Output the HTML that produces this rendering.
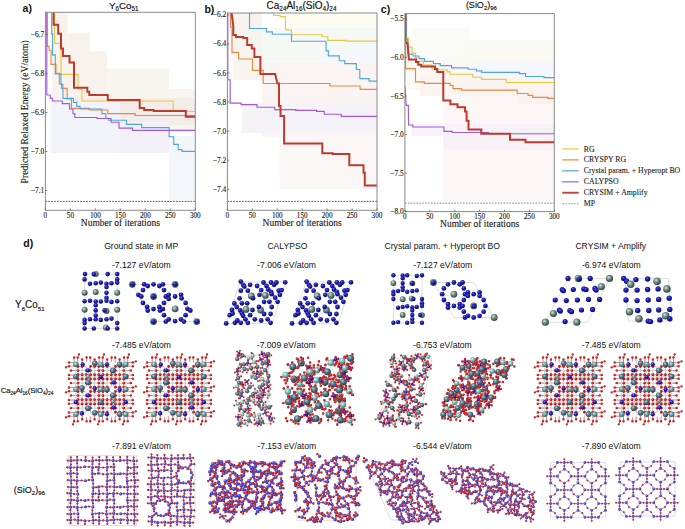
<!DOCTYPE html><html><head><meta charset="utf-8"><style>html,body{margin:0;padding:0;background:#fff;width:685px;height:529px;overflow:hidden;position:relative}</style></head><body><svg width="685" height="529" viewBox="0 0 685 529" style="position:absolute;left:0;top:0">
<rect width="685" height="529" fill="#fff"/>
<clipPath id="clipa"><rect x="45.4" y="12.3" width="149.90" height="198.00"/></clipPath>
<g clip-path="url(#clipa)">
<rect x="52" y="12.3" width="15.60" height="119.70" fill="#f7f3ec" fill-opacity="1"/>
<rect x="67.6" y="32.7" width="22.40" height="99.30" fill="#f7f3ec" fill-opacity="1"/>
<rect x="90" y="51.5" width="17.00" height="80.50" fill="#f7f3ec" fill-opacity="1"/>
<rect x="107" y="68.5" width="62.00" height="63.50" fill="#f8f4ee" fill-opacity="1"/>
<rect x="169" y="89" width="26.30" height="43.00" fill="#f8f4ee" fill-opacity="1"/>
<rect x="70" y="98" width="125.30" height="27.00" fill="#f4ece9" fill-opacity="1"/>
<rect x="50.6" y="102" width="69.40" height="51.00" fill="#f3f4fa" fill-opacity="1"/>
<rect x="120" y="121" width="49.00" height="32.00" fill="#f3eff7" fill-opacity="1"/>
<rect x="169" y="136" width="26.30" height="64.00" fill="#f3f7fc" fill-opacity="1"/>
<rect x="52" y="70" width="18.00" height="32.00" fill="#f9f2ee" fill-opacity="1"/>
<path d="M54.5,12.3 V43.4 H61 V74.3 H78 V89.1 H82 V101 H173.2 V111.5 H195.3" fill="none" stroke="#e8c743" stroke-width="1.15" stroke-linejoin="miter"/>
<path d="M47.2,12.3 V46.3 H49.1 V50.2 H51 V64.4 H55.9 V73.2 H59.3 V83.8 H61.5 V88.4 H67.2 V99 H71.4 V108.3 H89.3 V110 H107.8 V113.6 H135.1 V115.5 H195.3" fill="none" stroke="#e8893f" stroke-width="1.15" stroke-linejoin="miter"/>
<path d="M51.7,12.3 V33.8 H52.5 V54.8 H55.3 V73.9 H60.9 V84.5 H62.9 V98.4 H73.4 V102.3 H76.7 V106.3 H80 V109 H101.9 V113.6 H105.8 V118.2 H108.5 V120.2 H126.4 V124.3 H141.6 V127.6 H169.2 V136.7 H173.7 V144.3 H178.2 V149.6 H182 V151.4 H195.3" fill="none" stroke="#4fa6df" stroke-width="1.15" stroke-linejoin="miter"/>
<path d="M46.8,12.3 V95 H50.3 V98.4 H52.3 V101 H62.2 V103.6 H69.5 V109 H73 V113.6 H74.8 V117.5 H97.2 V118.5 H111.1 V122.2 H119 V128.1 H132.4 V130.4 H195.3" fill="none" stroke="#a259d3" stroke-width="1.15" stroke-linejoin="miter"/>
<path d="M53.6,12.3 V24.7 H58.2 V33.8 H61 V48.5 H63 V55.9 H69.5 V62.5 H74 V87.8 H87.3 V91.7 H89.3 V95 H107.8 V100 H139.7 V108 H144.2 V110 H153.6 V111 H185.8 V116.8 H195.3" fill="none" stroke="#bd3a2e" stroke-width="2" stroke-linejoin="miter"/>
<line x1="45.4" y1="201.4" x2="195.3" y2="201.4" stroke="#333" stroke-width="0.8" stroke-dasharray="1.8 1.1"/>
</g>
<rect x="45.4" y="12.3" width="149.90" height="198.00" fill="none" stroke="#8a8a8a" stroke-width="1"/>
<line x1="45.4" y1="34.6" x2="47.4" y2="34.6" stroke="#555" stroke-width="0.7"/>
<text x="44.20" y="37.10" text-anchor="end" font-family='"Liberation Serif", serif' font-size="7.4" fill="#1a1a1a" stroke="#1a1a1a" stroke-width="0.12">−6.7</text>
<line x1="45.4" y1="73.5" x2="47.4" y2="73.5" stroke="#555" stroke-width="0.7"/>
<text x="44.20" y="76.00" text-anchor="end" font-family='"Liberation Serif", serif' font-size="7.4" fill="#1a1a1a" stroke="#1a1a1a" stroke-width="0.12">−6.8</text>
<line x1="45.4" y1="112.5" x2="47.4" y2="112.5" stroke="#555" stroke-width="0.7"/>
<text x="44.20" y="115.00" text-anchor="end" font-family='"Liberation Serif", serif' font-size="7.4" fill="#1a1a1a" stroke="#1a1a1a" stroke-width="0.12">−6.9</text>
<line x1="45.4" y1="151.5" x2="47.4" y2="151.5" stroke="#555" stroke-width="0.7"/>
<text x="44.20" y="154.00" text-anchor="end" font-family='"Liberation Serif", serif' font-size="7.4" fill="#1a1a1a" stroke="#1a1a1a" stroke-width="0.12">−7.0</text>
<line x1="45.4" y1="190.5" x2="47.4" y2="190.5" stroke="#555" stroke-width="0.7"/>
<text x="44.20" y="193.00" text-anchor="end" font-family='"Liberation Serif", serif' font-size="7.4" fill="#1a1a1a" stroke="#1a1a1a" stroke-width="0.12">−7.1</text>
<line x1="45.40" y1="210.3" x2="45.40" y2="208.3" stroke="#555" stroke-width="0.7"/>
<text x="45.40" y="217.7" text-anchor="middle" font-family='"Liberation Serif", serif' font-size="7.2" fill="#1a1a1a" stroke="#1a1a1a" stroke-width="0.12">0</text>
<line x1="70.38" y1="210.3" x2="70.38" y2="208.3" stroke="#555" stroke-width="0.7"/>
<text x="70.38" y="217.7" text-anchor="middle" font-family='"Liberation Serif", serif' font-size="7.2" fill="#1a1a1a" stroke="#1a1a1a" stroke-width="0.12">50</text>
<line x1="95.37" y1="210.3" x2="95.37" y2="208.3" stroke="#555" stroke-width="0.7"/>
<text x="95.37" y="217.7" text-anchor="middle" font-family='"Liberation Serif", serif' font-size="7.2" fill="#1a1a1a" stroke="#1a1a1a" stroke-width="0.12">100</text>
<line x1="120.35" y1="210.3" x2="120.35" y2="208.3" stroke="#555" stroke-width="0.7"/>
<text x="120.35" y="217.7" text-anchor="middle" font-family='"Liberation Serif", serif' font-size="7.2" fill="#1a1a1a" stroke="#1a1a1a" stroke-width="0.12">150</text>
<line x1="145.33" y1="210.3" x2="145.33" y2="208.3" stroke="#555" stroke-width="0.7"/>
<text x="145.33" y="217.7" text-anchor="middle" font-family='"Liberation Serif", serif' font-size="7.2" fill="#1a1a1a" stroke="#1a1a1a" stroke-width="0.12">200</text>
<line x1="170.32" y1="210.3" x2="170.32" y2="208.3" stroke="#555" stroke-width="0.7"/>
<text x="170.32" y="217.7" text-anchor="middle" font-family='"Liberation Serif", serif' font-size="7.2" fill="#1a1a1a" stroke="#1a1a1a" stroke-width="0.12">250</text>
<line x1="195.30" y1="210.3" x2="195.30" y2="208.3" stroke="#555" stroke-width="0.7"/>
<text x="195.30" y="217.7" text-anchor="middle" font-family='"Liberation Serif", serif' font-size="7.2" fill="#1a1a1a" stroke="#1a1a1a" stroke-width="0.12">300</text>
<text x="120.35" y="225.8" text-anchor="middle" font-family='"Liberation Serif", serif' font-size="9.5" fill="#1a1a1a" stroke="#1a1a1a" stroke-width="0.12">Number of iterations</text>
<clipPath id="clipb"><rect x="227.4" y="13.0" width="149.60" height="197.30"/></clipPath>
<g clip-path="url(#clipb)">
<rect x="287" y="13" width="90.00" height="35.60" fill="#fcfcf0" fill-opacity="1"/>
<rect x="249.5" y="28" width="127.50" height="33.70" fill="#f5f9f6" fill-opacity="1"/>
<rect x="326" y="50" width="51.00" height="34.00" fill="#f4f7fc" fill-opacity="1"/>
<rect x="231" y="13" width="31.00" height="49.00" fill="#f7f3ef" fill-opacity="1"/>
<rect x="262" y="62" width="115.00" height="74.60" fill="#faf4f3" fill-opacity="1"/>
<rect x="242" y="103" width="135.00" height="30.00" fill="#f5f2f8" fill-opacity="1"/>
<rect x="279.5" y="136.6" width="97.50" height="52.40" fill="#fcf7f7" fill-opacity="1"/>
<rect x="232.6" y="50.5" width="29.40" height="29.50" fill="#faf4ef" fill-opacity="1"/>
<path d="M273.6,13 V15.3 H280.2 V16.6 H285.5 V29.8 H291.5 V34.7 H322.3 V36.7 H327.8 V40.3 H346.1 V41.1 H377" fill="none" stroke="#e8c743" stroke-width="1.15" stroke-linejoin="miter"/>
<path d="M230.6,13 V27.2 H232 V52.3 H238.6 V59 H252.5 V70.4 H263.2 V83.5 H330 V86 H360.1 V89.4 H377" fill="none" stroke="#e8893f" stroke-width="1.15" stroke-linejoin="miter"/>
<path d="M249.5,13 V28.5 H266.3 V31.8 H272.3 V34.2 H291.5 V41.2 H326.1 V50.8 H328.3 V55.9 H339.3 V60.7 H344.8 V63.6 H356.3 V69.5 H359.8 V78.6 H369.1 V81.1 H377" fill="none" stroke="#4fa6df" stroke-width="1.15" stroke-linejoin="miter"/>
<path d="M227.8,13 V79.7 H230.2 V103.1 H241.1 V104.6 H257 V107.2 H274.7 V109.6 H295.8 V110.4 H316.6 V111.3 H324.2 V114.2 H341.2 V116.4 H377" fill="none" stroke="#a259d3" stroke-width="1.15" stroke-linejoin="miter"/>
<path d="M231.6,13 L233.3,25.9 V35.1 H235.9 V37.1 H243.2 V38 H247.2 V45 H251.8 V48.4 H254.4 V57 H260.4 V73.9 H275.2 L277.4,83.4 H279 V105.9 H280.5 V116 H284.1 V143.5 H322.3 V153.3 H332.7 V154 H349.3 V165.2 H363.5 V172.8 H364.8 V185.6 H377" fill="none" stroke="#bd3a2e" stroke-width="2" stroke-linejoin="miter"/>
<line x1="227.4" y1="201.4" x2="377.0" y2="201.4" stroke="#333" stroke-width="0.8" stroke-dasharray="1.8 1.1"/>
</g>
<rect x="227.4" y="13.0" width="149.60" height="197.30" fill="none" stroke="#8a8a8a" stroke-width="1"/>
<line x1="227.4" y1="14.9" x2="229.4" y2="14.9" stroke="#555" stroke-width="0.7"/>
<text x="226.20" y="17.40" text-anchor="end" font-family='"Liberation Serif", serif' font-size="7.4" fill="#1a1a1a" stroke="#1a1a1a" stroke-width="0.12">−6.2</text>
<line x1="227.4" y1="43.95" x2="229.4" y2="43.95" stroke="#555" stroke-width="0.7"/>
<text x="226.20" y="46.45" text-anchor="end" font-family='"Liberation Serif", serif' font-size="7.4" fill="#1a1a1a" stroke="#1a1a1a" stroke-width="0.12">−6.4</text>
<line x1="227.4" y1="73.0" x2="229.4" y2="73.0" stroke="#555" stroke-width="0.7"/>
<text x="226.20" y="75.50" text-anchor="end" font-family='"Liberation Serif", serif' font-size="7.4" fill="#1a1a1a" stroke="#1a1a1a" stroke-width="0.12">−6.6</text>
<line x1="227.4" y1="102.05" x2="229.4" y2="102.05" stroke="#555" stroke-width="0.7"/>
<text x="226.20" y="104.55" text-anchor="end" font-family='"Liberation Serif", serif' font-size="7.4" fill="#1a1a1a" stroke="#1a1a1a" stroke-width="0.12">−6.8</text>
<line x1="227.4" y1="131.1" x2="229.4" y2="131.1" stroke="#555" stroke-width="0.7"/>
<text x="226.20" y="133.60" text-anchor="end" font-family='"Liberation Serif", serif' font-size="7.4" fill="#1a1a1a" stroke="#1a1a1a" stroke-width="0.12">−7.0</text>
<line x1="227.4" y1="160.15" x2="229.4" y2="160.15" stroke="#555" stroke-width="0.7"/>
<text x="226.20" y="162.65" text-anchor="end" font-family='"Liberation Serif", serif' font-size="7.4" fill="#1a1a1a" stroke="#1a1a1a" stroke-width="0.12">−7.2</text>
<line x1="227.4" y1="189.2" x2="229.4" y2="189.2" stroke="#555" stroke-width="0.7"/>
<text x="226.20" y="191.70" text-anchor="end" font-family='"Liberation Serif", serif' font-size="7.4" fill="#1a1a1a" stroke="#1a1a1a" stroke-width="0.12">−7.4</text>
<line x1="227.40" y1="210.3" x2="227.40" y2="208.3" stroke="#555" stroke-width="0.7"/>
<text x="227.40" y="217.7" text-anchor="middle" font-family='"Liberation Serif", serif' font-size="7.2" fill="#1a1a1a" stroke="#1a1a1a" stroke-width="0.12">0</text>
<line x1="252.33" y1="210.3" x2="252.33" y2="208.3" stroke="#555" stroke-width="0.7"/>
<text x="252.33" y="217.7" text-anchor="middle" font-family='"Liberation Serif", serif' font-size="7.2" fill="#1a1a1a" stroke="#1a1a1a" stroke-width="0.12">50</text>
<line x1="277.27" y1="210.3" x2="277.27" y2="208.3" stroke="#555" stroke-width="0.7"/>
<text x="277.27" y="217.7" text-anchor="middle" font-family='"Liberation Serif", serif' font-size="7.2" fill="#1a1a1a" stroke="#1a1a1a" stroke-width="0.12">100</text>
<line x1="302.20" y1="210.3" x2="302.20" y2="208.3" stroke="#555" stroke-width="0.7"/>
<text x="302.20" y="217.7" text-anchor="middle" font-family='"Liberation Serif", serif' font-size="7.2" fill="#1a1a1a" stroke="#1a1a1a" stroke-width="0.12">150</text>
<line x1="327.13" y1="210.3" x2="327.13" y2="208.3" stroke="#555" stroke-width="0.7"/>
<text x="327.13" y="217.7" text-anchor="middle" font-family='"Liberation Serif", serif' font-size="7.2" fill="#1a1a1a" stroke="#1a1a1a" stroke-width="0.12">200</text>
<line x1="352.07" y1="210.3" x2="352.07" y2="208.3" stroke="#555" stroke-width="0.7"/>
<text x="352.07" y="217.7" text-anchor="middle" font-family='"Liberation Serif", serif' font-size="7.2" fill="#1a1a1a" stroke="#1a1a1a" stroke-width="0.12">250</text>
<line x1="377.00" y1="210.3" x2="377.00" y2="208.3" stroke="#555" stroke-width="0.7"/>
<text x="377.00" y="217.7" text-anchor="middle" font-family='"Liberation Serif", serif' font-size="7.2" fill="#1a1a1a" stroke="#1a1a1a" stroke-width="0.12">300</text>
<text x="302.20" y="226.0" text-anchor="middle" font-family='"Liberation Serif", serif' font-size="9.5" fill="#1a1a1a" stroke="#1a1a1a" stroke-width="0.12">Number of iterations</text>
<clipPath id="clipc"><rect x="404.9" y="13.6" width="149.40" height="198.00"/></clipPath>
<g clip-path="url(#clipc)">
<rect x="404.9" y="40" width="149.40" height="50.00" fill="#faf9f4" fill-opacity="1"/>
<rect x="412" y="28" width="58.00" height="32.00" fill="#fafaf7" fill-opacity="1"/>
<rect x="443.5" y="63.8" width="110.80" height="137.20" fill="#fcf7f6" fill-opacity="1"/>
<rect x="472" y="62" width="82.30" height="14.00" fill="#f4f8fc" fill-opacity="1"/>
<rect x="411.5" y="124" width="32.00" height="12.00" fill="#f7f4f9" fill-opacity="1"/>
<rect x="443.5" y="124" width="110.80" height="26.00" fill="#f6f2f7" fill-opacity="1"/>
<rect x="420" y="75" width="134.30" height="21.00" fill="#faf5f0" fill-opacity="1"/>
<rect x="518" y="90" width="36.30" height="14.00" fill="#f9f2ee" fill-opacity="1"/>
<path d="M406.6,13.6 V38.1 H408.4 V47.1 H412.1 V53.4 H415.5 V57.4 H416.6 V61.3 H423.6 V65.1 H431.9 V68.9 H438 V69.7 H447.1 V71.9 H450.1 V74.2 H472.8 V77.2 H481.7 V79.4 H506.2 V82.5 H554.3" fill="none" stroke="#e8c743" stroke-width="1.15" stroke-linejoin="miter"/>
<path d="M405.6,13.6 V68.6 H415.5 V81.8 H424.3 V83.3 H450.1 V85.5 H453.1 V88.6 H461.4 V90.1 H517.2 V93.5 H528 V95.4 H532.7 V97.3 H547.8 V98.4 H554.3" fill="none" stroke="#e8893f" stroke-width="1.15" stroke-linejoin="miter"/>
<path d="M406.2,13.6 V39.2 H407.5 V41.5 H408 V54.2 H413 V56 H419 V58.6 H424.4 V61.3 H433.4 V63.6 H440.2 V65.6 H451.6 V67.9 H468.2 V69.2 H476.6 V70.8 H481.7 V72.3 H519.5 V73.6 H525.5 V76.5 H544 V77.6 H554.3" fill="none" stroke="#4fa6df" stroke-width="1.15" stroke-linejoin="miter"/>
<path d="M404.9,86.2 L406.2,105.3 H408.3 L408.6,125 H412.9 V127 H443.9 V131.4 H452.2 V132.5 H488.3 V133.7 H554.3" fill="none" stroke="#a259d3" stroke-width="1.15" stroke-linejoin="miter"/>
<path d="M405.3,13.6 V41.5 L407.5,43.7 L408.2,50.6 L408.9,59.6 H416 V62.1 H418.3 V64.7 H421.3 V66.6 H435 V68.9 H437.2 V71.9 H443.3 V100.4 H450.4 V104.2 H457.5 V107.2 H465 V111.6 H466.6 V120.8 H468.5 V129.6 H481.3 V133.7 H510 V139.8 H525.5 V142.2 H554.3" fill="none" stroke="#bd3a2e" stroke-width="2" stroke-linejoin="miter"/>
<line x1="404.9" y1="203.1" x2="554.3" y2="203.1" stroke="#777" stroke-width="0.8" stroke-dasharray="1.8 1.1"/>
</g>
<rect x="404.9" y="13.6" width="149.40" height="198.00" fill="none" stroke="#8a8a8a" stroke-width="1"/>
<line x1="404.9" y1="18.8" x2="406.9" y2="18.8" stroke="#555" stroke-width="0.7"/>
<text x="403.70" y="21.30" text-anchor="end" font-family='"Liberation Serif", serif' font-size="7.4" fill="#1a1a1a" stroke="#1a1a1a" stroke-width="0.12">−5.5</text>
<line x1="404.9" y1="57.3" x2="406.9" y2="57.3" stroke="#555" stroke-width="0.7"/>
<text x="403.70" y="59.80" text-anchor="end" font-family='"Liberation Serif", serif' font-size="7.4" fill="#1a1a1a" stroke="#1a1a1a" stroke-width="0.12">−6.0</text>
<line x1="404.9" y1="96.0" x2="406.9" y2="96.0" stroke="#555" stroke-width="0.7"/>
<text x="403.70" y="98.50" text-anchor="end" font-family='"Liberation Serif", serif' font-size="7.4" fill="#1a1a1a" stroke="#1a1a1a" stroke-width="0.12">−6.5</text>
<line x1="404.9" y1="134.6" x2="406.9" y2="134.6" stroke="#555" stroke-width="0.7"/>
<text x="403.70" y="137.10" text-anchor="end" font-family='"Liberation Serif", serif' font-size="7.4" fill="#1a1a1a" stroke="#1a1a1a" stroke-width="0.12">−7.0</text>
<line x1="404.9" y1="173.1" x2="406.9" y2="173.1" stroke="#555" stroke-width="0.7"/>
<text x="403.70" y="175.60" text-anchor="end" font-family='"Liberation Serif", serif' font-size="7.4" fill="#1a1a1a" stroke="#1a1a1a" stroke-width="0.12">−7.5</text>
<line x1="404.9" y1="211.6" x2="406.9" y2="211.6" stroke="#555" stroke-width="0.7"/>
<text x="403.70" y="214.10" text-anchor="end" font-family='"Liberation Serif", serif' font-size="7.4" fill="#1a1a1a" stroke="#1a1a1a" stroke-width="0.12">−8.0</text>
<line x1="404.90" y1="211.6" x2="404.90" y2="209.6" stroke="#555" stroke-width="0.7"/>
<text x="404.90" y="219.0" text-anchor="middle" font-family='"Liberation Serif", serif' font-size="7.2" fill="#1a1a1a" stroke="#1a1a1a" stroke-width="0.12">0</text>
<line x1="429.80" y1="211.6" x2="429.80" y2="209.6" stroke="#555" stroke-width="0.7"/>
<text x="429.80" y="219.0" text-anchor="middle" font-family='"Liberation Serif", serif' font-size="7.2" fill="#1a1a1a" stroke="#1a1a1a" stroke-width="0.12">50</text>
<line x1="454.70" y1="211.6" x2="454.70" y2="209.6" stroke="#555" stroke-width="0.7"/>
<text x="454.70" y="219.0" text-anchor="middle" font-family='"Liberation Serif", serif' font-size="7.2" fill="#1a1a1a" stroke="#1a1a1a" stroke-width="0.12">100</text>
<line x1="479.60" y1="211.6" x2="479.60" y2="209.6" stroke="#555" stroke-width="0.7"/>
<text x="479.60" y="219.0" text-anchor="middle" font-family='"Liberation Serif", serif' font-size="7.2" fill="#1a1a1a" stroke="#1a1a1a" stroke-width="0.12">150</text>
<line x1="504.50" y1="211.6" x2="504.50" y2="209.6" stroke="#555" stroke-width="0.7"/>
<text x="504.50" y="219.0" text-anchor="middle" font-family='"Liberation Serif", serif' font-size="7.2" fill="#1a1a1a" stroke="#1a1a1a" stroke-width="0.12">200</text>
<line x1="529.40" y1="211.6" x2="529.40" y2="209.6" stroke="#555" stroke-width="0.7"/>
<text x="529.40" y="219.0" text-anchor="middle" font-family='"Liberation Serif", serif' font-size="7.2" fill="#1a1a1a" stroke="#1a1a1a" stroke-width="0.12">250</text>
<line x1="554.30" y1="211.6" x2="554.30" y2="209.6" stroke="#555" stroke-width="0.7"/>
<text x="554.30" y="219.0" text-anchor="middle" font-family='"Liberation Serif", serif' font-size="7.2" fill="#1a1a1a" stroke="#1a1a1a" stroke-width="0.12">300</text>
<text x="479.60" y="227.3" text-anchor="middle" font-family='"Liberation Serif", serif' font-size="9.5" fill="#1a1a1a" stroke="#1a1a1a" stroke-width="0.12">Number of iterations</text>
<text x="123.7" y="8.7" text-anchor="middle" font-family='"Liberation Sans", sans-serif' font-size="9.8" fill="#111" stroke="#111" stroke-width="0.15"><tspan dy="0">Y</tspan><tspan font-size="6.3" dy="2.2">6</tspan><tspan dy="-2.2">Co</tspan><tspan font-size="6.3" dy="2.2">51</tspan></text>
<text x="301.5" y="8.6" text-anchor="middle" font-family='"Liberation Sans", sans-serif' font-size="10" fill="#111" stroke="#111" stroke-width="0.15"><tspan dy="0">Ca</tspan><tspan font-size="6.4" dy="2.2">24</tspan><tspan dy="-2.2">Al</tspan><tspan font-size="6.4" dy="2.2">16</tspan><tspan dy="-2.2">(SiO</tspan><tspan font-size="6.4" dy="2.2">4</tspan><tspan dy="-2.2">)</tspan><tspan font-size="6.4" dy="2.2">24</tspan></text>
<text x="481.4" y="7.9" text-anchor="middle" font-family='"Liberation Sans", sans-serif' font-size="9" fill="#111" stroke="#111" stroke-width="0.15"><tspan dy="0">(SiO</tspan><tspan font-size="6" dy="2.0">2</tspan><tspan dy="-2.0">)</tspan><tspan font-size="6" dy="2.0">96</tspan></text>
<text x="22.6" y="12.2" font-family='"Liberation Sans", sans-serif' font-weight="bold" font-size="10.6" fill="#111">a)</text>
<text x="204.4" y="12.6" font-family='"Liberation Sans", sans-serif' font-weight="bold" font-size="10.6" fill="#111">b)</text>
<text x="380.8" y="12.6" font-family='"Liberation Sans", sans-serif' font-weight="bold" font-size="10.6" fill="#111">c)</text>
<text x="23.3" y="246.6" font-family='"Liberation Sans", sans-serif' font-weight="bold" font-size="10.6" fill="#111">d)</text>
<text transform="translate(28.0,111.8) rotate(-90)" text-anchor="middle" font-family='"Liberation Serif", serif' font-size="9.7" fill="#1a1a1a" stroke="#1a1a1a" stroke-width="0.12">Predicted Relaxed Energy (eV/atom)</text>
<line x1="562.2" y1="148.90" x2="578.7" y2="148.90" stroke="#e8c743" stroke-width="1.6" stroke-opacity="0.75"/>
<text x="583.8" y="151.50" font-family='"Liberation Serif", serif' font-size="7.8" fill="#1a1a1a" stroke="#1a1a1a" stroke-width="0.1">RG</text>
<line x1="562.2" y1="159.86" x2="578.7" y2="159.86" stroke="#e8893f" stroke-width="1.6" stroke-opacity="0.75"/>
<text x="583.8" y="162.46" font-family='"Liberation Serif", serif' font-size="7.8" fill="#1a1a1a" stroke="#1a1a1a" stroke-width="0.1">CRYSPY RG</text>
<line x1="562.2" y1="170.82" x2="578.7" y2="170.82" stroke="#4fa6df" stroke-width="1.6" stroke-opacity="0.75"/>
<text x="583.8" y="173.42" font-family='"Liberation Serif", serif' font-size="7.8" fill="#1a1a1a" stroke="#1a1a1a" stroke-width="0.1">Crystal param. + Hyperopt BO</text>
<line x1="562.2" y1="181.78" x2="578.7" y2="181.78" stroke="#a259d3" stroke-width="1.6" stroke-opacity="0.75"/>
<text x="583.8" y="184.38" font-family='"Liberation Serif", serif' font-size="7.8" fill="#1a1a1a" stroke="#1a1a1a" stroke-width="0.1">CALYPSO</text>
<line x1="562.2" y1="192.74" x2="578.7" y2="192.74" stroke="#bd3a2e" stroke-width="1.9" stroke-opacity="0.95"/>
<text x="583.8" y="195.34" font-family='"Liberation Serif", serif' font-size="7.8" fill="#1a1a1a" stroke="#1a1a1a" stroke-width="0.1">CRYSIM + Amplify</text>
<line x1="562.2" y1="203.70" x2="578.7" y2="203.70" stroke="#888" stroke-width="0.8" stroke-dasharray="1.8 1.1"/>
<text x="583.8" y="206.30" font-family='"Liberation Serif", serif' font-size="7.8" fill="#1a1a1a" stroke="#1a1a1a" stroke-width="0.1">MP</text>
<text x="141.2" y="249.2" text-anchor="middle" font-family='"Liberation Sans", sans-serif' font-size="8.6" fill="#111">Ground state in MP</text>
<text x="287.4" y="249.2" text-anchor="middle" font-family='"Liberation Sans", sans-serif' font-size="8.6" fill="#111">CALYPSO</text>
<text x="442.2" y="249.2" text-anchor="middle" font-family='"Liberation Sans", sans-serif' font-size="8.6" fill="#111">Crystal param. + Hyperopt BO</text>
<text x="610.8" y="249.2" text-anchor="middle" font-family='"Liberation Sans", sans-serif' font-size="8.6" fill="#111">CRYSIM + Amplify</text>
<text x="141.3" y="268.0" text-anchor="middle" font-family='"Liberation Sans", sans-serif' font-size="8.6" fill="#111">-7.127 eV/atom</text>
<text x="286.5" y="268.0" text-anchor="middle" font-family='"Liberation Sans", sans-serif' font-size="8.6" fill="#111">-7.006 eV/atom</text>
<text x="442.7" y="268.0" text-anchor="middle" font-family='"Liberation Sans", sans-serif' font-size="8.6" fill="#111">-7.127 eV/atom</text>
<text x="611.3" y="268.0" text-anchor="middle" font-family='"Liberation Sans", sans-serif' font-size="8.6" fill="#111">-6.974 eV/atom</text>
<text x="141.5" y="348.0" text-anchor="middle" font-family='"Liberation Sans", sans-serif' font-size="8.6" fill="#111">-7.485 eV/atom</text>
<text x="286.2" y="348.0" text-anchor="middle" font-family='"Liberation Sans", sans-serif' font-size="8.6" fill="#111">-7.009 eV/atom</text>
<text x="442.4" y="348.0" text-anchor="middle" font-family='"Liberation Sans", sans-serif' font-size="8.6" fill="#111">-6.753 eV/atom</text>
<text x="611.2" y="348.0" text-anchor="middle" font-family='"Liberation Sans", sans-serif' font-size="8.6" fill="#111">-7.485 eV/atom</text>
<text x="141.5" y="448.5" text-anchor="middle" font-family='"Liberation Sans", sans-serif' font-size="8.6" fill="#111">-7.891 eV/atom</text>
<text x="286.7" y="448.5" text-anchor="middle" font-family='"Liberation Sans", sans-serif' font-size="8.6" fill="#111">-7.153 eV/atom</text>
<text x="442.4" y="448.5" text-anchor="middle" font-family='"Liberation Sans", sans-serif' font-size="8.6" fill="#111">-6.544 eV/atom</text>
<text x="611.2" y="448.5" text-anchor="middle" font-family='"Liberation Sans", sans-serif' font-size="8.6" fill="#111">-7.890 eV/atom</text>
<text x="15.0" y="308.4" text-anchor="start" font-family='"Liberation Sans", sans-serif' font-size="10" fill="#111" stroke="#111" stroke-width="0.15"><tspan dy="0">Y</tspan><tspan font-size="6" dy="2.2">6</tspan><tspan dy="-2.2">Co</tspan><tspan font-size="6" dy="2.2">51</tspan></text>
<text x="0.8" y="392.7" text-anchor="start" font-family='"Liberation Sans", sans-serif' font-size="7.6" fill="#111" stroke="#111" stroke-width="0.15"><tspan dy="0">Ca</tspan><tspan font-size="4.7" dy="1.8">24</tspan><tspan dy="-1.8">Al</tspan><tspan font-size="4.7" dy="1.8">16</tspan><tspan dy="-1.8">(SiO</tspan><tspan font-size="4.7" dy="1.8">4</tspan><tspan dy="-1.8">)</tspan><tspan font-size="4.7" dy="1.8">24</tspan></text>
<text x="13.8" y="493.0" text-anchor="start" font-family='"Liberation Sans", sans-serif' font-size="9" fill="#111" stroke="#111" stroke-width="0.15"><tspan dy="0">(SiO</tspan><tspan font-size="6" dy="2.0">2</tspan><tspan dy="-2.0">)</tspan><tspan font-size="6" dy="2.0">96</tspan></text>
<defs>
<radialGradient id="gB" cx="0.4" cy="0.33" r="0.68"><stop offset="0" stop-color="#6a6af0"/><stop offset="0.35" stop-color="#2222b8"/><stop offset="1" stop-color="#08085a"/></radialGradient>
<radialGradient id="gG" cx="0.38" cy="0.35" r="0.65"><stop offset="0" stop-color="#d6e4de"/><stop offset="0.4" stop-color="#78968c"/><stop offset="1" stop-color="#2c463e"/></radialGradient>
<radialGradient id="gR" cx="0.38" cy="0.35" r="0.65"><stop offset="0" stop-color="#ff9a9a"/><stop offset="0.4" stop-color="#d42a2a"/><stop offset="1" stop-color="#7a0808"/></radialGradient>
<radialGradient id="gS" cx="0.38" cy="0.35" r="0.65"><stop offset="0" stop-color="#a8a8ff"/><stop offset="0.4" stop-color="#4a54d8"/><stop offset="1" stop-color="#1c2288"/></radialGradient>
<radialGradient id="gT" cx="0.38" cy="0.35" r="0.65"><stop offset="0" stop-color="#e0ffff"/><stop offset="0.4" stop-color="#8cc8c8"/><stop offset="1" stop-color="#3c7c7c"/></radialGradient>
<radialGradient id="gT2" cx="0.38" cy="0.35" r="0.65"><stop offset="0" stop-color="#c8f0f0"/><stop offset="0.4" stop-color="#70aaaa"/><stop offset="1" stop-color="#2e6464"/></radialGradient>
<radialGradient id="gL" cx="0.38" cy="0.35" r="0.65"><stop offset="0" stop-color="#b8d0dc"/><stop offset="0.4" stop-color="#5a7e90"/><stop offset="1" stop-color="#24404e"/></radialGradient>
</defs>
<path d="M84.6,274.1 L117.2,274.1 L117.2,328.5 L84.6,328.5 Z" fill="none" stroke="#c8c8c8" stroke-width="0.6"/>
<path d="M132.3,284.3 L175.1,284.3 L196.7,321.6 L153.5,321.6 Z" fill="none" stroke="#c8c8c8" stroke-width="0.6"/>
<path d="M240.2,281.9 L285.7,281.9 L272.3,323.4 L226.2,323.4 Z" fill="none" stroke="#c8c8c8" stroke-width="0.6"/>
<path d="M306.0,281.9 L351.5,281.9 L338.1,323.4 L292.0,323.4 Z" fill="none" stroke="#c8c8c8" stroke-width="0.6"/>
<path d="M393.4,275.2 L422.0,275.2 L422.0,323.0 L393.4,323.0 Z" fill="none" stroke="#c8c8c8" stroke-width="0.6"/>
<path d="M433.4,282.5 L473.7,282.5 L494.2,317.5 L453.9,317.5 Z" fill="none" stroke="#c8c8c8" stroke-width="0.6"/>
<path d="M568.0,278.4 L610.1,278.4 L587.3,322.2 L545.3,322.2 Z" fill="none" stroke="#c8c8c8" stroke-width="0.6"/>
<path d="M624.9,278.4 L668.1,278.4 L672.2,321.1 L628.4,321.1 Z" fill="none" stroke="#c8c8c8" stroke-width="0.6"/>
<use href="#gG300" x="95.7" y="274.1"/>
<use href="#gG300" x="84.6" y="292.7"/>
<use href="#gG300" x="95.7" y="292.1"/>
<use href="#gG300" x="117.2" y="292.7"/>
<use href="#gG300" x="84.6" y="309.8"/>
<use href="#gG300" x="106.5" y="311.0"/>
<use href="#gG300" x="117.2" y="309.8"/>
<use href="#gG300" x="105.8" y="327.5"/>
<use href="#gB230" x="85.0" y="274.1"/>
<use href="#gB230" x="93.8" y="274.1"/>
<use href="#gB230" x="107.7" y="274.1"/>
<use href="#gB230" x="117.2" y="274.1"/>
<use href="#gB230" x="84.6" y="279.4"/>
<use href="#gB230" x="117.2" y="279.4"/>
<use href="#gB230" x="90.0" y="283.8"/>
<use href="#gB230" x="95.7" y="283.2"/>
<use href="#gB230" x="100.8" y="282.6"/>
<use href="#gB230" x="106.5" y="283.8"/>
<use href="#gB230" x="111.5" y="283.2"/>
<use href="#gB230" x="117.2" y="282.6"/>
<use href="#gB230" x="106.5" y="287.0"/>
<use href="#gB230" x="106.5" y="292.7"/>
<use href="#gB230" x="106.5" y="297.7"/>
<use href="#gB230" x="84.6" y="301.2"/>
<use href="#gB230" x="90.0" y="300.7"/>
<use href="#gB230" x="95.7" y="301.5"/>
<use href="#gB230" x="100.8" y="301.5"/>
<use href="#gB230" x="106.5" y="300.7"/>
<use href="#gB230" x="111.5" y="301.9"/>
<use href="#gB230" x="117.2" y="301.2"/>
<use href="#gB230" x="95.7" y="305.3"/>
<use href="#gB230" x="95.7" y="310.4"/>
<use href="#gB230" x="104.6" y="310.4"/>
<use href="#gB230" x="95.7" y="315.5"/>
<use href="#gB230" x="84.6" y="319.9"/>
<use href="#gB230" x="90.0" y="319.3"/>
<use href="#gB230" x="95.7" y="319.3"/>
<use href="#gB230" x="100.8" y="319.9"/>
<use href="#gB230" x="106.5" y="319.3"/>
<use href="#gB230" x="111.5" y="318.6"/>
<use href="#gB230" x="84.6" y="323.1"/>
<use href="#gB230" x="117.2" y="323.1"/>
<use href="#gB230" x="84.6" y="328.5"/>
<use href="#gB230" x="93.8" y="328.5"/>
<use href="#gB230" x="107.7" y="328.5"/>
<use href="#gB230" x="117.2" y="328.5"/>
<use href="#gG340" x="132.3" y="284.3"/>
<use href="#gG340" x="175.1" y="284.3"/>
<use href="#gG340" x="153.5" y="296.5"/>
<use href="#gG340" x="175.1" y="308.8"/>
<use href="#gG340" x="153.5" y="321.6"/>
<use href="#gG340" x="196.7" y="321.6"/>
<use href="#gB240" x="132.3" y="284.3"/>
<use href="#gB240" x="175.1" y="284.3"/>
<use href="#gB240" x="153.5" y="296.5"/>
<use href="#gB240" x="153.5" y="321.6"/>
<use href="#gB240" x="196.7" y="321.6"/>
<use href="#gB240" x="144.2" y="284.3"/>
<use href="#gB240" x="147.7" y="286.0"/>
<use href="#gB240" x="153.5" y="284.3"/>
<use href="#gB240" x="159.4" y="286.0"/>
<use href="#gB240" x="162.9" y="284.3"/>
<use href="#gB240" x="143.0" y="290.1"/>
<use href="#gB240" x="164.0" y="290.1"/>
<use href="#gB240" x="138.4" y="294.8"/>
<use href="#gB240" x="141.3" y="296.5"/>
<use href="#gB240" x="165.8" y="296.5"/>
<use href="#gB240" x="168.7" y="294.8"/>
<use href="#gB240" x="175.1" y="296.5"/>
<use href="#gB240" x="181.0" y="294.8"/>
<use href="#gB240" x="181.6" y="298.3"/>
<use href="#gB240" x="168.7" y="298.9"/>
<use href="#gB240" x="143.0" y="302.9"/>
<use href="#gB240" x="164.0" y="302.9"/>
<use href="#gB240" x="185.6" y="302.9"/>
<use href="#gB240" x="147.1" y="307.0"/>
<use href="#gB240" x="147.7" y="310.5"/>
<use href="#gB240" x="153.5" y="309.1"/>
<use href="#gB240" x="159.4" y="307.0"/>
<use href="#gB240" x="160.0" y="310.5"/>
<use href="#gB240" x="162.9" y="309.1"/>
<use href="#gB240" x="187.4" y="308.8"/>
<use href="#gB240" x="190.3" y="310.5"/>
<use href="#gB240" x="164.0" y="315.2"/>
<use href="#gB240" x="185.6" y="315.2"/>
<use href="#gB240" x="165.8" y="321.6"/>
<use href="#gB240" x="168.7" y="319.3"/>
<use href="#gB240" x="175.1" y="321.1"/>
<use href="#gB240" x="181.0" y="319.3"/>
<use href="#gB240" x="183.9" y="321.6"/>
<use href="#gG340" x="251.3" y="295.9"/>
<use href="#gG340" x="265.3" y="295.4"/>
<use href="#gG340" x="246.0" y="309.4"/>
<use href="#gG340" x="260.6" y="310.0"/>
<use href="#gB240" x="240.8" y="281.6"/>
<use href="#gB240" x="243.1" y="284.8"/>
<use href="#gB240" x="244.3" y="286.6"/>
<use href="#gB240" x="250.1" y="284.8"/>
<use href="#gB240" x="257.1" y="286.0"/>
<use href="#gB240" x="263.5" y="282.5"/>
<use href="#gB240" x="266.5" y="286.0"/>
<use href="#gB240" x="271.1" y="282.5"/>
<use href="#gB240" x="274.1" y="284.8"/>
<use href="#gB240" x="276.4" y="282.5"/>
<use href="#gB240" x="285.2" y="282.3"/>
<use href="#gB240" x="240.8" y="290.7"/>
<use href="#gB240" x="247.8" y="290.7"/>
<use href="#gB240" x="261.2" y="290.1"/>
<use href="#gB240" x="268.2" y="289.5"/>
<use href="#gB240" x="271.1" y="291.9"/>
<use href="#gB240" x="278.7" y="290.7"/>
<use href="#gB240" x="281.6" y="290.1"/>
<use href="#gB240" x="239.6" y="298.3"/>
<use href="#gB240" x="259.5" y="294.8"/>
<use href="#gB240" x="271.7" y="294.2"/>
<use href="#gB240" x="275.2" y="297.7"/>
<use href="#gB240" x="279.9" y="294.8"/>
<use href="#gB240" x="253.0" y="298.3"/>
<use href="#gB240" x="234.4" y="303.5"/>
<use href="#gB240" x="241.9" y="303.3"/>
<use href="#gB240" x="247.2" y="303.3"/>
<use href="#gB240" x="264.1" y="301.8"/>
<use href="#gB240" x="269.4" y="301.8"/>
<use href="#gB240" x="277.6" y="301.8"/>
<use href="#gB240" x="236.7" y="307.0"/>
<use href="#gB240" x="232.0" y="310.0"/>
<use href="#gB240" x="240.2" y="310.5"/>
<use href="#gB240" x="252.5" y="310.0"/>
<use href="#gB240" x="258.9" y="307.0"/>
<use href="#gB240" x="271.7" y="307.0"/>
<use href="#gB240" x="229.7" y="315.2"/>
<use href="#gB240" x="232.6" y="313.5"/>
<use href="#gB240" x="241.9" y="313.5"/>
<use href="#gB240" x="243.1" y="315.8"/>
<use href="#gB240" x="250.1" y="315.2"/>
<use href="#gB240" x="264.1" y="314.0"/>
<use href="#gB240" x="270.6" y="314.0"/>
<use href="#gB240" x="245.4" y="319.3"/>
<use href="#gB240" x="254.8" y="319.3"/>
<use href="#gB240" x="261.2" y="320.5"/>
<use href="#gB240" x="267.6" y="319.3"/>
<use href="#gB240" x="270.6" y="322.8"/>
<use href="#gB240" x="226.2" y="323.4"/>
<use href="#gB240" x="234.9" y="322.8"/>
<use href="#gB240" x="237.3" y="320.5"/>
<use href="#gB240" x="240.8" y="322.8"/>
<use href="#gB240" x="247.8" y="322.8"/>
<use href="#gG340" x="317.1" y="295.9"/>
<use href="#gG340" x="331.1" y="295.4"/>
<use href="#gG340" x="311.8" y="309.4"/>
<use href="#gG340" x="326.4" y="310.0"/>
<use href="#gB240" x="306.6" y="281.6"/>
<use href="#gB240" x="308.9" y="284.8"/>
<use href="#gB240" x="310.1" y="286.6"/>
<use href="#gB240" x="315.9" y="284.8"/>
<use href="#gB240" x="322.9" y="286.0"/>
<use href="#gB240" x="329.3" y="282.5"/>
<use href="#gB240" x="332.3" y="286.0"/>
<use href="#gB240" x="336.9" y="282.5"/>
<use href="#gB240" x="339.9" y="284.8"/>
<use href="#gB240" x="342.2" y="282.5"/>
<use href="#gB240" x="351.0" y="282.3"/>
<use href="#gB240" x="306.6" y="290.7"/>
<use href="#gB240" x="313.6" y="290.7"/>
<use href="#gB240" x="327.0" y="290.1"/>
<use href="#gB240" x="334.0" y="289.5"/>
<use href="#gB240" x="336.9" y="291.9"/>
<use href="#gB240" x="344.5" y="290.7"/>
<use href="#gB240" x="347.4" y="290.1"/>
<use href="#gB240" x="305.4" y="298.3"/>
<use href="#gB240" x="325.3" y="294.8"/>
<use href="#gB240" x="337.5" y="294.2"/>
<use href="#gB240" x="341.0" y="297.7"/>
<use href="#gB240" x="345.7" y="294.8"/>
<use href="#gB240" x="318.8" y="298.3"/>
<use href="#gB240" x="300.2" y="303.5"/>
<use href="#gB240" x="307.7" y="303.3"/>
<use href="#gB240" x="313.0" y="303.3"/>
<use href="#gB240" x="329.9" y="301.8"/>
<use href="#gB240" x="335.2" y="301.8"/>
<use href="#gB240" x="343.4" y="301.8"/>
<use href="#gB240" x="302.5" y="307.0"/>
<use href="#gB240" x="297.8" y="310.0"/>
<use href="#gB240" x="306.0" y="310.5"/>
<use href="#gB240" x="318.3" y="310.0"/>
<use href="#gB240" x="324.7" y="307.0"/>
<use href="#gB240" x="337.5" y="307.0"/>
<use href="#gB240" x="295.5" y="315.2"/>
<use href="#gB240" x="298.4" y="313.5"/>
<use href="#gB240" x="307.7" y="313.5"/>
<use href="#gB240" x="308.9" y="315.8"/>
<use href="#gB240" x="315.9" y="315.2"/>
<use href="#gB240" x="329.9" y="314.0"/>
<use href="#gB240" x="336.4" y="314.0"/>
<use href="#gB240" x="311.2" y="319.3"/>
<use href="#gB240" x="320.6" y="319.3"/>
<use href="#gB240" x="327.0" y="320.5"/>
<use href="#gB240" x="333.4" y="319.3"/>
<use href="#gB240" x="336.4" y="322.8"/>
<use href="#gB240" x="292.0" y="323.4"/>
<use href="#gB240" x="300.7" y="322.8"/>
<use href="#gB240" x="303.1" y="320.5"/>
<use href="#gB240" x="306.6" y="322.8"/>
<use href="#gB240" x="313.6" y="322.8"/>
<use href="#gG290" x="393.4" y="283.1"/>
<use href="#gG290" x="412.3" y="283.3"/>
<use href="#gG290" x="402.7" y="299.2"/>
<use href="#gG290" x="411.7" y="298.6"/>
<use href="#gG290" x="402.7" y="314.9"/>
<use href="#gG290" x="422.0" y="315.1"/>
<use href="#gB220" x="393.4" y="275.2"/>
<use href="#gB220" x="402.7" y="275.4"/>
<use href="#gB220" x="402.7" y="278.2"/>
<use href="#gB220" x="407.2" y="275.2"/>
<use href="#gB220" x="416.8" y="276.0"/>
<use href="#gB220" x="422.0" y="275.2"/>
<use href="#gB220" x="402.7" y="283.1"/>
<use href="#gB220" x="412.3" y="283.3"/>
<use href="#gB220" x="402.7" y="287.3"/>
<use href="#gB220" x="402.7" y="290.1"/>
<use href="#gB220" x="393.4" y="291.8"/>
<use href="#gB220" x="393.4" y="294.4"/>
<use href="#gB220" x="398.1" y="291.0"/>
<use href="#gB220" x="407.2" y="291.8"/>
<use href="#gB220" x="412.3" y="291.0"/>
<use href="#gB220" x="416.8" y="290.4"/>
<use href="#gB220" x="393.4" y="299.0"/>
<use href="#gB220" x="413.4" y="299.0"/>
<use href="#gB220" x="422.0" y="299.0"/>
<use href="#gB220" x="422.0" y="303.2"/>
<use href="#gB220" x="422.0" y="306.0"/>
<use href="#gB220" x="398.1" y="307.7"/>
<use href="#gB220" x="402.7" y="306.9"/>
<use href="#gB220" x="407.2" y="306.2"/>
<use href="#gB220" x="412.3" y="307.4"/>
<use href="#gB220" x="412.3" y="310.5"/>
<use href="#gB220" x="416.8" y="306.9"/>
<use href="#gB220" x="412.3" y="314.9"/>
<use href="#gB220" x="420.2" y="314.9"/>
<use href="#gB220" x="412.3" y="319.1"/>
<use href="#gB220" x="393.4" y="322.8"/>
<use href="#gB220" x="398.1" y="322.1"/>
<use href="#gB220" x="407.2" y="322.8"/>
<use href="#gB220" x="412.3" y="321.9"/>
<use href="#gB220" x="422.0" y="322.8"/>
<use href="#gG340" x="433.4" y="282.5"/>
<use href="#gG340" x="453.9" y="294.2"/>
<use href="#gG340" x="473.7" y="305.9"/>
<use href="#gG340" x="494.2" y="317.5"/>
<use href="#gB240" x="433.4" y="282.7"/>
<use href="#gB240" x="448.0" y="284.3"/>
<use href="#gB240" x="453.9" y="282.5"/>
<use href="#gB240" x="459.7" y="284.3"/>
<use href="#gB240" x="462.6" y="282.5"/>
<use href="#gB240" x="443.9" y="288.4"/>
<use href="#gB240" x="463.8" y="288.4"/>
<use href="#gB240" x="442.2" y="294.2"/>
<use href="#gB240" x="465.0" y="294.2"/>
<use href="#gB240" x="467.9" y="292.4"/>
<use href="#gB240" x="467.9" y="295.9"/>
<use href="#gB240" x="473.7" y="294.2"/>
<use href="#gB240" x="479.6" y="292.4"/>
<use href="#gB240" x="479.6" y="295.9"/>
<use href="#gB240" x="443.9" y="300.0"/>
<use href="#gB240" x="463.8" y="300.0"/>
<use href="#gB240" x="483.6" y="300.0"/>
<use href="#gB240" x="448.0" y="304.1"/>
<use href="#gB240" x="448.0" y="307.6"/>
<use href="#gB240" x="453.9" y="305.9"/>
<use href="#gB240" x="459.7" y="304.1"/>
<use href="#gB240" x="459.7" y="307.6"/>
<use href="#gB240" x="462.6" y="305.9"/>
<use href="#gB240" x="473.7" y="305.9"/>
<use href="#gB240" x="485.4" y="305.9"/>
<use href="#gB240" x="463.8" y="311.7"/>
<use href="#gB240" x="483.6" y="311.7"/>
<use href="#gB240" x="465.0" y="317.5"/>
<use href="#gB240" x="467.9" y="315.8"/>
<use href="#gB240" x="473.7" y="317.5"/>
<use href="#gB240" x="479.6" y="315.8"/>
<use href="#gG360" x="578.5" y="278.4"/>
<use href="#gG360" x="609.5" y="278.4"/>
<use href="#gG360" x="601.3" y="286.6"/>
<use href="#gG360" x="553.4" y="313.5"/>
<use href="#gG360" x="545.3" y="322.2"/>
<use href="#gG360" x="576.8" y="322.2"/>
<use href="#gB260" x="568.0" y="278.4"/>
<use href="#gB260" x="579.1" y="279.0"/>
<use href="#gB260" x="590.2" y="278.4"/>
<use href="#gB260" x="562.2" y="289.5"/>
<use href="#gB260" x="563.4" y="290.7"/>
<use href="#gB260" x="573.3" y="289.5"/>
<use href="#gB260" x="583.8" y="288.9"/>
<use href="#gB260" x="586.1" y="289.5"/>
<use href="#gB260" x="594.9" y="288.4"/>
<use href="#gB260" x="596.1" y="290.1"/>
<use href="#gB260" x="555.2" y="300.0"/>
<use href="#gB260" x="566.3" y="300.6"/>
<use href="#gB260" x="577.4" y="300.0"/>
<use href="#gB260" x="588.5" y="299.4"/>
<use href="#gB260" x="599.6" y="299.4"/>
<use href="#gB260" x="559.3" y="310.0"/>
<use href="#gB260" x="560.4" y="311.1"/>
<use href="#gB260" x="569.8" y="310.5"/>
<use href="#gB260" x="571.5" y="311.7"/>
<use href="#gB260" x="581.5" y="310.0"/>
<use href="#gB260" x="592.6" y="309.4"/>
<use href="#gB260" x="565.1" y="321.6"/>
<use href="#gB270" x="623.7" y="278.4"/>
<use href="#gB270" x="626.6" y="281.3"/>
<use href="#gB270" x="635.9" y="279.6"/>
<use href="#gG380" x="630.7" y="284.3"/>
<use href="#gG380" x="657.0" y="281.3"/>
<use href="#gG380" x="666.9" y="288.9"/>
<use href="#gG380" x="629.5" y="311.7"/>
<use href="#gG380" x="638.9" y="318.7"/>
<use href="#gG380" x="665.7" y="315.8"/>
<use href="#gB270" x="647.6" y="279.0"/>
<use href="#gB270" x="626.0" y="290.1"/>
<use href="#gB270" x="637.1" y="290.1"/>
<use href="#gB270" x="647.6" y="289.5"/>
<use href="#gB270" x="658.1" y="288.9"/>
<use href="#gB270" x="626.0" y="300.0"/>
<use href="#gB270" x="637.1" y="300.6"/>
<use href="#gB270" x="648.2" y="300.0"/>
<use href="#gB270" x="658.7" y="299.4"/>
<use href="#gB270" x="669.2" y="298.3"/>
<use href="#gB270" x="637.7" y="310.5"/>
<use href="#gB270" x="648.8" y="310.5"/>
<use href="#gB270" x="658.7" y="310.0"/>
<use href="#gB270" x="669.8" y="309.4"/>
<use href="#gB270" x="648.2" y="321.1"/>
<use href="#gB270" x="650.5" y="321.6"/>
<use href="#gB270" x="659.9" y="319.9"/>
<use href="#gB270" x="669.8" y="318.7"/>
<defs><radialGradient id="gN" cx="0.38" cy="0.35" r="0.65"><stop offset="0" stop-color="#8080ff"/><stop offset="0.4" stop-color="#2424c8"/><stop offset="1" stop-color="#0a0a70"/></radialGradient></defs>
<path d="M77.97,362.37V416.29M73.88,366.45H127.80M86.30,362.37V416.29M73.88,374.79H127.80M90.47,362.37V416.29M73.88,378.95H127.80M98.80,362.37V416.29M73.88,387.29H127.80M102.97,362.37V416.29M73.88,391.45H127.80M111.30,362.37V416.29M73.88,399.79H127.80M115.47,362.37V416.29M73.88,403.95H127.80M123.80,362.37V416.29M73.88,412.29H127.80" stroke="#d4a0a0" stroke-width="0.9" fill="none"/>
<path d="M75.88,361.37V417.29M72.88,364.37H128.80M82.13,361.37V417.29M72.88,370.62H128.80M88.38,361.37V417.29M72.88,376.87H128.80M94.63,361.37V417.29M72.88,383.12H128.80M100.88,361.37V417.29M72.88,389.37H128.80M107.13,361.37V417.29M72.88,395.62H128.80M113.38,361.37V417.29M72.88,401.87H128.80M119.63,361.37V417.29M72.88,408.12H128.80M125.88,361.37V417.29M72.88,414.37H128.80" stroke="#b4d2d6" stroke-width="0.9" fill="none"/>
<path d="M74.1 363.4l0-6M74.1 415.3l0 6M74.9 362.6l-6 0M126.8 362.6l6 0M77.7 363.4l0-6M77.7 415.3l0 6M74.9 366.2l-6 0M126.8 366.2l6 0M77.7 357.4l1.2-3M74.1 421.3l-1.2 3M68.9 366.2l-3 1.2M132.8 362.6l3-1.2M82.1 363.4l0-4M82.1 415.3l0 4M74.9 370.6l-4 0M126.8 370.6l4 0M86.6 363.4l0-6M86.6 415.3l0 6M74.9 375.1l-6 0M126.8 375.1l6 0M90.2 363.4l0-6M90.2 415.3l0 6M74.9 378.7l-6 0M126.8 378.7l6 0M94.6 363.4l0-4M94.6 415.3l0 4M74.9 383.1l-4 0M126.8 383.1l4 0M99.1 363.4l0-6M99.1 415.3l0 6M74.9 387.6l-6 0M126.8 387.6l6 0M102.7 363.4l0-6M102.7 415.3l0 6M74.9 391.2l-6 0M126.8 391.2l6 0M102.7 357.4l1.2-3M99.1 421.3l-1.2 3M68.9 391.2l-3 1.2M132.8 387.6l3-1.2M107.1 363.4l0-4M107.1 415.3l0 4M74.9 395.6l-4 0M126.8 395.6l4 0M111.6 363.4l0-6M111.6 415.3l0 6M74.9 400.1l-6 0M126.8 400.1l6 0M115.2 363.4l0-6M115.2 415.3l0 6M74.9 403.7l-6 0M126.8 403.7l6 0M119.6 363.4l0-4M119.6 415.3l0 4M74.9 408.1l-4 0M126.8 408.1l4 0M124.1 363.4l0-6M124.1 415.3l0 6M74.9 412.6l-6 0M126.8 412.6l6 0M127.7 363.4l0-6M127.7 415.3l0 6M74.9 416.2l-6 0M126.8 416.2l6 0M127.7 357.4l1.2-3M124.1 421.3l-1.2 3M68.9 416.2l-3 1.2M132.8 412.6l3-1.2" stroke="#c05050" stroke-width="0.7" fill="none" stroke-opacity="1"/>
<circle cx="88.0" cy="364.4" r="3.1" fill="#fdfdfd"/>
<circle cx="112.9" cy="364.4" r="3.1" fill="#fdfdfd"/>
<circle cx="88.0" cy="389.3" r="3.1" fill="#fdfdfd"/>
<circle cx="112.9" cy="389.3" r="3.1" fill="#fdfdfd"/>
<circle cx="88.0" cy="414.3" r="3.1" fill="#fdfdfd"/>
<circle cx="112.9" cy="414.3" r="3.1" fill="#fdfdfd"/>
<path d="M78 366.5h0M78 370.6h0M78 374.8h0M78 379h0M78 383.1h0M78 387.3h0M78 391.5h0M78 395.6h0M78 399.8h0M78 404h0M78 408.1h0M78 412.3h0M82.1 366.5h0M82.1 374.8h0M82.1 379h0M82.1 387.3h0M82.1 391.5h0M82.1 399.8h0M82.1 404h0M82.1 412.3h0M86.3 370.6h0M86.3 374.8h0M86.3 379h0M86.3 383.1h0M86.3 395.6h0M86.3 399.8h0M86.3 404h0M86.3 408.1h0M90.5 366.5h0M90.5 370.6h0M90.5 374.8h0M90.5 379h0M90.5 383.1h0M90.5 387.3h0M90.5 391.5h0M90.5 395.6h0M90.5 399.8h0M90.5 404h0M90.5 408.1h0M94.6 366.5h0M94.6 374.8h0M94.6 379h0M94.6 387.3h0M94.6 391.5h0M94.6 399.8h0M94.6 404h0M94.6 412.3h0M98.8 366.5h0M98.8 370.6h0M98.8 374.8h0M98.8 379h0M98.8 383.1h0M98.8 387.3h0M98.8 391.5h0M98.8 395.6h0M98.8 399.8h0M98.8 404h0M98.8 408.1h0M98.8 412.3h0M103 366.5h0M103 370.6h0M103 374.8h0M103 379h0M103 383.1h0M103 387.3h0M103 391.5h0M103 395.6h0M103 399.8h0M103 404h0M103 408.1h0M103 412.3h0M107.1 366.5h0M107.1 374.8h0M107.1 379h0M107.1 387.3h0M107.1 391.5h0M107.1 399.8h0M107.1 404h0M107.1 412.3h0M111.3 370.6h0M111.3 374.8h0M111.3 379h0M111.3 383.1h0M111.3 395.6h0M111.3 399.8h0M111.3 404h0M111.3 408.1h0M115.5 366.5h0M115.5 370.6h0M115.5 374.8h0M115.5 379h0M115.5 383.1h0M115.5 387.3h0M115.5 391.5h0M115.5 395.6h0M115.5 399.8h0M115.5 404h0M115.5 408.1h0M115.5 412.3h0M119.6 366.5h0M119.6 374.8h0M119.6 379h0M119.6 387.3h0M119.6 391.5h0M119.6 399.8h0M119.6 404h0M119.6 412.3h0M123.8 366.5h0M123.8 370.6h0M123.8 374.8h0M123.8 379h0M123.8 383.1h0M123.8 387.3h0M123.8 391.5h0M123.8 395.6h0M123.8 399.8h0M123.8 404h0M123.8 408.1h0M123.8 412.3h0" stroke="#c01818" stroke-width="2.90" stroke-linecap="round"/>
<path d="M77.5 366h0M77.5 370.2h0M77.5 374.3h0M77.5 378.5h0M77.5 382.7h0M77.5 386.8h0M77.5 391h0M77.5 395.2h0M77.5 399.3h0M77.5 403.5h0M77.5 407.7h0M77.5 411.8h0M81.7 366h0M81.7 374.3h0M81.7 378.5h0M81.7 386.8h0M81.7 391h0M81.7 399.3h0M81.7 403.5h0M81.7 411.8h0M85.8 370.2h0M85.8 374.3h0M85.8 378.5h0M85.8 382.7h0M85.8 395.2h0M85.8 399.3h0M85.8 403.5h0M85.8 407.7h0M90 366h0M90 370.2h0M90 374.3h0M90 378.5h0M90 382.7h0M90 386.8h0M90 391h0M90 395.2h0M90 399.3h0M90 403.5h0M90 407.7h0M94.2 366h0M94.2 374.3h0M94.2 378.5h0M94.2 386.8h0M94.2 391h0M94.2 399.3h0M94.2 403.5h0M94.2 411.8h0M98.3 366h0M98.3 370.2h0M98.3 374.3h0M98.3 378.5h0M98.3 382.7h0M98.3 386.8h0M98.3 391h0M98.3 395.2h0M98.3 399.3h0M98.3 403.5h0M98.3 407.7h0M98.3 411.8h0M102.5 366h0M102.5 370.2h0M102.5 374.3h0M102.5 378.5h0M102.5 382.7h0M102.5 386.8h0M102.5 391h0M102.5 395.2h0M102.5 399.3h0M102.5 403.5h0M102.5 407.7h0M102.5 411.8h0M106.7 366h0M106.7 374.3h0M106.7 378.5h0M106.7 386.8h0M106.7 391h0M106.7 399.3h0M106.7 403.5h0M106.7 411.8h0M110.8 370.2h0M110.8 374.3h0M110.8 378.5h0M110.8 382.7h0M110.8 395.2h0M110.8 399.3h0M110.8 403.5h0M110.8 407.7h0M115 366h0M115 370.2h0M115 374.3h0M115 378.5h0M115 382.7h0M115 386.8h0M115 391h0M115 395.2h0M115 399.3h0M115 403.5h0M115 407.7h0M115 411.8h0M119.2 366h0M119.2 374.3h0M119.2 378.5h0M119.2 386.8h0M119.2 391h0M119.2 399.3h0M119.2 403.5h0M119.2 411.8h0M123.3 366h0M123.3 370.2h0M123.3 374.3h0M123.3 378.5h0M123.3 382.7h0M123.3 386.8h0M123.3 391h0M123.3 395.2h0M123.3 399.3h0M123.3 403.5h0M123.3 407.7h0M123.3 411.8h0" stroke="#f07070" stroke-width="1.16" stroke-linecap="round" stroke-opacity="0.8"/>
<path d="M74.1 357.4h0M74.1 421.3h0M68.9 362.6h0M132.8 362.6h0M77.7 357.4h0M77.7 421.3h0M68.9 366.2h0M132.8 366.2h0M82.1 359.4h0M82.1 419.3h0M70.9 370.6h0M130.8 370.6h0M86.6 357.4h0M86.6 421.3h0M68.9 375.1h0M132.8 375.1h0M90.2 357.4h0M90.2 421.3h0M68.9 378.7h0M132.8 378.7h0M94.6 359.4h0M94.6 419.3h0M70.9 383.1h0M130.8 383.1h0M99.1 357.4h0M99.1 421.3h0M68.9 387.6h0M132.8 387.6h0M102.7 357.4h0M102.7 421.3h0M68.9 391.2h0M132.8 391.2h0M107.1 359.4h0M107.1 419.3h0M70.9 395.6h0M130.8 395.6h0M111.6 357.4h0M111.6 421.3h0M68.9 400.1h0M132.8 400.1h0M115.2 357.4h0M115.2 421.3h0M68.9 403.7h0M132.8 403.7h0M119.6 359.4h0M119.6 419.3h0M70.9 408.1h0M130.8 408.1h0M124.1 357.4h0M124.1 421.3h0M68.9 412.6h0M132.8 412.6h0M127.7 357.4h0M127.7 421.3h0M68.9 416.2h0M132.8 416.2h0" stroke="#c01818" stroke-width="2.50" stroke-linecap="round"/>
<path d="M73.7 357h0M73.7 420.9h0M68.5 362.2h0M132.4 362.2h0M77.3 357h0M77.3 420.9h0M68.5 365.8h0M132.4 365.8h0M81.7 359h0M81.7 418.9h0M70.5 370.2h0M130.4 370.2h0M86.2 357h0M86.2 420.9h0M68.5 374.7h0M132.4 374.7h0M89.8 357h0M89.8 420.9h0M68.5 378.3h0M132.4 378.3h0M94.2 359h0M94.2 418.9h0M70.5 382.7h0M130.4 382.7h0M98.7 357h0M98.7 420.9h0M68.5 387.2h0M132.4 387.2h0M102.3 357h0M102.3 420.9h0M68.5 390.8h0M132.4 390.8h0M106.7 359h0M106.7 418.9h0M70.5 395.2h0M130.4 395.2h0M111.2 357h0M111.2 420.9h0M68.5 399.7h0M132.4 399.7h0M114.8 357h0M114.8 420.9h0M68.5 403.3h0M132.4 403.3h0M119.2 359h0M119.2 418.9h0M70.5 407.7h0M130.4 407.7h0M123.7 357h0M123.7 420.9h0M68.5 412.2h0M132.4 412.2h0M127.3 357h0M127.3 420.9h0M68.5 415.8h0M132.4 415.8h0" stroke="#f07070" stroke-width="1.00" stroke-linecap="round" stroke-opacity="0.8"/>
<path d="M78.9 354.4h0M72.9 424.3h0M65.9 367.4h0M135.8 361.4h0M103.9 354.4h0M97.9 424.3h0M65.9 392.4h0M135.8 386.4h0M128.9 354.4h0M122.9 424.3h0M65.9 417.4h0M135.8 411.4h0" stroke="#c01818" stroke-width="2.30" stroke-linecap="round"/>
<path d="M78.5 354h0M72.5 423.9h0M65.5 367h0M135.4 361h0M103.5 354h0M97.5 423.9h0M65.5 392h0M135.4 386h0M128.5 354h0M122.5 423.9h0M65.5 417h0M135.4 411h0" stroke="#f07070" stroke-width="0.92" stroke-linecap="round" stroke-opacity="0.8"/>
<use href="#gT2270" x="75.9" y="364.4"/>
<use href="#gT2270" x="100.8" y="364.4"/>
<use href="#gT2270" x="125.8" y="364.4"/>
<use href="#gT2270" x="75.9" y="389.3"/>
<use href="#gT2270" x="100.8" y="389.3"/>
<use href="#gT2270" x="125.8" y="389.3"/>
<use href="#gT2270" x="75.9" y="414.3"/>
<use href="#gT2270" x="100.8" y="414.3"/>
<use href="#gT2270" x="125.8" y="414.3"/>
<use href="#gT2200" x="88.0" y="376.5"/>
<use href="#gT2200" x="112.9" y="401.4"/>
<use href="#gL280" x="94.8" y="363.3"/>
<use href="#gL280" x="119.7" y="364.4"/>
<use href="#gL280" x="112.9" y="370.4"/>
<use href="#gL280" x="75.9" y="376.5"/>
<use href="#gL280" x="125.8" y="376.5"/>
<use href="#gL280" x="88.0" y="382.5"/>
<use href="#gL280" x="81.9" y="388.1"/>
<use href="#gL280" x="106.9" y="389.6"/>
<use href="#gL280" x="112.9" y="395.4"/>
<use href="#gL280" x="100.8" y="402.2"/>
<use href="#gL280" x="88.0" y="408.2"/>
<use href="#gL280" x="94.8" y="412.8"/>
<use href="#gL280" x="119.7" y="414.3"/>
<use href="#gN215" x="82.7" y="364.4"/>
<use href="#gN215" x="106.9" y="364.4"/>
<use href="#gN215" x="88.0" y="370.4"/>
<use href="#gN215" x="100.8" y="377.2"/>
<use href="#gN215" x="113.7" y="382.5"/>
<use href="#gN215" x="94.8" y="388.6"/>
<use href="#gN215" x="119.7" y="389.6"/>
<use href="#gN215" x="88.0" y="395.4"/>
<use href="#gN215" x="75.9" y="402.2"/>
<use href="#gN215" x="125.8" y="402.2"/>
<use href="#gN215" x="113.7" y="407.5"/>
<use href="#gN215" x="81.9" y="413.5"/>
<use href="#gN215" x="106.9" y="414.3"/>
<path d="M156.08,362.37V416.29M152.00,366.45H205.92M164.42,362.37V416.29M152.00,374.79H205.92M168.58,362.37V416.29M152.00,378.95H205.92M176.92,362.37V416.29M152.00,387.29H205.92M181.08,362.37V416.29M152.00,391.45H205.92M189.42,362.37V416.29M152.00,399.79H205.92M193.58,362.37V416.29M152.00,403.95H205.92M201.92,362.37V416.29M152.00,412.29H205.92" stroke="#d4a0a0" stroke-width="0.9" fill="none"/>
<path d="M154.00,361.37V417.29M151.00,364.37H206.92M160.25,361.37V417.29M151.00,370.62H206.92M166.50,361.37V417.29M151.00,376.87H206.92M172.75,361.37V417.29M151.00,383.12H206.92M179.00,361.37V417.29M151.00,389.37H206.92M185.25,361.37V417.29M151.00,395.62H206.92M191.50,361.37V417.29M151.00,401.87H206.92M197.75,361.37V417.29M151.00,408.12H206.92M204.00,361.37V417.29M151.00,414.37H206.92" stroke="#b4d2d6" stroke-width="0.9" fill="none"/>
<path d="M152.2 363.4l0-6M152.2 415.3l0 6M153 362.6l-6 0M204.9 362.6l6 0M155.8 363.4l0-6M155.8 415.3l0 6M153 366.2l-6 0M204.9 366.2l6 0M155.8 357.4l1.2-3M152.2 421.3l-1.2 3M147 366.2l-3 1.2M210.9 362.6l3-1.2M160.2 363.4l0-4M160.2 415.3l0 4M153 370.6l-4 0M204.9 370.6l4 0M164.7 363.4l0-6M164.7 415.3l0 6M153 375.1l-6 0M204.9 375.1l6 0M168.3 363.4l0-6M168.3 415.3l0 6M153 378.7l-6 0M204.9 378.7l6 0M172.8 363.4l0-4M172.8 415.3l0 4M153 383.1l-4 0M204.9 383.1l4 0M177.2 363.4l0-6M177.2 415.3l0 6M153 387.6l-6 0M204.9 387.6l6 0M180.8 363.4l0-6M180.8 415.3l0 6M153 391.2l-6 0M204.9 391.2l6 0M180.8 357.4l1.2-3M177.2 421.3l-1.2 3M147 391.2l-3 1.2M210.9 387.6l3-1.2M185.2 363.4l0-4M185.2 415.3l0 4M153 395.6l-4 0M204.9 395.6l4 0M189.7 363.4l0-6M189.7 415.3l0 6M153 400.1l-6 0M204.9 400.1l6 0M193.3 363.4l0-6M193.3 415.3l0 6M153 403.7l-6 0M204.9 403.7l6 0M197.8 363.4l0-4M197.8 415.3l0 4M153 408.1l-4 0M204.9 408.1l4 0M202.2 363.4l0-6M202.2 415.3l0 6M153 412.6l-6 0M204.9 412.6l6 0M205.8 363.4l0-6M205.8 415.3l0 6M153 416.2l-6 0M204.9 416.2l6 0M205.8 357.4l1.2-3M202.2 421.3l-1.2 3M147 416.2l-3 1.2M210.9 412.6l3-1.2" stroke="#c05050" stroke-width="0.7" fill="none" stroke-opacity="1"/>
<circle cx="166.1" cy="364.4" r="3.1" fill="#fdfdfd"/>
<circle cx="191.1" cy="364.4" r="3.1" fill="#fdfdfd"/>
<circle cx="166.1" cy="389.3" r="3.1" fill="#fdfdfd"/>
<circle cx="191.1" cy="389.3" r="3.1" fill="#fdfdfd"/>
<circle cx="166.1" cy="414.3" r="3.1" fill="#fdfdfd"/>
<circle cx="191.1" cy="414.3" r="3.1" fill="#fdfdfd"/>
<path d="M156.1 366.5h0M156.1 370.6h0M156.1 374.8h0M156.1 379h0M156.1 383.1h0M156.1 387.3h0M156.1 391.5h0M156.1 395.6h0M156.1 399.8h0M156.1 404h0M156.1 408.1h0M156.1 412.3h0M160.2 366.5h0M160.2 374.8h0M160.2 379h0M160.2 387.3h0M160.2 391.5h0M160.2 399.8h0M160.2 404h0M160.2 412.3h0M164.4 370.6h0M164.4 374.8h0M164.4 379h0M164.4 383.1h0M164.4 395.6h0M164.4 399.8h0M164.4 404h0M164.4 408.1h0M168.6 366.5h0M168.6 370.6h0M168.6 374.8h0M168.6 379h0M168.6 383.1h0M168.6 387.3h0M168.6 391.5h0M168.6 395.6h0M168.6 399.8h0M168.6 404h0M168.6 408.1h0M172.8 366.5h0M172.8 374.8h0M172.8 379h0M172.8 387.3h0M172.8 391.5h0M172.8 399.8h0M172.8 404h0M172.8 412.3h0M176.9 366.5h0M176.9 370.6h0M176.9 374.8h0M176.9 379h0M176.9 383.1h0M176.9 387.3h0M176.9 391.5h0M176.9 395.6h0M176.9 399.8h0M176.9 404h0M176.9 408.1h0M176.9 412.3h0M181.1 366.5h0M181.1 370.6h0M181.1 374.8h0M181.1 379h0M181.1 383.1h0M181.1 387.3h0M181.1 391.5h0M181.1 395.6h0M181.1 399.8h0M181.1 404h0M181.1 408.1h0M181.1 412.3h0M185.2 366.5h0M185.2 374.8h0M185.2 379h0M185.2 387.3h0M185.2 391.5h0M185.2 399.8h0M185.2 404h0M185.2 412.3h0M189.4 370.6h0M189.4 374.8h0M189.4 379h0M189.4 383.1h0M189.4 395.6h0M189.4 399.8h0M189.4 404h0M189.4 408.1h0M193.6 366.5h0M193.6 370.6h0M193.6 374.8h0M193.6 379h0M193.6 383.1h0M193.6 387.3h0M193.6 391.5h0M193.6 395.6h0M193.6 399.8h0M193.6 404h0M193.6 408.1h0M193.6 412.3h0M197.8 366.5h0M197.8 374.8h0M197.8 379h0M197.8 387.3h0M197.8 391.5h0M197.8 399.8h0M197.8 404h0M197.8 412.3h0M201.9 366.5h0M201.9 370.6h0M201.9 374.8h0M201.9 379h0M201.9 383.1h0M201.9 387.3h0M201.9 391.5h0M201.9 395.6h0M201.9 399.8h0M201.9 404h0M201.9 408.1h0M201.9 412.3h0" stroke="#c01818" stroke-width="2.90" stroke-linecap="round"/>
<path d="M155.6 366h0M155.6 370.2h0M155.6 374.3h0M155.6 378.5h0M155.6 382.7h0M155.6 386.8h0M155.6 391h0M155.6 395.2h0M155.6 399.3h0M155.6 403.5h0M155.6 407.7h0M155.6 411.8h0M159.8 366h0M159.8 374.3h0M159.8 378.5h0M159.8 386.8h0M159.8 391h0M159.8 399.3h0M159.8 403.5h0M159.8 411.8h0M164 370.2h0M164 374.3h0M164 378.5h0M164 382.7h0M164 395.2h0M164 399.3h0M164 403.5h0M164 407.7h0M168.1 366h0M168.1 370.2h0M168.1 374.3h0M168.1 378.5h0M168.1 382.7h0M168.1 386.8h0M168.1 391h0M168.1 395.2h0M168.1 399.3h0M168.1 403.5h0M168.1 407.7h0M172.3 366h0M172.3 374.3h0M172.3 378.5h0M172.3 386.8h0M172.3 391h0M172.3 399.3h0M172.3 403.5h0M172.3 411.8h0M176.5 366h0M176.5 370.2h0M176.5 374.3h0M176.5 378.5h0M176.5 382.7h0M176.5 386.8h0M176.5 391h0M176.5 395.2h0M176.5 399.3h0M176.5 403.5h0M176.5 407.7h0M176.5 411.8h0M180.6 366h0M180.6 370.2h0M180.6 374.3h0M180.6 378.5h0M180.6 382.7h0M180.6 386.8h0M180.6 391h0M180.6 395.2h0M180.6 399.3h0M180.6 403.5h0M180.6 407.7h0M180.6 411.8h0M184.8 366h0M184.8 374.3h0M184.8 378.5h0M184.8 386.8h0M184.8 391h0M184.8 399.3h0M184.8 403.5h0M184.8 411.8h0M189 370.2h0M189 374.3h0M189 378.5h0M189 382.7h0M189 395.2h0M189 399.3h0M189 403.5h0M189 407.7h0M193.1 366h0M193.1 370.2h0M193.1 374.3h0M193.1 378.5h0M193.1 382.7h0M193.1 386.8h0M193.1 391h0M193.1 395.2h0M193.1 399.3h0M193.1 403.5h0M193.1 407.7h0M193.1 411.8h0M197.3 366h0M197.3 374.3h0M197.3 378.5h0M197.3 386.8h0M197.3 391h0M197.3 399.3h0M197.3 403.5h0M197.3 411.8h0M201.5 366h0M201.5 370.2h0M201.5 374.3h0M201.5 378.5h0M201.5 382.7h0M201.5 386.8h0M201.5 391h0M201.5 395.2h0M201.5 399.3h0M201.5 403.5h0M201.5 407.7h0M201.5 411.8h0" stroke="#f07070" stroke-width="1.16" stroke-linecap="round" stroke-opacity="0.8"/>
<path d="M152.2 357.4h0M152.2 421.3h0M147 362.6h0M210.9 362.6h0M155.8 357.4h0M155.8 421.3h0M147 366.2h0M210.9 366.2h0M160.2 359.4h0M160.2 419.3h0M149 370.6h0M208.9 370.6h0M164.7 357.4h0M164.7 421.3h0M147 375.1h0M210.9 375.1h0M168.3 357.4h0M168.3 421.3h0M147 378.7h0M210.9 378.7h0M172.8 359.4h0M172.8 419.3h0M149 383.1h0M208.9 383.1h0M177.2 357.4h0M177.2 421.3h0M147 387.6h0M210.9 387.6h0M180.8 357.4h0M180.8 421.3h0M147 391.2h0M210.9 391.2h0M185.2 359.4h0M185.2 419.3h0M149 395.6h0M208.9 395.6h0M189.7 357.4h0M189.7 421.3h0M147 400.1h0M210.9 400.1h0M193.3 357.4h0M193.3 421.3h0M147 403.7h0M210.9 403.7h0M197.8 359.4h0M197.8 419.3h0M149 408.1h0M208.9 408.1h0M202.2 357.4h0M202.2 421.3h0M147 412.6h0M210.9 412.6h0M205.8 357.4h0M205.8 421.3h0M147 416.2h0M210.9 416.2h0" stroke="#c01818" stroke-width="2.50" stroke-linecap="round"/>
<path d="M151.8 357h0M151.8 420.9h0M146.6 362.2h0M210.5 362.2h0M155.4 357h0M155.4 420.9h0M146.6 365.8h0M210.5 365.8h0M159.8 359h0M159.8 418.9h0M148.6 370.2h0M208.5 370.2h0M164.3 357h0M164.3 420.9h0M146.6 374.7h0M210.5 374.7h0M167.9 357h0M167.9 420.9h0M146.6 378.3h0M210.5 378.3h0M172.3 359h0M172.3 418.9h0M148.6 382.7h0M208.5 382.7h0M176.8 357h0M176.8 420.9h0M146.6 387.2h0M210.5 387.2h0M180.4 357h0M180.4 420.9h0M146.6 390.8h0M210.5 390.8h0M184.8 359h0M184.8 418.9h0M148.6 395.2h0M208.5 395.2h0M189.3 357h0M189.3 420.9h0M146.6 399.7h0M210.5 399.7h0M192.9 357h0M192.9 420.9h0M146.6 403.3h0M210.5 403.3h0M197.3 359h0M197.3 418.9h0M148.6 407.7h0M208.5 407.7h0M201.8 357h0M201.8 420.9h0M146.6 412.2h0M210.5 412.2h0M205.4 357h0M205.4 420.9h0M146.6 415.8h0M210.5 415.8h0" stroke="#f07070" stroke-width="1.00" stroke-linecap="round" stroke-opacity="0.8"/>
<path d="M157 354.4h0M151 424.3h0M144 367.4h0M213.9 361.4h0M182 354.4h0M176 424.3h0M144 392.4h0M213.9 386.4h0M207 354.4h0M201 424.3h0M144 417.4h0M213.9 411.4h0" stroke="#c01818" stroke-width="2.30" stroke-linecap="round"/>
<path d="M156.6 354h0M150.6 423.9h0M143.6 367h0M213.5 361h0M181.6 354h0M175.6 423.9h0M143.6 392h0M213.5 386h0M206.6 354h0M200.6 423.9h0M143.6 417h0M213.5 411h0" stroke="#f07070" stroke-width="0.92" stroke-linecap="round" stroke-opacity="0.8"/>
<use href="#gT2270" x="154.0" y="364.4"/>
<use href="#gT2270" x="179.0" y="364.4"/>
<use href="#gT2270" x="203.9" y="364.4"/>
<use href="#gT2270" x="154.0" y="389.3"/>
<use href="#gT2270" x="179.0" y="389.3"/>
<use href="#gT2270" x="203.9" y="389.3"/>
<use href="#gT2270" x="154.0" y="414.3"/>
<use href="#gT2270" x="179.0" y="414.3"/>
<use href="#gT2270" x="203.9" y="414.3"/>
<use href="#gT2200" x="166.1" y="376.5"/>
<use href="#gT2200" x="191.1" y="401.4"/>
<use href="#gL280" x="172.9" y="363.3"/>
<use href="#gL280" x="197.9" y="364.4"/>
<use href="#gL280" x="191.1" y="370.4"/>
<use href="#gL280" x="154.0" y="376.5"/>
<use href="#gL280" x="203.9" y="376.5"/>
<use href="#gL280" x="166.1" y="382.5"/>
<use href="#gL280" x="160.1" y="388.1"/>
<use href="#gL280" x="185.0" y="389.6"/>
<use href="#gL280" x="191.1" y="395.4"/>
<use href="#gL280" x="179.0" y="402.2"/>
<use href="#gL280" x="166.1" y="408.2"/>
<use href="#gL280" x="172.9" y="412.8"/>
<use href="#gL280" x="197.9" y="414.3"/>
<use href="#gN215" x="160.8" y="364.4"/>
<use href="#gN215" x="185.0" y="364.4"/>
<use href="#gN215" x="166.1" y="370.4"/>
<use href="#gN215" x="179.0" y="377.2"/>
<use href="#gN215" x="191.8" y="382.5"/>
<use href="#gN215" x="172.9" y="388.6"/>
<use href="#gN215" x="197.9" y="389.6"/>
<use href="#gN215" x="166.1" y="395.4"/>
<use href="#gN215" x="154.0" y="402.2"/>
<use href="#gN215" x="203.9" y="402.2"/>
<use href="#gN215" x="191.8" y="407.5"/>
<use href="#gN215" x="160.1" y="413.5"/>
<use href="#gN215" x="185.0" y="414.3"/>
<path d="M546.88,362.37V416.29M542.80,366.45H596.72M555.22,362.37V416.29M542.80,374.79H596.72M559.38,362.37V416.29M542.80,378.95H596.72M567.72,362.37V416.29M542.80,387.29H596.72M571.88,362.37V416.29M542.80,391.45H596.72M580.22,362.37V416.29M542.80,399.79H596.72M584.38,362.37V416.29M542.80,403.95H596.72M592.72,362.37V416.29M542.80,412.29H596.72" stroke="#d4a0a0" stroke-width="0.9" fill="none"/>
<path d="M544.80,361.37V417.29M541.80,364.37H597.72M551.05,361.37V417.29M541.80,370.62H597.72M557.30,361.37V417.29M541.80,376.87H597.72M563.55,361.37V417.29M541.80,383.12H597.72M569.80,361.37V417.29M541.80,389.37H597.72M576.05,361.37V417.29M541.80,395.62H597.72M582.30,361.37V417.29M541.80,401.87H597.72M588.55,361.37V417.29M541.80,408.12H597.72M594.80,361.37V417.29M541.80,414.37H597.72" stroke="#b4d2d6" stroke-width="0.9" fill="none"/>
<path d="M543 363.4l0-6M543 415.3l0 6M543.8 362.6l-6 0M595.7 362.6l6 0M546.6 363.4l0-6M546.6 415.3l0 6M543.8 366.2l-6 0M595.7 366.2l6 0M546.6 357.4l1.2-3M543 421.3l-1.2 3M537.8 366.2l-3 1.2M601.7 362.6l3-1.2M551 363.4l0-4M551 415.3l0 4M543.8 370.6l-4 0M595.7 370.6l4 0M555.5 363.4l0-6M555.5 415.3l0 6M543.8 375.1l-6 0M595.7 375.1l6 0M559.1 363.4l0-6M559.1 415.3l0 6M543.8 378.7l-6 0M595.7 378.7l6 0M563.5 363.4l0-4M563.5 415.3l0 4M543.8 383.1l-4 0M595.7 383.1l4 0M568 363.4l0-6M568 415.3l0 6M543.8 387.6l-6 0M595.7 387.6l6 0M571.6 363.4l0-6M571.6 415.3l0 6M543.8 391.2l-6 0M595.7 391.2l6 0M571.6 357.4l1.2-3M568 421.3l-1.2 3M537.8 391.2l-3 1.2M601.7 387.6l3-1.2M576 363.4l0-4M576 415.3l0 4M543.8 395.6l-4 0M595.7 395.6l4 0M580.5 363.4l0-6M580.5 415.3l0 6M543.8 400.1l-6 0M595.7 400.1l6 0M584.1 363.4l0-6M584.1 415.3l0 6M543.8 403.7l-6 0M595.7 403.7l6 0M588.5 363.4l0-4M588.5 415.3l0 4M543.8 408.1l-4 0M595.7 408.1l4 0M593 363.4l0-6M593 415.3l0 6M543.8 412.6l-6 0M595.7 412.6l6 0M596.6 363.4l0-6M596.6 415.3l0 6M543.8 416.2l-6 0M595.7 416.2l6 0M596.6 357.4l1.2-3M593 421.3l-1.2 3M537.8 416.2l-3 1.2M601.7 412.6l3-1.2" stroke="#c05050" stroke-width="0.7" fill="none" stroke-opacity="1"/>
<circle cx="556.9" cy="364.4" r="3.1" fill="#fdfdfd"/>
<circle cx="581.9" cy="364.4" r="3.1" fill="#fdfdfd"/>
<circle cx="556.9" cy="389.3" r="3.1" fill="#fdfdfd"/>
<circle cx="581.9" cy="389.3" r="3.1" fill="#fdfdfd"/>
<circle cx="556.9" cy="414.3" r="3.1" fill="#fdfdfd"/>
<circle cx="581.9" cy="414.3" r="3.1" fill="#fdfdfd"/>
<path d="M546.9 366.5h0M546.9 370.6h0M546.9 374.8h0M546.9 379h0M546.9 383.1h0M546.9 387.3h0M546.9 391.5h0M546.9 395.6h0M546.9 399.8h0M546.9 404h0M546.9 408.1h0M546.9 412.3h0M551 366.5h0M551 374.8h0M551 379h0M551 387.3h0M551 391.5h0M551 399.8h0M551 404h0M551 412.3h0M555.2 370.6h0M555.2 374.8h0M555.2 379h0M555.2 383.1h0M555.2 395.6h0M555.2 399.8h0M555.2 404h0M555.2 408.1h0M559.4 366.5h0M559.4 370.6h0M559.4 374.8h0M559.4 379h0M559.4 383.1h0M559.4 387.3h0M559.4 391.5h0M559.4 395.6h0M559.4 399.8h0M559.4 404h0M559.4 408.1h0M563.5 366.5h0M563.5 374.8h0M563.5 379h0M563.5 387.3h0M563.5 391.5h0M563.5 399.8h0M563.5 404h0M563.5 412.3h0M567.7 366.5h0M567.7 370.6h0M567.7 374.8h0M567.7 379h0M567.7 383.1h0M567.7 387.3h0M567.7 391.5h0M567.7 395.6h0M567.7 399.8h0M567.7 404h0M567.7 408.1h0M567.7 412.3h0M571.9 366.5h0M571.9 370.6h0M571.9 374.8h0M571.9 379h0M571.9 383.1h0M571.9 387.3h0M571.9 391.5h0M571.9 395.6h0M571.9 399.8h0M571.9 404h0M571.9 408.1h0M571.9 412.3h0M576 366.5h0M576 374.8h0M576 379h0M576 387.3h0M576 391.5h0M576 399.8h0M576 404h0M576 412.3h0M580.2 370.6h0M580.2 374.8h0M580.2 379h0M580.2 383.1h0M580.2 395.6h0M580.2 399.8h0M580.2 404h0M580.2 408.1h0M584.4 366.5h0M584.4 370.6h0M584.4 374.8h0M584.4 379h0M584.4 383.1h0M584.4 387.3h0M584.4 391.5h0M584.4 395.6h0M584.4 399.8h0M584.4 404h0M584.4 408.1h0M584.4 412.3h0M588.5 366.5h0M588.5 374.8h0M588.5 379h0M588.5 387.3h0M588.5 391.5h0M588.5 399.8h0M588.5 404h0M588.5 412.3h0M592.7 366.5h0M592.7 370.6h0M592.7 374.8h0M592.7 379h0M592.7 383.1h0M592.7 387.3h0M592.7 391.5h0M592.7 395.6h0M592.7 399.8h0M592.7 404h0M592.7 408.1h0M592.7 412.3h0" stroke="#c01818" stroke-width="2.90" stroke-linecap="round"/>
<path d="M546.4 366h0M546.4 370.2h0M546.4 374.3h0M546.4 378.5h0M546.4 382.7h0M546.4 386.8h0M546.4 391h0M546.4 395.2h0M546.4 399.3h0M546.4 403.5h0M546.4 407.7h0M546.4 411.8h0M550.6 366h0M550.6 374.3h0M550.6 378.5h0M550.6 386.8h0M550.6 391h0M550.6 399.3h0M550.6 403.5h0M550.6 411.8h0M554.8 370.2h0M554.8 374.3h0M554.8 378.5h0M554.8 382.7h0M554.8 395.2h0M554.8 399.3h0M554.8 403.5h0M554.8 407.7h0M558.9 366h0M558.9 370.2h0M558.9 374.3h0M558.9 378.5h0M558.9 382.7h0M558.9 386.8h0M558.9 391h0M558.9 395.2h0M558.9 399.3h0M558.9 403.5h0M558.9 407.7h0M563.1 366h0M563.1 374.3h0M563.1 378.5h0M563.1 386.8h0M563.1 391h0M563.1 399.3h0M563.1 403.5h0M563.1 411.8h0M567.3 366h0M567.3 370.2h0M567.3 374.3h0M567.3 378.5h0M567.3 382.7h0M567.3 386.8h0M567.3 391h0M567.3 395.2h0M567.3 399.3h0M567.3 403.5h0M567.3 407.7h0M567.3 411.8h0M571.4 366h0M571.4 370.2h0M571.4 374.3h0M571.4 378.5h0M571.4 382.7h0M571.4 386.8h0M571.4 391h0M571.4 395.2h0M571.4 399.3h0M571.4 403.5h0M571.4 407.7h0M571.4 411.8h0M575.6 366h0M575.6 374.3h0M575.6 378.5h0M575.6 386.8h0M575.6 391h0M575.6 399.3h0M575.6 403.5h0M575.6 411.8h0M579.8 370.2h0M579.8 374.3h0M579.8 378.5h0M579.8 382.7h0M579.8 395.2h0M579.8 399.3h0M579.8 403.5h0M579.8 407.7h0M583.9 366h0M583.9 370.2h0M583.9 374.3h0M583.9 378.5h0M583.9 382.7h0M583.9 386.8h0M583.9 391h0M583.9 395.2h0M583.9 399.3h0M583.9 403.5h0M583.9 407.7h0M583.9 411.8h0M588.1 366h0M588.1 374.3h0M588.1 378.5h0M588.1 386.8h0M588.1 391h0M588.1 399.3h0M588.1 403.5h0M588.1 411.8h0M592.3 366h0M592.3 370.2h0M592.3 374.3h0M592.3 378.5h0M592.3 382.7h0M592.3 386.8h0M592.3 391h0M592.3 395.2h0M592.3 399.3h0M592.3 403.5h0M592.3 407.7h0M592.3 411.8h0" stroke="#f07070" stroke-width="1.16" stroke-linecap="round" stroke-opacity="0.8"/>
<path d="M543 357.4h0M543 421.3h0M537.8 362.6h0M601.7 362.6h0M546.6 357.4h0M546.6 421.3h0M537.8 366.2h0M601.7 366.2h0M551 359.4h0M551 419.3h0M539.8 370.6h0M599.7 370.6h0M555.5 357.4h0M555.5 421.3h0M537.8 375.1h0M601.7 375.1h0M559.1 357.4h0M559.1 421.3h0M537.8 378.7h0M601.7 378.7h0M563.5 359.4h0M563.5 419.3h0M539.8 383.1h0M599.7 383.1h0M568 357.4h0M568 421.3h0M537.8 387.6h0M601.7 387.6h0M571.6 357.4h0M571.6 421.3h0M537.8 391.2h0M601.7 391.2h0M576 359.4h0M576 419.3h0M539.8 395.6h0M599.7 395.6h0M580.5 357.4h0M580.5 421.3h0M537.8 400.1h0M601.7 400.1h0M584.1 357.4h0M584.1 421.3h0M537.8 403.7h0M601.7 403.7h0M588.5 359.4h0M588.5 419.3h0M539.8 408.1h0M599.7 408.1h0M593 357.4h0M593 421.3h0M537.8 412.6h0M601.7 412.6h0M596.6 357.4h0M596.6 421.3h0M537.8 416.2h0M601.7 416.2h0" stroke="#c01818" stroke-width="2.50" stroke-linecap="round"/>
<path d="M542.6 357h0M542.6 420.9h0M537.4 362.2h0M601.3 362.2h0M546.2 357h0M546.2 420.9h0M537.4 365.8h0M601.3 365.8h0M550.6 359h0M550.6 418.9h0M539.4 370.2h0M599.3 370.2h0M555.1 357h0M555.1 420.9h0M537.4 374.7h0M601.3 374.7h0M558.7 357h0M558.7 420.9h0M537.4 378.3h0M601.3 378.3h0M563.1 359h0M563.1 418.9h0M539.4 382.7h0M599.3 382.7h0M567.6 357h0M567.6 420.9h0M537.4 387.2h0M601.3 387.2h0M571.2 357h0M571.2 420.9h0M537.4 390.8h0M601.3 390.8h0M575.6 359h0M575.6 418.9h0M539.4 395.2h0M599.3 395.2h0M580.1 357h0M580.1 420.9h0M537.4 399.7h0M601.3 399.7h0M583.7 357h0M583.7 420.9h0M537.4 403.3h0M601.3 403.3h0M588.1 359h0M588.1 418.9h0M539.4 407.7h0M599.3 407.7h0M592.6 357h0M592.6 420.9h0M537.4 412.2h0M601.3 412.2h0M596.2 357h0M596.2 420.9h0M537.4 415.8h0M601.3 415.8h0" stroke="#f07070" stroke-width="1.00" stroke-linecap="round" stroke-opacity="0.8"/>
<path d="M547.8 354.4h0M541.8 424.3h0M534.8 367.4h0M604.7 361.4h0M572.8 354.4h0M566.8 424.3h0M534.8 392.4h0M604.7 386.4h0M597.8 354.4h0M591.8 424.3h0M534.8 417.4h0M604.7 411.4h0" stroke="#c01818" stroke-width="2.30" stroke-linecap="round"/>
<path d="M547.4 354h0M541.4 423.9h0M534.4 367h0M604.3 361h0M572.4 354h0M566.4 423.9h0M534.4 392h0M604.3 386h0M597.4 354h0M591.4 423.9h0M534.4 417h0M604.3 411h0" stroke="#f07070" stroke-width="0.92" stroke-linecap="round" stroke-opacity="0.8"/>
<use href="#gT2270" x="544.8" y="364.4"/>
<use href="#gT2270" x="569.8" y="364.4"/>
<use href="#gT2270" x="594.7" y="364.4"/>
<use href="#gT2270" x="544.8" y="389.3"/>
<use href="#gT2270" x="569.8" y="389.3"/>
<use href="#gT2270" x="594.7" y="389.3"/>
<use href="#gT2270" x="544.8" y="414.3"/>
<use href="#gT2270" x="569.8" y="414.3"/>
<use href="#gT2270" x="594.7" y="414.3"/>
<use href="#gT2200" x="556.9" y="376.5"/>
<use href="#gT2200" x="581.9" y="401.4"/>
<use href="#gL280" x="563.7" y="363.3"/>
<use href="#gL280" x="588.7" y="364.4"/>
<use href="#gL280" x="581.9" y="370.4"/>
<use href="#gL280" x="544.8" y="376.5"/>
<use href="#gL280" x="594.7" y="376.5"/>
<use href="#gL280" x="556.9" y="382.5"/>
<use href="#gL280" x="550.9" y="388.1"/>
<use href="#gL280" x="575.8" y="389.6"/>
<use href="#gL280" x="581.9" y="395.4"/>
<use href="#gL280" x="569.8" y="402.2"/>
<use href="#gL280" x="556.9" y="408.2"/>
<use href="#gL280" x="563.7" y="412.8"/>
<use href="#gL280" x="588.7" y="414.3"/>
<use href="#gN215" x="551.6" y="364.4"/>
<use href="#gN215" x="575.8" y="364.4"/>
<use href="#gN215" x="556.9" y="370.4"/>
<use href="#gN215" x="569.8" y="377.2"/>
<use href="#gN215" x="582.6" y="382.5"/>
<use href="#gN215" x="563.7" y="388.6"/>
<use href="#gN215" x="588.7" y="389.6"/>
<use href="#gN215" x="556.9" y="395.4"/>
<use href="#gN215" x="544.8" y="402.2"/>
<use href="#gN215" x="594.7" y="402.2"/>
<use href="#gN215" x="582.6" y="407.5"/>
<use href="#gN215" x="550.9" y="413.5"/>
<use href="#gN215" x="575.8" y="414.3"/>
<path d="M623.78,362.37V416.29M619.70,366.45H673.62M632.12,362.37V416.29M619.70,374.79H673.62M636.28,362.37V416.29M619.70,378.95H673.62M644.62,362.37V416.29M619.70,387.29H673.62M648.78,362.37V416.29M619.70,391.45H673.62M657.12,362.37V416.29M619.70,399.79H673.62M661.28,362.37V416.29M619.70,403.95H673.62M669.62,362.37V416.29M619.70,412.29H673.62" stroke="#d4a0a0" stroke-width="0.9" fill="none"/>
<path d="M621.70,361.37V417.29M618.70,364.37H674.62M627.95,361.37V417.29M618.70,370.62H674.62M634.20,361.37V417.29M618.70,376.87H674.62M640.45,361.37V417.29M618.70,383.12H674.62M646.70,361.37V417.29M618.70,389.37H674.62M652.95,361.37V417.29M618.70,395.62H674.62M659.20,361.37V417.29M618.70,401.87H674.62M665.45,361.37V417.29M618.70,408.12H674.62M671.70,361.37V417.29M618.70,414.37H674.62" stroke="#b4d2d6" stroke-width="0.9" fill="none"/>
<path d="M619.9 363.4l0-6M619.9 415.3l0 6M620.7 362.6l-6 0M672.6 362.6l6 0M623.5 363.4l0-6M623.5 415.3l0 6M620.7 366.2l-6 0M672.6 366.2l6 0M623.5 357.4l1.2-3M619.9 421.3l-1.2 3M614.7 366.2l-3 1.2M678.6 362.6l3-1.2M627.9 363.4l0-4M627.9 415.3l0 4M620.7 370.6l-4 0M672.6 370.6l4 0M632.4 363.4l0-6M632.4 415.3l0 6M620.7 375.1l-6 0M672.6 375.1l6 0M636 363.4l0-6M636 415.3l0 6M620.7 378.7l-6 0M672.6 378.7l6 0M640.4 363.4l0-4M640.4 415.3l0 4M620.7 383.1l-4 0M672.6 383.1l4 0M644.9 363.4l0-6M644.9 415.3l0 6M620.7 387.6l-6 0M672.6 387.6l6 0M648.5 363.4l0-6M648.5 415.3l0 6M620.7 391.2l-6 0M672.6 391.2l6 0M648.5 357.4l1.2-3M644.9 421.3l-1.2 3M614.7 391.2l-3 1.2M678.6 387.6l3-1.2M652.9 363.4l0-4M652.9 415.3l0 4M620.7 395.6l-4 0M672.6 395.6l4 0M657.4 363.4l0-6M657.4 415.3l0 6M620.7 400.1l-6 0M672.6 400.1l6 0M661 363.4l0-6M661 415.3l0 6M620.7 403.7l-6 0M672.6 403.7l6 0M665.4 363.4l0-4M665.4 415.3l0 4M620.7 408.1l-4 0M672.6 408.1l4 0M669.9 363.4l0-6M669.9 415.3l0 6M620.7 412.6l-6 0M672.6 412.6l6 0M673.5 363.4l0-6M673.5 415.3l0 6M620.7 416.2l-6 0M672.6 416.2l6 0M673.5 357.4l1.2-3M669.9 421.3l-1.2 3M614.7 416.2l-3 1.2M678.6 412.6l3-1.2" stroke="#c05050" stroke-width="0.7" fill="none" stroke-opacity="1"/>
<circle cx="633.8" cy="364.4" r="3.1" fill="#fdfdfd"/>
<circle cx="658.8" cy="364.4" r="3.1" fill="#fdfdfd"/>
<circle cx="633.8" cy="389.3" r="3.1" fill="#fdfdfd"/>
<circle cx="658.8" cy="389.3" r="3.1" fill="#fdfdfd"/>
<circle cx="633.8" cy="414.3" r="3.1" fill="#fdfdfd"/>
<circle cx="658.8" cy="414.3" r="3.1" fill="#fdfdfd"/>
<path d="M623.8 366.5h0M623.8 370.6h0M623.8 374.8h0M623.8 379h0M623.8 383.1h0M623.8 387.3h0M623.8 391.5h0M623.8 395.6h0M623.8 399.8h0M623.8 404h0M623.8 408.1h0M623.8 412.3h0M627.9 366.5h0M627.9 374.8h0M627.9 379h0M627.9 387.3h0M627.9 391.5h0M627.9 399.8h0M627.9 404h0M627.9 412.3h0M632.1 370.6h0M632.1 374.8h0M632.1 379h0M632.1 383.1h0M632.1 395.6h0M632.1 399.8h0M632.1 404h0M632.1 408.1h0M636.3 366.5h0M636.3 370.6h0M636.3 374.8h0M636.3 379h0M636.3 383.1h0M636.3 387.3h0M636.3 391.5h0M636.3 395.6h0M636.3 399.8h0M636.3 404h0M636.3 408.1h0M640.4 366.5h0M640.4 374.8h0M640.4 379h0M640.4 387.3h0M640.4 391.5h0M640.4 399.8h0M640.4 404h0M640.4 412.3h0M644.6 366.5h0M644.6 370.6h0M644.6 374.8h0M644.6 379h0M644.6 383.1h0M644.6 387.3h0M644.6 391.5h0M644.6 395.6h0M644.6 399.8h0M644.6 404h0M644.6 408.1h0M644.6 412.3h0M648.8 366.5h0M648.8 370.6h0M648.8 374.8h0M648.8 379h0M648.8 383.1h0M648.8 387.3h0M648.8 391.5h0M648.8 395.6h0M648.8 399.8h0M648.8 404h0M648.8 408.1h0M648.8 412.3h0M652.9 366.5h0M652.9 374.8h0M652.9 379h0M652.9 387.3h0M652.9 391.5h0M652.9 399.8h0M652.9 404h0M652.9 412.3h0M657.1 370.6h0M657.1 374.8h0M657.1 379h0M657.1 383.1h0M657.1 395.6h0M657.1 399.8h0M657.1 404h0M657.1 408.1h0M661.3 366.5h0M661.3 370.6h0M661.3 374.8h0M661.3 379h0M661.3 383.1h0M661.3 387.3h0M661.3 391.5h0M661.3 395.6h0M661.3 399.8h0M661.3 404h0M661.3 408.1h0M661.3 412.3h0M665.4 366.5h0M665.4 374.8h0M665.4 379h0M665.4 387.3h0M665.4 391.5h0M665.4 399.8h0M665.4 404h0M665.4 412.3h0M669.6 366.5h0M669.6 370.6h0M669.6 374.8h0M669.6 379h0M669.6 383.1h0M669.6 387.3h0M669.6 391.5h0M669.6 395.6h0M669.6 399.8h0M669.6 404h0M669.6 408.1h0M669.6 412.3h0" stroke="#c01818" stroke-width="2.90" stroke-linecap="round"/>
<path d="M623.3 366h0M623.3 370.2h0M623.3 374.3h0M623.3 378.5h0M623.3 382.7h0M623.3 386.8h0M623.3 391h0M623.3 395.2h0M623.3 399.3h0M623.3 403.5h0M623.3 407.7h0M623.3 411.8h0M627.5 366h0M627.5 374.3h0M627.5 378.5h0M627.5 386.8h0M627.5 391h0M627.5 399.3h0M627.5 403.5h0M627.5 411.8h0M631.7 370.2h0M631.7 374.3h0M631.7 378.5h0M631.7 382.7h0M631.7 395.2h0M631.7 399.3h0M631.7 403.5h0M631.7 407.7h0M635.8 366h0M635.8 370.2h0M635.8 374.3h0M635.8 378.5h0M635.8 382.7h0M635.8 386.8h0M635.8 391h0M635.8 395.2h0M635.8 399.3h0M635.8 403.5h0M635.8 407.7h0M640 366h0M640 374.3h0M640 378.5h0M640 386.8h0M640 391h0M640 399.3h0M640 403.5h0M640 411.8h0M644.2 366h0M644.2 370.2h0M644.2 374.3h0M644.2 378.5h0M644.2 382.7h0M644.2 386.8h0M644.2 391h0M644.2 395.2h0M644.2 399.3h0M644.2 403.5h0M644.2 407.7h0M644.2 411.8h0M648.3 366h0M648.3 370.2h0M648.3 374.3h0M648.3 378.5h0M648.3 382.7h0M648.3 386.8h0M648.3 391h0M648.3 395.2h0M648.3 399.3h0M648.3 403.5h0M648.3 407.7h0M648.3 411.8h0M652.5 366h0M652.5 374.3h0M652.5 378.5h0M652.5 386.8h0M652.5 391h0M652.5 399.3h0M652.5 403.5h0M652.5 411.8h0M656.7 370.2h0M656.7 374.3h0M656.7 378.5h0M656.7 382.7h0M656.7 395.2h0M656.7 399.3h0M656.7 403.5h0M656.7 407.7h0M660.8 366h0M660.8 370.2h0M660.8 374.3h0M660.8 378.5h0M660.8 382.7h0M660.8 386.8h0M660.8 391h0M660.8 395.2h0M660.8 399.3h0M660.8 403.5h0M660.8 407.7h0M660.8 411.8h0M665 366h0M665 374.3h0M665 378.5h0M665 386.8h0M665 391h0M665 399.3h0M665 403.5h0M665 411.8h0M669.2 366h0M669.2 370.2h0M669.2 374.3h0M669.2 378.5h0M669.2 382.7h0M669.2 386.8h0M669.2 391h0M669.2 395.2h0M669.2 399.3h0M669.2 403.5h0M669.2 407.7h0M669.2 411.8h0" stroke="#f07070" stroke-width="1.16" stroke-linecap="round" stroke-opacity="0.8"/>
<path d="M619.9 357.4h0M619.9 421.3h0M614.7 362.6h0M678.6 362.6h0M623.5 357.4h0M623.5 421.3h0M614.7 366.2h0M678.6 366.2h0M627.9 359.4h0M627.9 419.3h0M616.7 370.6h0M676.6 370.6h0M632.4 357.4h0M632.4 421.3h0M614.7 375.1h0M678.6 375.1h0M636 357.4h0M636 421.3h0M614.7 378.7h0M678.6 378.7h0M640.4 359.4h0M640.4 419.3h0M616.7 383.1h0M676.6 383.1h0M644.9 357.4h0M644.9 421.3h0M614.7 387.6h0M678.6 387.6h0M648.5 357.4h0M648.5 421.3h0M614.7 391.2h0M678.6 391.2h0M652.9 359.4h0M652.9 419.3h0M616.7 395.6h0M676.6 395.6h0M657.4 357.4h0M657.4 421.3h0M614.7 400.1h0M678.6 400.1h0M661 357.4h0M661 421.3h0M614.7 403.7h0M678.6 403.7h0M665.4 359.4h0M665.4 419.3h0M616.7 408.1h0M676.6 408.1h0M669.9 357.4h0M669.9 421.3h0M614.7 412.6h0M678.6 412.6h0M673.5 357.4h0M673.5 421.3h0M614.7 416.2h0M678.6 416.2h0" stroke="#c01818" stroke-width="2.50" stroke-linecap="round"/>
<path d="M619.5 357h0M619.5 420.9h0M614.3 362.2h0M678.2 362.2h0M623.1 357h0M623.1 420.9h0M614.3 365.8h0M678.2 365.8h0M627.5 359h0M627.5 418.9h0M616.3 370.2h0M676.2 370.2h0M632 357h0M632 420.9h0M614.3 374.7h0M678.2 374.7h0M635.6 357h0M635.6 420.9h0M614.3 378.3h0M678.2 378.3h0M640 359h0M640 418.9h0M616.3 382.7h0M676.2 382.7h0M644.5 357h0M644.5 420.9h0M614.3 387.2h0M678.2 387.2h0M648.1 357h0M648.1 420.9h0M614.3 390.8h0M678.2 390.8h0M652.5 359h0M652.5 418.9h0M616.3 395.2h0M676.2 395.2h0M657 357h0M657 420.9h0M614.3 399.7h0M678.2 399.7h0M660.6 357h0M660.6 420.9h0M614.3 403.3h0M678.2 403.3h0M665 359h0M665 418.9h0M616.3 407.7h0M676.2 407.7h0M669.5 357h0M669.5 420.9h0M614.3 412.2h0M678.2 412.2h0M673.1 357h0M673.1 420.9h0M614.3 415.8h0M678.2 415.8h0" stroke="#f07070" stroke-width="1.00" stroke-linecap="round" stroke-opacity="0.8"/>
<path d="M624.7 354.4h0M618.7 424.3h0M611.7 367.4h0M681.6 361.4h0M649.7 354.4h0M643.7 424.3h0M611.7 392.4h0M681.6 386.4h0M674.7 354.4h0M668.7 424.3h0M611.7 417.4h0M681.6 411.4h0" stroke="#c01818" stroke-width="2.30" stroke-linecap="round"/>
<path d="M624.3 354h0M618.3 423.9h0M611.3 367h0M681.2 361h0M649.3 354h0M643.3 423.9h0M611.3 392h0M681.2 386h0M674.3 354h0M668.3 423.9h0M611.3 417h0M681.2 411h0" stroke="#f07070" stroke-width="0.92" stroke-linecap="round" stroke-opacity="0.8"/>
<use href="#gT2270" x="621.7" y="364.4"/>
<use href="#gT2270" x="646.7" y="364.4"/>
<use href="#gT2270" x="671.6" y="364.4"/>
<use href="#gT2270" x="621.7" y="389.3"/>
<use href="#gT2270" x="646.7" y="389.3"/>
<use href="#gT2270" x="671.6" y="389.3"/>
<use href="#gT2270" x="621.7" y="414.3"/>
<use href="#gT2270" x="646.7" y="414.3"/>
<use href="#gT2270" x="671.6" y="414.3"/>
<use href="#gT2200" x="633.8" y="376.5"/>
<use href="#gT2200" x="658.8" y="401.4"/>
<use href="#gL280" x="640.6" y="363.3"/>
<use href="#gL280" x="665.6" y="364.4"/>
<use href="#gL280" x="658.8" y="370.4"/>
<use href="#gL280" x="621.7" y="376.5"/>
<use href="#gL280" x="671.6" y="376.5"/>
<use href="#gL280" x="633.8" y="382.5"/>
<use href="#gL280" x="627.8" y="388.1"/>
<use href="#gL280" x="652.7" y="389.6"/>
<use href="#gL280" x="658.8" y="395.4"/>
<use href="#gL280" x="646.7" y="402.2"/>
<use href="#gL280" x="633.8" y="408.2"/>
<use href="#gL280" x="640.6" y="412.8"/>
<use href="#gL280" x="665.6" y="414.3"/>
<use href="#gN215" x="628.5" y="364.4"/>
<use href="#gN215" x="652.7" y="364.4"/>
<use href="#gN215" x="633.8" y="370.4"/>
<use href="#gN215" x="646.7" y="377.2"/>
<use href="#gN215" x="659.5" y="382.5"/>
<use href="#gN215" x="640.6" y="388.6"/>
<use href="#gN215" x="665.6" y="389.6"/>
<use href="#gN215" x="633.8" y="395.4"/>
<use href="#gN215" x="621.7" y="402.2"/>
<use href="#gN215" x="671.6" y="402.2"/>
<use href="#gN215" x="659.5" y="407.5"/>
<use href="#gN215" x="627.8" y="413.5"/>
<use href="#gN215" x="652.7" y="414.3"/>
<path d="M211.0,461.9 L281.5,461.9 L281.5,511.0 L211.0,511.0 Z" fill="none" stroke="#c8c8c8" stroke-width="0.6"/>
<path d="M250.8 483.8l-1-1M248.9 480.9l-0 .4M271.3 497.1l.4-.6M272.4 493.7l-.2 1.1M223.9 498.3l-.9 1M221 500.3l.5 0M251.8 467.7l-.2 .8M251.8 471.2l-.2-.9M228.9 507.5l-.6 1.4M228.2 511l-.3-.3M272.4 493.7l-.3-.4M273 490.2l-.6 1.4M266.8 474.8l-.8-.3M263.6 473.2l.9 .5M232.2 506.1l-.8 .1M228.9 507.5l.9-.6M217.4 464.1l0 1.4M215.4 467.1l1-.2M223.5 487.1l-.5-.1M219.9 486.3l1.3 .3M221.5 461.8l.1 1.1M223.8 464.6l-1-.3M246.5 494.8l-.6 1.3M245.2 498.3l.1-.4M235.7 495.9l.6 .1M239.4 495.9l-1.2 .1M241.4 485.4l1.3-.5M245 484.9l-.5-.3M235.7 495.9l-.9-.6M232 495.6l1-.4M223.9 498.3l.3-.7M227.4 496.9l-1.4-0M215.3 493.1l-.4 .6M211.6 493.4l1.5 .4M228.8 503l-.7 .1M225.2 504.4l1.1-.6M227.7 491.7l-.7 .5M224 492.5l1.1 .1M231.1 464.6l-.7-.6M228.7 461.6l.5 .9M272.4 493.7l1.3-.3M276.1 494.7l-.6-.8M212.8 510.1l.3-.8M215.4 507.2l-1 .7M268.2 470.1l.2 .6M270.6 473.1l-1-.9M247.1 491l-.1 .6M246.5 494.8l.2-1.3M266.8 488.1l.7-.9M269.7 485.5l-.7 .4M237.5 490l-.9-.5M233.8 489l1 .1M217.7 498.3l1-.1M221 500.3l-.7-1.1M279.9 504.2l-.7-.8M276.3 502.7l1.1-.1M247.1 491l.9-.8M248.5 487.3l.2 1M256 501.4l.2-1.1M256.8 497.6l-.3 .9M279.3 465.4l.7-.6M281.5 462.2l-.4 1M212.9 464.1l.9 1.1M215.4 467.1l-.3-.5M251.8 471.2l1 .6M255.8 471.1l-1 .6M236.7 475.6l.4 1.4M236.7 479.5l.4-.6M233.2 481.4l.8-.5M236.7 479.5l-1 .4M210 471.7l.4-.5M211.4 467.9l-.3 1.4M251.9 505.2l.8 .7M254.9 507.9l-.7-.7M251.8 467.7l.9 .1M255.5 466.2l-1 .9M260.6 463.1l.8-.4M264.6 463.6l-1.2-.6M254.2 462.4l.6 1.4M255.5 466.2l-.1-.5M263.7 490.6l1.1-.5M266.8 488.1l-.5 .8M240.8 466.3l-.7-.1M236.7 467l1.3-.4M266.8 474.8l1-.9M270.6 473.1l-.8-.1M211.4 467.9l-.1-1M212.9 464.1l-.8 .9M224.4 509.5l1 .3M228.2 511l-1-.5M211.4 467.9l.5 0M215.4 467.1l-1.5 .4M218.5 482.5l.4 .7M219.9 486.3l-.3-1.3M264 509l.8-.4M267.9 507.7l-1.2 .2M228.8 503l.6-.9M232.6 501.4l-1.3-.1M260 471.2l1.4 1.1M263.6 473.2l-.4 .1M216.6 502.3l.5-.6M217.7 498.3l-.1 1.4M277 471.4l-.6-.5M274.8 467.8l.4 1.3M250.8 483.8l-.9 1.2M248.5 487.3l.2-.6M260 471.2l-1 .5M255.8 471.1l1.1 .5M248.5 487.3l-1.3-.3M245 484.9l.4 1M263.7 490.6l.4 .6M267.3 492.9l-1.4-.5M232.2 506.1l1.6-.5M236.4 506.4l-.5-.7M216.9 476.5l-.8-1.2M215 472.6l.2 .7M215.3 493.1l-.2-1.6M215.5 488.9l-.3 .5M223.3 468.9l.6-.7M223.8 464.6l.4 1.4M243 489.5l.9 .2M247.1 491l-1.1-.5M242.2 504l-.8-1.2M238.7 501.4l1 .1M215.3 493.1l.5 .7M219.6 493.8l-1.6 .3M229.9 478.6l.6 .7M233.2 481.4l-1.1-.7M277.5 484.7l1.3 1.3M280.7 487.7l-.3-.2M237.1 484.1l1-0M241.4 485.4l-1.1-.7M264 509l-1.3 .1M259.8 507.5l.8 .9M228.8 503l.5 .8M228.9 507.5l.5-1.5M259.8 507.5l-.1 .8M257.7 511.4l.9-1.2M217.4 464.1l-1.2-.4M212.9 464.1l1.1-.4M269.1 464.3l-.7 .4M264.6 463.6l1.6 .8M223.9 473.3l-.5-1M223.3 468.9l-.2 1.3M243 489.5l-.8-.6M241.4 485.4l0 1.5M254.9 507.9l.2 .4M257.7 511.4l-1.3-1.3M241.2 479.8l-.9-.3M236.7 479.5l1.4-.1M277 471.4l1.5 1M281 473.4l-.5-.1M279.9 504.2l.4-1.6M280.4 499.7l.1 .7M237.1 484.1l.1-.6M236.7 479.5l.3 1.7M219.6 493.8l1-.8M224 492.5l-1.2-.2M232.2 506.1l-1.2-1M228.8 503l.5 .5M233 472.7l1.2 .4M236.7 475.6l-.7-1.1M267.9 507.7l.4-1.2M271.1 504.3l-1.2 .5M217.3 511.5l-.3-.7M215.4 507.2l.7 1.4M217.3 511.5l-1.3-.1M212.8 510.1l1 .5M240.8 466.3l1.1-.9M243.2 462.3l-.1 1.1M221.5 461.8l-1.4 .3M217.4 464.1l.7-.8M251.9 505.2l-.2-.8M249.2 501.3l1.2 1.2M248.2 508.8l-1.4 .5M243.7 510.3l.9-.2M227.4 496.9l.7 .2M232 495.6l-1.6 .9M232.2 506.1l0-1.2M232.6 501.4l-.2 1.2M225.2 504.4l.9 .2M228.9 507.5l-.9-1.3M273.7 463.1l-1 0M269.1 464.3l1.3-.5M237.1 484.1l-1.3-.3M233.2 481.4l.7 1M281.7 510.2l-1.7-.6M277.1 508.9l.7 .1M216.6 502.3l1.4-.8M221 500.3l-.8 .2M266.8 488.1l-.1 1.3M267.3 492.9l-.4-1.1M273.7 463.1l-.1 1.7M274.8 467.8l-.6-.7M219.6 493.8l.1 .6M217.7 498.3l1.1-1.7M248.6 464l.8 1.2M251.8 467.7l-.8-.6M255.5 466.2l-.1 1.7M255.8 471.1l-.2-.7M266.8 474.8l.3-1.6M268.2 470.1l-.3 .8M254.9 507.9l1.3 .1M259.8 507.5l-1.2 .3M253.5 476l.4 1.3M255.6 480.5l-.7-.9M253.5 476l-.1-1.2M251.8 471.2l.8 1.2M263.7 490.6l-.7-.7M261 486.4l.7 1.5M245.2 498.3l1.2 .8M249.2 501.3l-.8-.7M216.6 502.3l.2 .8M215.4 507.2l.9-1.6M243 489.5l.8-1.6M245 484.9l-.2 .8M210 471.7l1.4-.1M215 472.6l-1.1-.6M280.4 499.7l-1.1 1.1M276.3 502.7l.9-.4M223.9 473.3l1.4-.3M228.2 470.7l-.7 1M215.5 488.9l.8-.6M219.9 486.3l-1.4 .6M279.3 465.4l-1.5 .7M274.8 467.8l.8-.5M243.4 475.2l-.5 .6M241.2 479.8l.5-1.7M225.4 481.1l1.2-.4M229.9 478.6l-1 .9M224.4 509.5l.3-.8M225.2 504.4l-.1 1.7M267.9 507.7l.5 .5M271.3 511.5l-1.2-1.4M229.7 485.1l.3-.9M233.2 481.4l-1.5 .9M272.4 493.7l-1.4-.3M267.3 492.9l1.2 .1M251.9 505.2l-1.2 1.3M248.2 508.8l.7-.5M223.3 468.9l.7 .9M228.2 470.7l-1.7 0M233.3 512l-1.2-.2M228.2 511l1.4 .3M271.8 480.7l-.2 .9M269.7 485.5l.9-1.5M257.7 492.4l-1.7-.3M252.5 492.1l.9-.1M233 472.7l-1.7-.7M228.2 470.7l.7 .3M243.4 475.2l.5-1.2M244.7 470.1l-.2 1.3M251.8 467.7l.7 1M255.8 471.1l-1.3-.7M227.7 491.7l-.6 1.7M227.4 496.9l-.4-.9M257.7 492.4l-.6 1M256.8 497.6l-.2-1.6M263.8 496.9l.5-.8M267.3 492.9l-1.3 1.2M280.4 499.7l.7-.9M281.6 494.5l.1 1.6M261 486.4l-1.9-.2M255.7 486.2l.8-.1M212.2 484.7l.7 .7M215.5 488.9l-1-1.4M271.3 497.1l1.8-1.2M276.1 494.7l-.6 .1M277.5 484.7l1-.6M281.6 481.3l-1 1.2M250.8 483.8l1.8 .2M255.7 486.2l-.6-1M273 490.2l.7 1.4M276.1 494.7l-.8-.8M223.5 487.1l-.4 1M224 492.5l-.7-1.7M276.3 502.7l-.8-0M271.1 504.3l1.8-.8M271.8 480.7l.9-1.1M275.9 477.1l-1.2 .7M281.6 494.5l-1.5-.5M276.1 494.7l1.3-.5M240.8 466.3l.4 1.5M244.7 470.1l-1.5-.4M255.6 480.5l1.4-.5M260.2 477.4l-.8 1M265.9 481.4l.6 .7M269.7 485.5l-1.3-1.3M238.7 501.4l.2-1.7M239.4 495.9l-.1 1.1M260.2 477.4l.8-.5M263.6 473.2l-.9 1.6M256 501.4l-1.2 .7M251.9 505.2l.8-1.1M241.4 485.4l.5-1.2M241.2 479.8l.6 1.5M268.2 470.1l-1.7 .7M263.6 473.2l.6-.9M279.9 504.2l-.5 .7M277.1 508.9l.9-1.7M243 489.5l-1.6 .3M237.5 490l1.2 .1M236.4 506.4l1-1.2M238.7 501.4l-.1 1.4M215 472.6l.6-1.4M215.4 467.1l.4 1.3M262.7 502.7l-.9 1.6M259.8 507.5l.6-.8M247.1 491l1.2 .6M252.5 492.1l-1.5 .1M248.9 480.9l-1.3 .8M245 484.9l.6-1.2M227.4 496.9l-1.2-1M224 492.5l.5 1.2M229.7 485.1l.6 .6M233.8 489l-1.4-1.3M248.6 464l-1.7-.5M243.2 462.3l1 .4M215.3 493.1l.4 1.2M217.7 498.3l-.8-1.4M255.6 480.5l.6 1.6M255.7 486.2l.6-1.2M212.2 484.7l.1-1.7M210.8 479.1l.8 1M228.7 461.6l-1.4 .2M223.8 464.6l1.1-1.3M227.7 491.7l1.3 .8M232 495.6l-.8-1.1M277 471.4l-.5 .8M275.9 477.1l-0-2M232 495.6l-.2 1.2M232.6 501.4l-.5-1.7M250.8 483.8l1.1-.3M255.6 480.5l-1.3 1.3M273 490.2l-.6-1.5M269.7 485.5l1.1 .9M248.6 464l1.2-.8M254.2 462.4l-1.6-0M268.2 470.1l.7-1.6M269.1 464.3l.3 1.3M225.4 481.1l1.4 1.3M229.7 485.1l-.7-.7M225.2 504.4l-.6-1.6M221 500.3l1.5 .4M265.9 481.4l1.3-.3M271.8 480.7l-1.7 0M237.1 484.1l-.4 1.9M237.5 490l-.6-1M215 472.6l-1.1-.9M211.4 467.9l.7 1.5M263.8 496.9l-.3 .9M262.7 502.7l.3-2M260.6 463.1l-1.4 .5M255.5 466.2l1.2-1.1M273.7 463.1l.8 .1M279.3 465.4l-1.9-1M211.6 493.4l1.1-1.7M215.5 488.9l-.9 .6M261 486.4l1.2 .3M266.8 488.1l-1.7-.5M231.1 464.6l1.5 .2M236.7 467l-1.4-1M232.6 501.4l1.8-.3M238.7 501.4l-1.3-.3M257.7 492.4l1.8-.2M263.7 490.6l-1.2 .6M216.9 476.5l-0 1.1M218.5 482.5l-.8-1.9M235.7 495.9l.2-1.2M237.5 490l-.7 1.7M236.7 475.6l1 .9M241.2 479.8l-1.2-1.2M252.5 492.1l-.6-1.5M248.5 487.3l1.4 .9M242.2 504l-1.7 .4M236.4 506.4l1.2-.8M223.5 487.1l.7 .6M227.7 491.7l-1.4-1.7M245.2 498.3l-2-.4M239.4 495.9l.9 .7M281.7 510.2l-.4-1.1M279.9 504.2l.5 1.9M260 471.2l.6 1.3M260.2 477.4l.5-1.8M223.9 498.3l-.9-.6M219.6 493.8l1.3 1.6M271.3 511.5l1.1-.4M277.1 508.9l-1.8 .9M276.3 502.7l.4 2.1M277.1 508.9l0-1M223.5 487.1l.9-1.8M225.4 481.1l-0 1.2M275.9 477.1l1.4-1.4M281 473.4l-1.1 .4M264 509l-.4-1.7M262.7 502.7l.2 1.4M236.4 506.4l-1.3 1.2M233.3 512l.3-1.5M217.4 464.1l1.4 .1M223.8 464.6l-1.8-.1M277 471.4l.3-1.9M279.3 465.4l-.8 1.1M242.2 504l.6-1.5M245.2 498.3l-.9 1.4M260.6 463.1l-2 0M254.2 462.4l1.2 .4M229.9 478.6l-.4 1.1M229.7 485.1l-.3-2.1M281.6 481.3l-.4 1.5M280.7 487.7l0-1.7M242.2 504l-0 1.7M243.7 510.3l-.8-1.5M257.7 492.4l-.3-1.5M255.7 486.2l.8 1.6M216.6 502.3l-1.4-.4M210.1 502.9l1.9-.7M256 501.4l-.4 1.5M254.9 507.9l.2-1.8M246.5 494.8l1-.8M252.5 492.1l-2 .6M216.9 476.5l-2.1 .7M210.8 479.1l1-.7M270.6 473.1l1.4 1M275.9 477.1l-1.2-1M212.2 484.7l1.4-.8M218.5 482.5l-1.8 .3M233 472.7l-1.4 1.3M229.9 478.6l.2-1.7M243.4 475.2l-1.2 .2M236.7 475.6l2.1-0M265.9 481.4l-.1-1.5M266.8 474.8l-.5 1.9M264 509l-1.9 .6M257.7 511.4l1.2-.7M269.1 464.3l1.6 1.4M274.8 467.8l-1.3-.3M253.5 476l-1.3 1.3M248.9 480.9l1-1.1M231.1 464.6l-.2 1.9M228.2 470.7l1.3-1.2M253.5 476l1.8 .5M260.2 477.4l-1.5-.2M256 501.4l-1.8-.1M249.2 501.3l1.6-.1M215.4 507.2l-1.6-.7M210.1 502.9l1 1.5M277.5 484.7l1.1-.7M216.9 476.5l-1.4-.1M260.6 463.1l1.3-.2M281.7 510.2l.2 1.6M281.7 510.2l1.5 0M221.5 461.8l.1 1.5M221.5 461.8l-1.5-.5M248.6 464l.8-1.5M223.9 473.3l-.9 1.4M223.9 473.3l-.3-1.5M212.2 484.7l1.6-.4M246.5 494.8l-1.1-1M243.4 475.2l-1 1M271.3 497.1l-1.4-.3M271.3 497.1l-.6 1.2M233 472.7l.9 .9M231.1 464.6l1.3 .9M265.9 481.4l-1.5 .5M271.8 480.7l.9 1.4M210 471.7l-0 1.5M281.6 481.3l-.3-1.4M280.4 499.7l-.7 1.3M217.3 511.5l-1.4 .8M217.3 511.5l.8-1.4M223.3 468.9l-1.1 1.1M224.4 509.5l.5 1.2M224.4 509.5l1.6-.6M240.8 466.3l-.6-1.4M212.8 510.1l-1.3 1M281.6 494.5l-.3-1.3M281.6 494.5l-.4 1.6M211.6 493.4l-.6 1.1M233.3 512l-1.4 .2M233.3 512l.5-1.6M263.8 496.9l-1.2 1M235.7 495.9l-.5-1.4M261 486.4l.6 1.2M228.7 461.6l-1.3 .1M219.9 486.3l1.5 .2M271.1 504.3l-1-1M271.1 504.3l-1.4 .2M273.7 463.1l1.3 .4M243.2 462.3l1.2 .6M270.6 473.1l1.4-0M244.7 470.1l-1.4 .8M244.7 470.1l1.4 .5M262.7 502.7l-1-1M280.7 487.7l.8-1.4M280.7 487.7l1.3 .2M251.8 471.2l1.3 .7M239.4 495.9l-1.3-.1M271.3 511.5l1.3-.3M271.3 511.5l.6-1.5M210.8 479.1l-1.3 1M281.5 462.2l1.4-.4M281.5 462.2l-0 1.7M264.6 463.6l-1.2-.6M264.6 463.6l-1.1 1.1M281 473.4l-.9-1.1M248.2 508.8l1.2-.8M248.2 508.8l-.8 1.4M228.2 511l-.1-1.5M212.9 464.1l.6 1.2M257.7 511.4l-.9 1.2M233.8 489l-1.5-0M233.8 489l-1.6-.4M236.7 467l1-1M210.1 502.9l1.5-.1M243.7 510.3l-1.3 .9M243.7 510.3l-.2 1.6" stroke="#4c58d0" stroke-width="1.0" fill="none" stroke-opacity="1"/>
<path d="M249.8 482.8l-1-1l0-.4M271.7 496.5l.4-.6l.2-1.1M223 499.3l-.9 1l-.5-0M251.6 468.6l-.2 .8l.2 .9M228.2 508.9l-.6 1.4l.3 .3M272.1 493.3l-.3-.4l.6-1.4M266.1 474.4l-.8-.3l-.9-.5M231.4 506.2l-.8 .1l-.9 .6M217.4 465.4l0 1.4l-1 .2M223 487l-.5-.1l-1.3-.3M221.6 462.9l.1 1.1l1 .3M245.9 496.1l-.6 1.3l-.1 .4M236.3 496l.6 .1l1.2-.1M242.7 484.9l1.3-.5l.5 .3M234.8 495.3l-.9-.6l-1 .4M224.2 497.6l.3-.7l1.4 0M215 493.7l-.4 .6l-1.5-.4M228.1 503.1l-.7 .1l-1.1 .6M227 492.2l-.7 .5l-1.1-.1M230.4 463.9l-.7-.6l-.5-.9M273.7 493.4l1.3-.3l.6 .8M213.1 509.3l.3-.8l1-.7M268.3 470.7l.2 .6l1 .9M247 491.5l-.1 .6l-.2 1.3M267.5 487.1l.7-.9l.7-.4M236.6 489.6l-.9-.5l-1-.1M218.7 498.2l1-.1l.7 1.1M279.2 503.4l-.7-.8l-1.1 .1M248 490.2l.9-.8l-.2-1M256.2 500.4l.2-1.1l.3-.9M280 464.8l.7-.6l.4-1M213.8 465.2l.9 1.1l.3 .5M252.8 471.8l1 .6l1-.6M237.1 477l.4 1.4l-.4 .6M234 480.8l.8-.5l1-.4M210.5 471.2l.4-.5l.3-1.4M252.7 505.9l.8 .7l.7 .7M252.6 467.8l.9 .1l1-.9M261.4 462.7l.8-.4l1.2 .6M254.8 463.8l.6 1.4l.1 .5M264.7 490.1l1.1-.5l.5-.8M240.1 466.2l-.7-.1l-1.3 .4M267.9 473.8l1-.9l.8 .1M211.3 466.9l-.1-1l.8-.9M225.3 509.7l1 .3l1 .5M211.9 468l.5 0l1.5-.4M218.9 483.1l.4 .7l.3 1.3M264.7 508.5l.8-.4l1.2-.2M229.4 502.1l.6-.9l1.3 .1M261.4 472.2l1.4 1.1l.4-.1M217.1 501.7l.5-.6l.1-1.4M276.3 470.9l-.6-.5l-.4-1.3M249.9 485l-.9 1.2l-.2 .6M259 471.6l-1 .5l-1.1-.5M247.2 487.1l-1.3-.3l-.4-1M264.1 491.2l.4 .6l1.4 .5M233.8 505.6l1.6-.5l.5 .7M216.1 475.3l-.8-1.2l-.2-.7M215.2 491.5l-.2-1.6l.3-.5M223.9 468.2l.6-.7l-.4-1.4M243.9 489.7l.9 .2l1.1 .5M241.4 502.8l-.8-1.2l-1-.1M215.8 493.8l.5 .7l1.6-.3M230.5 479.3l.6 .7l1.1 .7M278.8 486.1l1.3 1.3l.3 .2M238.2 484.1l1-0l1.1 .7M262.7 509.1l-1.3 .1l-.8-.9M229.3 503.8l.5 .8l-.5 1.5M259.7 508.3l-.1 .8l-.9 1.2M216.2 463.7l-1.2-.4l-1.1 .4M268.4 464.7l-.7 .4l-1.6-.8M223.4 472.4l-.5-1l.2-1.3M242.2 489l-.8-.6l-0-1.5M255 508.3l.2 .4l1.3 1.3M240.4 479.5l-.9-.3l-1.4 .1M278.5 472.4l1.5 1l.5 .1M280.3 502.6l.4-1.6l-.1-.7M237.3 483.5l.1-.6l-.3-1.7M220.6 493l1-.8l1.2 .2M231 505.1l-1.2-1l-.5-.5M234.2 473.1l1.2 .4l.7 1.1M268.3 506.5l.4-1.2l1.2-.5M217 510.7l-.3-.7l-.7-1.4M216 511.3l-1.3-.1l-1-.5M241.8 465.4l1.1-.9l.1-1.1M220.1 462.1l-1.4 .3l-.7 .8M251.8 504.4l-.2-.8l-1.2-1.2M246.8 509.3l-1.4 .5l-.9 .2M228.1 497.2l.7 .2l1.6-.9M232.2 505l0-1.2l.2-1.2M226.2 504.6l.9 .2l.9 1.3M272.7 463.1l-1 0l-1.3 .5M235.8 483.8l-1.3-.3l-.7-1M280 509.6l-1.7-.6l-.7-.1M218 501.5l1.4-.8l.8-.2M266.6 489.3l-.1 1.3l.4 1.1M273.6 464.8l-.1 1.7l.6 .7M219.7 494.4l.1 .6l-1.1 1.7M249.3 465.3l.8 1.2l.8 .6M255.4 468l-.1 1.7l.2 .7M267.2 473.2l.3-1.6l.3-.8M256.2 508l1.3 .1l1.2-.3M253.9 477.3l.4 1.3l.7 .9M253.5 474.8l-.1-1.2l-.8-1.2M263 490l-.7-.7l-.7-1.5M246.4 499l1.2 .8l.8 .7M216.8 503.1l.2 .8l-.9 1.6M243.9 488l.8-1.6l.2-.8M211.4 471.6l1.4-.1l1.1 .6M279.3 500.7l-1.1 1.1l-.9 .4M225.3 473l1.4-.3l.7-1M216.3 488.2l.8-.6l1.4-.6M277.8 466.1l-1.5 .7l-.8 .5M242.8 475.8l-.5 .6l-.5 1.7M226.6 480.7l1.2-.4l1-.9M224.7 508.6l.3-.8l.1-1.7M268.4 508.2l.5 .5l1.2 1.4M230 484.2l.3-.9l1.5-.9M271 493.4l-1.4-.3l-1.2-.1M250.7 506.5l-1.2 1.3l-.7 .5M224.1 469.8l.7 .9l1.7-0M232.1 511.8l-1.2-.2l-1.4-.3M271.6 481.6l-.2 .9l-.9 1.5M256 492.1l-1.7-.3l-.9 .1M231.3 472l-1.7-.7l-.7-.3M243.9 473.9l.5-1.2l.2-1.3M252.5 468.7l.7 1l1.3 .7M227.2 493.4l-.6 1.7l.4 .9M257.1 493.4l-.6 1l.2 1.6M264.3 496.1l.5-.8l1.3-1.2M281.1 498.7l.7-.9l-.1-1.6M259.1 486.2l-1.9-.2l-.8 .1M212.9 485.4l.7 .7l1 1.4M273.1 495.9l1.8-1.2l.6-.1M278.5 484.2l1-.6l1-1.2M252.6 484l1.8 .2l.6 1M273.8 491.6l.7 1.4l.8 .8M223.1 488.1l-.4 1l.7 1.7M275.5 502.7l-.8-0l-1.8 .8M272.7 479.6l.9-1.1l1.2-.7M280.1 494l-1.5-.5l-1.3 .5M241.2 467.8l.4 1.5l1.5 .4M257.1 480l1.4-.5l.8-1M266.5 482.1l.6 .7l1.3 1.3M239 499.7l.2-1.7l.1-1.1M261 476.9l.8-.5l.9-1.6M254.8 502.2l-1.2 .7l-.8 1.1M241.9 484.1l.5-1.2l-.6-1.5M266.5 470.7l-1.7 .7l-.6 .9M279.4 504.9l-.5 .7l-.9 1.7M241.5 489.9l-1.6 .3l-1.2-.1M237.4 505.3l1-1.2l.1-1.4M215.6 471.2l.6-1.4l-.4-1.3M261.9 504.3l-.9 1.6l-.6 .8M248.3 491.6l1.2 .6l1.5-.1M247.6 481.7l-1.3 .8l-.6 1.2M226.2 495.9l-1.2-1l-.5-1.2M230.3 485.7l.6 .6l1.4 1.3M246.9 463.6l-1.7-.5l-1-.4M215.7 494.3l.4 1.2l.8 1.4M256.2 482.1l.6 1.6l-.6 1.2M212.3 482.9l.1-1.7l-.8-1M227.3 461.8l-1.4 .2l-1.1 1.3M229 492.5l1.3 .8l.8 1.1M276.4 472.3l-.5 .8l0 2M231.7 496.7l-.2 1.2l.5 1.7M251.9 483.5l1.1-.3l1.3-1.3M272.4 488.7l-.6-1.5l-1.1-.9M249.8 463.2l1.2-.8l1.6 0M268.9 468.4l.7-1.6l-.3-1.3M226.8 482.4l1.4 1.3l.7 .7M224.6 502.8l-.6-1.6l-1.5-.4M267.2 481.1l1.3-.3l1.7-0M236.7 486l-.4 1.9l.6 1M213.9 471.8l-1.1-.9l-.7-1.5M263.6 497.8l-.3 .9l-.3 2M259.2 463.6l-1.4 .5l-1.2 1.1M274.6 463.3l.8 .1l1.9 1M212.7 491.7l1.1-1.7l.9-.6M262.2 486.7l1.2 .3l1.7 .5M232.6 464.7l1.5 .2l1.4 1M234.3 501.1l1.8-.3l1.3 .3M259.5 492.2l1.8-.2l1.2-.6M216.9 477.6l-0 1.1l.8 1.9M235.9 494.7l.2-1.2l.7-1.7M237.7 476.5l1 .9l1.2 1.2M252 490.5l-.6-1.5l-1.4-.9M240.5 504.4l-1.7 .4l-1.2 .8M224.2 487.7l.7 .6l1.4 1.7M243.2 497.8l-2-.4l-.9-.7M281.3 509.1l-.4-1.1l-.5-1.9M260.6 472.5l.6 1.3l-.5 1.8M223 497.7l-.9-.6l-1.3-1.6M272.4 511.1l1.1-.4l1.8-.9M276.7 504.8l.4 2.1l-0 1M224.4 485.3l.9-1.8l0-1.2M277.3 475.7l1.4-1.4l1.1-.4M263.6 507.3l-.4-1.7l-.2-1.4M235.1 507.7l-1.3 1.2l-.3 1.5M218.8 464.2l1.4 .1l1.8 .1M277.3 469.5l.3-1.9l.8-1.1M242.8 502.5l.6-1.5l.9-1.4M258.6 463.2l-2 0l-1.2-.4M229.5 479.8l-.4 1.1l.3 2.1M281.2 482.8l-.4 1.5l-0 1.7M242.1 505.7l-0 1.7l.8 1.5M257.5 490.9l-.3-1.5l-.8-1.6M215.2 501.9l-1.4-.4l-1.9 .7M255.6 502.9l-.4 1.5l-.2 1.8M247.5 494l1-.8l2-.6M214.8 477.1l-2.1 .7l-1 .7M272 474.1l1.4 1l1.2 1M213.6 483.8l1.4-.8l1.8-.3M231.7 474l-1.4 1.3l-.2 1.7M242.2 475.4l-1.2 .2l-2.1 0M265.9 480l-.1-1.5l.5-1.9M262 509.5l-1.9 .6l-1.2 .7M270.6 465.7l1.6 1.4l1.3 .3M252.2 477.3l-1.3 1.3l-1 1.1M230.9 466.4l-.2 1.9l-1.3 1.2M255.3 476.5l1.8 .5l1.5 .2M254.2 501.3l-1.8-.1l-1.6 .1M213.8 506.5l-1.6-.7l-1-1.5M278.6 484l1.1-.7M215.4 476.4l-1.4-.1M262 462.9l1.3-.2M281.9 511.8l.2 1.6M283.2 510.2l1.5 0M221.6 463.3l.1 1.5M220 461.3l-1.5-.5M249.4 462.6l.8-1.5M222.9 474.7l-.9 1.4M223.6 471.8l-.3-1.5M213.8 484.3l1.6-.4M245.4 493.7l-1.1-1M242.4 476.2l-1 1M270 496.8l-1.4-.3M270.7 498.3l-.6 1.2M233.9 473.7l.9 .9M232.4 465.5l1.3 .9M264.4 481.9l-1.5 .5M272.7 482.1l.9 1.4M210 473.2l-0 1.5M281.3 479.9l-.3-1.4M279.7 500.9l-.7 1.3M215.9 512.2l-1.4 .8M218.1 510l.8-1.4M222.2 470l-1.1 1.1M224.9 510.7l.5 1.2M225.9 508.8l1.6-.6M240.2 464.9l-.6-1.4M211.5 511.1l-1.3 1M281.3 493.2l-.3-1.3M281.2 496.1l-.4 1.6M210.9 494.6l-.6 1.1M231.8 512.1l-1.4 .2M233.8 510.4l.5-1.6M262.6 497.9l-1.2 1M235.2 494.5l-.5-1.4M261.6 487.6l.6 1.2M227.3 461.7l-1.3 .1M221.5 486.5l1.5 .2M270.1 503.3l-1-1M269.7 504.4l-1.4 .2M275 463.5l1.3 .4M244.4 462.9l1.2 .6M271.9 473.1l1.4-0M243.3 470.9l-1.4 .8M246.1 470.7l1.4 .5M261.7 501.8l-1-1M281.5 486.4l.8-1.4M282 488l1.3 .2M253.1 471.9l1.3 .7M238.1 495.8l-1.3-.1M272.6 511.2l1.3-.3M271.9 510l.6-1.5M209.5 480.1l-1.3 1M282.9 461.7l1.4-.4M281.5 463.8l-0 1.7M263.4 462.9l-1.2-.6M263.6 464.7l-1.1 1.1M280.1 472.3l-.9-1.1M249.4 508l1.2-.8M247.4 510.2l-.8 1.4M228.1 509.4l-.1-1.5M213.5 465.3l.6 1.2M256.8 512.6l-.9 1.2M232.3 489l-1.5-0M232.1 488.6l-1.6-.4M237.8 466l1-1M211.6 502.8l1.5-.1M242.4 511.2l-1.3 .9M243.5 511.9l-.2 1.6" stroke="#c03030" stroke-width="1.0" fill="none" stroke-opacity="1"/>
<path d="M280.1 487.4h0M271.8 492.9h0M219.4 500.7h0M244.7 486.4h0M268.3 486.2h0M244 484.4h0M217.1 487.6h0M239.2 498h0M234.6 493.1h0M212.2 505.8h0M219.3 483.8h0M251.6 503.7h0M248.9 481.7h0M273.9 510.8h0M214.5 513h0M229.8 504.5h0M226.7 472.7h0M212.3 468h0M257.3 486.1h0M231.5 497.9h0M230.3 493.3h0M260.1 510.1h0M262.2 462.3h0M212.8 477.8h0M215.4 483.9h0M257.2 489.4h0M222.5 487h0M243.4 501.1h0M241.9 471.8h0M256.8 483.8h0M258 472.1h0M239.2 484h0M271.6 463.2h0M257.5 508.1h0M210.3 495.7h0M214.9 483h0M259.6 509.1h0M230.5 488.2h0M263.4 487h0M230.4 512.3h0M277.6 467.6h0M283.4 488.2h0M227.4 503.2h0M242.3 476.4h0M244.3 492.7h0M273.3 473.1h0M241.4 488.4h0M236.1 493.5h0M268.7 505.3h0M224.5 467.5h0M228 507.9h0M276.4 466.8h0M244.3 472.7h0M264.7 495.3h0M213.5 486.1h0M223.2 470.3h0M242.9 464.5h0M238.7 477.4h0M255.4 469.7h0M216.3 494.4h0M245.6 463.6h0M238.8 465h0M230.3 475.3h0M245.3 497.5h0M280.9 497.6h0M273.4 475h0M253.8 472.4h0" stroke="#c01818" stroke-width="2.50" stroke-linecap="round"/>
<path d="M279.7 487h0M271.4 492.5h0M219 500.3h0M244.3 486h0M267.9 485.8h0M243.6 484h0M216.7 487.2h0M238.8 497.6h0M234.2 492.7h0M211.8 505.4h0M218.9 483.4h0M251.2 503.3h0M248.5 481.3h0M273.5 510.4h0M214.1 512.6h0M229.4 504.1h0M226.3 472.3h0M211.9 467.6h0M256.9 485.7h0M231.1 497.5h0M229.9 492.9h0M259.7 509.7h0M261.8 461.9h0M212.4 477.4h0M215 483.5h0M256.8 489h0M222.1 486.6h0M243 500.7h0M241.5 471.4h0M256.4 483.4h0M257.6 471.7h0M238.8 483.6h0M271.2 462.8h0M257.1 507.7h0M209.9 495.3h0M214.5 482.6h0M259.2 508.7h0M230.1 487.8h0M263 486.6h0M230 511.9h0M277.2 467.2h0M283 487.8h0M227 502.8h0M241.9 476h0M243.9 492.3h0M272.9 472.7h0M241 488h0M235.7 493.1h0M268.3 504.9h0M224.1 467.1h0M227.6 507.5h0M276 466.4h0M243.9 472.3h0M264.3 494.9h0M213.1 485.7h0M222.8 469.9h0M242.5 464.1h0M238.3 477h0M255 469.3h0M215.9 494h0M245.2 463.2h0M238.4 464.6h0M229.9 474.9h0M244.9 497.1h0M280.5 497.2h0M273 474.6h0M253.4 472h0" stroke="#f07070" stroke-width="1.00" stroke-linecap="round" stroke-opacity="0.8"/>
<path d="M248.2 508.8h0M256.8 497.6h0M264 509h0M247.1 491h0M271.3 511.5h0M257.7 492.4h0M267.9 507.7h0M240.8 466.3h0M225.2 504.4h0M236.7 467h0M232.2 506.1h0M277.1 508.9h0M223.9 473.3h0M264.6 463.6h0M255.8 471.1h0M232.6 501.4h0M244.7 470.1h0M217.7 498.3h0M232 495.6h0M238.7 501.4h0M233.2 481.4h0M212.8 510.1h0M228.9 507.5h0M251.9 505.2h0M219.6 493.8h0M281.7 510.2h0M223.3 468.9h0M229.9 478.6h0M241.4 485.4h0M221.5 461.8h0M228.8 503h0M228.7 461.6h0M227.7 491.7h0M275.9 477.1h0M268.2 470.1h0M277.5 484.7h0M243.2 462.3h0M270.6 473.1h0M261 486.4h0M212.2 484.7h0" stroke="#3c46c8" stroke-width="3.80" stroke-linecap="round"/>
<path d="M247.6 508.2h0M256.2 497h0M263.4 508.4h0M246.5 490.3h0M270.7 510.9h0M257.1 491.8h0M267.3 507.1h0M240.2 465.7h0M224.6 503.8h0M236.1 466.4h0M231.6 505.5h0M276.4 508.3h0M223.3 472.7h0M264 463h0M255.2 470.5h0M232 500.8h0M244.1 469.5h0M217 497.7h0M231.4 495h0M238.1 500.8h0M232.6 480.8h0M212.2 509.5h0M228.2 506.9h0M251.3 504.6h0M219 493.2h0M281.1 509.6h0M222.7 468.3h0M229.3 478h0M240.7 484.8h0M220.9 461.2h0M228.2 502.4h0M228.1 461h0M227.1 491.1h0M275.3 476.5h0M267.6 469.5h0M276.9 484.1h0M242.6 461.7h0M270 472.5h0M260.4 485.8h0M211.6 484.1h0" stroke="#a0a6ff" stroke-width="1.52" stroke-linecap="round" stroke-opacity="0.8"/>
<path d="M255.2 508.8h0M261.8 476.3h0M227.9 480.4h0M279.5 483.6h0M222 500.3h0M278.8 474.3h0M256 513.8h0M261.4 498.8h0M280 473.3h0M228.2 483.7h0M233.8 508.9h0M265.3 474.1h0M273.5 510.7h0M282.3 485h0M255.2 504.4h0M224.8 470.7h0M234.3 508.9h0M269.7 493.2h0M245.8 486.8h0M238.8 504.8h0M224.5 496.9h0M243.2 513.4h0M235.4 473.4h0M273.5 483.5h0M218.5 460.8h0M229.6 463.3h0M244.8 489.9h0M278.7 493.6h0M214 476.3h0M261.4 509.2h0M280.7 501.1h0M216.2 469.8h0M245.4 509.9h0M241.5 477.3h0M227.5 508.2h0M241 475.5h0M263.3 498.7h0M234.6 483.5h0M264.8 471.4h0M279 502.2h0M226.3 510h0M281 507.9h0M251.5 469.4h0M255.4 465.3h0M257.2 477h0M225.4 511.9h0M267.5 471.6h0M212.8 470.9h0M275 493h0M262.9 482.4h0M275.7 470.3h0M217.1 504h0M224.9 494.8h0M261.2 491.9h0M271.4 482.5h0M278.5 502.6h0M261 505.9h0M230.8 488.9h0M248.5 493.2h0M253.5 506.6h0M215.1 463.3h0M217.5 501.2h0M226 462.1h0M226 461.8h0M267.1 482.8h0M221.1 471.1h0M230.7 468.3h0M278.2 501.8h0M225.3 483.5h0M227.6 510.4h0M222.9 471.4h0M237.4 482.9h0M262.2 488.8h0M221.7 464.8h0M249.5 492.2h0M266.5 490.6h0M222 476.1h0M284.7 510.2h0M214.6 494.3h0M224.9 488.3h0" stroke="#c01818" stroke-width="2.50" stroke-linecap="round"/>
<path d="M254.8 508.4h0M261.4 475.9h0M227.5 480h0M279.1 483.2h0M221.6 499.9h0M278.4 473.9h0M255.6 513.4h0M261 498.4h0M279.6 472.9h0M227.8 483.3h0M233.4 508.5h0M264.9 473.7h0M273.1 510.3h0M281.9 484.6h0M254.8 504h0M224.4 470.3h0M233.9 508.5h0M269.3 492.8h0M245.4 486.4h0M238.4 504.4h0M224.1 496.5h0M242.8 513h0M235 473h0M273.1 483.1h0M218.1 460.4h0M229.2 462.9h0M244.4 489.5h0M278.3 493.2h0M213.6 475.9h0M261 508.8h0M280.3 500.7h0M215.8 469.4h0M245 509.5h0M241.1 476.9h0M227.1 507.8h0M240.6 475.1h0M262.9 498.3h0M234.2 483.1h0M264.4 471h0M278.6 501.8h0M225.9 509.6h0M280.6 507.5h0M251.1 469h0M255 464.9h0M256.8 476.6h0M225 511.5h0M267.1 471.2h0M212.4 470.5h0M274.6 492.6h0M262.5 482h0M275.3 469.9h0M216.7 503.6h0M224.5 494.4h0M260.8 491.5h0M271 482.1h0M278.1 502.2h0M260.6 505.5h0M230.4 488.5h0M248.1 492.8h0M253.1 506.2h0M214.7 462.9h0M217.1 500.8h0M225.6 461.7h0M225.6 461.4h0M266.7 482.4h0M220.7 470.7h0M230.3 467.9h0M277.8 501.4h0M224.9 483.1h0M227.2 510h0M222.5 471h0M237 482.5h0M261.8 488.4h0M221.3 464.4h0M249.1 491.8h0M266.1 490.2h0M221.6 475.7h0M284.3 509.8h0M214.2 493.9h0M224.5 487.9h0" stroke="#f07070" stroke-width="1.00" stroke-linecap="round" stroke-opacity="0.8"/>
<path d="M263.6 473.2h0M277 471.4h0M221 500.3h0M248.6 464h0M237.5 490h0M279.3 465.4h0M216.6 502.3h0M250.8 483.8h0M257.7 511.4h0M276.3 502.7h0M243 489.5h0M281.6 481.3h0M236.7 479.5h0M281.6 494.5h0M271.3 497.1h0M242.2 504h0M215.4 507.2h0M259.8 507.5h0M260 471.2h0M248.5 487.3h0M212.9 464.1h0M228.2 470.7h0M237.1 484.1h0M269.1 464.3h0M279.9 504.2h0M215.3 493.1h0M276.1 494.7h0" stroke="#3c46c8" stroke-width="3.80" stroke-linecap="round"/>
<path d="M263 472.6h0M276.4 470.8h0M220.4 499.7h0M248 463.4h0M236.9 489.4h0M278.7 464.8h0M216 501.7h0M250.2 483.2h0M257.1 510.8h0M275.7 502.1h0M242.4 488.9h0M281 480.7h0M236.1 478.9h0M281 493.9h0M270.7 496.5h0M241.6 503.4h0M214.8 506.6h0M259.2 506.9h0M259.4 470.6h0M247.9 486.7h0M212.3 463.5h0M227.6 470.1h0M236.5 483.5h0M268.5 463.7h0M279.3 503.6h0M214.7 492.5h0M275.5 494.1h0" stroke="#a0a6ff" stroke-width="1.52" stroke-linecap="round" stroke-opacity="0.8"/>
<path d="M279.7 483.3h0M254.2 478.6h0M275.9 473.1h0M247.5 471.2h0M213.4 508.6h0M253.5 467.9h0M226.6 495.1h0M234.7 480.3h0M274.5 493h0M210.2 512.1h0M268.6 496.5h0M284.3 461.3h0M233.9 494.7h0M261.2 473.8h0M230.9 486.3h0M257.8 464.1h0M239.6 463.6h0M248.9 489.4h0M263.3 462.7h0M226.3 492.7h0M241.6 469.4h0M264.6 491.8h0M220.2 464.3h0M270.1 499.5h0M280.7 464.2h0M212.4 481.2h0M246.6 511.6h0M212.8 471.5h0M232.2 503.8h0M213 502.7h0M252.4 501.2h0M213.8 490h0M230.3 483.2h0M275.4 463.4h0M236.1 500.8h0M229.5 471.3h0M250.1 466.5h0M239.9 490.2h0M274.6 502.6h0M235.4 505.1h0M254.4 472.6h0M272 495.9h0M224.1 501.2h0M239.5 479.2h0M246.9 492.1h0M262.8 473.3h0M210 474.7h0M253 483.2h0M268.5 471.3h0M230 501.2h0M208.2 481.1h0M216 495.6h0M281 491.9h0M236.3 488h0M213.8 501.4h0M230.7 506.2h0M271.9 487.3h0M262.2 462.3h0M269.1 502.3h0M250.6 507.2h0M218.8 462.4h0M238.5 504.1h0M229.1 480.9h0M219.7 498.2h0M222.6 489.2h0M222.1 497.1h0M256.6 463.2h0M253.4 473.6h0M231.1 480h0M241.1 512h0M221.6 492.2h0M236.9 496.1h0M268.9 472.9h0M210.9 470.8h0" stroke="#c01818" stroke-width="2.50" stroke-linecap="round"/>
<path d="M279.3 482.9h0M253.8 478.2h0M275.5 472.7h0M247.1 470.8h0M213 508.2h0M253.1 467.5h0M226.2 494.7h0M234.3 479.9h0M274.1 492.6h0M209.8 511.7h0M268.2 496.1h0M283.9 460.9h0M233.5 494.3h0M260.8 473.4h0M230.5 485.9h0M257.4 463.7h0M239.2 463.2h0M248.5 489h0M262.9 462.3h0M225.9 492.3h0M241.2 469h0M264.2 491.4h0M219.8 463.9h0M269.7 499.1h0M280.3 463.8h0M212 480.8h0M246.2 511.2h0M212.4 471.1h0M231.8 503.4h0M212.6 502.3h0M252 500.8h0M213.4 489.6h0M229.9 482.8h0M275 463h0M235.7 500.4h0M229.1 470.9h0M249.7 466.1h0M239.5 489.8h0M274.2 502.2h0M235 504.7h0M254 472.2h0M271.6 495.5h0M223.7 500.8h0M239.1 478.8h0M246.5 491.7h0M262.4 472.9h0M209.6 474.3h0M252.6 482.8h0M268.1 470.9h0M229.6 500.8h0M207.8 480.7h0M215.6 495.2h0M280.6 491.5h0M235.9 487.6h0M213.4 501h0M230.3 505.8h0M271.5 486.9h0M261.8 461.9h0M268.7 501.9h0M250.2 506.8h0M218.4 462h0M238.1 503.7h0M228.7 480.5h0M219.3 497.8h0M222.2 488.8h0M221.7 496.7h0M256.2 462.8h0M253 473.2h0M230.7 479.6h0M240.7 511.6h0M221.2 491.8h0M236.5 495.7h0M268.5 472.5h0M210.5 470.4h0" stroke="#f07070" stroke-width="1.00" stroke-linecap="round" stroke-opacity="0.8"/>
<path d="M223.5 487.1h0M262.7 502.7h0M266.8 488.1h0M253.5 476h0M274.8 467.8h0M245.2 498.3h0M267.3 492.9h0M265.9 481.4h0M271.1 504.3h0M223.9 498.3h0M215.4 467.1h0M227.4 496.9h0M273 490.2h0M254.9 507.9h0M255.7 486.2h0M223.8 464.6h0M225.4 481.1h0M256 501.4h0M245 484.9h0M215.5 488.9h0M263.7 490.6h0M249.2 501.3h0M252.5 492.1h0M251.8 471.2h0M281.5 462.2h0M210.8 479.1h0M224.4 509.5h0M246.5 494.8h0M263.8 496.9h0M281 473.4h0M233 472.7h0M215 472.6h0M280.7 487.7h0" stroke="#3c46c8" stroke-width="3.80" stroke-linecap="round"/>
<path d="M222.9 486.5h0M262.1 502.1h0M266.2 487.5h0M252.9 475.4h0M274.2 467.2h0M244.6 497.6h0M266.6 492.3h0M265.3 480.8h0M270.5 503.7h0M223.3 497.7h0M214.8 466.5h0M226.8 496.3h0M272.4 489.6h0M254.3 507.3h0M255.1 485.6h0M223.2 464h0M224.8 480.5h0M255.4 500.8h0M244.4 484.3h0M214.9 488.2h0M263 490h0M248.6 500.7h0M251.9 491.4h0M251.2 470.6h0M280.9 461.6h0M210.2 478.5h0M223.7 508.8h0M245.9 494.2h0M263.2 496.3h0M280.4 472.8h0M232.4 472.1h0M214.4 472h0M280.1 487.1h0" stroke="#a0a6ff" stroke-width="1.52" stroke-linecap="round" stroke-opacity="0.8"/>
<path d="M249 486.2h0M233.6 466.5h0M265.8 478.5h0M253.6 502.9h0M262.5 465.8h0M249.5 507.7h0M282.1 513.3h0M272.5 508.5h0M278.9 505.5h0M279.2 471.2h0M217.4 466.8h0M225 507.8h0M214.8 511.2h0M214.1 466.5h0M276.2 464h0M211.2 465.9h0M281.8 497.8h0M272.2 467.1h0M265.8 489.6h0M253.2 469.6h0M260.7 500.8h0M263.2 505.6h0M268.9 508.7h0M267.8 465.1h0M242.4 482.9h0M247.6 499.8h0M235.8 489.1h0M216.8 478.8h0M237.5 478.4h0M223 486.7h0M273.6 478.4h0M214.8 466.2h0M269.7 466.8h0M251 462.4h0M221.7 464h0M278.4 509.1h0M273.5 466.4h0M236.8 495.7h0M254.4 484.2h0M256.5 494.4h0M245.2 463.1h0M258.5 479.5h0M268.4 480.8h0M215.3 474.1h0M230.9 511.6h0M240.6 501.6h0M229.8 504.1h0M262.3 489.3h0M242.1 507.3h0M228.7 497.4h0M219.8 494.9h0M218.9 508.6h0M250.9 478.6h0M281 478.5h0M246.3 482.5h0M254.3 491.8h0M216.7 510h0M251.4 489h0M250.2 461.1h0M227.1 504.8h0M239.4 466.2h0M281.5 465.5h0M234 464.9h0M277.1 506.9h0M215 489.9h0M280.8 484.3h0M241.2 497.4h0M234.9 474.6h0M274.9 494.8h0M265.5 508.1h0M268.2 504.6h0M256.3 499.3h0" stroke="#c01818" stroke-width="2.50" stroke-linecap="round"/>
<path d="M248.6 485.8h0M233.2 466.1h0M265.4 478.1h0M253.2 502.5h0M262.1 465.4h0M249.1 507.3h0M281.7 512.9h0M272.1 508.1h0M278.5 505.1h0M278.8 470.8h0M217 466.4h0M224.6 507.4h0M214.4 510.8h0M213.7 466.1h0M275.8 463.6h0M210.8 465.5h0M281.4 497.4h0M271.8 466.7h0M265.4 489.2h0M252.8 469.2h0M260.3 500.4h0M262.8 505.2h0M268.5 508.3h0M267.4 464.7h0M242 482.5h0M247.2 499.4h0M235.4 488.7h0M216.4 478.4h0M237.1 478h0M222.6 486.3h0M273.2 478h0M214.4 465.8h0M269.3 466.4h0M250.6 462h0M221.3 463.6h0M278 508.7h0M273.1 466h0M236.4 495.3h0M254 483.8h0M256.1 494h0M244.8 462.7h0M258.1 479.1h0M268 480.4h0M214.9 473.7h0M230.5 511.2h0M240.2 501.2h0M229.4 503.7h0M261.9 488.9h0M241.7 506.9h0M228.3 497h0M219.4 494.5h0M218.5 508.2h0M250.5 478.2h0M280.6 478.1h0M245.9 482.1h0M253.9 491.4h0M216.3 509.6h0M251 488.6h0M249.8 460.7h0M226.7 504.4h0M239 465.8h0M281.1 465.1h0M233.6 464.5h0M276.7 506.5h0M214.6 489.5h0M280.4 483.9h0M240.8 497h0M234.5 474.2h0M274.5 494.4h0M265.1 507.7h0M267.8 504.2h0M255.9 498.9h0" stroke="#f07070" stroke-width="1.00" stroke-linecap="round" stroke-opacity="0.8"/>
<path d="M272.4 493.7h0M241.2 479.8h0M236.4 506.4h0M217.3 511.5h0M233.8 489h0M239.4 495.9h0M260.6 463.1h0M248.9 480.9h0M231.1 464.6h0M229.7 485.1h0M218.5 482.5h0M243.7 510.3h0M269.7 485.5h0M251.8 467.7h0M219.9 486.3h0M224 492.5h0M255.5 466.2h0M211.6 493.4h0M255.6 480.5h0M266.8 474.8h0M260.2 477.4h0M210.1 502.9h0M211.4 467.9h0M280.4 499.7h0M210 471.7h0M243.4 475.2h0M271.8 480.7h0M228.2 511h0M235.7 495.9h0M233.3 512h0M236.7 475.6h0M217.4 464.1h0M273.7 463.1h0M216.9 476.5h0M254.2 462.4h0" stroke="#3c46c8" stroke-width="3.80" stroke-linecap="round"/>
<path d="M271.8 493.1h0M240.6 479.2h0M235.8 505.8h0M216.7 510.8h0M233.1 488.4h0M238.8 495.3h0M260 462.5h0M248.3 480.3h0M230.5 464h0M229 484.5h0M217.9 481.9h0M243.1 509.7h0M269 484.8h0M251.2 467.1h0M219.3 485.7h0M223.4 491.9h0M254.9 465.6h0M210.9 492.8h0M255 479.9h0M266.2 474.2h0M259.5 476.8h0M209.5 502.3h0M210.8 467.3h0M279.8 499.1h0M209.4 471.1h0M242.8 474.6h0M271.2 480.1h0M227.6 510.4h0M235.1 495.3h0M232.7 511.4h0M236.1 475h0M216.8 463.4h0M273.1 462.5h0M216.3 475.9h0M253.6 461.8h0" stroke="#a0a6ff" stroke-width="1.52" stroke-linecap="round" stroke-opacity="0.8"/>
<path d="M230.5 519.2l-.7 .5M226.9 520.9l1.1-.3M230.5 519.2l.9-1.2M234 513.6l-.8 1.6M222.2 516.1l.8 1.1M226.9 520.9l-1.6-1.3M230.5 519.2l1.1-.7M234 513.6l-.6-1.3M234 513.6l.7-1.1M234 513.6l1.3-.8M222.2 516.1l1.7-.1M222.2 516.1l-1.2 .6M222.2 516.1l-1-.9M226.9 520.9l1.3 .4" stroke="#4c58d0" stroke-width="0.85" fill="none" stroke-opacity="1"/>
<path d="M229.9 519.8l-.7 .5l-1.1 .3M231.5 518l.9-1.2l.8-1.6M223 517.2l.8 1.1l1.6 1.3M231.6 518.5l1.1-.7M233.4 512.2l-.6-1.3M234.7 512.5l.7-1.1M235.3 512.8l1.3-.8M223.9 516l1.7-.1M221 516.8l-1.2 .6M221.2 515.2l-1-.9M228.2 521.3l1.3 .4" stroke="#c03030" stroke-width="0.85" fill="none" stroke-opacity="1"/>
<path d="M232.9 510.9h0" stroke="#c01818" stroke-width="2.10" stroke-linecap="round"/>
<path d="M232.6 510.6h0" stroke="#f07070" stroke-width="0.84" stroke-linecap="round" stroke-opacity="0.8"/>
<path d="M226.9 520.9h0M222.2 516.1h0" stroke="#3c46c8" stroke-width="3.20" stroke-linecap="round"/>
<path d="M226.4 520.4h0M221.7 515.6h0" stroke="#a0a6ff" stroke-width="1.28" stroke-linecap="round" stroke-opacity="0.8"/>
<path d="M234 513.6h0M230.5 519.2h0" stroke="#3c46c8" stroke-width="3.20" stroke-linecap="round"/>
<path d="M233.5 513.1h0M230 518.7h0" stroke="#a0a6ff" stroke-width="1.28" stroke-linecap="round" stroke-opacity="0.8"/>
<path d="M232.4 516.8h0M229.2 520.3h0" stroke="#c01818" stroke-width="2.10" stroke-linecap="round"/>
<path d="M232.1 516.5h0M228.9 520h0" stroke="#f07070" stroke-width="0.84" stroke-linecap="round" stroke-opacity="0.8"/>
<path d="M219.8 517.4h0M225.5 515.9h0M232.7 517.8h0M220.2 514.2h0" stroke="#c01818" stroke-width="2.10" stroke-linecap="round"/>
<path d="M219.5 517h0M225.2 515.5h0M232.4 517.4h0M219.9 513.9h0" stroke="#f07070" stroke-width="0.84" stroke-linecap="round" stroke-opacity="0.8"/>
<path d="M236.6 512h0M229.5 521.8h0M235.4 511.4h0M223.7 518.4h0" stroke="#c01818" stroke-width="2.10" stroke-linecap="round"/>
<path d="M236.2 511.7h0M229.2 521.4h0M235.1 511h0M223.4 518h0" stroke="#f07070" stroke-width="0.84" stroke-linecap="round" stroke-opacity="0.8"/>
<path d="M297.0,461.1 L356.2,461.1 L356.2,520.3 L297.0,520.3 Z" fill="none" stroke="#c8c8c8" stroke-width="0.6"/>
<path d="M295.7 462.2l1.3 0M300.2 462.2l-.9 0M323.5 492.4l.3 1.3M322.4 496.7l.8-.9M309.1 458.8l-.4 1.3M307.7 463.1l.3-.9M329 477.4l-.6 .6M327.6 481.7l.1-1.5M294.2 480.5l-0-1.6M294.6 476l-.2 .7M298.5 478.3l-.4 .6M299.4 482.8l-.8-1.6M330.2 497.1l-.6-.7M328.2 493l.4 1.3M298.5 478.3l-1.5-.4M294.6 476l.4 .7M335.9 512.2l.6 .4M340.2 513.7l-1.6-.4M346.5 489.8l-1.3-.6M342.5 487.6l.8 .5M305.7 467.2l.7-1.1M307.7 463.1l-.2 .9M344.5 515.6l1 .1M349.1 514.8l-1.3 .5M295.6 485.5l.5-.9M299.4 482.8l-1.4 .5M312 481l1-.4M315.3 477.7l-.6 1.2M358.8 504.8l-.4-.9M354.8 502.5l1.6 .3M345.6 471.3l1.3-.2M350.3 471.5l-1-.3M295.5 495.2l.3 1.6M295.7 499.9l.2-.8M340.2 513.7l.6 .3M344.5 515.6l-1.5-.7M323.5 492.4l1.7-0M328.2 493l-.7-.3M316.6 517.2l-.3 1.5M314.7 521.6l.6-.7M343.1 506.3l.8-.3M347.1 503.8l-1.3 1M352.4 519.2l-1.8-.1M347.6 519.6l.6-.3M294.2 480.5l.7-.7M298.5 478.3l-1.5 .4M302 471.8l.1 .6M303.7 476.4l-.8-1.7M331.7 504.2l.5 .8M332.1 509l.3-1.6M350.3 471.5l.3-1.1M350.9 466.7l-.1 1.3M310.4 519.3l1.5 1M314.7 521.6l-.7-.2M323.5 492.4l.8-1.4M326.2 488.4l-.6 .6M348.5 508.5l-0-1.7M347.1 503.8l.7 .7M335.9 512.2l-.4-1M332.1 509l1.4 .6M350.3 471.5l-.6 .9M349.2 476.3l-0-1.5M343.1 506.3l-1.4 .5M338.2 507l1.1 .2M326.2 488.4l.9 1.4M328.2 493l-.1-.8M332 473l.2-1.5M331.7 468l.4 .9M313.9 462.8l-.6 .9M312.2 467.5l.2-1.4M300.2 462.2l.5-.7M302.5 457.8l-.7 1.6M347.6 519.6l1-1.7M349.1 514.8l.2 .7M347.6 519.6l-.2-.5M344.5 515.6l1.3 1.5M346.5 489.8l1.2-.1M351.4 488.4l-1.3 .6M310.8 475.1l1.5 .3M315.3 477.7l-.8-1M294.2 480.5l.5 1.8M295.6 485.5l-.2-.7M308 508.3l-.4 1.5M304.5 512.2l1.3-.5M323.5 515l.8 .5M328.7 516l-1.8 0M348.4 459.4l-1.1-.2M343.9 456.7l1.1 1.2M332 473l-1.1 1.2M329 477.4l.3-1M302 487.4l-1.1-.8M299.4 482.8l.2 1.5M326.8 471.6l1.6-.2M332 473l-1-.9M338.4 500.6l.9-1.1M343.1 498l-1.4 .2M308.4 496.2l-.5-1M305.6 491.6l.9 1.3M342.5 487.6l-1.3-.5M339.3 483.3l.3 1.6M332 460.6l1.7-.9M336.6 457.4l-.6 .7M302 487.4l1 .9M305.6 491.6l-.8-1.2M298.5 478.3l1.4-.6M303.7 476.4l-1.2 .4M352.4 519.2l-.9-.8M349.1 514.8l.8 1.4M316.6 517.2l.6 .8M320.5 521.3l-1.3-1.3M302.1 517.2l.9-1.6M304.5 512.2l-.3 .9M294.2 480.5l.8 1.1M299.4 482.8l-1.8-.1M335.9 512.2l.2-1.4M338.2 507l-1 1.2M304.7 501.5l1.2-.2M310.4 502l-1.7-.4M320.5 521.3l-1.6 .1M314.7 521.6l1.3-0M318.4 472.3l.3-1.2M321.3 467.3l-1.2 1.3M343.1 506.3l.8 0M348.5 508.5l-1.9-1M344.5 480.7l-1.7 .3M339.3 483.3l1-1M331.7 504.2l-1.6-.5M326 503.3l1.3-0M350.9 496.6l1.8-.2M356.5 495l-1 .6M335.3 487.6l1-.8M339.3 483.3l-1 1.4M320.6 480.1l-1.1-.8M315.3 477.7l1.6 .4M332 460.6l1.3 1.2M336.6 464.4l-1-.7M340.7 521.5l-1.4-.2M335.1 519.6l1.4 .8M305.7 467.2l-.8 1.7M302 471.8l1.1-.6M316.5 495.4l1.2 .5M322.4 496.7l-1.7-.1M326.8 471.6l1.8-.9M331.7 468l-.6 .9M310.8 475.1l.8 1M312 481l.2-2M312 481l-1.2 .1M306.2 482.6l1.7-.7M345.6 471.3l-1.2-.5M339.8 469.6l1.8 .3M339.8 469.6l-.3 1.2M338.4 475.5l.4-1.8M295.8 470l-.6 1.9M294.6 476l0-1.1M336.6 464.4l1 1.5M339.8 469.6l-.6-1.2M356.5 495l-.2-1.8M357.6 489l-.7 1.3M308.4 496.2l1.1 1.1M310.4 502l.1-1.8M336.6 464.4l-1.2 1.2M331.7 468l1.3-.7M345.6 471.3l.9 1.3M349.2 476.3l-.9-1.2M351.4 488.4l2.1 .5M357.6 489l-1 .2M326.8 471.6l.2 1.4M329 477.4l-.9-1.5M318.4 472.3l-.9 1.6M315.3 477.7l.7-1.1M357 515l-.9 .8M352.4 519.2l1.3-1.3M313.9 462.8l-1.3-0M307.7 463.1l1.8-.1M326.3 463.6l-1.8 .7M321.3 467.3l.7-1.2M309.1 458.8l1.1 .6M313.9 462.8l-1.3-1.4M350.9 466.7l1.4-.5M355.6 462.5l-1 1.6M348.5 508.5l.7 1.7M349.1 514.8l.4-1.4M312.2 467.5l-.7-1.1M307.7 463.1l1.6 1.1M338.4 500.6l-.2-1.1M337.2 494.4l.4 2M338.4 500.6l-.6 1.4M338.2 507l-.5-1.8M332.1 509l1.4-.7M338.2 507l-1.7 .3M295.8 470l1.4-.1M302 471.8l-1.6-1M302 487.4l1.3-.7M306.2 482.6l-.8 1.8M344.5 480.7l.9-1.5M349.2 476.3l-1.5 .7M332 460.6l-1.6 1.1M326.3 463.6l1.2-.4M304.7 501.5l.6-1M308.4 496.2l-1.3 1.7M305.7 467.2l1.2 .2M312.2 467.5l-2 0M316.6 517.2l-1.3 .7M310.4 519.3l1.8-.3M302 487.4l-2.1 .1M295.6 485.5l1.1 1M355.6 462.5l1.1-1.5M358.3 456.4l-.2 1.5M309.1 458.8l-1.2-.1M302.5 457.8l2.1 .4M306.2 482.6l-1-1.7M303.7 476.4l.2 1.4M298.3 509.7l2 .6M304.5 512.2l-1.2-.7M308 508.3l0-2M310.4 502l-1.1 1.2M316.6 517.2l-0-1.6M318.1 510.5l-.7 1.8M332 473l1.8 .6M338.4 475.5l-1.4-.7M328.2 493l-1.6 1.5M322.4 496.7l1.3-.4M326.2 488.4l.2-1.5M327.6 481.7l-.5 1.9M337.2 494.4l1.1 .9M343.1 498l-1.8-.9M326.3 463.6l.9 .6M331.7 468l-1.7-1.6M336.6 464.4l-.2-2.2M336.6 457.4l-.2 1.3M320.5 521.3l.6-1.4M323.5 515l-.9 1.7M335.3 487.6l.5 2M337.2 494.4l-.4-1.3M350.9 496.6l.9 1M354.8 502.5l-1-2M326.8 471.6l-1.1-1.2M321.3 467.3l1.7 1M323.5 515l-1.1-.6M318.1 510.5l1.7 1.7M345.6 471.3l1.4-1.5M350.9 466.7l-1.3 .9M347.1 503.8l-1.2-1.5M343.1 498l.8 1.5M340.7 521.5l.8-2M344.5 515.6l-1.2 1M344.5 480.7l-.6 1.9M342.5 487.6l.4-1.5M310.8 475.1l-1.4 .6M303.7 476.4l2.1 0M320.6 480.1l2.2 .8M327.6 481.7l-1.3-0M340.7 521.5l1.6-.3M347.6 519.6l-1.8 .7M335.3 487.6l1.3 .4M342.5 487.6l-2.3 .4M318.6 502.9l1.2-1.8M322.4 496.7l-.7 1.3M331.7 504.2l-.4-2M330.2 497.1l.4 1.5M335.1 519.6l-1.2-1M328.7 516l2 .8M343.1 506.3l-.8-.9M338.4 500.6l1.5 1.9M335.9 512.2l.1 1.7M335.1 519.6l.5-2M343.9 456.7l-2 .7M336.6 457.4l1.7 .4M318.6 502.9l2.3-.3M326 503.3l-1.4-.5M316.3 488l-.1 2.2M316.5 495.4l-.2-1.5M305.7 467.2l-1.1-1.5M300.2 462.2l1.7 1M330.2 497.1l1.7-.1M337.2 494.4l-1.8 1.2M330.2 497.1l-1.5 1.3M326 503.3l.6-1.8M323.5 492.4l-1.5 1.2M316.5 495.4l1.9-.3M304.7 501.5l1.4 1.7M308 508.3l-.3-1.7M318.6 502.9l.2 2.5M318.1 510.5l.5-1.4M350.9 466.7l-.8-2.1M348.4 459.4l.4 1.5M316.5 495.4l.2 2.2M318.6 502.9l-.8-1.5M356.5 495l-.9 1.9M354.8 502.5l0-1.8M347.1 503.8l2.4-.7M354.8 502.5l-1.4-0M310.8 475.1l.5-1.9M312.2 467.5l-.2 1.9M355.9 480.3l-1.1-1M349.2 476.3l2.2 1M328.7 516l.9-1.3M332.1 509l-.9 2.2M340.2 513.7l-1 1M335.1 519.6l1.6-1.9M338.4 475.5l.6 1.8M339.3 483.3l.1-2.1M295.7 462.2l.6 2.5M295.8 470l.5-1.4M348.4 459.4l1.8 .7M355.6 462.5l-1.8-.9M340.7 521.5l-.4-2.2M340.2 513.7l-.2 1.7M350.9 496.6l-2.3-.1M343.1 498l1.6-.7M304.7 501.5l1.5 .5M335.3 487.6l-.1-1.5M346.5 489.8l1.3 .8M346.5 489.8l1.7-.1M332 460.6l.7-1.2M309.1 458.8l-1.1 1M358.8 504.8l-1.5 .2M358.8 504.8l-1.3-.3M350.9 496.6l-1.2-.8M326.3 463.6l-.4-1.6M355.9 480.3l-.2 1.5M355.9 480.3l-.1-1.4M355.9 480.3l1 1.1M302.1 517.2l1.4 .3M302.1 517.2l-1.6-.2M316.3 488l-.6-1.5M350.3 471.5l-1.6 .3M357 515l-1.5 .1M357 515l-.7-1.2M331.7 504.2l-1.5 .2M320.6 480.1l1.3-.4M320.6 480.1l-1.4 .2M295.7 462.2l-.1 1.3M326.2 488.4l-.8-1.2M313.9 462.8l.5 1.6M298.3 509.7l.9-1M298.3 509.7l-1.5 .8M344.5 480.7l-1 .9M320.5 521.3l.8-1.2M356.5 495l1-1M351.4 488.4l-1-1.2M351.4 488.4l-.9-1.1M318.4 472.3l1.5 .1M318.4 472.3l.4-1.3M348.4 459.4l-1.4 .4M310.4 519.3l-1.4 .6M310.4 519.3l1.1-1.1M295.8 470l-1.7 .2M343.9 456.7l-.2 1.7M343.9 456.7l1.4 .2M295.5 495.2l-.6-1.2M295.5 495.2l-.2-1.4M295.5 495.2l-.4-1.4M300.2 462.2l-1.6 .2M295.6 485.5l1.6-.3M329 477.4l-1.5 .1M310.4 502l1.5 .8M326 503.3l1.5-.1M358.3 456.4l-1.1 1.1M339.8 469.6l.4-1.4M312 481l.4-1.5M323.5 515l-.7-1.1M306.2 482.6l1.2 1.1M304.5 512.2l-.3-1.3M328.7 516l-.6-1.6M305.6 491.6l-1.1-1M305.6 491.6l1.2 .6M302.5 457.8l1.2-.9M302.5 457.8l1.1 1.2M295.7 499.9l.3-1.6M302 471.8l-.9-1.1M319.6 456.2l-1.1-1.1M318.1 510.5l.6 1.3M338.4 475.5l-.3-1.4M336.6 457.4l-1.4 .4M294.6 476l-1.5 .7M357.6 489l1.3-.9M357.6 489l1.4 .7" stroke="#4c58d0" stroke-width="0.9" fill="none" stroke-opacity="1"/>
<path d="M297.1 462.2l1.3 0l.9-0M323.8 493.7l.3 1.3l-.8 .9M308.7 460.1l-.4 1.3l-.3 .9M328.4 478l-.6 .6l-.1 1.5M294.2 478.9l-0-1.6l.2-.7M298.1 478.9l-.4 .6l.8 1.6M329.6 496.4l-.6-.7l-.4-1.3M297 477.9l-1.5-.4l-.4-.7M336.5 512.6l.6 .4l1.6 .4M345.3 489.2l-1.3-.6l-.8-.5M306.5 466.1l.7-1.1l.2-.9M345.6 515.7l1 .1l1.3-.5M296.1 484.6l.5-.9l1.4-.5M313.1 480.6l1-.4l.6-1.2M358.4 503.9l-.4-.9l-1.6-.3M346.9 471.1l1.3-.2l1 .3M295.8 496.8l.3 1.6l-.2 .8M340.9 514l.6 .3l1.5 .7M325.2 492.4l1.7-0l.7 .3M316.3 518.7l-.3 1.5l-.6 .7M343.8 506l.8-.3l1.3-1M350.6 519.1l-1.8-.1l-.6 .3M294.9 479.8l.7-.7l1.5-.4M302.1 472.4l.1 .6l.8 1.7M332.2 505l.5 .8l-.3 1.6M350.5 470.4l.3-1.1l.1-1.3M311.9 520.3l1.5 1l.7 .2M324.3 491l.8-1.4l.6-.6M348.5 506.8l-0-1.7l-.7-.7M335.4 511.2l-.4-1l-1.4-.6M349.7 472.4l-.6 .9l0 1.5M341.7 506.8l-1.4 .5l-1.1-.2M327.2 489.9l.9 1.4l.1 .8M332.2 471.4l.2-1.5l-.4-.9M313.3 463.8l-.6 .9l-.2 1.4M300.7 461.5l.5-.7l.7-1.6M348.6 517.9l1-1.7l-.2-.7M347.4 519.1l-.2-.5l-1.3-1.5M347.7 489.7l1.2-.1l1.3-.6M312.2 475.4l1.5 .3l.8 1M294.7 482.3l.5 1.8l.2 .7M307.6 509.8l-.4 1.5l-1.3 .5M324.3 515.5l.8 .5l1.8-0M347.3 459.2l-1.1-.2l-1.1-1.2M330.8 474.1l-1.1 1.2l-.3 1M300.9 486.6l-1.1-.8l-.2-1.5M328.4 471.4l1.6-.2l1 .9M339.4 499.5l.9-1.1l1.4-.2M307.9 495.2l-.5-1l-.9-1.3M341.2 487.1l-1.3-.5l-.3-1.6M333.7 459.7l1.7-.9l.6-.7M303 488.3l1 .9l.8 1.2M299.9 477.7l1.4-.6l1.2-.4M351.5 518.4l-.9-.8l-.8-1.4M317.2 518l.6 .8l1.3 1.3M303 515.6l.9-1.6l.3-.9M295 481.6l.8 1.1l1.8 .1M336 510.8l.2-1.4l1-1.2M305.9 501.4l1.2-.2l1.7 .4M318.8 521.4l-1.6 .1l-1.3 0M318.7 471.1l.3-1.2l1.2-1.3M343.9 506.4l.8 0l1.9 1M342.8 481.1l-1.7 .3l-1 1M330.1 503.7l-1.6-.5l-1.3 0M352.7 496.4l1.8-.2l1-.6M336.2 486.9l1-.8l1-1.4M319.5 479.3l-1.1-.8l-1.6-.4M333.3 461.8l1.3 1.2l1 .7M339.3 521.3l-1.4-.2l-1.4-.8M305 468.9l-.8 1.7l-1.1 .6M317.7 496l1.2 .5l1.7 .1M328.6 470.7l1.8-.9l.6-.9M311.6 476.1l.8 1l-.2 2M310.8 481.1l-1.2 .1l-1.7 .7M344.4 470.8l-1.2-.5l-1.8-.3M339.4 470.8l-.3 1.2l-.4 1.8M295.2 471.9l-.6 1.9l-0 1.1M337.6 465.8l1 1.5l.6 1.2M356.3 493.2l-.2-1.8l.7-1.3M309.5 497.3l1.1 1.1l-.1 1.8M335.4 465.5l-1.2 1.2l-1.3 .7M346.5 472.6l.9 1.3l.9 1.2M353.5 488.9l2.1 .5l1-.2M327.1 473l.2 1.4l.9 1.5M317.5 473.9l-.9 1.6l-.7 1.1M356 515.8l-.9 .8l-1.3 1.3M312.6 462.8l-1.3-0l-1.8 .1M324.5 464.3l-1.8 .7l-.7 1.2M310.2 459.4l1.1 .6l1.3 1.4M352.3 466.3l1.4-.5l1-1.6M349.2 510.2l.7 1.7l-.4 1.4M311.5 466.4l-.7-1.1l-1.6-1.1M338.2 499.5l-.2-1.1l-.4-2M337.8 502l-.6 1.4l.5 1.8M333.5 508.3l1.4-.7l1.7-.3M297.3 469.9l1.4-.1l1.6 1M303.2 486.8l1.3-.7l.8-1.8M345.4 479.3l.9-1.5l1.5-.7M330.4 461.7l-1.6 1.1l-1.2 .4M305.3 500.5l.6-1l1.3-1.7M307 467.4l1.2 .2l2-0M315.3 517.9l-1.3 .7l-1.8 .3M299.9 487.5l-2.1 .1l-1.1-1M356.7 461l1.1-1.5l.2-1.5M307.9 458.7l-1.2-.1l-2.1-.4M305.2 480.9l-1-1.7l-.2-1.4M300.2 510.3l2 .6l1.2 .7M308.1 506.3l0-2l1.1-1.2M316.6 515.6l-0-1.6l.7-1.8M333.7 473.5l1.8 .6l1.4 .7M326.6 494.5l-1.6 1.5l-1.3 .4M326.4 487l.2-1.5l.5-1.9M338.3 495.3l1.1 .9l1.8 .9M327.3 464.3l.9 .6l1.7 1.6M336.4 462.2l-.2-2.2l.2-1.3M321.1 519.9l.6-1.4l.9-1.7M335.8 489.7l.5 2l.4 1.3M351.8 497.6l.9 1l1 2M325.7 470.4l-1.1-1.2l-1.7-1M322.5 514.5l-1.1-.6l-1.7-1.7M347 469.9l1.4-1.5l1.3-.9M345.9 502.3l-1.2-1.5l-.8-1.5M341.4 519.6l.8-2l1.2-1M343.9 482.6l-.6 1.9l-.4 1.5M309.4 475.8l-1.4 .6l-2.1-0M322.8 480.9l2.2 .8l1.3 0M342.3 521.2l1.6-.3l1.8-.7M336.5 488l1.3 .4l2.3-.4M319.8 501l1.2-1.8l.7-1.3M331.3 502.1l-.4-2l-.4-1.5M333.8 518.6l-1.2-1l-2-.8M342.2 505.4l-.8-.9l-1.5-1.9M336 513.9l.1 1.7l-.5 2M341.9 457.4l-2 .7l-1.7-.4M320.9 502.6l2.3-.3l1.4 .5M316.2 490.2l-.1 2.2l.2 1.5M304.7 465.7l-1.1-1.5l-1.7-1M331.9 497l1.7-.1l1.8-1.2M328.6 498.4l-1.5 1.3l-.6 1.8M321.9 493.7l-1.5 1.2l-1.9 .3M306.1 503.2l1.4 1.7l.3 1.7M318.8 505.3l.2 2.5l-.5 1.4M350.1 464.6l-.8-2.1l-.4-1.5M316.7 497.6l.2 2.2l.8 1.5M355.6 496.9l-.9 1.9l-0 1.8M349.5 503.1l2.4-.7l1.4 0M311.3 473.3l.5-1.9l.2-1.9M354.8 479.3l-1.1-1l-2.2-1M329.5 514.7l.9-1.3l.9-2.2M339.2 514.7l-1 1l-1.6 1.9M338.9 477.3l.6 1.8l-.1 2.1M296.3 464.7l.6 2.5l-.5 1.4M350.2 460.1l1.8 .7l1.8 .9M340.2 519.3l-.4-2.2l.2-1.7M348.6 496.6l-2.3-.1l-1.6 .7M306.2 502l1.5 .5M335.1 486.1l-.1-1.5M347.8 490.7l1.3 .8M348.2 489.7l1.7-.1M332.7 459.4l.7-1.2M308.1 459.8l-1.1 1M357.3 505l-1.5 .2M357.5 504.4l-1.3-.3M349.7 495.9l-1.2-.8M325.9 462l-.4-1.6M355.7 481.9l-.2 1.5M355.8 478.9l-.1-1.4M356.9 481.5l1 1.1M303.5 517.6l1.4 .3M300.5 517l-1.6-.2M315.7 486.5l-.6-1.5M348.7 471.8l-1.6 .3M355.4 515.1l-1.5 .1M356.3 513.8l-.7-1.2M330.2 504.4l-1.5 .2M321.9 479.7l1.3-.4M319.2 480.3l-1.4 .2M295.7 463.5l-.1 1.3M325.5 487.3l-.8-1.2M314.4 464.4l.5 1.6M299.2 508.7l.9-1M296.8 510.5l-1.5 .8M343.5 481.7l-1 .9M321.3 520.1l.8-1.2M357.5 494l1-1M350.4 487.2l-1-1.2M350.5 487.3l-.9-1.1M320 472.4l1.5 .1M318.8 471l.4-1.3M347 459.9l-1.4 .4M309 519.9l-1.4 .6M311.4 518.2l1.1-1.1M294.2 470.2l-1.7 .2M343.8 458.3l-.2 1.7M345.3 456.8l1.4 .2M294.9 494l-.6-1.2M295.3 493.8l-.2-1.4M295.2 493.8l-.4-1.4M298.5 462.4l-1.6 .2M297.3 485.2l1.6-.3M327.5 477.5l-1.5 .1M311.9 502.7l1.5 .8M327.5 503.3l1.5-.1M357.2 457.5l-1.1 1.1M340.1 468.2l.4-1.4M312.5 479.5l.4-1.5M322.8 513.9l-.7-1.1M307.4 483.7l1.2 1.1M304.3 510.9l-.3-1.3M328.1 514.4l-.6-1.6M304.5 490.7l-1.1-1M306.7 492.2l1.2 .6M303.7 456.8l1.2-.9M303.6 459l1.1 1.2M296 498.3l.3-1.6M301.1 470.7l-.9-1.1M318.5 455.2l-1.1-1.1M318.7 511.8l.6 1.3M338.1 474.1l-.3-1.4M335.2 457.8l-1.4 .4M293 476.7l-1.5 .7M358.9 488l1.3-.9M359 489.7l1.4 .7" stroke="#c03030" stroke-width="0.9" fill="none" stroke-opacity="1"/>
<path d="M341.4 504.5h0M305.9 499.5h0M354.8 498.9h0M304.8 455.9h0M337.8 472.8h0M319.2 469.7h0M300.1 507.7h0M341.2 481.4h0M349.4 486.1h0M311.8 471.4h0M294.1 477.4h0M319 507.8h0M304.2 470.6h0M349.7 486.1h0M304 489.2h0M337.2 486.1h0M330.4 469.9h0M313.7 475.6h0M347.1 472h0M295.5 477.5h0M327.8 478.7h0M302.2 473h0M304.2 479.2h0M307.9 492.8h0M328.8 462.8h0M328.5 503.2h0M324.6 469.2h0M319.4 513.1h0M325.1 489.6h0M349.8 511.9h0M313.4 503.5h0M344.6 505.7h0M325.9 477.6h0M345.5 460.3h0M339.8 486.5h0M339.1 472h0M321.7 518.5h0M347.4 474h0M334.8 507.6h0M356.2 504.1h0M332.7 505.8h0M339.5 479.2h0M353.7 465.8h0M332.6 517.6h0M298.4 462.2h0M324.1 495h0M295.3 511.3h0M340.3 498.4h0M322.1 512.9h0M320.4 494.9h0M346.1 459h0M334.2 466.7h0M333.5 496.8h0M339.9 458.1h0M328.9 503.2h0" stroke="#c01818" stroke-width="2.40" stroke-linecap="round"/>
<path d="M341 504.1h0M305.5 499.1h0M354.4 498.5h0M304.5 455.5h0M337.4 472.4h0M318.9 469.3h0M299.7 507.3h0M340.8 481h0M349 485.7h0M311.4 471h0M293.7 477h0M318.6 507.4h0M303.8 470.2h0M349.3 485.8h0M303.6 488.8h0M336.8 485.7h0M330 469.5h0M313.3 475.3h0M346.7 471.6h0M295.1 477.1h0M327.4 478.3h0M301.8 472.6h0M303.8 478.8h0M307.5 492.5h0M328.4 462.4h0M328.1 502.9h0M324.2 468.8h0M319 512.7h0M324.8 489.3h0M349.4 511.6h0M313 503.1h0M344.2 505.4h0M325.5 477.2h0M345.1 459.9h0M339.4 486.2h0M338.8 471.6h0M321.3 518.1h0M347 473.6h0M334.4 507.2h0M355.8 503.7h0M332.3 505.4h0M339.2 478.8h0M353.3 465.4h0M332.2 517.2h0M298.1 461.8h0M323.7 494.6h0M294.9 511h0M339.9 498h0M321.7 512.5h0M320 494.5h0M345.8 458.7h0M333.8 466.3h0M333.2 496.5h0M339.5 457.7h0M328.6 502.8h0" stroke="#f07070" stroke-width="0.96" stroke-linecap="round" stroke-opacity="0.8"/>
<path d="M322.4 496.7h0M305.6 491.6h0M349.1 514.8h0M357 515h0M342.5 487.6h0M330.2 497.1h0M318.6 502.9h0M340.7 521.5h0M329 477.4h0M326.2 488.4h0M321.3 467.3h0M294.2 480.5h0M347.1 503.8h0M332 460.6h0M337.2 494.4h0M316.5 495.4h0M298.5 478.3h0M295.7 499.9h0M316.3 488h0M295.6 485.5h0M355.6 462.5h0M331.7 468h0M349.2 476.3h0M332.1 509h0M302.1 517.2h0" stroke="#3c46c8" stroke-width="3.60" stroke-linecap="round"/>
<path d="M321.8 496.2h0M305 491.1h0M348.5 514.2h0M356.4 514.4h0M341.9 487h0M329.6 496.5h0M318 502.3h0M340.1 521h0M328.4 476.8h0M325.7 487.9h0M320.7 466.7h0M293.6 479.9h0M346.5 503.2h0M331.5 460h0M336.6 493.8h0M316 494.8h0M297.9 477.7h0M295.1 499.3h0M315.7 487.4h0M295.1 484.9h0M355.1 461.9h0M331.1 467.4h0M348.6 475.8h0M331.5 508.4h0M301.5 516.7h0" stroke="#a0a6ff" stroke-width="1.44" stroke-linecap="round" stroke-opacity="0.8"/>
<path d="M299.4 482.8h0M331.7 504.2h0M302 487.4h0M350.9 466.7h0M306.2 482.6h0M307.7 463.1h0M358.8 504.8h0M335.3 487.6h0M316.6 517.2h0M335.9 512.2h0M338.4 475.5h0M335.1 519.6h0M323.5 492.4h0M347.6 519.6h0M355.9 480.3h0M300.2 462.2h0M318.1 510.5h0M303.7 476.4h0M346.5 489.8h0M351.4 488.4h0M339.8 469.6h0M323.5 515h0M308 508.3h0M310.4 519.3h0M340.2 513.7h0M305.7 467.2h0M320.6 480.1h0M314.7 521.6h0" stroke="#3c46c8" stroke-width="3.60" stroke-linecap="round"/>
<path d="M298.8 482.2h0M331.2 503.6h0M301.4 486.9h0M350.4 466.1h0M305.6 482h0M307.1 462.5h0M358.3 504.2h0M334.7 487h0M316.1 516.6h0M335.3 511.6h0M337.8 474.9h0M334.5 519h0M322.9 491.9h0M347 519h0M355.3 479.7h0M299.6 461.6h0M317.5 510h0M303.1 475.8h0M345.9 489.2h0M350.8 487.8h0M339.2 469h0M322.9 514.5h0M307.5 507.7h0M309.8 518.7h0M339.6 513.1h0M305.2 466.7h0M320 479.5h0M314.1 521h0" stroke="#a0a6ff" stroke-width="1.44" stroke-linecap="round" stroke-opacity="0.8"/>
<path d="M291.5 477.3h0M316.6 514.1h0M326.9 492.4h0M292.5 470.4h0M329.1 495.7h0M301.4 477.1h0M355.6 489.4h0M337.1 513h0M328.2 464.9h0M307.3 494.2h0M329.9 471.2h0M356.1 458.5h0M349.3 462.4h0M333.8 458.2h0M348.8 519h0M335.4 458.8h0M304 509.6h0M307.2 464.9h0M350.6 517.6h0M358.5 493h0M318.9 496.5h0M313.4 521.3h0M304.9 517.9h0M295.6 479h0M356.1 491.5h0M298.9 516.8h0M307.5 504.8h0M347.2 518.6h0M338 498.4h0M355.8 477.5h0M312.9 478.1h0M294.6 473.9h0M327.5 512.8h0M296.9 467.2h0M349.5 516.2h0M338 521.2h0M327.1 499.7h0M315.2 485h0M314 518.7h0M358 482.6h0M307.6 502.5h0M308.1 504.3h0M307.5 520.5h0M340.5 466.8h0M325.1 496h0M348.4 505.2h0M322.6 465h0M317.8 518.7h0M317.8 480.5h0M360.4 490.4h0M358 503h0M348.5 495.1h0M297.8 479.6h0" stroke="#c01818" stroke-width="2.40" stroke-linecap="round"/>
<path d="M291.1 477h0M316.2 513.7h0M326.5 492h0M292.1 470h0M328.7 495.3h0M301 476.7h0M355.2 489h0M336.7 512.6h0M327.9 464.5h0M307 493.8h0M329.6 470.8h0M355.7 458.2h0M348.9 462h0M333.5 457.9h0M348.4 518.7h0M335 458.5h0M303.6 509.2h0M306.8 464.6h0M350.2 517.2h0M358.1 492.6h0M318.5 496.1h0M313 520.9h0M304.5 517.5h0M295.2 478.6h0M355.7 491.1h0M298.5 516.4h0M307.1 504.5h0M346.8 518.2h0M337.6 498.1h0M355.4 477.1h0M312.5 477.7h0M294.2 473.5h0M327.1 512.4h0M296.5 466.8h0M349.2 515.8h0M337.6 520.8h0M326.7 499.3h0M314.8 484.6h0M313.7 518.3h0M357.6 482.2h0M307.3 502.1h0M307.8 504h0M307.1 520.1h0M340.1 466.4h0M324.7 495.6h0M348 504.8h0M322.3 464.6h0M317.4 518.4h0M317.5 480.1h0M360 490h0M357.6 502.7h0M348.1 494.7h0M297.4 479.2h0" stroke="#f07070" stroke-width="0.96" stroke-linecap="round" stroke-opacity="0.8"/>
<path d="M346.2 477.8h0M325.1 516h0M330.9 500.1h0M350.8 469.2h0M335 510.1h0M325.5 460.4h0M343.9 520.9h0M298.7 469.9h0M324.7 486.1h0M343.3 470.3h0M327.3 474.3h0M321.4 513.9h0M352 460.8h0M336.1 515.6h0M308 476.4h0M332.4 469.9h0M340.4 507.4h0M298.9 485h0M346.6 515.7h0M322.1 518.9h0M318.9 469.9h0M335.5 474.1h0M355.1 516.6h0M326.6 485.5h0M317 499.8h0M304 514h0M296.9 462.5h0M294.8 492.3h0M295.8 482.6h0M349.2 473.2h0M301.2 460.9h0M355.6 512.6h0M336.2 459.9h0M337.2 503.5h0M316 520.1h0M339.8 517.1h0M325.1 481.6h0M316.1 492.4h0M346.7 457h0M354.5 496.2h0M312.4 477.1h0M330.4 513.4h0M295.1 492.3h0M338.2 515.8h0M343.6 460h0M307.1 501.2h0M349.8 489.6h0M302.2 510.8h0M303.6 464.2h0M329.7 475.3h0M296.1 498.4h0M314.9 466h0M296.3 496.7h0M314.1 480.1h0M306.7 458.5h0M336.3 491.7h0M349.1 491.5h0M357.8 459.4h0M344.7 506.4h0M343.2 484.6h0" stroke="#c01818" stroke-width="2.40" stroke-linecap="round"/>
<path d="M345.8 477.4h0M324.7 515.6h0M330.5 499.7h0M350.4 468.9h0M334.6 509.8h0M325.1 460h0M343.5 520.5h0M298.4 469.5h0M324.3 485.7h0M342.9 469.9h0M326.9 473.9h0M321 513.5h0M351.6 460.4h0M335.7 515.2h0M307.6 476h0M332 469.5h0M340 507h0M298.5 484.6h0M346.2 515.3h0M321.7 518.5h0M318.5 469.5h0M335.1 473.7h0M354.7 516.2h0M326.2 485.1h0M316.6 499.4h0M303.6 513.7h0M296.5 462.1h0M294.4 491.9h0M295.4 482.2h0M348.8 472.8h0M300.8 460.5h0M355.2 512.2h0M335.8 459.6h0M336.8 503.1h0M315.6 519.8h0M339.4 516.7h0M324.7 481.2h0M315.7 492h0M346.3 456.6h0M354.1 495.8h0M312 476.7h0M330 513.1h0M294.7 492h0M337.9 515.4h0M343.2 459.6h0M306.7 500.8h0M349.5 489.2h0M301.8 510.5h0M303.2 463.8h0M329.3 474.9h0M295.7 498h0M314.6 465.6h0M296 496.3h0M313.7 479.8h0M306.3 458.1h0M336 491.3h0M348.7 491.1h0M357.4 459h0M344.3 506h0M342.9 484.2h0" stroke="#f07070" stroke-width="0.96" stroke-linecap="round" stroke-opacity="0.8"/>
<path d="M348.5 508.5h0M294.6 476h0M320.5 521.3h0M352.4 519.2h0M295.5 495.2h0M345.6 471.3h0M338.4 500.6h0M339.3 483.3h0M304.5 512.2h0M336.6 464.4h0M302 471.8h0M350.9 496.6h0M319.6 456.2h0M304.7 501.5h0M350.3 471.5h0M308.4 496.2h0M298.3 509.7h0M343.1 498h0M295.7 462.2h0M310.4 502h0M348.4 459.4h0" stroke="#3c46c8" stroke-width="3.60" stroke-linecap="round"/>
<path d="M347.9 507.9h0M294 475.4h0M319.9 520.7h0M351.8 518.7h0M295 494.6h0M345 470.8h0M337.8 500h0M338.7 482.7h0M304 511.6h0M336 463.8h0M301.4 471.3h0M350.3 496.1h0M319 455.7h0M304.1 500.9h0M349.7 470.9h0M307.9 495.6h0M297.7 509.1h0M342.5 497.4h0M295.2 461.6h0M309.9 501.4h0M347.8 458.9h0" stroke="#a0a6ff" stroke-width="1.44" stroke-linecap="round" stroke-opacity="0.8"/>
<path d="M346.3 496.5h0M296.6 483.8h0M348.9 489.6h0M355.7 505.2h0M303.4 489.7h0M295.2 484.1h0M297.8 487.6h0M333.5 458.2h0M334.6 463.1h0M339.4 496.2h0M348.3 468.4h0M295.6 464.8h0M355.5 483.4h0M336.2 509.4h0M323.2 479.2h0M353.7 478.4h0M318.4 478.4h0M304.6 460.1h0M335 484.6h0M341.5 514.3h0M311.3 462.8h0M344 488.6h0M307.2 511.2h0M310.8 465.3h0M299.8 485.8h0M342.2 517.6h0M316.6 475.4h0M317.4 454.1h0M312.5 517.1h0M321.5 472.5h0M328.1 491.3h0M307 460.7h0M321 499.2h0M323.2 502.4h0M294.3 492.8h0M308.2 461.3h0M360.1 487.1h0M308.2 467.6h0M337.8 488.3h0M338.5 467.3h0M300.2 469.6h0M344.8 500.9h0M342.4 482.6h0M309.6 481.2h0M311.2 460.1h0M352.8 498.6h0M312.7 464.7h0M352 502.4h0M348.2 471h0M317.2 521.5h0M308.6 484.7h0M353.9 515.3h0M304.5 486.1h0M310.6 498.4h0M328.7 504.6h0" stroke="#c01818" stroke-width="2.40" stroke-linecap="round"/>
<path d="M345.9 496.1h0M296.2 483.4h0M348.5 489.2h0M355.4 504.8h0M303 489.3h0M294.8 483.8h0M297.4 487.2h0M333.1 457.8h0M334.2 462.7h0M339 495.8h0M347.9 468h0M295.2 464.4h0M355.1 483h0M335.8 509h0M322.8 478.8h0M353.3 478h0M318 478.1h0M304.2 459.7h0M334.6 484.2h0M341.1 513.9h0M310.9 462.4h0M343.6 488.2h0M306.8 510.8h0M310.4 464.9h0M299.4 485.4h0M341.8 517.2h0M316.3 475.1h0M317 453.7h0M312.1 516.7h0M321.1 472.1h0M327.7 490.9h0M306.6 460.3h0M320.6 498.8h0M322.9 502h0M293.9 492.4h0M307.9 460.9h0M359.7 486.7h0M307.8 467.2h0M337.4 487.9h0M338.1 466.9h0M299.8 469.2h0M344.4 500.5h0M342 482.2h0M309.3 480.9h0M310.8 459.7h0M352.4 498.2h0M312.3 464.3h0M351.6 502h0M347.9 470.6h0M316.8 521.1h0M308.2 484.3h0M353.5 514.9h0M304.1 485.7h0M310.2 498h0M328.3 504.2h0" stroke="#f07070" stroke-width="0.96" stroke-linecap="round" stroke-opacity="0.8"/>
<path d="M338.2 507h0M357.6 489h0M358.3 456.4h0M312 481h0M326.3 463.6h0M344.5 515.6h0M344.5 480.7h0M336.6 457.4h0M356.5 495h0M310.8 475.1h0M318.4 472.3h0M302.5 457.8h0M328.2 493h0M326 503.3h0M315.3 477.7h0M313.9 462.8h0M354.8 502.5h0M332 473h0M327.6 481.7h0M312.2 467.5h0M309.1 458.8h0M328.7 516h0M326.8 471.6h0M343.9 456.7h0M343.1 506.3h0M295.8 470h0" stroke="#3c46c8" stroke-width="3.60" stroke-linecap="round"/>
<path d="M337.6 506.4h0M357 488.4h0M357.7 455.8h0M311.5 480.4h0M325.8 463.1h0M344 515h0M343.9 480.2h0M336 456.8h0M355.9 494.4h0M310.2 474.6h0M317.8 471.7h0M301.9 457.2h0M327.6 492.4h0M325.4 502.8h0M314.7 477.1h0M313.4 462.2h0M354.2 501.9h0M331.4 472.4h0M327.1 481.1h0M311.7 466.9h0M308.5 458.2h0M328.1 515.4h0M326.3 471h0M343.4 456.1h0M342.5 505.8h0M295.3 469.4h0" stroke="#a0a6ff" stroke-width="1.44" stroke-linecap="round" stroke-opacity="0.8"/>
<path d="M367.0,466.0 L416.0,466.0 L440.0,520.0 L391.0,520.0 Z" fill="none" stroke="#c8c8c8" stroke-width="0.6"/>
<path d="M418.1 493l-.1-1.3M418.9 489.8l-.5 .3M398.4 464.9l-1-.2M395.1 464.6l.6-.1M400.1 510.4l1.3 .1M403.4 509.7l-.3 .5M402.2 463.9l.1-.8M402.6 460.6l-.2 .9M421.9 519.4l1-.2M424.7 517.6l-.5 .8M417.3 480.4l1.1-0M420.5 481.3l-.5-.5M405.3 505.2l.4-1M407.3 502.4l-.6 .4M373 461.3l-.3 1.2M372.5 464.7l-0-.5M408.7 517.3l.6-1.1M411.2 515l-.7 0M392.2 460.7l-.4 .3M389.4 462.8l1-.7M431.1 501l.1 1.3M430.6 504.4l.4-.4M400.1 510.4l-.1-.5M397.6 508.1l1.1 .7M414.1 473.8l.3 .6M417.5 474.3l-1.4 .4M413.7 517.6l-.9 .8M412.2 520.8l-.2-.8M384.7 491.4l0 .1M387 494l-1.1-1.2M418.1 493l.3 1.1M417.8 496.5l.5-.7M424.2 489.2l.9 .1M427.2 491.1l-.6-.9M395.1 464.6l-1.1 .2M391.9 466.2l.5-.6M411.2 515l-.5-.6M407.9 513.7l1.2 0M412.9 490.2l.2-.5M413.2 486.7l0 1.3M411.2 515l.1 .5M413.7 517.6l-1.1-.8M401.1 515.9l-.7 .9M399.4 519.1l.1-.7M400.1 510.4l-1 .9M396.8 511.9l.6 .2M420.5 481.3l.4 1.1M423 484l-.8-.2M379.8 488.7l.2 .9M381 492.1l-.4-.9M399.4 519.1l-.3-.5M397.2 516.2l.9 1M421.1 512.1l-.1 .5M419.8 515.6l.5-1.2M408.7 517.3l-.2-1.4M407.9 513.7l.1 .4M419.1 506.5l-.5-1M418.3 502.8l-.1 .9M415.7 468.6l-.4 .6M412 469.4l1.4 .3M429.8 515.7l-1-.3M426.9 513.4l.5 .8M409.9 494.5l-0 .9M407.4 497.3l1.2-.5M384.7 491.4l-.5 .1M381 492.1l1.4-.2M380.9 480.8l.6 1.1M381.8 484.5l.1-.8M430.2 521.4l.8-.6M433.3 519.3l-.7 .5M408.5 521.8l1-.3M412.2 520.8l-.8 .3M411.1 503.8l.3-1.5M412 500.1l-.1 .4M396.7 493.9l.8 .4M398.6 497.2l-.2-1.2M403.5 501.8l.5 .6M407.3 502.4l-1.4 .3M420.7 472.2l-.4 .9M417.5 474.3l1.2-.2M405.3 505.2l-.5-1.3M403.5 501.8l.4 .4M391.1 485l.6 .1M394.1 487.3l-.9-1M403.5 518.9l-.7-1.1M401.1 515.9l.5 .5M427.2 506.3l.8 0M430.6 504.4l-.9 1M396.8 511.9l.7-1.4M397.6 508.1l.3 .5M401.1 515.9l-.9 .5M397.2 516.2l1.1 .4M398.4 464.9l1.5-.2M402.2 463.9l-.4 .3M409.5 485.4l1.2-.1M413.2 486.7l-.6-.8M388.3 489.8l-1.1 .7M384.7 491.4l.7-.1M394.1 477.8l1.3 0M397.6 479.7l-.4-.9M414.5 512.7l.3-.6M414.1 508.7l.5 1.4M413.2 486.7l-.2-.8M414.2 482.9l-.8 1.1M437.5 512.8l-0 1.4M438.4 516.7l-.5-.6M401 468.4l.7 .9M404.6 470.2l-1 0M417.3 480.4l-.5 .3M414.2 482.9l1-.9M376.4 467.1l.9 .4M380.1 468.6l-.9-.3M393.6 508.6l.9 .3M397.6 508.1l-1.1 .5M403.5 518.9l-.6 1.5M402.9 522.9l-.3-.5M414.5 512.7l-.3 .3M411.2 515l1.3-.8M437.5 512.8l-.8-0M433.6 512.1l1.2 .3M417.8 484.7l-.4-.9M414.2 482.9l1.4 .1M406.6 480.1l-.5 .7M402.8 481.7l1.4-.1M392.7 472.8l-.6-.5M389 471.1l1.2 .4M411.1 503.8l-.9-.9M407.3 502.4l1-.2M403.5 518.9l-1.5 .3M399.4 519.1l.6 .2M433.6 512.1l-.3-.3M430.3 509.6l1.3 1M403 491.1l-.6 .8M402.2 495.1l-.2-1.2M399 490.2l1.1 .2M403 491.1l-.9-.2M398.6 497.2l1.3-.3M402.2 495.1l-.5 .7M394.1 477.8l1.2-.3M396.9 474.7l-.2 1.2M429.5 494.6l-.3-.5M427.2 491.1l.9 1.2M389.4 462.8l1.2 .5M391.9 466.2l-.1-1.2M400.6 505.2l-.8 1.2M397.6 508.1l.7-.2M434.3 506.5l-1.1-.7M430.6 504.4l.7 .3M385.4 464.7l-.6 1.3M385.1 468.9l-.4-.9M407.7 509.4l.5 .7M407.9 513.7l.4-1.4M406.2 488.2l-1.1 .3M403 491.1l.5-1.1M402.8 481.7l.3-1.4M402.4 477.4l.5 .7M406.2 488.2l1.3-.2M409.5 485.4l-.4 1.2M421.9 519.4l-.3-.4M419.8 515.6l.7 1.5M396.8 511.9l.5 1.1M397.2 516.2l.4-1.1M366.9 467.1l.8 .4M369.7 470.4l-.6-1.3M408.1 467.4l1.4 1M412 469.4l-.5 0M420.5 481.3l-1.2 .5M417.8 484.7l.2-1.2M418 521.3l.5-.2M421.9 519.4l-1.5 .7M417.3 480.4l-.2 .5M417.8 484.7l-.4-1.7M403.4 509.7l1.7-.4M407.7 509.4l-.5-.2M388.3 489.8l-.3 1.3M387 494l.4-.8M401 468.4l-.1-1.5M398.4 464.9l1.2 .3M396.7 493.9l.1-1.1M399 490.2l-1.1 .7M437.6 521l.3-.7M438.4 516.7l-.1 1.5M394.1 477.8l-.4 1.1M390.6 480.4l1.3-.2M391.1 504.9l.8 .6M393.6 508.6l-.4-1.2M411.1 479.8l1.2 1M414.2 482.9l-.3-.6M381.8 473.7l-.7 .5M378.4 476.6l1-1M389.4 462.8l-1.3 1M385.4 464.7l.7 .1M400.6 505.2l.8-.9M403.5 501.8l-.7 .8M427.2 506.3l.5 .5M430.3 509.6l-1.1-1.1M408.1 467.4l-0-.8M409.7 463.2l-.8 1.3M389 471.1l-.9-.7M385.1 468.9l1.1 .4M391.1 485l-1.3-.3M386.9 483.5l.8 .5M392.7 496.9l-.9 1.2M389.7 500.3l.6-.4M408.1 467.4l-.3 .6M404.6 470.2l1.5-.8M408.7 517.3l.3 1M408.5 521.8l.4-1.2M406.6 480.1l1.7-.3M411.1 479.8l-.5-.1M391.1 485l.2-1M390.6 480.4l.4 1.3M376.4 467.1l-.4-1M372.5 464.7l1.5 .2M388.3 489.8l.7 .6M392.2 492.2l-1.3-.5M393.6 508.6l1.2 1M396.8 511.9l-.4-.6M392.7 472.8l.7 .5M396.9 474.7l-1.4-.4M437.6 521l-.7 0M433.3 519.3l1.4 .9M379.8 488.7l.6-1M381.8 484.5l-.4 1M425.6 501.7l-.9-.9M422.9 497.9l.4 1M401 468.4l.1-.8M402.2 463.9l-.5 1.5M426.9 513.4l-.1 1.4M424.7 517.6l1-.7M399.8 485.3l.3-.4M402.8 481.7l-1.2 1.4M405.3 505.2l-1.7 .4M400.6 505.2l.6 .4M395.5 503.1l-1.4 0M391.1 504.9l.8-.9M420.7 472.2l.3 .9M423.6 476l-1.1-1.1M396.7 493.9l-.9-.9M392.2 492.2l1.3-0M407.6 474l-1.3-1.2M404.6 470.2l.2 .7M392.7 496.9l-0-1.5M392.2 492.2l.2 .9M386.9 483.5l.6-1.2M390.6 480.4l-1.3 .3M391.1 504.9l-.7-.6M389.7 500.3l-0 1.7M392.2 460.7l.9 .4M395.1 464.6l-.6-1.5M405.3 505.2l1 .9M407.7 509.4l-.2-1.2M380.9 480.8l-.5-1M378.4 476.6l.8 1.1M414.1 473.8l-1-1.1M412 469.4l.1 1.2M408.7 517.3l.7 1.4M412.2 520.8l-1.1-.4M427.2 506.3l-.5-1.5M425.6 501.7l.3 .8M406.6 480.1l-1.2-1.1M402.4 477.4l.9 .2M386.9 483.5l-.9-1.1M385.6 478.7l-.2 1.3M396.7 493.9l-.5 1M392.7 496.9l1.5-.5M434.3 506.5l-1.2 .2M430.3 509.6l.8-1.3M429.8 515.7l.5 1.2M433.3 519.3l-1.2-.5M380.1 468.6l1.4 .2M385.1 468.9l-1-0M414.5 512.7l-.1 1M413.7 517.6l.4-1.4M399 490.2l.1-1.7M399.8 485.3l-.3 .8M417.8 484.7l-1.4 .6M413.2 486.7l1-.4M376.4 467.1l1.2-1.4M379.2 462.8l-.2 .7M407.4 497.3l0 1.3M407.3 502.4l0-1.3M397.6 479.7l.3-1.1M396.9 474.7l.6 1.5M402.9 522.9l-1-1.5M399.4 519.1l.7 .4M430.3 509.6l.6-1.6M430.6 504.4l.4 .9M386.9 483.5l-1.1 .6M381.8 484.5l1.4 .1M392.7 472.8l.9 1.5M394.1 477.8l.2-1M433.6 512.1l-.9 .9M429.8 515.7l1-.9M380.9 480.8l1.3-1M385.6 478.7l-1 .1M394.1 487.3l0 .7M392.2 492.2l1-1.7M409.9 494.5l1.3-.5M412.9 490.2l-.2 1.6M419.8 515.6l.8 .2M424.7 517.6l-1.7-.8M403.4 509.7l-.3-1.7M400.6 505.2l1.1 .6M376.5 484l1.7 .1M381.8 484.5l-.9-.2M374.9 472.2l-.6 1M370.9 475.7l1.4-.7M424.2 489.2l0-1.6M423 484l.6 1M417.8 496.5l1.5 0M422.9 497.9l-1.1-.7M385.6 478.7l1.3-.1M390.6 480.4l-1.2-1M376.4 467.1l.1 1.7M374.9 472.2l.8-.9M381.8 473.7l-.7-1.9M380.1 468.6l.2 .7M412 500.1l-.9-1.1M407.4 497.3l1.4 .2M380.9 480.8l-.8 .5M376.5 484l1.4-1.1M424.2 489.2l-1 .7M418.9 489.8l1.7 .4M397.6 479.7l1.8-.3M402.4 477.4l-.7 .9M370.9 475.7l-.4-1.3M369.7 470.4l.2 1.4M415.7 468.6l-.8 1.1M414.1 473.8l-0-1.5M429.8 515.7l-1.3 .3M424.7 517.6l1.3-.7M392.2 460.7l.5 1.1M391.9 466.2l.6-1.6M419.1 506.5l-1 1M414.1 508.7l1.5-.1M407.4 497.3l-.9-.1M402.2 495.1l1.6 1M400.1 510.4l.6 1.6M401.1 515.9l.1-1.1M374.9 472.2l.3 .5M378.4 476.6l-1.5-1.6M431.1 501l-1.8 .3M425.6 501.7l1-.1M397.6 479.7l1.8 .6M402.8 481.7l-.8-.4M374.9 472.2l-1.5-.1M369.7 470.4l1.1 .8M379.8 488.7l.6 .7M384.7 491.4l-1.8-.7M433.6 512.1l-.1-1.6M434.3 506.5l-.5 1.2M391.1 485l-.8 1M388.3 489.8l.6-1.4M433.3 519.3l.9-.2M438.4 516.7l-1.7 1.1M379.8 488.7l-.9-1.4M376.5 484l.7 .9M399 490.2l-1.1-.3M394.1 487.3l1.3 1.2M418 521.3l-1-1M413.7 517.6l1.1 .8M402.9 522.9l2-.5M408.5 521.8l-.9 .1M389 471.1l.6-1.5M391.9 466.2l-.9 .9M411.1 503.8l.3 1M414.1 508.7l-1.2-1.5M381.8 473.7l1.1-1.1M385.1 468.9l-.5 1.3M395.5 503.1l0 1M393.6 508.6l.9-1.8M418 521.3l-1.9 .1M412.2 520.8l1 .3M403.5 518.9l.9 1.2M408.5 521.8l-1.6-.2M379.2 462.8l.8 .9M380.1 468.6l.3-2M421.1 512.1l1.3 .6M426.9 513.4l-1.5-0M409.5 485.4l.6-1.9M411.1 479.8l-.2 .9M412.9 490.2l-1-1M409.5 485.4l.7 1.4M389.4 462.8l2 .7M395.1 464.6l-.9-.2M392.7 496.9l1.5 .4M398.6 497.2l-1.4 .3M415.4 461.5l-1.8 .3M409.7 463.2l1-.6M418.1 493l-1.8-.9M412.9 490.2l.8 .5M415.7 468.6l.6 1.7M417.5 474.3l-.3-1.2M409.9 494.5l.7 .9M412 500.1l-.4-1.9M421.1 512.1l-.8-.8M419.1 506.5l.2 2M418 521.3l.4-1.4M419.8 515.6l-.5 1.4M399.8 485.3l-1 .6M394.1 487.3l1.9-.4M398.4 464.9l1.5-1.5M402.6 460.6l-.6 .7M403.4 509.7l1.3 1M407.9 513.7l-1-1M366.9 467.1l1.4-.3M372.5 464.7l-1.4 .9M423.6 476l-.3 .9M420.5 481.3l1.2-1.8M417.3 480.4l-.2-2M417.5 474.3l-.3 1.1M407.6 474l-1.7 1.4M402.4 477.4l.8-.3M415.7 468.6l.9 .7M420.7 472.2l-1.6-1.1M406.6 480.1l.4-2.1M407.6 474l-.1 1M381.8 473.7l1.5 1.6M385.6 478.7l-.4-.9M417.8 496.5l-.2 1.2M418.3 502.8l-.5-2M431.1 501l.3 1.3M434.3 506.5l-1.2-1.4M387 494l-1.4-.5M381 492.1l1.6 .5M372.5 464.7l-.2 1.3M369.7 470.4l1.2-1.6M407.7 509.4l1.9-.3M414.1 508.7l-1.3 0M407.6 474l.9-1.1M412 469.4l-1.3 1.2M395.5 503.1l-1.4-.3M389.7 500.3l1.5 1.1M373 461.3l1.4 .2M379.2 462.8l-1.7-.6M379.2 462.8l1.7 .5M385.4 464.7l-1.4-.5M366.9 467.1l.7-1.2M366.9 467.1l.9 .9M406.2 488.2l1.2-1.2M373 461.3l.9 1.4M409.9 494.5l.4-1.6M437.5 512.8l1.5-.5M437.5 512.8l-.4-1.3M414.1 473.8l1.5 .5M414.5 512.7l1.1 1.1M389 471.1l0-1.4M411.1 503.8l1.4-.4M391.1 504.9l-1.4-.3M412 500.1l-0-1.3M423.6 476l-.3 1.6M401 468.4l.1 1.5M421.9 519.4l.1-1.3M421.1 512.1l-1.2-1M370.9 475.7l-.6 1.3M366.4 460l-1 1.1M366.4 460l-1.4 .6M366.4 460l-1.1-.9M366.4 460l-1.3-.9M399.8 485.3l-.9 1.1M427.2 506.3l-1.1 1.2M402.2 463.9l1.5-.5M429.5 494.6l1.2 1.1M429.5 494.6l-.5-1.4M429.5 494.6l1.4-.3M430.2 521.4l-.8-1.4M430.2 521.4l1.1-1.1M430.2 521.4l-.6 1.2M385.4 464.7l.9-1.1M403.5 501.8l-.4 1.5M419.1 506.5l1.5 0M426.9 513.4l-.5 1.2M404.6 470.2l-1-1.4M378.4 476.6l1.1 1M437.6 521l1.2-1M424.2 489.2l-1.5 .7M423 484l1.2 1.1M425.6 501.7l1.3 .5M398.6 497.2l-.3 1.3M418.9 489.8l-.1-1.6M415.4 461.5l-1.1-1.1M415.4 461.5l1.3 .8M415.4 461.5l.6-1.3M422.9 497.9l1.6-.1M438.4 516.7l-1.1-.9M409.7 463.2l1.3 .8M387 494l-1.3-.7M403 491.1l1.5-.1M396.9 474.7l1.3-.4M381 492.1l-.1 1.6M418.3 502.8l-1.6-0M418.3 502.8l.7 1.4M427.2 491.1l1.4 .1M427.2 491.1l-.2-1.5M402.6 460.6l1.6 .1M402.6 460.6l1.3 .3M389.7 500.3l-1.1 .8M397.2 516.2l-0-1.4M402.2 495.1l-.8 1.4" stroke="#4c58d0" stroke-width="0.75" fill="none" stroke-opacity="1"/>
<path d="M418 491.7l-.1-1.3l.5-.3M397.4 464.7l-1-.2l-.6 .1M401.4 510.5l1.3 .1l.3-.5M402.2 463.1l.1-.8l.2-.9M422.8 519.2l1-.2l.5-.8M418.4 480.4l1.1-0l.5 .5M405.7 504.2l.4-1l.6-.4M372.7 462.5l-.3 1.2l0 .5M409.3 516.2l.6-1.1l.7-0M391.8 461l-.4 .3l-1 .7M431.3 502.4l.1 1.3l-.4 .4M400 509.9l-.1-.5l-1.1-.7M414.3 474.4l.3 .6l1.4-.4M412.7 518.4l-.9 .8l.2 .8M384.7 491.6l0 .1l1.1 1.2M418.5 494.1l.3 1.1l-.5 .7M425.1 489.3l.9 .1l.6 .9M394 464.8l-1.1 .2l-.5 .6M410.8 514.3l-.5-.6l-1.2-0M413 489.8l.2-.5l-0-1.3M411.3 515.5l.1 .5l1.1 .8M400.3 516.8l-.7 .9l-.1 .7M399.1 511.3l-1 .9l-.6-.2M420.9 482.5l.4 1.1l.8 .2M380 489.5l.2 .9l.4 .9M399.1 518.7l-.3-.5l-.9-1M421 512.7l-.1 .5l-.5 1.2M408.4 515.9l-.2-1.4l-.1-.4M418.6 505.5l-.5-1l.1-.9M415.2 469.2l-.4 .6l-1.4-.3M428.8 515.4l-1-.3l-.5-.8M409.8 495.4l-0 .9l-1.2 .5M384.2 491.5l-.5 .1l-1.4 .2M381.5 481.9l.6 1.1l-.1 .8M431 520.8l.8-.6l.7-.5M409.5 521.6l1-.3l.8-.3M411.4 502.3l.3-1.5l.1-.4M397.4 494.4l.8 .4l.2 1.2M404 502.4l.5 .6l1.4-.3M420.3 473.1l-.4 .9l-1.2 .2M404.8 503.9l-.5-1.3l-.4-.4M391.7 485.1l.6 .1l.9 1M402.8 517.9l-.7-1.1l-.5-.5M428 506.3l.8 0l.9-1M397.5 510.5l.7-1.4l-.3-.5M400.2 516.4l-.9 .5l-1.1-.4M399.9 464.7l1.5-.2l.4-.3M410.7 485.3l1.2-.1l.6 .8M387.1 490.5l-1.1 .7l-.7 .1M395.5 477.8l1.3 0l.4 .9M414.8 512.1l.3-.6l-.5-1.4M412.9 485.9l-.2-.8l.8-1.1M437.5 514.2l-0 1.4l.5 .6M401.8 469.3l.7 .9l1-0M416.8 480.7l-.5 .3l-1 .9M377.3 467.5l.9 .4l.9 .3M394.5 508.9l.9 .3l1.1-.5M402.9 520.4l-.6 1.5l.3 .5M414.2 513l-.3 .3l-1.3 .8M436.8 512.8l-.8-0l-1.2-.3M417.4 483.9l-.4-.9l-1.4-.1M406.1 480.8l-.5 .7l-1.4 .1M392 472.4l-.6-.5l-1.2-.4M410.2 502.9l-.9-.9l-1 .2M402 519.2l-1.5 .3l-.6-.2M433.2 511.8l-.3-.3l-1.3-1M402.4 491.9l-.6 .8l.2 1.2M400.1 490.4l1.1 .2l.9 .2M399.9 496.9l1.3-.3l.5-.7M395.3 477.5l1.2-.3l.2-1.2M429.2 494.1l-.3-.5l-.9-1.2M390.6 463.3l1.2 .5l.1 1.2M399.8 506.4l-.8 1.2l-.7 .2M433.2 505.8l-1.1-.7l-.7-.3M384.8 466l-.6 1.3l.4 .9M408.2 510.1l.5 .7l-.4 1.4M405.1 488.5l-1.1 .3l-.5 1.1M403.1 480.3l.3-1.4l-.5-.7M407.5 488l1.3-.2l.4-1.2M421.5 519l-.3-.4l-.7-1.5M397.3 513l.5 1.1l-.4 1.1M367.7 467.5l.8 .4l.6 1.3M409.6 468.4l1.4 1l.5-0M419.4 481.8l-1.2 .5l-.2 1.2M418.5 521.1l.5-.2l1.5-.7M417.1 480.9l-.2 .5l.4 1.7M405 509.3l1.7-.4l.5 .2M388 491.2l-.3 1.3l-.4 .8M400.9 467l-.1-1.5l-1.2-.3M396.8 492.8l.1-1.1l1.1-.7M437.9 520.3l.3-.7l.1-1.5M393.7 478.9l-.4 1.1l-1.3 .2M392 505.5l.8 .6l.4 1.2M412.3 480.7l1.2 1l.3 .6M381.1 474.1l-.7 .5l-1 1M388.2 463.8l-1.3 1l-.7-.1M401.4 504.3l.8-.9l.7-.8M427.7 506.8l.5 .5l1.1 1.1M408.1 466.7l-0-.8l.8-1.3M388.1 470.4l-.9-.7l-1.1-.4M389.8 484.7l-1.3-.3l-.8-.5M391.8 498.2l-.9 1.2l-.6 .4M407.8 468l-.3 .6l-1.5 .8M409 518.3l.3 1l-.4 1.2M408.3 479.8l1.7-.3l.5 .1M391.2 484l.2-1l-.4-1.3M376 466.1l-.4-1l-1.5-.2M389 490.5l.7 .6l1.3 .5M394.8 509.6l1.2 1l.4 .6M393.4 473.3l.7 .5l1.4 .4M436.9 521l-.7 0l-1.4-.9M380.4 487.6l.6-1l.4-1M424.7 500.8l-.9-.9l-.4-1M401.1 467.6l.1-.8l.5-1.5M426.8 514.8l-.1 1.4l-1 .7M400.1 484.9l.3-.4l1.2-1.4M403.6 505.6l-1.7 .4l-.6-.4M394.1 503.1l-1.4 0l-.8 .9M421 473.1l.3 .9l1.1 1.1M395.7 493l-.9-.9l-1.3 0M406.3 472.8l-1.3-1.2l-.2-.7M392.7 495.5l-0-1.5l-.2-.9M387.4 482.3l.6-1.2l1.3-.3M390.4 504.3l-.7-.6l0-1.7M393 461.2l.9 .4l.6 1.5M406.3 506.1l1 .9l.2 1.2M380.4 479.8l-.5-1l-.8-1.1M413.1 472.7l-1-1.1l-.1-1.2M409.4 518.7l.7 1.4l1.1 .4M426.7 504.8l-.5-1.5l-.3-.8M405.4 479l-1.2-1.1l-.9-.2M386 482.4l-.9-1.1l.2-1.3M396.2 494.9l-.5 1l-1.5 .5M433.1 506.8l-1.2 .2l-.8 1.3M430.3 516.9l.5 1.2l1.2 .5M381.5 468.7l1.4 .2l1 0M414.4 513.7l-.1 1l-.4 1.4M399.1 488.5l.1-1.7l.3-.8M416.4 485.3l-1.4 .6l-1 .4M377.6 465.7l1.2-1.4l.2-.7M407.4 498.6l0 1.3l-0 1.3M397.8 478.7l.3-1.1l-.6-1.5M401.9 521.4l-1-1.5l-.7-.4M430.9 507.9l.6-1.6l-.4-.9M385.8 484.1l-1.1 .6l-1.4-.1M393.6 474.3l.9 1.5l-.2 1M432.7 513l-.9 .9l-1 .9M382.2 479.8l1.3-1l1-.1M394.2 488l0 .7l-1 1.7M411.1 494l1.3-.5l.2-1.6M420.6 515.8l.8 .2l1.7 .8M403.1 508l-.3-1.7l-1.1-.6M378.3 484.1l1.7 .1l.9 .2M374.3 473.2l-.6 1l-1.4 .7M424.3 487.6l0-1.6l-.6-1M419.2 496.5l1.5 0l1.1 .7M387 478.6l1.3-.1l1.2 1M376.5 468.8l.1 1.7l-.8 .9M381.1 471.8l-.7-1.9l-.2-.7M411 498.9l-.9-1.1l-1.4-.2M380.1 481.3l-.8 .5l-1.4 1.1M423.2 489.9l-1 .7l-1.7-.4M399.4 479.4l1.8-.3l.7-.9M370.5 474.4l-.4-1.3l-.2-1.4M414.8 469.7l-.8 1.1l0 1.5M428.6 516l-1.3 .3l-1.3 .7M392.6 461.8l.5 1.1l-.6 1.6M418.1 507.5l-1 1l-1.5 .1M406.4 497.2l-.9-.1l-1.6-1M400.7 512l.6 1.6l-.1 1.1M375.2 472.8l.3 .5l1.5 1.6M429.4 501.3l-1.8 .3l-1 .1M399.4 480.3l1.8 .6l.8 .4M373.4 472.1l-1.5-.1l-1.1-.8M380.4 489.3l.6 .7l1.8 .7M433.4 510.5l-.1-1.6l.5-1.2M390.3 486l-.8 1l-.6 1.4M434.2 519.1l.9-.2l1.7-1.1M378.9 487.3l-.9-1.4l-.7-.9M397.9 490l-1.1-.3l-1.3-1.2M416.9 520.3l-1-1l-1.1-.8M404.8 522.4l2-.5l.9-.1M389.5 469.6l.6-1.5l.9-.9M411.4 504.8l.3 1l1.2 1.5M382.9 472.6l1.1-1.1l.5-1.3M395.5 504l0 1l-.9 1.8M416.1 521.4l-1.9 .1l-1-.3M404.4 520.2l.9 1.2l1.6 .2M380 463.7l.8 .9l-.3 2M422.5 512.7l1.3 .6l1.5 0M410.1 483.5l.6-1.9l.2-.9M411.8 489.2l-1-1l-.7-1.4M391.4 463.5l2 .7l.9 .2M394.2 497.4l1.5 .4l1.4-.3M413.6 461.8l-1.8 .3l-1 .6M416.3 492.1l-1.8-.9l-.8-.5M416.2 470.3l.6 1.7l.3 1.2M410.5 495.4l.7 .9l.4 1.9M420.3 511.3l-.8-.8l-.2-2M418.4 519.9l.4-1.4l.5-1.4M398.9 485.9l-1 .6l-1.9 .4M399.9 463.4l1.5-1.5l.6-.7M404.6 510.7l1.3 1l1 1M368.3 466.8l1.4-.3l1.4-.9M423.3 476.9l-.3 .9l-1.2 1.8M417.1 478.4l-.2-2l.3-1.1M405.9 475.4l-1.7 1.4l-.8 .3M416.6 469.3l.9 .7l1.6 1.1M406.9 478.1l.4-2.1l.1-1M383.3 475.2l1.5 1.6l.4 .9M417.5 497.7l-.2 1.2l.5 2M431.5 502.4l.3 1.3l1.2 1.4M385.6 493.6l-1.4-.5l-1.6-.5M372.3 466l-.2 1.3l-1.2 1.6M409.6 509.1l1.9-.3l1.3-0M408.5 472.9l.9-1.1l1.3-1.2M394.1 502.8l-1.4-.3l-1.5-1.1M374.4 461.5l1.4 .2l1.7 .6M380.9 463.3l1.7 .5l1.4 .5M367.7 465.9l.7-1.2M367.8 468l.9 .9M407.4 487l1.2-1.2M373.9 462.6l.9 1.4M410.2 492.9l.4-1.6M439.1 512.4l1.5-.5M437.1 511.5l-.4-1.3M415.6 474.3l1.5 .5M415.6 513.8l1.1 1.1M389 469.7l0-1.4M412.5 503.4l1.4-.4M389.7 504.6l-1.4-.3M411.9 498.7l-0-1.3M423.3 477.6l-.3 1.6M401.1 469.9l.1 1.5M421.9 518.1l.1-1.3M420 511.1l-1.2-1M370.4 477l-.6 1.3M365.4 461.1l-1 1.1M365 460.6l-1.4 .6M365.3 459.1l-1.1-.9M365.1 459.1l-1.3-.9M398.9 486.3l-.9 1.1M426.1 507.5l-1.1 1.2M403.7 463.4l1.5-.5M430.7 495.7l1.2 1.1M429 493.2l-.5-1.4M430.9 494.3l1.4-.3M429.4 520l-.8-1.4M431.3 520.4l1.1-1.1M429.6 522.6l-.6 1.2M386.4 463.7l.9-1.1M403.1 503.3l-.4 1.5M420.6 506.5l1.5 0M426.3 514.6l-.5 1.2M403.6 468.8l-1-1.4M379.5 477.6l1.1 1M438.8 520l1.2-1M422.7 489.9l-1.5 .7M424.2 485.1l1.2 1.1M426.9 502.2l1.3 .5M398.3 498.5l-.3 1.3M418.8 488.2l-.1-1.6M414.2 460.4l-1.1-1.1M416.7 462.3l1.3 .8M416 460.1l.6-1.3M424.5 497.8l1.6-.1M437.3 515.8l-1.1-.9M411 464.1l1.3 .8M385.7 493.3l-1.3-.7M404.5 491l1.5-.1M398.2 474.3l1.3-.4M380.8 493.7l-.1 1.6M416.8 502.8l-1.6-0M419.1 504.2l.7 1.4M428.6 491.2l1.4 .1M427 489.6l-.2-1.5M404.2 460.7l1.6 .1M403.9 460.9l1.3 .3M388.6 501l-1.1 .8M397.2 514.8l-0-1.4M401.4 496.6l-.8 1.4" stroke="#c03030" stroke-width="0.75" fill="none" stroke-opacity="1"/>
<path d="M430.2 521.4h0M407.3 502.4h0M399.8 485.3h0M394.1 477.8h0M379.2 462.8h0M413.7 517.6h0M406.2 488.2h0M397.6 479.7h0M374.9 472.2h0M417.8 484.7h0M409.7 463.2h0M413.2 486.7h0M420.7 472.2h0M424.2 489.2h0M372.5 464.7h0M392.2 460.7h0M421.9 519.4h0M381.8 473.7h0M389.4 462.8h0M434.3 506.5h0M422.9 497.9h0M396.9 474.7h0M426.9 513.4h0M414.1 508.7h0M411.1 503.8h0M420.5 481.3h0M392.2 492.2h0" stroke="#3c46c8" stroke-width="3.10" stroke-linecap="round"/>
<path d="M429.7 520.9h0M406.8 501.9h0M399.3 484.8h0M393.6 477.3h0M378.7 462.3h0M413.2 517.1h0M405.7 487.7h0M397.1 479.2h0M374.5 471.7h0M417.3 484.2h0M409.2 462.8h0M412.7 486.2h0M420.2 471.7h0M423.7 488.7h0M372 464.2h0M391.7 460.2h0M421.4 518.9h0M381.3 473.2h0M389 462.3h0M433.8 506h0M422.4 497.4h0M396.4 474.2h0M426.4 512.9h0M413.6 508.3h0M410.6 503.3h0M420 480.9h0M391.7 491.7h0" stroke="#a0a6ff" stroke-width="1.24" stroke-linecap="round" stroke-opacity="0.8"/>
<path d="M420.9 513.2h0M411.5 508.8h0M408.1 465.9h0M401.4 464.5h0M389.7 491.1h0M372.1 467.3h0M431.9 520.3h0M432.1 505.1h0M412.2 471.7h0M408.7 487.9h0M398.3 509.1h0M432.3 494.1h0M419.5 480.4h0M396 510.6h0M384.4 492.5h0M405.8 460.7h0M421.4 515.9h0M380 484.2h0M409.3 501.9h0M411.9 497.4h0M407.4 499.8h0M369.7 466.4h0M415.1 511.5h0M416.8 514.9h0M393.1 463h0M380.4 474.6h0M410.7 481.6h0M384.2 493.1h0M421.2 518.5h0M413.9 513.4h0M381 486.6h0M392.3 485.2h0M388.3 478.5h0M391.4 461.4h0M380.6 478.6h0M368.4 464.8h0M402.8 506.3h0M410 479.5h0M369.8 478.4h0M389.7 503.7h0M410.3 513.7h0M402.3 521.8h0M409.4 471.8h0M393.9 461.6h0M381 490h0M380.7 495.3h0M401.3 481h0M392.9 464.9h0M400.4 484.4h0M374.8 464h0M403.4 478.8h0M389 468.2h0M417.1 508.6h0M386 491.2h0M435 518.9h0M430.8 518.2h0M399.6 517.7h0M409.8 515.1h0M414.2 521.4h0M396.5 477.1h0M419.8 505.5h0M406.7 508.9h0M412.4 493.5h0M404.2 502.6h0M431.9 507h0M415.1 486h0M384 471.4h0M418.8 510.1h0M400.6 498h0M415.9 519.2h0M411.6 505.7h0M375.6 465.1h0M419.9 474h0M417.3 498.9h0M370.1 473.2h0" stroke="#c01818" stroke-width="2.10" stroke-linecap="round"/>
<path d="M420.5 512.9h0M411.2 508.5h0M407.7 465.6h0M401.1 464.2h0M389.3 490.8h0M371.8 466.9h0M431.5 519.9h0M431.7 504.8h0M411.8 471.3h0M408.4 487.6h0M397.9 508.8h0M431.9 493.7h0M419.2 480h0M395.6 510.3h0M384.1 492.2h0M405.4 460.4h0M421 515.6h0M379.6 483.8h0M409 501.6h0M411.6 497.1h0M407 499.5h0M369.4 466.1h0M414.8 511.2h0M416.4 514.6h0M392.7 462.6h0M380 474.2h0M410.4 481.3h0M383.8 492.8h0M420.9 518.2h0M413.6 513h0M380.7 486.2h0M392 484.9h0M388 478.1h0M391 461h0M380.3 478.2h0M368.1 464.4h0M402.4 506h0M409.7 479.1h0M369.5 478h0M389.3 503.4h0M410 513.4h0M402 521.5h0M409 471.5h0M393.5 461.3h0M380.7 489.7h0M380.3 494.9h0M400.9 480.6h0M392.6 464.6h0M400.1 484.1h0M374.4 463.7h0M403.1 478.5h0M388.7 467.9h0M416.8 508.2h0M385.7 490.9h0M434.7 518.6h0M430.5 517.8h0M399.3 517.4h0M409.5 514.7h0M413.9 521.1h0M396.1 476.8h0M419.5 505.2h0M406.4 508.6h0M412 493.1h0M403.9 502.3h0M431.6 506.7h0M414.7 485.6h0M383.7 471.1h0M418.5 509.8h0M400.3 497.7h0M415.6 518.9h0M411.3 505.4h0M375.3 464.7h0M419.6 473.6h0M416.9 498.5h0M369.8 472.8h0" stroke="#f07070" stroke-width="0.84" stroke-linecap="round" stroke-opacity="0.8"/>
<path d="M387.8 492.5h0M402.1 503.5h0M384.3 467.2h0M380.5 470h0M413.9 503.1h0M436.7 510.2h0M437.5 515.6h0M438.2 519.6h0M425 508.7h0M416.8 476.5h0M382.5 463.8h0M421.2 490.5h0M429 493.6h0M402.7 504.7h0M428.8 506.3h0M410.6 521.3h0M383.5 478.8h0M431.5 506.3h0M417.1 474.9h0M418.8 495.2h0M394.8 492.1h0M397.9 514h0M405.9 511.7h0M392.7 494h0M416.3 481.1h0M392.8 506.1h0M380 478.7h0M378 485.8h0M432.5 519.3h0M401.3 471.4h0M430 491.3h0M404.1 476.7h0M393.3 480.1h0M392.7 502.5h0M378.2 468h0M412.3 464.9h0M422 516.7h0M405.5 481.5h0M398 499.8h0M401.3 513.6h0M387.3 469.7h0M440.6 511.9h0M410.1 497.8h0M427.3 516.2h0M411.2 496.3h0M416.8 471.9h0M424.3 486h0M396.8 489.7h0M387.4 501.8h0M384.8 476.8h0M401.2 466.8h0M411.7 462.1h0M428.6 518.6h0M413.5 481.7h0M423 477.8h0M368.5 467.9h0M428.5 491.8h0M368.7 469h0M391.4 471.9h0M396.8 477.9h0M395.7 495.9h0M425.5 486.2h0M399.5 473.9h0M427.6 501.5h0M417.5 470h0M398 487.4h0M421.3 483.6h0M436.2 521.1h0" stroke="#c01818" stroke-width="2.10" stroke-linecap="round"/>
<path d="M387.4 492.1h0M401.8 503.1h0M383.9 466.9h0M380.1 469.6h0M413.6 502.7h0M436.3 509.9h0M437.1 515.2h0M437.9 519.3h0M424.6 508.3h0M416.5 476.1h0M382.2 463.5h0M420.9 490.2h0M428.6 493.2h0M402.3 504.4h0M428.4 506h0M410.2 521h0M383.2 478.5h0M431.1 506h0M416.8 474.5h0M418.5 494.9h0M394.5 491.7h0M397.5 513.7h0M405.5 511.3h0M392.3 493.7h0M415.9 480.7h0M392.5 505.8h0M379.6 478.4h0M377.6 485.5h0M432.1 518.9h0M400.9 471.1h0M429.7 491h0M403.8 476.4h0M393 479.7h0M392.3 502.2h0M377.9 467.6h0M412 464.5h0M421.7 516.4h0M405.2 481.2h0M397.7 499.4h0M401 513.3h0M386.9 469.3h0M440.2 511.5h0M409.8 497.5h0M427 515.9h0M410.9 496h0M416.5 471.6h0M423.9 485.7h0M396.5 489.4h0M387.1 501.5h0M384.5 476.5h0M400.9 466.5h0M411.4 461.7h0M428.2 518.3h0M413.2 481.4h0M422.6 477.5h0M368.2 467.5h0M428.2 491.5h0M368.4 468.6h0M391.1 471.6h0M396.4 477.5h0M395.4 495.6h0M425.1 485.9h0M399.1 473.6h0M427.3 501.2h0M417.2 469.6h0M397.6 487.1h0M421 483.2h0M435.8 520.7h0" stroke="#f07070" stroke-width="0.84" stroke-linecap="round" stroke-opacity="0.8"/>
<path d="M369.7 470.4h0M430.6 504.4h0M406.6 480.1h0M418 521.3h0M402.2 463.9h0M437.5 512.8h0M400.6 505.2h0M401 468.4h0M427.2 491.1h0M425.6 501.7h0M407.4 497.3h0M412.9 490.2h0M418.1 493h0M417.8 496.5h0M380.9 480.8h0M380.1 468.6h0M396.8 511.9h0M395.5 503.1h0M400.1 510.4h0M391.1 485h0M407.7 509.4h0M438.4 516.7h0M398.4 464.9h0M409.9 494.5h0M419.1 506.5h0M418.3 502.8h0M366.9 467.1h0M398.6 497.2h0M397.6 508.1h0M437.6 521h0M386.9 483.5h0M392.7 472.8h0M433.3 519.3h0M414.5 512.7h0M394.1 487.3h0" stroke="#3c46c8" stroke-width="3.10" stroke-linecap="round"/>
<path d="M369.2 469.9h0M430.1 503.9h0M406.1 479.6h0M417.5 520.8h0M401.7 463.4h0M437 512.3h0M400.1 504.7h0M400.5 467.9h0M426.7 490.6h0M425.1 501.2h0M406.9 496.8h0M412.4 489.7h0M417.6 492.5h0M417.3 496h0M380.4 480.3h0M379.6 468.1h0M396.3 511.4h0M395 502.6h0M399.6 509.9h0M390.6 484.5h0M407.2 508.9h0M437.9 516.2h0M397.9 464.4h0M409.4 494h0M418.6 506h0M417.8 502.3h0M366.4 466.6h0M398.2 496.7h0M397.1 507.6h0M437.1 520.5h0M386.4 483h0M392.2 472.3h0M432.8 518.8h0M414 512.2h0M393.6 486.8h0" stroke="#a0a6ff" stroke-width="1.24" stroke-linecap="round" stroke-opacity="0.8"/>
<path d="M418.7 486.6h0M407.3 507h0M414.4 514.8h0M364.2 458.2h0M388 481.1h0M426.1 497.8h0M399.3 516.9h0M396.9 491.7h0M418 504.6h0M411.8 519.2h0M411 469.4h0M427.8 515.1h0M422.2 490.6h0M388.3 504.3h0M414.8 469.9h0M422.2 506.5h0M378.7 464.2h0M431.8 513.8h0M405.2 461.3h0M395.4 509.1h0M432 496.8h0M400.6 519.5h0M431.8 503.7h0M406.8 521.9h0M402.3 462.4h0M401.2 496.6h0M398.9 507.6h0M392.7 503.2h0M423.8 513.3h0M383.7 491.6h0M416.9 481.4h0M423.8 519.1h0M398.9 518.2h0M372.5 463.8h0M407.5 468.6h0M394.5 475.8h0M375.5 473.3h0M401.5 461.9h0M404.5 503h0M373.7 474.2h0M411.9 485.1h0M402.7 510.6h0M436 512.8h0M363.5 461.2h0M409.8 496.3h0M400.7 465.5h0M413.1 459.3h0M394.2 488.8h0M420.7 496.5h0M401.8 492.7h0M423 479.2h0M407.3 476h0M409.3 519.3h0M395.5 505h0M410.1 520.1h0M414.6 475h0M364.5 462.3h0M418 490.4h0M413.2 489.3h0M410.6 491.2h0M440.1 518.9h0M401.8 506h0M400.9 519.9h0M412.7 485.1h0M426.7 516.2h0M380.1 490.4h0M405.2 462.9h0M391.4 483h0M371.9 471.9h0" stroke="#c01818" stroke-width="2.10" stroke-linecap="round"/>
<path d="M418.4 486.2h0M406.9 506.7h0M414 514.4h0M363.9 457.9h0M387.7 480.7h0M425.8 497.4h0M399 516.6h0M396.6 491.4h0M417.7 504.2h0M411.5 518.9h0M410.7 469.1h0M427.4 514.7h0M421.9 490.2h0M388 504h0M414.4 469.5h0M421.8 506.2h0M378.4 463.9h0M431.4 513.5h0M404.9 460.9h0M395.1 508.8h0M431.6 496.5h0M400.2 519.1h0M431.5 503.4h0M406.5 521.6h0M402 462h0M400.9 496.3h0M398.6 507.3h0M392.4 502.8h0M423.5 513h0M383.4 491.3h0M416.6 481h0M423.4 518.7h0M398.5 517.9h0M372.1 463.4h0M407.2 468.2h0M394.2 475.5h0M375.2 473h0M401.1 461.6h0M404.1 502.7h0M373.4 473.9h0M411.6 484.8h0M402.3 510.2h0M435.6 512.5h0M363.2 460.9h0M409.4 496h0M400.4 465.2h0M412.8 459h0M393.9 488.4h0M420.3 496.2h0M401.4 492.3h0M422.6 478.9h0M407 475.7h0M409 519h0M395.2 504.7h0M409.7 519.7h0M414.3 474.7h0M364.1 461.9h0M417.6 490.1h0M412.9 489h0M410.2 490.9h0M439.7 518.6h0M401.5 505.7h0M400.6 519.6h0M412.4 484.7h0M426.4 515.9h0M379.8 490h0M404.9 462.6h0M391.1 482.7h0M371.6 471.6h0" stroke="#f07070" stroke-width="0.84" stroke-linecap="round" stroke-opacity="0.8"/>
<path d="M388.3 489.8h0M404.6 470.2h0M403 491.1h0M419.8 515.6h0M397.2 516.2h0M412.2 520.8h0M405.3 505.2h0M366.4 460h0M373 461.3h0M431.1 501h0M378.4 476.6h0M408.5 521.8h0M412 500.1h0M411.2 515h0M389 471.1h0M415.7 468.6h0M408.1 467.4h0M429.5 494.6h0M421.1 512.1h0M381 492.1h0M417.5 474.3h0M403.4 509.7h0M390.6 480.4h0M402.9 522.9h0M423 484h0M402.8 481.7h0M423.6 476h0M402.2 495.1h0M409.5 485.4h0M384.7 491.4h0M396.7 493.9h0M370.9 475.7h0M376.4 467.1h0M381.8 484.5h0" stroke="#3c46c8" stroke-width="3.10" stroke-linecap="round"/>
<path d="M387.8 489.4h0M404.1 469.7h0M402.5 490.6h0M419.3 515.1h0M396.7 515.7h0M411.7 520.3h0M404.8 504.7h0M365.9 459.5h0M372.5 460.8h0M430.6 500.5h0M377.9 476.1h0M408 521.3h0M411.5 499.6h0M410.7 514.5h0M388.5 470.6h0M415.2 468.1h0M407.6 466.9h0M429 494.1h0M420.6 511.6h0M380.5 491.6h0M417 473.8h0M402.9 509.2h0M390.1 479.9h0M402.4 522.4h0M422.5 483.5h0M402.3 481.2h0M423.1 475.6h0M401.7 494.6h0M409 484.9h0M384.2 490.9h0M396.2 493.4h0M370.5 475.2h0M375.9 466.6h0M381.3 484h0" stroke="#a0a6ff" stroke-width="1.24" stroke-linecap="round" stroke-opacity="0.8"/>
<path d="M401.1 515.9h0M414.1 473.8h0M395.1 464.6h0M385.4 464.7h0M402.4 477.4h0M424.7 517.6h0M412 469.4h0M430.3 509.6h0M389.7 500.3h0M407.9 513.7h0M392.7 496.9h0M407.6 474h0M415.4 461.5h0M417.3 480.4h0M433.6 512.1h0M385.6 478.7h0M391.9 466.2h0M399 490.2h0M414.2 482.9h0M393.6 508.6h0M402.6 460.6h0M385.1 468.9h0M429.8 515.7h0M399.4 519.1h0M427.2 506.3h0M408.7 517.3h0M411.1 479.8h0M387 494h0M418.9 489.8h0M391.1 504.9h0M379.8 488.7h0M403.5 501.8h0M403.5 518.9h0M376.5 484h0" stroke="#3c46c8" stroke-width="3.10" stroke-linecap="round"/>
<path d="M400.6 515.4h0M413.6 473.3h0M394.6 464.1h0M384.9 464.2h0M401.9 476.9h0M424.2 517.1h0M411.5 468.9h0M429.8 509.1h0M389.2 499.8h0M407.4 513.2h0M392.2 496.5h0M407.1 473.5h0M414.9 461h0M416.8 479.9h0M433.1 511.6h0M385.1 478.2h0M391.4 465.7h0M398.5 489.7h0M413.7 482.4h0M393.1 508.1h0M402.1 460.1h0M384.6 468.4h0M429.3 515.2h0M398.9 518.6h0M426.7 505.8h0M408.2 516.8h0M410.6 479.3h0M386.5 493.5h0M418.4 489.3h0M390.6 504.5h0M379.3 488.2h0M403 501.3h0M403 518.4h0M376.1 483.5h0" stroke="#a0a6ff" stroke-width="1.24" stroke-linecap="round" stroke-opacity="0.8"/>
<path d="M399.8 509.4h0M418 463.1h0M408.2 514.5h0M416.6 458.8h0M390.1 468h0M394.1 473.8h0M411.5 516.1h0M405 471.7h0M405.5 497.1h0M391.8 463.8h0M433.3 508.9h0M397.9 486.6h0M363.9 458.3h0M415.2 502.8h0M418.7 518.5h0M393.4 464.2h0M380.7 464.6h0M414.4 491.2h0M376.6 470.4h0M389.5 487h0M408.7 510.8h0M408.6 485.8h0M428.2 502.8h0M383 468.9h0M417 483h0M436.2 514.9h0M382.1 482.9h0M399.3 486.8h0M387.3 462.6h0M388.5 484.4h0M395.7 497.8h0M411.7 500.8h0M404 488.8h0M426.8 488.1h0M384.7 491.7h0M401.2 490.6h0M384.7 484.8h0M429 523.8h0M398.1 477.6h0M426.2 503.4h0M425.8 515.8h0M401.1 479.1h0M418.9 520.8h0M385.1 481.3h0M431.4 503.7h0M405.3 521.4h0M375.7 461.7h0M390.8 499.4h0M419.5 510.4h0M402.5 470.3h0M421.3 473.9h0M404.1 477.9h0M406 503.3h0M426 489.4h0M423.7 499.9h0M402.1 516.8h0M398 512.3h0M397.2 513.3h0M428.2 507.3h0M418.2 482.3h0M386.9 464.8h0M379.3 481.8h0M396.4 464.5h0M432.9 511.5h0M398.2 494.8h0M414 470.7h0M402.6 467.4h0M406.1 490.9h0M410.8 488.2h0" stroke="#c01818" stroke-width="2.10" stroke-linecap="round"/>
<path d="M399.5 509.1h0M417.6 462.8h0M407.9 514.1h0M416.3 458.5h0M389.8 467.7h0M393.8 473.5h0M411.1 515.7h0M404.6 471.3h0M405.1 496.7h0M391.4 463.5h0M432.9 508.6h0M397.6 486.2h0M363.5 457.9h0M414.8 502.5h0M418.4 518.1h0M393 463.9h0M380.4 464.2h0M414.1 490.9h0M376.3 470.1h0M389.1 486.6h0M408.4 510.5h0M408.2 485.5h0M427.9 502.4h0M382.6 468.6h0M416.6 482.7h0M435.8 514.6h0M381.7 482.6h0M399 486.5h0M387 462.3h0M388.2 484h0M395.4 497.4h0M411.3 500.5h0M403.6 488.5h0M426.5 487.8h0M384.4 491.4h0M400.9 490.3h0M384.3 484.4h0M428.7 523.5h0M397.7 477.3h0M425.8 503h0M425.5 515.5h0M400.8 478.8h0M418.6 520.5h0M384.8 480.9h0M431.1 503.4h0M404.9 521.1h0M375.4 461.3h0M390.5 499.1h0M419.2 510.1h0M402.2 469.9h0M421 473.6h0M403.8 477.5h0M405.7 502.9h0M425.6 489.1h0M423.4 499.6h0M401.8 516.5h0M397.7 511.9h0M396.8 513h0M427.8 507h0M417.9 482h0M386.5 464.5h0M379 481.4h0M396 464.2h0M432.6 511.1h0M397.8 494.5h0M413.7 470.4h0M402.3 467.1h0M405.7 490.6h0M410.5 487.9h0" stroke="#f07070" stroke-width="0.84" stroke-linecap="round" stroke-opacity="0.8"/>
<path d="M503.1 475.4l0 .1M505.6 477.4l-1.2-.9M493.9 492.4l.5-.7M497 491.5l-1-.3M496.3 502.6l.6 .1M499.5 502.3l-1 .2M497.8 478.4l-.1 1.3M498.8 481.4l-.6-.2M477.8 478.2l-.1 1M477 481.4l.3-.6M503.6 505.7l.7-.6M505.8 503.3l-.4 .6M502 493.2l.2-1.1M502.1 490l.2 .5M486.2 494.7l.1-1.1M487.2 491.6l-.4 .4M467.3 480.3l.5 .8M468.9 483.1l-.3-.6M476.8 484.6l.4-.6M477 481.4l.3 1.1M459.2 491.1l1-.7M461.3 488.6l-.1 .5M512.7 485.7l-.2-.9M510.1 483.7l1.1 .1M508.9 513.3l-.2-.6M508.1 510.1l.2 1M485 470.4l.3-.2M488.3 470.7l-1.4-.4M503.5 498.9l-1 .1M500.3 498.2l.7 .4M464.7 489.2l-.2 1.4M464.5 492.5l-0-.2M510.8 496.6l-0 1.2M510 499.8l.4-.4M498 484.7l.8-.8M498.8 481.4l.4 .8M499.3 488.2l.8-0M502.1 490l-.6-.9M490.3 473.9l.9-.3M493.7 473.7l-.8-.2M482.5 480.3l-.3-.8M482 477l-.1 .9M452.5 481.4l-1.1-.2M449.5 479.8l.4 .5M469.2 491.2l.3 1.1M471.3 493.8l-.8-.3M472.3 485.4l-.2 .2M469.3 487l1.4-.6M506.8 491.9l-.2 .4M506.9 495.4l-.3-1.3M488.4 486.9l-1.3-.9M485.4 485.2l.2-0M503.6 483.1l.4-.2M506.6 481.3l-1.1 .7M490.4 490.3l-.5 .2M487.2 491.6l1.1-.4M464.7 489.2l-1-.3M461.3 488.6l.8-0M479.8 469l-1.2 .9M476.4 470.3l.5 .2M476.8 484.6l.4 .3M480.1 486.2l-1.2-.5M515.6 492.7l-0 .8M517.7 495.6l-1.1-.7M467.5 467.3l-0 .4M467.4 470.9l-0-1.4M515.4 501.1l1 .3M519 502.1l-.7-.2M524.2 505.8l1.2 .1M527.9 506.1l-.7-0M515.6 492.7l-1.1-.2M512.2 491.2l.6 .6M480.6 489.9l-.1-.5M480.1 486.2l.1 1.4M452.5 481.4l1.3-.1M455.4 479l-.2 1M515.4 501.1l-.2 .6M514 504.5l.5-1.1M499.3 488.2l-.8-.5M498 484.7l-.2 1.3M491.5 497.1l-1.5 .8M488 498.3l.3 .1M463.7 484.4l-.5-1.2M463.1 480.6l-.2 .7M490.3 473.9l-.3-1.2M488.3 470.7l.7 .4M510.3 504.8l.8-.1M514 504.5l-1.1 0M517.5 511.2l-.3 .5M518.8 514.8l-.9-1.3M518.8 514.8l-1.3 .1M514.9 514.4l.6 .3M526.8 517.6l1.1-.3M530.6 518.2l-.8-.6M447 482.8l1.2-1.1M449.5 479.8l-0 .4M469.3 487l-.5-1.2M468.9 483.1l-.3 .8M444 473.2l-.1 .7M445.6 476.7l-.8-1M480.2 472.9l-.7-1.3M479.8 469l-.5 .7M462.5 470.4l-.4-1M459.3 468.2l1.2 .2M512.7 485.7l1.1-0M516.7 485.7l-.9-0M518.4 505.9l.4-1.4M519 502.1l.1 .6M488.4 486.9l1.1 .7M490.4 490.3l0-1M517.5 511.2l-.4-.7M513.9 509.6l1.4 .1M485.1 504.6l-.5-.5M484.3 500.7l-.1 1.4M499.3 488.2l-.6 1M497 491.5l.5-.6M473.7 479.3l1.3 .8M477 481.4l-.4-.3M517.5 511.2l-.4 1.2M514.9 514.4l.9-.4M510.8 496.6l-1.6-.6M506.9 495.4l.4-0M480.3 501.2l1.5 .2M484.3 500.7l-.5 .5M486.2 494.7l-0 1.4M488 498.3l-.9-.4M506.6 481.3l0-1.1M505.6 477.4l.6 .9M472.3 485.4l-1-.8M468.9 483.1l.7 .4M445.6 476.7l-.4 .4M442.4 479.4l1.2-.9M493.9 492.4l-1-.4M490.4 490.3l.8 .6M526 513.5l-.8 .7M522.8 516.2l.8-.7M476.4 470.3l-1.3-.4M472.9 468.2l.5 .7M500.3 498.2l-.5 1.6M499.5 502.3l-.1-.5M469.2 491.2l-.3-.5M469.3 487l-.4 1.6M523.3 494.5l-.4 .5M522 498.4l.3-1.5M526.8 517.6l-.3-1.2M526 513.5l.1 .9M530.4 509.8l.4-.6M533.4 506.8l-1.1 .8M493.7 473.7l1.1 .3M497.9 473.9l-1 .1M522.8 516.2l-.9-.7M518.8 514.8l1.1-0M528.9 497.5l.8 1M530.2 501.6l.1-1.1M506.6 481.3l.3 .9M510.1 483.7l-1.5-.3M526.8 517.6l-.4 0M522.8 516.2l1.6 .8M462.1 474.7l.4-.8M462.5 470.4l.2 1.3M477.8 478.2l-1.4-.1M473.7 479.3l.6-.6M467.3 480.3l-.7 .4M463.1 480.6l1.5 .2M474.9 491.4l-.8 .4M471.3 493.8l1-.9M494 486.3l1.1 .1M498 484.7l-.9 .9M484.3 500.7l.4-.8M488 498.3l-1.4 .4M477.8 478.2l1.1-.6M482 477l-1 0M464.5 492.5l.9 .5M467 496.1l-.4-1.3M497.8 478.4l-.4-1.5M497.9 473.9l-.4 .8M490.6 501.9l-1.2-1M488 498.3l.1 .8M474.5 474.9l-.2 1.6M473.7 479.3l.2-.5M530.4 509.8l-.6-.4M527.9 506.1l.6 1.4M455 469.5l.6-.5M459.3 468.2l-1.6 .2M480.2 472.9l1 .8M482 477l0-1.2M510.1 483.7l-1.4 .3M506.8 486.8l.2-1.3M467.4 470.9l.8 1.1M469.9 474.7l-.4-.7M488.3 470.7l.8-.5M491 467l-.5 1.3M496.3 502.6l-.4 1.2M493.2 505.9l1.2-.4M474.5 474.9l-.8-.3M469.9 474.7l1.4-.2M479.2 494.3l-.7 1.1M476.4 498l.6-.7M456.6 483.4l-.4-1.6M455.4 479l.2 .6M514 504.5l.9 .2M518.4 505.9l-1.3-.5M456.6 483.4l-1.3-1M452.5 481.4l.8 0M480.2 472.9l-.8-1M476.4 470.3l1 .3M472.3 485.4l1.3-.4M476.8 484.6l-1 0M533.2 513.4l-.5-.5M530.4 509.8l.9 1.3M480.6 489.9l-.3 .9M479.2 494.3l.4-1.3M477.8 478.2l-.6-1.1M474.5 474.9l1 .6M522 498.4l-.4 1.4M519 502.1l1-.4M456.6 473.9l0-1M455 469.5l.8 1.2M510.3 504.8l-.6-.3M505.8 503.3l1.6 .4M526.6 491l-.6 .3M523.3 494.5l1-1.4M493.2 505.9l-.8-1.2M490.6 501.9l.5 .8M528.9 497.5l.3-1.4M532.3 494.2l-1.4 .3M488.4 486.9l-.2 .8M487.2 491.6l.4-1.5M503.5 498.9l.7-.4M506.9 495.4l-.9 1.3M471.3 493.8l-1.6 .3M467 496.1l.6-.8M467.4 470.9l-1.1 .1M462.5 470.4l1.3 .4M463.7 484.4l-.7 .5M461.3 488.6l.5-1.6M513.9 509.6l.3 .7M514.9 514.4l-.2-1.7M464.7 489.2l.8 .6M469.2 491.2l-1.4-.4M503.6 483.1l.4 .4M506.8 486.8l-1.2-1.5M464.5 492.5l1.7-.8M469.2 491.2l-.7-.2M464.7 489.2l.1-.9M463.7 484.4l.6 1.5M491.5 497.1l.2 .6M490.6 501.9l.7-1.8M497.8 478.4l-1.7 .7M493 479.3l.7 .2M502 493.2l1.2-.3M506.8 491.9l-1.2 .4M445.6 476.7l.5 .5M449.5 479.8l-1.5-1.1M503.5 498.9l-0 1.1M505.8 503.3l-1.1-1.1M480.3 501.2l-1.2-.5M476.4 498l.7 1.1M474.5 474.9l.8-1.4M476.4 470.3l-.1 .9M510.3 504.8l.5-1.4M510 499.8l.6 1.1M464.5 492.5l-1.3-1.2M461.3 488.6l.3 .7M514 504.5l.4 1.3M513.9 509.6l.4-1.2M487.5 479.4l-.7-.1M482.5 480.3l1.8-.6M503.6 483.1l-.8-.7M498.8 481.4l1.6 .1M530.2 501.6l-.3 1.6M527.9 506.1l.8-.7M522 498.4l-1-.2M517.7 495.6l1.1 1.2M506.8 491.9l-1-.5M502.1 490l1.3 .5M506.8 491.9l.3-1.5M506.8 486.8l.4 1.1M475 502.9l.1-1.6M476.4 498l-.6 .9M474.9 491.4l.6 .2M479.2 494.3l-1.5-1.2M456.6 473.9l-.2 1.5M455.4 479l.4-1.1M503.5 498.9l-1.5 1.4M499.5 502.3l.5-.3M452 486.6l.1-1.8M452.5 481.4l-.1 .9M493.9 492.4l-0 .9M491.5 497.1l1.2-1.5M502 493.2l-.7-.9M497 491.5l1.8-0M502.1 490l-.9 .3M497 491.5l1.6-.5M530.2 501.6l.7-.4M535.5 501.6l-1.9-.4M500.3 498.2l.4-1.6M502 493.2l-.4 1M503.6 505.7l-1-.9M499.5 502.3l1.1 .8M494 486.3l-1.4 .8M490.4 490.3l.4-1.1M517.5 511.2l.7-1.7M518.4 505.9l.3 .9M480.1 486.2l1.5 .3M485.4 485.2l-1.2 .8M485 470.4l-1.1-.7M479.8 469l1.5-.1M503.1 475.4l-1.2-.8M497.9 473.9l1.3-.1M463.7 484.4l1.2 .3M468.9 483.1l-1.4 .9M510 499.8l-1.2-1.5M506.9 495.4l.3 .7M485 470.4l-.9 .1M480.2 472.9l1.5-1.1M493.2 505.9l.5 1.2M493.4 511.3l.4-1.5M512.7 485.7l-0 1.9M512.2 491.2l.3-.8M506.6 481.3l-.2 1.5M506.8 486.8l-.3-1.2M467.5 467.3l1 .6M472.9 468.2l-1.7 .2M487.5 479.4l1.5 .1M493 479.3l-1.2 .1M533.4 506.8l-1-.4M527.9 506.1l1.7-0M533.2 513.4l-.5 .9M530.6 518.2l.8-1.5M510 499.8l-1.1 1M505.8 503.3l1-.7M520.9 489.3l-.5-.5M516.7 485.7l1.6 1.3M482.5 480.3l-1.1 .6M477 481.4l1.6 .1M510.8 496.6l.3-1M512.2 491.2l-.4 1.7M494 486.3l1 .6M499.3 488.2l-1.7-.3M456.6 483.4l-.7 .4M452 486.6l1.6-1.2M480.3 501.2l-1.3 .3M475 502.9l1.3-.6M493.4 511.3l-.9-.5M488.1 509.5l1.8 .4M456.6 473.9l1.1 .1M462.1 474.7l-1.7-.3M482.5 480.3l.3 1.8M485.4 485.2l-1.1-.6M523.3 494.5l-1.8 0M517.7 495.6l1-.5M494 486.3l-1 .2M488.4 486.9l1.8-.1M533.4 506.8l.1-1.5M535.5 501.6l-1 1.1M455 469.5l-.8-.5M449.5 468.1l1.9 .2M515.4 501.1l1.2 1.7M518.4 505.9l-.2-.7M520.9 489.3l.6 1.2M523.3 494.5l-.6-1.4M445.6 476.7l1.4-1.3M450.5 473.8l-1.1 .1M493 479.3l-.2-1.2M493.7 473.7l-.6 1.7M447 482.8l-.8-.7M442.4 479.4l1.5 1.1M510.3 504.8l-.1 1.2M508.1 510.1l1-1.4M530.4 509.8l-1.4 1.5M526 513.5l.8-.4M485.1 504.6l.8 .7M488.1 509.5l-.7-1.7M496.3 502.6l-1.2-.2M490.6 501.9l1.7 .2M513.9 509.6l-1.1-.3M508.1 510.1l1.8-.6M503.6 483.1l-1.1 1M498 484.7l1.7 .2M467.5 467.3l-1.4 1.2M462.5 470.4l1.1-.4M491.5 497.1l-1.1-.3M486.2 494.7l1.5 .9M496.3 502.6l.8-1.4M500.3 498.2l-1.1 .7M450.5 473.8l0-1.1M449.5 468.1l.5 1.8M503.6 505.7l-1.4 .5M499.5 510l.6-1.6M473.7 479.3l-1.1-.9M469.9 474.7l.8 1.4M480.6 489.9l-1.9 .8M474.9 491.4l1 .1M480.3 501.2l1.6 .3M485.1 504.6l-.8-1.4M520.9 489.3l1.2 0M526.6 491l-1.6-.9M487.5 479.4l-1.6-.7M482 477l1.1 .5M515.4 501.1l.1-.8M517.7 495.6l-1.1 1.9M462.1 474.7l-.1 1.2M463.1 480.6l-.6-1.8M455.4 479l-2 0M449.5 479.8l1-.4M503.1 475.4l-1.7 .5M497.8 478.4l.9-1M467.4 470.9l1.8-.6M472.9 468.2l-.9 .7M456.6 473.9l-1.6-.3M450.5 473.8l1.5-.3M490.3 473.9l.7 1.7M493 479.3l-.6-1M508.9 513.3l1.7-.1M514.9 514.4l-1.3-.6M533.4 506.8l-.5-1.8M530.2 501.6l1.1 .8M488.3 470.7l1.3 .5M493.7 473.7l-1.4-1M487.5 479.4l-1 1.7M485.4 485.2l.1-1.2M510.8 496.6l.9-.9M515.6 492.7l-1.5 1M447 482.8l1.7 .9M452 486.6l-.7-1M467.3 480.3l.9-1.6M469.9 474.7l-.4 1.2M499.5 510l-1.2 .2M493.4 511.3l1.9-.5M493.2 505.9l-1.6 1.3M488.1 509.5l.9-.5M503.6 505.7l1.2 .8M508.1 510.1l-1.1-1.4M455 469.5l-1 1M450.5 473.8l1.3-1.2M520.9 489.3l-1.1 .4M515.6 492.7l1.6-1.3M484.3 500.7l.2-1.3M486.2 494.7l-.7 1.7M490.3 473.9l-1.3-1.2M485 470.4l1.4 .5M444 473.2l-.4 1.3M442.4 479.4l.4-1.8M524.2 505.8l-.8-1.1M519 502.1l1.8 .8M480.6 489.9l-.6-1.2M476.8 484.6l1.3 1.5M447 482.8l1.2-1M444 473.2l-1.4 .4M444 473.2l-1.5-.7M524.2 505.8l1.6 0M493.9 492.4l-.3-1.3M533.2 513.4l-1.2-.7M533.2 513.4l.4-1.4M503.1 475.4l.7-1.4M499.5 510l1.5-.5M499.5 510l-.8 1.3M459.2 491.1l-1.3 .2M459.2 491.1l1.1 1M459.2 491.1l1.6 .3M472.3 485.4l1.3 .7M452 486.6l.2 1.3M512.7 485.7l-1.5-.2M526.8 517.6l-.3 1.7M526.6 491l1.6 .3M467.3 480.3l-.1-1.5M474.9 491.4l-1.3 .7M522.8 516.2l-1 1.2M518.8 514.8l-1.3 .4M508.9 513.3l1.1-1.1M508.9 513.3l-1.5 .4M469.3 487l-1.6 .3M479.8 469l-1.2 .5M479.2 494.3l1.5 .6M530.6 518.2l.1 1.7M530.6 518.2l1.3 .6M505.6 477.4l1.4 0M493.4 511.3l-.2-1.4M522 498.4l1.4 .4M535.5 501.6l-1-1M535.5 501.6l-1.2-.8M498.8 481.4l.1 1.6M488.1 509.5l-.2 1.3M449.5 468.1l-.7-1.1M475 502.9l-1.7 .3M471.3 493.8l-1.6-.3M532.3 494.2l1-.9M532.3 494.2l.3 1.6M512.2 491.2l.7 1.2M480.1 486.2l.9-1.4M459.3 468.2l.9-1M467 496.1l.6 1.1M497.9 473.9l-.3 1.4M476.4 498l1.4 .5M491 467l1.1 1.1M491 467l1.3-1M516.7 485.7l1.4-.8M516.7 485.7l-1.3-.1" stroke="#4c58d0" stroke-width="0.75" fill="none" stroke-opacity="1"/>
<path d="M503.1 475.4l0 .1l1.2 .9M494.5 491.7l.5-.7l1 .3M496.9 502.7l.6 .1l1-.2M497.7 479.7l-.1 1.3l.6 .2M477.8 479.2l-.1 1l-.3 .6M504.3 505.2l.7-.6l.4-.6M502.2 492.1l.2-1.1l-.2-.5M486.2 493.6l.1-1.1l.4-.4M467.8 481.1l.5 .8l.3 .6M477.3 484l.4-.6l-.3-1.1M460.1 490.4l1-.7l.1-.5M512.5 484.8l-.2-.9l-1.1-.1M508.7 512.7l-.2-.6l-.2-1M485.2 470.1l.3-.2l1.4 .4M502.6 499l-1 .1l-.7-.4M464.6 490.6l-.2 1.4l0 .2M510.8 497.8l-0 1.2l-.4 .4M498.7 483.9l.8-.8l-.4-.8M500.1 488.1l.8-0l.6 .9M491.2 473.5l.9-.3l.8 .2M482.2 479.5l-.3-.8l.1-.9M451.4 481.1l-1.1-.2l-.4-.5M469.5 492.2l.3 1.1l.8 .3M472.1 485.6l-.2 .2l-1.4 .6M506.6 492.3l-.2 .4l.3 1.3M487.1 486l-1.3-.9l-.2 0M504 482.9l.4-.2l1.1-.7M489.9 490.5l-.5 .2l-1.1 .4M463.8 488.9l-1-.3l-.8 0M478.6 469.9l-1.2 .9l-.5-.2M477.2 484.9l.4 .3l1.2 .5M515.5 493.5l-0 .8l1.1 .7M467.4 467.7l-0 .4l0 1.4M516.5 501.3l1 .3l.7 .2M525.4 506l1.2 .1l.7 0M514.5 492.5l-1.1-.2l-.6-.6M480.5 489.4l-.1-.5l-.1-1.4M453.7 481.2l1.3-.1l.2-1M515.3 501.7l-.2 .6l-.5 1.1M498.4 487.7l-.8-.5l.2-1.3M490.1 497.8l-1.5 .8l-.3-.1M463.1 483.2l-.5-1.2l.2-.7M490 472.7l-.3-1.2l-.7-.4M511.1 504.7l.8-.1l1.1-0M517.2 511.7l-.3 .5l.9 1.3M517.5 514.8l-1.3 .1l-.6-.3M528 517.3l1.1-.3l.8 .6M448.2 481.8l1.2-1.1l0-.4M468.8 485.8l-.5-1.2l.3-.8M444 473.9l-.1 .7l.8 1M479.5 471.7l-.7-1.3l.5-.7M462.1 469.5l-.4-1l-1.2-.2M513.8 485.7l1.1-0l.9 0M518.8 504.6l.4-1.4l-.1-.6M489.4 487.6l1.1 .7l-0 1M517.1 510.5l-.4-.7l-1.4-.1M484.6 504.1l-.5-.5l.1-1.4M498.6 489.2l-.6 1l-.5 .6M474.9 480l1.3 .8l.4 .3M517.1 512.4l-.4 1.2l-.9 .4M509.2 495.9l-1.6-.6l-.4 0M481.8 501.4l1.5 .2l.5-.5M486.2 496l-0 1.4l.9 .4M506.6 480.2l0-1.1l-.6-.9M471.3 484.7l-1-.8l-.7-.4M445.2 477.1l-.4 .4l-1.2 .9M493 492l-1-.4l-.8-.6M525.2 514.2l-.8 .7l-.8 .7M475.1 470l-1.3-.4l-.5-.7M499.8 499.8l-.5 1.6l.1 .5M468.9 490.7l-.3-.5l.4-1.6M522.9 495l-.4 .5l-.3 1.5M526.5 516.4l-.3-1.2l-.1-.9M530.8 509.1l.4-.6l1.1-.8M494.8 473.9l1.1 .3l1-.1M521.9 515.4l-.9-.7l-1.1 0M529.7 498.5l.8 1l-.1 1.1M506.9 482.2l.3 .9l1.5 .3M526.4 517.6l-.4 0l-1.6-.8M462.6 473.9l.4-.8l-.2-1.3M476.4 478.1l-1.4-.1l-.6 .6M466.7 480.7l-.7 .4l-1.5-.2M474.1 491.8l-.8 .4l-1 .9M495.1 486.4l1.1 .1l.9-.9M484.8 499.9l.4-.8l1.4-.4M479 477.6l1.1-.6l1-0M465.4 493.1l.9 .5l.4 1.3M497.4 476.9l-.4-1.5l.4-.8M489.3 500.9l-1.2-1l-.1-.8M474.3 476.5l-.2 1.6l-.2 .5M529.7 509.3l-.6-.4l-.6-1.4M455.6 469l.6-.5l1.6-.2M481.2 473.7l1 .8l-0 1.2M508.7 484l-1.4 .3l-.2 1.3M468.3 472l.8 1.1l.4 .7M489.1 470.2l.8-.5l.5-1.3M496 503.8l-.4 1.2l-1.2 .4M473.7 474.6l-.8-.3l-1.4 .2M478.5 495.4l-.7 1.1l-.6 .7M456.2 481.8l-.4-1.6l-.2-.6M514.9 504.8l.9 .2l1.3 .5M455.3 482.4l-1.3-1l-.8-0M479.3 472l-.8-1l-1-.3M473.6 485l1.3-.4l1-0M532.7 512.9l-.5-.5l-.9-1.3M480.3 490.8l-.3 .9l-.4 1.3M477.2 477.1l-.6-1.1l-1-.6M521.5 499.9l-.4 1.4l-1 .4M456.6 472.9l0-1l-.8-1.2M509.6 504.5l-.6-.3l-1.6-.4M525.9 491.3l-.6 .3l-1 1.4M492.4 504.7l-.8-1.2l-.5-.8M529.2 496.1l.3-1.4l1.4-.3M488.2 487.7l-.2 .8l-.4 1.5M504.3 498.5l.7-.4l.9-1.3M469.7 494.2l-1.6 .3l-.6 .8M466.3 471l-1.1 .1l-1.3-.4M462.9 484.9l-.7 .5l-.5 1.6M514.2 510.3l.3 .7l.2 1.7M465.5 489.8l.8 .6l1.4 .4M504 483.4l.4 .4l1.2 1.5M466.2 491.7l1.7-.8l.7 .2M464.8 488.3l.1-.9l-.6-1.5M491.7 497.7l.2 .6l-.7 1.8M496.2 479.1l-1.7 .7l-.7-.2M503.2 492.9l1.2-.3l1.2-.4M446 477.2l.5 .5l1.5 1.1M503.5 500l-0 1.1l1.1 1.1M479.1 500.7l-1.2-.5l-.7-1.1M475.3 473.5l.8-1.4l.1-.9M510.8 503.4l.5-1.4l-.6-1.1M463.2 491.3l-1.3-1.2l-.3-.7M514.4 505.8l.4 1.3l-.4 1.2M486.8 479.3l-.7-.1l-1.8 .6M502.7 482.4l-.8-.7l-1.6-.1M529.8 503.1l-.3 1.6l-.8 .7M520.9 498.2l-1-.2l-1.1-1.2M505.8 491.5l-1-.5l-1.3-.5M507.2 490.5l.3-1.5l-.4-1.1M475.1 501.4l.1-1.6l.6-.9M475.5 491.7l.6 .2l1.5 1.2M456.3 475.4l-.2 1.5l-.4 1.1M502 500.3l-1.5 1.4l-.5 .3M452.1 484.8l.1-1.8l.1-.9M493.9 493.3l-0 .9l-1.2 1.5M501.3 492.3l-.7-.9l-1.8 0M501.2 490.2l-.9 .3l-1.6 .5M530.9 501.2l.7-.4l1.9 .4M500.7 496.7l.4-1.6l.4-1M502.6 504.8l-1-.9l-1.1-.8M492.6 487.2l-1.4 .8l-.4 1.1M518.2 509.5l.7-1.7l-.3-.9M481.6 486.5l1.5 .3l1.2-.8M483.9 469.6l-1.1-.7l-1.5 .1M501.8 474.5l-1.2-.8l-1.3 .1M464.9 484.6l1.2 .3l1.4-.9M508.8 498.3l-1.2-1.5l-.3-.7M484.1 470.5l-.9 .1l-1.5 1.1M493.7 507.1l.5 1.2l-.4 1.5M512.7 487.6l-0 1.9l-.3 .8M506.4 482.9l-.2 1.5l.3 1.2M468.5 467.9l1 .6l1.7-.2M489 479.5l1.5 .1l1.2-.1M532.3 506.4l-1-.4l-1.7 0M532.7 514.3l-.5 .9l-.8 1.5M508.9 500.8l-1.1 1l-1 .7M520.4 488.8l-.5-.5l-1.6-1.3M481.4 480.9l-1.1 .6l-1.6-.1M511.1 495.6l.3-1l.4-1.7M495 487l1 .6l1.7 .3M455.8 483.9l-.7 .4l-1.6 1.2M479 501.4l-1.3 .3l-1.3 .6M492.5 510.8l-.9-.5l-1.8-.4M457.7 474l1.1 .1l1.7 .3M482.8 482.1l.3 1.8l1.1 .6M521.5 494.5l-1.8 0l-1 .5M493 486.5l-1 .2l-1.8 .1M533.4 505.3l.1-1.5l1-1.1M454.2 469l-.8-.5l-1.9-.2M516.7 502.8l1.2 1.7l.2 .7M521.5 490.5l.6 1.2l.6 1.4M447 475.4l1.4-1.3l1.1-.1M492.7 478.2l-.2-1.2l.6-1.7M446.3 482.2l-.8-.7l-1.5-1.1M510.2 506l-.1 1.2l-1 1.4M529 511.2l-1.4 1.5l-.8 .4M485.9 505.3l.8 .7l.7 1.7M495.2 502.4l-1.2-.2l-1.7-.2M512.8 509.3l-1.1-.3l-1.8 .6M502.5 484l-1.1 1l-1.7-.2M466.1 468.5l-1.4 1.2l-1.1 .4M490.4 496.8l-1.1-.3l-1.5-.9M497.2 501.1l.8-1.4l1.1-.7M450.5 472.7l0-1.1l-.5-1.8M502.2 506.2l-1.4 .5l-.6 1.6M472.6 478.4l-1.1-.9l-.8-1.4M478.7 490.7l-1.9 .8l-1-.1M481.9 501.5l1.6 .3l.8 1.4M522.1 489.3l1.2 0l1.6 .9M485.9 478.7l-1.6-.7l-1.1-.5M515.5 500.2l.1-.8l1.1-1.9M462 475.9l-.1 1.2l.6 1.8M453.4 479.1l-2 0l-1 .4M501.4 475.9l-1.7 .5l-.9 1M469.2 470.3l1.8-.6l.9-.7M455 473.6l-1.6-.3l-1.5 .3M491 475.6l.7 1.7l.6 1M510.6 513.2l1.7-.1l1.3 .6M532.8 505l-.5-1.8l-1.1-.8M489.6 471.2l1.3 .5l1.4 1M486.5 481.1l-1 1.7l-.1 1.2M511.6 495.6l.9-.9l1.5-1M448.8 483.7l1.7 .9l.7 1M468.2 478.7l.9-1.6l.4-1.2M498.3 510.2l-1.2 .2l-1.9 .5M491.6 507.2l-1.6 1.3l-.9 .5M504.8 506.5l1.2 .8l1.1 1.4M454 470.5l-1 1l-1.3 1.2M519.8 489.7l-1.1 .4l-1.6 1.3M484.5 499.4l.2-1.3l.7-1.7M489 472.6l-1.3-1.2l-1.4-.5M443.6 474.5l-.4 1.3l-.4 1.8M523.4 504.8l-.8-1.1l-1.8-.8M480 488.7l-.6-1.2l-1.3-1.5M448.3 481.9l1.2-1M442.7 473.6l-1.4 .4M442.6 472.5l-1.5-.7M525.8 505.8l1.6 0M493.6 491.1l-.3-1.3M532.1 512.6l-1.2-.7M533.6 512l.4-1.4M503.7 474l.7-1.4M501 509.5l1.5-.5M498.7 511.3l-.8 1.3M457.8 491.4l-1.3 .2M460.2 492.1l1.1 1M460.7 491.4l1.6 .3M473.6 486.1l1.3 .7M452.2 487.9l.2 1.3M511.2 485.6l-1.5-.2M526.5 519.3l-.3 1.7M528.1 491.4l1.6 .3M467.2 478.8l-.1-1.5M473.6 492.1l-1.3 .7M521.8 517.3l-1 1.2M517.4 515.2l-1.3 .4M510 512.2l1.1-1.1M507.4 513.7l-1.5 .4M467.7 487.3l-1.6 .3M478.6 469.5l-1.2 .5M480.7 494.9l1.5 .6M530.7 519.9l.1 1.7M532 518.9l1.3 .6M507 477.4l1.4 0M493.2 510l-.2-1.4M523.3 498.9l1.4 .4M534.5 500.6l-1-1M534.3 500.7l-1.2-.8M498.8 483l.1 1.6M487.9 510.9l-.2 1.3M448.8 467l-.7-1.1M473.3 503.2l-1.7 .3M469.7 493.6l-1.6-.3M533.3 493.2l1-.9M532.7 495.8l.3 1.6M512.9 492.4l.7 1.2M481 484.8l.9-1.4M460.3 467.2l.9-1M467.6 497.3l.6 1.1M497.6 475.3l-.3 1.4M477.9 498.5l1.4 .5M492.1 468.1l1.1 1.1M492.3 466.1l1.3-1M518 484.9l1.4-.8M515.3 485.6l-1.3-.1" stroke="#c03030" stroke-width="0.75" fill="none" stroke-opacity="1"/>
<path d="M497.5 502.8h0M473.8 469.6h0M512.3 483.9h0M477.7 496.5h0M499.4 501.4h0M476.9 491.5h0M514.7 507.1h0M469.1 477.2h0M533 497.5h0M507.7 495.3h0M461.1 489.7h0M462.6 482h0M486.1 479.2h0M455.1 484.3h0M504.3 492.7h0M514.9 485.6h0M529.1 508.9h0M451.4 479.1h0M483.5 501.8h0M506.3 484.4h0M456.1 476.9h0M500.7 491.4h0M453.4 468.5h0M516.2 514.9h0M507.2 483.1h0M462.8 488.6h0M468.3 481.9h0M529.1 517h0M507.5 489h0M517.9 504.5h0M465.2 471.2h0M529.7 491.7h0M448.4 474.1h0M473.3 492.1h0M512.7 489.5h0M515.6 499.4h0M494.2 508.3h0M483.3 501.6h0M490.5 488.2h0M484.3 478h0M520.8 518.5h0M519.8 494.5h0M482.1 474.5h0M450.5 484.6h0M483.2 470.6h0M522.2 491.8h0M516.9 512.1h0M534 510.6h0M506 514.1h0M489.9 508.6h0M509.7 485.4h0M533.4 499.6h0M491.6 503.4h0M470.4 483.9h0M508.4 477.4h0M468.1 494.5h0M453.4 473.3h0M500.9 488.1h0M480.1 477.1h0M519.9 498h0M515.5 494.2h0M471.5 477.5h0M515.1 502.3h0M475.2 499.8h0M477.7 480.2h0M493.3 489.8h0M512.3 513.1h0M466.3 493.6h0M474.1 478.2h0M490 469.7h0M501.9 481.7h0M471 469.7h0M507.5 496.8h0M519.9 488.4h0M489.7 471.5h0M509 504.2h0M491.9 498.3h0M462.2 485.4h0M489.3 490.8h0" stroke="#c01818" stroke-width="2.10" stroke-linecap="round"/>
<path d="M497.1 502.5h0M473.4 469.3h0M512 483.6h0M477.4 496.2h0M499 501h0M476.5 491.2h0M514.4 506.8h0M468.8 476.8h0M532.7 497.1h0M507.3 495h0M460.7 489.3h0M462.3 481.6h0M485.7 478.9h0M454.8 483.9h0M504 492.3h0M514.5 485.3h0M528.7 508.6h0M451.1 478.8h0M483.2 501.5h0M505.9 484h0M455.8 476.6h0M500.4 491.1h0M453.1 468.1h0M515.9 514.6h0M506.9 482.7h0M462.4 488.2h0M467.9 481.5h0M528.7 516.7h0M507.2 488.7h0M517.6 504.2h0M464.9 470.9h0M529.4 491.4h0M448 473.8h0M472.9 491.8h0M512.4 489.2h0M515.3 499h0M493.9 508h0M483 501.3h0M490.2 487.9h0M484 477.7h0M520.5 518.1h0M519.4 494.2h0M481.8 474.2h0M450.2 484.3h0M482.9 470.3h0M521.8 491.4h0M516.6 511.8h0M533.7 510.3h0M505.6 513.8h0M489.6 508.3h0M509.3 485.1h0M533.1 499.3h0M491.2 503.1h0M470 483.6h0M508.1 477h0M467.8 494.2h0M453.1 472.9h0M500.6 487.8h0M479.8 476.7h0M519.5 497.7h0M515.2 493.9h0M471.2 477.2h0M514.8 502h0M474.9 499.5h0M477.4 479.8h0M493 489.5h0M512 512.8h0M466 493.3h0M473.8 477.8h0M489.6 469.3h0M501.6 481.4h0M470.7 469.4h0M507.2 496.4h0M519.6 488h0M489.4 471.1h0M508.7 503.8h0M491.5 498h0M461.9 485h0M489 490.5h0" stroke="#f07070" stroke-width="0.84" stroke-linecap="round" stroke-opacity="0.8"/>
<path d="M447 482.8h0M493.2 505.9h0M476.4 470.3h0M512.7 485.7h0M488.3 470.7h0M491.5 497.1h0M496.3 502.6h0M479.2 494.3h0M502.1 490h0M497.9 473.9h0M508.9 513.3h0M467 496.1h0M499.5 510h0M467.5 467.3h0M497 491.5h0M530.2 501.6h0M503.6 483.1h0M474.5 474.9h0M452.5 481.4h0M464.7 489.2h0M472.3 485.4h0M445.6 476.7h0" stroke="#3c46c8" stroke-width="3.10" stroke-linecap="round"/>
<path d="M446.5 482.3h0M492.7 505.4h0M475.9 469.8h0M512.2 485.2h0M487.8 470.2h0M491 496.6h0M495.8 502.1h0M478.7 493.8h0M501.6 489.5h0M497.4 473.4h0M508.4 512.8h0M466.5 495.6h0M499 509.5h0M467 466.8h0M496.5 491h0M529.7 501.1h0M503.1 482.6h0M474 474.4h0M452 480.9h0M464.2 488.7h0M471.8 484.9h0M445.1 476.2h0" stroke="#a0a6ff" stroke-width="1.24" stroke-linecap="round" stroke-opacity="0.8"/>
<path d="M511.4 494.6h0M463 473h0M448.1 465.9h0M443.2 475.8h0M507.3 484.3h0M474.9 478h0M461.9 477.1h0M485.2 499h0M487.8 512.2h0M510.8 499h0M516.8 513.6h0M455.9 480.2h0M461.7 468.5h0M527.6 512.7h0M494 502.3h0M516.1 515.5h0M502.5 509h0M502.4 491h0M455 481.1h0M478.5 471h0M531.7 500.8h0M481.9 478.8h0M462.3 491.7h0M533.3 519.5h0M510.1 507.2h0M491.9 486.7h0M500.7 506.7h0M477.7 483.5h0M501.2 495.1h0M484.7 498.1h0M498.9 484.6h0M493.9 494.2h0M482 483.4h0M500.6 501.7h0M443.9 474.6h0M466 487.6h0M466.3 490.4h0M486.3 492.5h0M441.3 474h0M458.7 474.1h0M511.7 509h0M483.1 483.9h0M486.1 497.4h0M497.6 487.3h0M467.9 490.9h0M507.8 501.9h0M534.3 492.3h0M529.5 494.8h0M493.2 469.2h0M505 504.6h0M468.3 484.7h0M490.9 471.7h0M471.7 503.5h0M488.6 498.6h0M484.1 503.5h0M498 490.3h0M464.9 487.4h0M477.6 485.2h0M450.2 480.9h0M491.3 488h0M492 491.6h0M522.6 503.7h0M531.3 506h0M487.7 471.4h0M476.2 472.1h0M452.4 489.2h0M515.8 505h0M479.4 487.5h0M456.6 471.9h0" stroke="#c01818" stroke-width="2.10" stroke-linecap="round"/>
<path d="M511 494.2h0M462.7 472.7h0M447.8 465.5h0M442.9 475.5h0M507 483.9h0M474.6 477.6h0M461.6 476.7h0M484.9 498.7h0M487.4 511.9h0M510.4 498.6h0M516.4 513.2h0M455.5 479.9h0M461.4 468.2h0M527.3 512.4h0M493.7 501.9h0M515.7 515.2h0M502.2 508.6h0M502.1 490.7h0M454.7 480.8h0M478.1 470.6h0M531.3 500.5h0M481.6 478.4h0M462 491.4h0M533 519.2h0M509.7 506.9h0M491.6 486.3h0M500.4 506.4h0M477.4 483.1h0M500.8 494.8h0M484.4 497.8h0M498.6 484.2h0M493.6 493.8h0M481.6 483.1h0M500.2 501.4h0M443.5 474.3h0M465.7 487.3h0M466 490h0M486 492.1h0M441 473.6h0M458.4 473.8h0M511.3 508.6h0M482.8 483.6h0M485.8 497.1h0M497.3 486.9h0M467.5 490.5h0M507.5 501.5h0M533.9 492h0M529.2 494.4h0M492.8 468.9h0M504.6 504.2h0M468 484.3h0M490.6 471.4h0M471.3 503.2h0M488.3 498.2h0M483.8 503.2h0M497.6 489.9h0M464.5 487.1h0M477.3 484.9h0M449.9 480.6h0M490.9 487.7h0M491.6 491.3h0M522.3 503.3h0M531 505.7h0M487.4 471.1h0M475.8 471.8h0M452.1 488.9h0M515.5 504.7h0M479.1 487.2h0M456.3 471.6h0" stroke="#f07070" stroke-width="0.84" stroke-linecap="round" stroke-opacity="0.8"/>
<path d="M493.4 511.3h0M493.7 473.7h0M469.3 487h0M498 484.7h0M510.3 504.8h0M520.9 489.3h0M506.8 486.8h0M503.1 475.4h0M516.7 485.7h0M514 504.5h0M473.7 479.3h0M475 502.9h0M482.5 480.3h0M527.9 506.1h0M488.4 486.9h0M482 477h0M485.1 504.6h0M533.2 513.4h0M467.4 470.9h0M524.2 505.8h0M463.1 480.6h0M476.4 498h0M479.8 469h0M452 486.6h0M517.5 511.2h0M505.8 503.3h0M514.9 514.4h0M508.1 510.1h0M455.4 479h0M533.4 506.8h0M463.7 484.4h0M486.2 494.7h0" stroke="#3c46c8" stroke-width="3.10" stroke-linecap="round"/>
<path d="M492.9 510.9h0M493.2 473.2h0M468.8 486.5h0M497.5 484.2h0M509.8 504.3h0M520.4 488.8h0M506.3 486.3h0M502.6 474.9h0M516.2 485.2h0M513.5 504h0M473.2 478.8h0M474.5 502.5h0M482 479.8h0M527.4 505.6h0M487.9 486.4h0M481.5 476.5h0M484.6 504.1h0M532.7 512.9h0M466.9 470.4h0M523.7 505.3h0M462.6 480.1h0M476 497.5h0M479.3 468.5h0M451.5 486.1h0M517 510.7h0M505.3 502.8h0M514.5 513.9h0M507.6 509.6h0M454.9 478.5h0M532.9 506.3h0M463.2 483.9h0M485.7 494.2h0" stroke="#a0a6ff" stroke-width="1.24" stroke-linecap="round" stroke-opacity="0.8"/>
<path d="M487.2 491.6h0M494 486.3h0M491 467h0M530.4 509.8h0M490.4 490.3h0M518.8 514.8h0M530.6 518.2h0M506.8 491.9h0M444 473.2h0M513.9 509.6h0M449.5 479.8h0M498.8 481.4h0M515.6 492.7h0M480.6 489.9h0M468.9 483.1h0M522 498.4h0M493 479.3h0M459.3 468.2h0M471.3 493.8h0M505.6 477.4h0M488.1 509.5h0M449.5 468.1h0M522.8 516.2h0M464.5 492.5h0M506.6 481.3h0M532.3 494.2h0M456.6 473.9h0M480.3 501.2h0M526 513.5h0M442.4 479.4h0M503.6 505.7h0M488 498.3h0M490.3 473.9h0M499.3 488.2h0M459.2 491.1h0M510.8 496.6h0M477 481.4h0" stroke="#3c46c8" stroke-width="3.10" stroke-linecap="round"/>
<path d="M486.7 491.1h0M493.5 485.8h0M490.5 466.5h0M529.9 509.3h0M489.9 489.8h0M518.3 514.3h0M530.1 517.7h0M506.3 491.5h0M443.5 472.7h0M513.4 509.1h0M449 479.3h0M498.3 480.9h0M515.1 492.2h0M480.1 489.4h0M468.4 482.6h0M521.5 497.9h0M492.5 478.9h0M458.8 467.7h0M470.9 493.4h0M505.1 476.9h0M487.6 509h0M449 467.6h0M522.3 515.7h0M464 492h0M506.1 480.8h0M531.8 493.7h0M456.1 473.4h0M479.8 500.7h0M525.5 513h0M441.9 478.9h0M503.1 505.2h0M487.5 497.8h0M489.8 473.4h0M498.8 487.7h0M458.7 490.6h0M510.3 496.1h0M476.6 480.9h0" stroke="#a0a6ff" stroke-width="1.24" stroke-linecap="round" stroke-opacity="0.8"/>
<path d="M464.4 492h0M485.5 469.9h0M467.4 468.1h0M513.6 493.5h0M505 498.1h0M526.2 520.9h0M483 486.8h0M488 488.5h0M497.2 510.4h0M514 485.5h0M445.5 481.5h0M514.5 511h0M477.8 500.2h0M503.2 475.5h0M492.1 473.2h0M450.5 471.6h0M480 491.7h0M468.3 498.4h0M524.4 514.8h0M518.7 490.2h0M452.2 483.1h0M477.3 470h0M512.5 494.7h0M517.5 501.6h0M522.5 495.5h0M530.9 511.9h0M461.2 466.2h0M526.5 506.1h0M490.6 479.6h0M478.9 470.4h0M495 490.9h0M497.6 481h0M454.1 481.4h0M496.2 486.5h0M493 508.6h0M499.5 483.1h0M501.6 499.1h0M464.7 469.7h0M441.1 471.9h0M479.3 499h0M529.5 504.7h0M531.2 508.5h0M493.5 465.1h0M498 499.7h0M456.5 491.6h0M501.6 503.9h0M482.1 495.5h0M491.7 477.3h0M506.7 479.1h0M503.5 501.1h0M449.5 480.9h0M486.7 506.1h0M446.5 477.7h0M469.1 473.2h0M526 517.7h0M480.3 488.9h0M504.7 491h0M516.7 509.7h0M477.6 501.7h0M449.4 480.7h0M453 471.5h0M476.6 476.1h0M511.9 504.6h0M525.3 491.6h0" stroke="#c01818" stroke-width="2.10" stroke-linecap="round"/>
<path d="M464.1 491.7h0M485.2 469.6h0M467.1 467.7h0M513.2 493.2h0M504.7 497.7h0M525.9 520.6h0M482.7 486.5h0M487.7 488.2h0M496.8 510.1h0M513.7 485.2h0M445.2 481.2h0M514.1 510.7h0M477.5 499.9h0M502.8 475.2h0M491.8 472.8h0M450.2 471.3h0M479.7 491.3h0M467.9 498.1h0M524.1 514.5h0M518.4 489.8h0M451.9 482.8h0M477 469.7h0M512.2 494.4h0M517.2 501.2h0M522.2 495.1h0M530.5 511.5h0M460.9 465.8h0M526.2 505.7h0M490.2 479.2h0M478.5 470h0M494.7 490.6h0M497.3 480.7h0M453.7 481h0M495.9 486.2h0M492.7 508.2h0M499.2 482.8h0M501.3 498.8h0M464.4 469.4h0M440.8 471.5h0M479 498.6h0M529.2 504.4h0M530.8 508.1h0M493.2 464.8h0M497.7 499.4h0M456.2 491.3h0M501.3 503.6h0M481.8 495.1h0M491.4 477h0M506.3 478.8h0M503.2 500.8h0M449.2 480.6h0M486.4 505.7h0M446.1 477.4h0M468.8 472.9h0M525.6 517.4h0M480 488.6h0M504.4 490.7h0M516.4 509.4h0M477.3 501.3h0M449.1 480.4h0M452.7 471.2h0M476.2 475.7h0M511.5 504.3h0M524.9 491.3h0" stroke="#f07070" stroke-width="0.84" stroke-linecap="round" stroke-opacity="0.8"/>
<path d="M510 499.8h0M512.2 491.2h0M535.5 501.6h0M462.5 470.4h0M502 493.2h0M503.5 498.9h0M490.6 501.9h0M500.3 498.2h0M497.8 478.4h0M510.1 483.7h0M450.5 473.8h0M461.3 488.6h0M523.3 494.5h0M480.1 486.2h0M469.2 491.2h0M485.4 485.2h0M480.2 472.9h0M476.8 484.6h0M519 502.1h0M474.9 491.4h0M456.6 483.4h0M472.9 468.2h0M487.5 479.4h0M526.6 491h0M526.8 517.6h0M485 470.4h0M518.4 505.9h0M528.9 497.5h0M484.3 500.7h0M499.5 502.3h0M517.7 495.6h0M493.9 492.4h0M455 469.5h0M469.9 474.7h0M467.3 480.3h0M462.1 474.7h0M515.4 501.1h0M506.9 495.4h0M477.8 478.2h0" stroke="#3c46c8" stroke-width="3.10" stroke-linecap="round"/>
<path d="M509.5 499.3h0M511.7 490.7h0M535 501.1h0M462 469.9h0M501.5 492.7h0M503 498.4h0M490.1 501.4h0M499.8 497.7h0M497.4 477.9h0M509.6 483.3h0M450 473.3h0M460.8 488.1h0M522.8 494h0M479.6 485.7h0M468.7 490.7h0M484.9 484.7h0M479.7 472.4h0M476.3 484.1h0M518.5 501.6h0M474.4 490.9h0M456.1 482.9h0M472.4 467.7h0M487 478.9h0M526.1 490.5h0M526.3 517.1h0M484.5 469.9h0M517.9 505.4h0M528.4 497h0M483.8 500.2h0M499 501.8h0M517.2 495.1h0M493.4 491.9h0M454.6 469h0M469.4 474.2h0M466.8 479.8h0M461.6 474.2h0M514.9 500.6h0M506.4 494.9h0M477.3 477.7h0" stroke="#a0a6ff" stroke-width="1.24" stroke-linecap="round" stroke-opacity="0.8"/>
<path d="M508.5 512h0M506 507.3h0M492.5 477h0M500.6 473.7h0M519.4 484.1h0M526.2 515.2h0M456.2 468.5h0M474.9 484.6h0M472.8 474.3h0M532.2 512.3h0M469.7 493.3h0M533.5 503.8h0M532.3 503.2h0M521.1 501.3h0M497.3 476.8h0M497.8 512.6h0M480.3 481.5h0M527.4 505.8h0M444.8 477.5h0M501.4 485h0M504.3 483.8h0M532.2 515.2h0M530.4 499.4h0M468.1 493.3h0M468.6 490.2h0M489.2 496.5h0M491.6 510.3h0M494.5 479.8h0M476.2 480.8h0M466 481.1h0M497 475.4h0M472.4 492.9h0M474.9 486.8h0M488.1 499.9h0M504.4 472.6h0M461.9 490.1h0M520.9 514.7h0M477.3 470.8h0M469.5 468.5h0M530.8 521.6h0M518.9 507.8h0M506.4 492.7h0M476.1 491.9h0M500.3 490.5h0M495.9 487.6h0M461.3 493.1h0M472 485.8h0M485.8 485.1h0M467.1 477.2h0M499.7 476.4h0M511.3 501.9h0M485.5 482.7h0M524.7 499.3h0M466.1 484.9h0M523.3 489.3h0M533 499.9h0M495.6 505.1h0M511.2 511h0M519.2 503.2h0M513.4 492.3h0M504.5 482.7h0M482.7 468.9h0M495.9 474.2h0" stroke="#c01818" stroke-width="2.10" stroke-linecap="round"/>
<path d="M508.1 511.7h0M505.6 507h0M492.2 476.7h0M500.2 473.4h0M519.1 483.8h0M525.8 514.9h0M455.9 468.2h0M474.5 484.3h0M472.5 474h0M531.9 512h0M469.4 493h0M533.2 503.4h0M532 502.9h0M520.7 501h0M497 476.4h0M497.5 512.3h0M480 481.2h0M527 505.5h0M444.4 477.2h0M501 484.7h0M504 483.5h0M531.8 514.9h0M530.1 499.1h0M467.8 493h0M468.2 489.9h0M488.9 496.2h0M491.3 510h0M494.1 479.5h0M475.8 480.5h0M465.7 480.8h0M496.7 475.1h0M472 492.5h0M474.6 486.5h0M487.8 499.6h0M504 472.3h0M461.6 489.7h0M520.6 514.4h0M477 470.4h0M469.2 468.2h0M530.5 521.3h0M518.6 507.5h0M506 492.4h0M475.8 491.6h0M499.9 490.2h0M495.6 487.2h0M460.9 492.8h0M471.7 485.4h0M485.5 484.8h0M466.8 476.9h0M499.4 476.1h0M510.9 501.6h0M485.2 482.4h0M524.3 499h0M465.8 484.5h0M523 489h0M532.7 499.6h0M495.3 504.7h0M510.8 510.7h0M518.9 502.8h0M513.1 492h0M504.1 482.3h0M482.4 468.6h0M495.6 473.8h0" stroke="#f07070" stroke-width="0.84" stroke-linecap="round" stroke-opacity="0.8"/>
<path d="M239.9,355.3 L268.8,355.3 L268.8,423.6 L239.9,423.6 Z" fill="none" stroke="#c8c8c8" stroke-width="0.6"/>
<path d="M257.3 367l.2 4.5M257.3 367l-.1 3.7M257.3 367l-2.8 .8M257.3 367l-.3 4.3M257.3 367l3.3 1M257.3 367l-.9-3.5M257.3 367l-1.7-.1M270.8 419.5l1.2-1.9M270.8 419.5l-1.9-.7M270.8 419.5l2.7 2.1M270.8 419.5l3.6-1.4M270.8 419.5l-.2 4.2M253.3 400.8l3.3-3.1M253.3 400.8l4 1.5M253.3 400.8l-.6-3.7M253.3 400.8l-2.9 .1M253.3 400.8l1.8 3.9M253.3 400.8l.4 2M253.3 400.8l1-3.9M244.5 369l3.2 .1M244.5 369l-1.8 3M244.5 369l3.4 1.5M244.5 369l-3.2-1.9M244.5 369l2.3 3.6M247.1 402.9l.5 3.3M247.1 402.9l2.7 2.6M247.1 402.9l-2.9-2.4M247.1 402.9l3.4-2M244.4 422.9l-3.6 .1M244.4 422.9l3.1 2.7M244.4 422.9l-2.8 .8M244.4 422.9l-4.2 .3M244.4 422.9l.2-2.7M244.4 422.9l-2.5-.2M244.4 422.9l-1.9 .1M239.5 366.9l-2.4 2.1M239.5 366.9l.7 4.2M239.5 366.9l2.8-3M239.5 366.9l.3-3.1M239.5 366.9l1.5-1.9M239.5 366.9l1.8 .2M239.5 366.9l-.8 .9M239.5 366.9l-1.5 2.5M240.1 408.4l-.8 2.7M240.1 408.4l.9-4M240.1 408.4l1.6-2.7M240.1 408.4l.3 .7M249.8 387l-1.9-3.3M249.8 387l3.4-1.4M249.8 387l1.2-3.9M249.8 387l-2.1 1.5M248.4 398.9l-4.2 1.5M248.4 398.9l2.1 2M248.4 398.9l3.1-3M248.4 398.9l1.6-2.9M251.1 368l-3.7-2.7M251.1 368l-.8-4.3M251.1 368l3.4-.2M251.1 368l-3.4 1.1M251.1 368l-.8-3.7M251.1 368l-3.3 2.5M251.1 368l.6 1.9M252.1 374.9l3.8 1.3M252.1 374.9l1.9-1.5M252.1 374.9l-.6 2.8M252.1 374.9l.9-2.7M252.1 374.9l2-3.1M260.8 400.9l.7-3.4M260.8 400.9l-2-.6M260.8 400.9l1.9-3.5M260.8 400.9l-3.5 1.4M260.8 400.9l-.8-3.7M260.8 400.9l2.7 2.2M267.9 381.4l-.8 3.4M267.9 381.4l2.5 3.4M267.9 381.4l-.6 4M267.9 381.4l.6-3.2M267.9 381.4l.4-2.3M267.9 381.4l-3.9-.3M267.9 381.4l-1.3 1.4M237.2 386.4l3.3-2M237.2 386.4l1.9 2.7M237.2 386.4l-3.5 1.4M237.2 386.4l.7 4.2M237.2 386.4l.8 4M255.7 377.9l.1-1.7M255.7 377.9l-4.3-.2M255.7 377.9l3.1-1.1M255.7 377.9l2.2 3M255.7 377.9l3.2-.8M237.8 403.7l3.3 .7M237.8 403.7l-3.5 1.8M237.8 403.7l-1.9-3.1M237.8 403.7l1.4-.6M237.8 403.7l3.9 2M237.3 393.6l2 1.8M237.3 393.6l1.2-2.8M237.3 393.6l.6-3M237.3 393.6l.7-3.2M242.4 355.5l-1.2-1.5M242.4 355.5l-3.6 .5M242.4 355.5l-2.8-.8M242.4 355.5l-1.5 2.3M242.4 355.5l2.7 1.1M242.3 402.3l1.9-1.9M242.3 402.3l-1.3 2.1M242.3 402.3l-3.1 .8M242.3 402.3l-.6 3.4M262.5 379.1l-3.7-2.3M262.5 379.1l-2.6 1.6M262.5 379.1l-1.7-3.9M262.5 379.1l1.5 2M262.5 379.1l-3.6-2M259.8 387.2l1.6 1.1M259.8 387.2l2.9-1M259.8 387.2l.4 3.4M259.8 387.2l.6 4M254.4 416.1l-3.2-2.2M254.4 416.1l-3-1.9M254.4 416.1l-2.3-.5M254.4 416.1l-.1 4M254.4 416.1l-.2-3.4M247.9 415.6l.5-4.5M247.9 415.6l3.4-1.7M247.9 415.6l3.6-1.5M247.9 415.6l4.3-0M247.9 415.6l1-3M247.9 415.6l2 .6M247.9 415.6l-.5-2.3M237.2 359.1l.3-4.1M237.2 359.1l1.6-3.1M237.2 359.1l.3-2.8M237.2 359.1l3.7-1.2M238.1 377.9l-.1-3.8M238.1 377.9l3.1-1.6M238.1 377.9l-.8-3.1M238.1 377.9l-2.1 2M266.4 361.6l1.1-2.3M266.4 361.6l-4.4 .3M266.4 361.6l-.9 2.2M266.4 361.6l2.7 .4M266.4 361.6l2.7-1.4M266.4 361.6l3.2 .2M266.4 361.6l-3.8-2.3M261.7 408.8l3.3 1.7M261.7 408.8l-1.8-3.1M261.7 408.8l1.4-3.6M261.7 408.8l-2.4-1.8M264.7 406.2l.2 4.3M264.7 406.2l-1.3-3.1M264.7 406.2l-1.7-1M264.7 406.2l.8-4.2M264.7 406.2l2.7 1.2M264.7 406.2l.8-.5M264.7 406.2l1.6 3.2M248.8 357.9l-1 2.6M248.8 357.9l-.7 2.9M248.8 357.9l-3.7-1.2M248.8 357.9l3.2 .8M240.2 420.5l.2-3.6M240.2 420.5l-2.2-.8M240.2 420.5l.6 2.6M240.2 420.5l1.5 3.2M240.2 420.5l.1 2.8M240.2 420.5l4.5-.2M240.2 420.5l1.8 2.2M240.2 420.5l2.1-2.4M240.2 420.5l2.4 2.5M268.5 376l-.1 2.2M268.5 376l-.3 3.2M268.5 376l-1.6-4M268.5 376l-1.5-2M268.1 353.9l-2.3 .9M268.1 353.9l.8 2.6M268.1 353.9l-3.9-.7M268.1 353.9l3.2 1.5M268.1 353.9l-3.7 .8M259.2 414.7l4.1-1M259.2 414.7l2.5 3.4M259.2 414.7l-.6 3.6M253.1 394l-.3 3.1M253.1 394l-1.6 1.9M253.1 394l-3.1 2M253.1 394l2.7-2.6M253.1 394l2.9-.8M253.1 394l4.2 1.8M253.1 394l1.3 2.8M265.1 370.2l2.3-3.3M265.1 370.2l1.8 1.8M265.1 370.2l-2.3 3.6M265.1 370.2l1.9 3.8M265.1 370.2l-2.7-2.5M256.3 391.5l3.9-1M256.3 391.5l-.5-.1M256.3 391.5l-1.5-2.8M256.3 391.5l4.1-.4M256.3 391.5l-.4 1.6M256.3 391.5l.9 4.2M248.7 420.5l-4-.2M248.7 420.5l2.7 1.8M248.7 420.5l1.2-4.2M260.2 392.6l1.2-.7M260.2 392.6l1.2-4.3M260.2 392.6l-1.5 3M260.2 392.6l.5 2.2M260.2 392.6l3.1 .1M260.2 392.6l0-2M260.2 392.6l.3-1.4M260.2 392.6l-4.2 .6M260.2 392.6l-3 3.2M241.5 392.3l-2.2 3.1M241.5 392.3l.7 .8M241.5 392.3l-2.4-3.2M241.5 392.3l-2.9-1.5M241.5 392.3l-3.5-1.6M241.5 392.3l-3.4-1.9M241.5 392.3l.6-2.9M238.7 424.5l2.1-1.4M238.7 424.5l2.9-.8M238.7 424.5l1.5-1.2M238.7 424.5l3.2-1.8M238.7 424.5l2.2 2.1M238.7 424.5l3.8-1.5M262.9 384.6l4.2 .3M262.9 384.6l-1.5 3.7M262.9 384.6l2 3.6M262.9 384.6l4.4 .8M262.9 384.6l-.2 1.6M262.9 384.6l1.1-3.5M262.9 384.6l3.7-1.8M260.3 372.4l-1.2 2.3M260.3 372.4l-2.8-.8M260.3 372.4l-3.1-1.7M260.3 372.4l.5 2.9M260.3 372.4l2.5 1.4M260.3 372.4l-3.3-1M260.3 372.4l.3-4.3M261.9 421.5l-.9 3.5M261.9 421.5l-3-.4M261.9 421.5l-.2-3.3M261.9 421.5l-1.2 3.4M261.9 421.5l2.1 1.9M261.9 421.5l-2.3-1.1M261.9 421.5l-3.8 .1M239 382.7l1.5 1.8M239 382.7l3-.4M239 382.7l3.1 1.3M239 382.7l-3.1-2.8M262.6 363.6l-.6-1.7M262.6 363.6l2.9 .2M262.6 363.6l0-4.3M262.6 363.6l-.1 4.1M244.6 410.3l3.8 .8M244.6 410.3l1.2-1M244.6 410.3l-1.4 3M244.6 410.3l-4.2-1.2M244.6 410.3l.3 1.8M244.6 410.3l2.9 3M243.7 364.4l3.8 1M243.7 364.4l1.8-.5M243.7 364.4l-1.5-.5M243.7 364.4l-3.9-.6M243.7 364.4l-2.8 .6M243.7 364.4l-2.4 2.7M252.7 355.7l-1.2-2.7M252.7 355.7l-.7 2.9M252.7 355.7l-.1-2M257.7 420.3l-1.8 3M257.7 420.3l1.2 .8M257.7 420.3l4-2.2M257.7 420.3l.8-2M257.7 420.3l-3.4-.3M257.7 420.3l-1.5 3.2M257.7 420.3l1.8 .1M257.7 420.3l.3 1.3M268.6 394.5l-3.9-2.2M268.6 394.5l-3.5 .4M268.6 394.5l.1-3.7M268.6 394.5l-.3-3.4M268.6 394.5l-1.1 3.3M253.8 362.3l-3.5 1.4M253.8 362.3l-3.5 2.1M253.8 362.3l-1.8-3.6M253.8 362.3l2.6-1.3M253.8 362.3l2.6 1.3M258.4 404.3l.4-4.1M258.4 404.3l-1.1-2.1M258.4 404.3l1.5 1.3M258.4 404.3l-3.2 .4M258.4 404.3l.9 2.6M247.1 391.2l.7-2.8M247.1 391.2l-2.9-3.2M242.3 414.4l-1.9 2.4M242.3 414.4l-3.9 .2M242.3 414.4l-3-3.3M242.3 414.4l.8-1.1M242.3 414.4l-0 3.7M242.3 414.4l2.6-2.3M269.2 407.4l-1.8-0M269.2 407.4l2.5-1.4M269.2 407.4l-3.6-1.8M269.2 407.4l-2.9 2" stroke="#b07a84" stroke-width="0.55" fill="none" stroke-opacity="1"/>
<path d="M268.4 386.8l1.9 2M268.4 386.8l-2.1 1.2M268.4 386.8l-1.4-1.9M268.4 386.8l2-2M242.7 384.6l.7 2.7M242.7 384.6l-2.2-.2M242.7 384.6l-.7-2.4M242.7 384.6l2.7 .5M269.4 416.6l2.6 1M269.4 416.6l-.5 2.2M269.4 416.6l-2.5-.9M269.4 416.6l1.6-2.2M238.2 417.3l2.2-.4M238.2 417.3l-.2 2.4M238.2 417.3l-2.5-.7M238.2 417.3l.2-2.6M241.5 395.7l2.3 1.4M241.5 395.7l-1.3 2.3M241.5 395.7l-2.2-.3M241.5 395.7l.6-2.6M258.6 423.5l2.3 1.4M258.6 423.5l-1 2.3M258.6 423.5l-2.7-.3M258.6 423.5l.3-2.5M266.7 357l.7 2.2M266.7 357l-2.4 .4M266.7 357l-1-2.2M266.7 357l2.1-.6M260.5 359.6l1.5 2.2M260.5 359.6l-2 1.5M260.5 359.6l-.6-2.1M260.5 359.6l2.3-.9M239 353.2l2.2 .8M239 353.2l-1.5 1.8M239 353.2l-1.8-1.7M239 353.2l.9-2.5M247 381.6l.9 2.1M247 381.6l-1.9 1.1M247 381.6l-1.8-1.6M247 381.6l1.7-1.6M263.5 390.2l1.2 2.1M263.5 390.2l-2.1 1.7M263.5 390.2l-2.1-1.9M263.5 390.2l1.4-2M262 353.8l1 2.2M262 353.8l-2.5 1.3M262 353.8l-.1-2.2M262 353.8l2.2-.6M258.9 397.9l2.6-.4M258.9 397.9l-.1 2.4M258.9 397.9l-2.2-.2M258.9 397.9l-.1-2.3M265.5 412.8l.9 2.5M265.5 412.8l-2.3 .9M265.5 412.8l-.5-2.3M265.5 412.8l2.6-.7M262.9 395.1l2.2-.1M262.9 395.1l-.2 2.3M262.9 395.1l-2.3-.3M262.9 395.1l.3-2.3M237.4 371.4l.6 2.7M237.4 371.4l-2.5 1.1M237.4 371.4l-.4-2.4M237.4 371.4l2.8-.3M256.7 373.7l2.4 1M256.7 373.7l-.8 2.5M256.7 373.7l-2.7-.3M256.7 373.7l.9-2.1M247.7 363.1l-.2 2.2M247.7 363.1l-2.2 .8M247.7 363.1l.1-2.6M247.7 363.1l2.7 .6M268 364.5l2.2 .3M268 364.5l-.6 2.4M268 364.5l-2.6-.7M268 364.5l1-2.5M248.2 408.6l.1 2.5M248.2 408.6l-2.4 .7M248.2 408.6l-.6-2.5M248.2 408.6l2.6-0" stroke="#7a3a9a" stroke-width="0.55" fill="none" stroke-opacity="1"/>
<path d="M259.5 420.4h0M256.4 363.6h0M270.4 384.8h0M266.6 382.8h0M264.9 388.2h0M249.9 416.3h0M267.1 374h0M241 404.4h0M240.2 371.1h0M237.9 369.4h0M256.5 361h0M270.3 388.8h0M251.2 413.9h0M240.9 357.8h0M245.8 409.3h0M242.7 372h0M240.2 423.3h0M252.2 415.6h0M255.8 391.4h0M255.2 404.7h0M252.6 353.7h0M261.5 397.5h0M240.2 398h0M262.8 358.6h0M252.8 397.1h0M268.3 391.2h0M250.3 363.7h0M251.5 395.9h0M257.3 402.2h0M267.4 359.2h0M255.9 376.2h0M268.4 378.2h0M234.3 405.5h0M239.3 395.4h0M258.6 418.3h0M259.9 380.7h0M252.1 358.7h0M247.6 406.1h0M258.7 395.6h0M267.1 384.9h0M248.1 360.7h0M269.1 360.2h0M264 381.1h0M254 373.4h0M241 365h0M259.3 406.9h0M238.9 398.3h0M271.3 413.3h0M268.2 379.1h0M242.6 423h0M251.1 383.1h0M238 374.1h0M242.3 418.1h0M261.8 351.5h0M269.5 361.7h0M258.8 400.2h0M260.5 391.2h0" stroke="#c01818" stroke-width="1.90" stroke-linecap="round"/>
<path d="M259.2 420.1h0M256.1 363.2h0M270.1 384.5h0M266.3 382.5h0M264.6 387.9h0M249.6 416h0M266.8 373.7h0M240.7 404.1h0M239.9 370.8h0M237.6 369.1h0M256.2 360.7h0M270 388.5h0M250.9 413.6h0M240.6 357.5h0M245.5 409h0M242.4 371.7h0M239.9 423h0M251.9 415.3h0M255.5 391.1h0M254.8 404.4h0M252.3 353.4h0M261.2 397.2h0M239.9 397.7h0M262.5 358.3h0M252.5 396.8h0M268 390.9h0M250 363.4h0M251.2 395.6h0M257 401.9h0M267.1 358.9h0M255.6 375.9h0M268.1 377.9h0M233.9 405.2h0M239 395.1h0M258.3 418h0M259.5 380.4h0M251.8 358.4h0M247.3 405.8h0M258.4 395.3h0M266.7 384.6h0M247.8 360.4h0M268.8 359.9h0M263.7 380.8h0M253.7 373.1h0M240.7 364.7h0M259 406.6h0M238.5 398h0M271 413h0M267.9 378.8h0M242.3 422.7h0M250.8 382.7h0M237.7 373.8h0M241.9 417.8h0M261.5 351.2h0M269.2 361.4h0M258.5 399.9h0M260.1 390.9h0" stroke="#f07070" stroke-width="0.76" stroke-linecap="round" stroke-opacity="0.8"/>
<path d="M241.5 395.7h0M256.7 373.7h0M239 353.2h0" stroke="#1e1eb0" stroke-width="2.90" stroke-linecap="round"/>
<path d="M241 395.2h0M256.2 373.2h0M238.5 352.7h0" stroke="#8080ff" stroke-width="1.16" stroke-linecap="round" stroke-opacity="0.8"/>
<use href="#gL215" x="268.1" y="353.9"/>
<use href="#gL215" x="262.6" y="363.6"/>
<use href="#gT200" x="256.3" y="391.5"/>
<use href="#gT200" x="253.8" y="362.3"/>
<use href="#gL215" x="247.1" y="391.2"/>
<use href="#gL215" x="259.8" y="387.2"/>
<use href="#gL215" x="267.9" y="381.4"/>
<use href="#gL215" x="260.8" y="400.9"/>
<use href="#gL215" x="260.3" y="372.4"/>
<use href="#gL215" x="261.9" y="421.5"/>
<use href="#gL215" x="270.8" y="419.5"/>
<use href="#gL215" x="268.5" y="376.0"/>
<use href="#gT200" x="239.5" y="366.9"/>
<path d="M259.5 355h0M266.9 415.8h0M265.1 394.9h0M260.7 368.1h0M240.6 384.4h0M246.8 372.6h0M260.6 424.8h0M273.5 421.7h0M266.4 415.3h0M247.4 413.3h0M239.3 411.2h0M238.4 414.6h0M265.7 354.8h0M272 417.6h0M266.9 372h0M243.4 387.3h0M234.9 372.5h0M239.9 350.7h0M261.4 388.3h0M260.7 394.8h0M261.4 391.8h0M256.7 397.7h0M257.2 395.8h0M258.5 361.1h0M251.5 414.2h0M251.4 422.2h0M243.1 413.4h0M266.4 388h0M238.8 356h0M237.5 355h0M241.3 367.1h0M262.8 373.8h0M253.2 385.5h0M267.4 366.8h0M244.9 412.1h0M264.2 353.2h0M240.4 416.9h0M250.3 364.3h0M262.7 386.2h0M258.1 421.6h0M242 389.4h0M265.6 405.6h0M263 355.9h0M265.4 363.8h0M254.5 367.8h0M271.6 406h0M257.5 371.5h0M255.9 423.3h0" stroke="#c01818" stroke-width="1.90" stroke-linecap="round"/>
<path d="M259.2 354.7h0M266.6 415.5h0M264.8 394.6h0M260.4 367.8h0M240.2 384.1h0M246.5 372.3h0M260.3 424.5h0M273.2 421.4h0M266.1 414.9h0M247.1 413h0M239 410.9h0M238.1 414.3h0M265.4 354.5h0M271.7 417.3h0M266.6 371.7h0M243.1 387h0M234.6 372.2h0M239.6 350.4h0M261.1 388h0M260.4 394.5h0M261.1 391.5h0M256.4 397.4h0M256.9 395.5h0M258.2 360.8h0M251.1 413.9h0M251 421.9h0M242.8 413.1h0M266.1 387.7h0M238.5 355.7h0M237.2 354.7h0M241 366.8h0M262.5 373.5h0M252.9 385.2h0M267.1 366.5h0M244.6 411.8h0M263.9 352.9h0M240.1 416.5h0M250 364h0M262.4 385.9h0M257.8 421.3h0M241.7 389.1h0M265.3 405.3h0M262.7 355.6h0M265.1 363.5h0M254.2 367.5h0M271.3 405.7h0M257.2 371.2h0M255.6 422.9h0" stroke="#f07070" stroke-width="0.76" stroke-linecap="round" stroke-opacity="0.8"/>
<path d="M237.4 371.4h0M238.2 417.3h0M248.2 408.6h0M265.5 412.8h0M258.9 397.9h0M268 364.5h0M262 353.8h0M242.7 384.6h0" stroke="#1e1eb0" stroke-width="2.90" stroke-linecap="round"/>
<path d="M237 370.9h0M237.7 416.8h0M247.8 408.2h0M265 412.3h0M258.4 397.4h0M267.6 364h0M261.5 353.3h0M242.3 384.1h0" stroke="#8080ff" stroke-width="1.16" stroke-linecap="round" stroke-opacity="0.8"/>
<use href="#gT200" x="242.3" y="402.3"/>
<use href="#gL215" x="237.3" y="393.6"/>
<use href="#gL215" x="241.5" y="392.3"/>
<use href="#gT200" x="260.2" y="392.6"/>
<use href="#gT200" x="248.8" y="357.9"/>
<use href="#gT200" x="242.3" y="414.4"/>
<use href="#gL215" x="262.9" y="384.6"/>
<use href="#gT200" x="237.2" y="386.4"/>
<use href="#gT200" x="252.7" y="355.7"/>
<use href="#gT200" x="259.2" y="414.7"/>
<use href="#gL215" x="248.7" y="420.5"/>
<use href="#gL215" x="238.7" y="424.5"/>
<use href="#gL215" x="257.3" y="367.0"/>
<use href="#gL215" x="242.4" y="355.5"/>
<use href="#gL215" x="269.2" y="407.4"/>
<use href="#gL215" x="255.7" y="377.9"/>
<use href="#gT200" x="264.7" y="406.2"/>
<path d="M263.2 413.7h0M242.2 363.9h0M236 379.9h0M241.6 423.7h0M255.6 366.9h0M238.6 367.8h0M254.4 396.8h0M249.8 405.5h0M271.3 355.3h0M270.6 423.7h0M250 396h0M265.6 402h0M241.7 405.7h0M274.4 418.1h0M248.9 412.7h0M235.7 416.6h0M240.8 423h0M254.3 412.7h0M253.8 402.8h0M247.8 369.1h0M237 369h0M244.2 400.4h0M237.1 351.5h0M239.5 354.7h0M268.1 412.1h0M265 410.5h0M260.2 390.6h0M254.9 388.8h0M271 414.4h0M245.1 356.6h0M259.1 374.7h0M268.9 418.8h0M257.1 371.3h0M250.8 408.6h0M259.9 357.4h0M242.3 385.9h0M256.2 423.5h0M266.3 409.4h0M264.4 357.4h0M239.2 403.1h0M239.8 363.8h0M262 361.8h0M260.8 375.2h0M237.4 374.8h0M242 422.7h0M254.6 424.2h0M239.1 389.1h0M258 380.9h0M247.9 370.5h0M261.7 418.1h0M269.1 362h0M259.9 405.7h0M267.3 385.4h0M249.9 410.4h0M248.4 411.1h0M241.2 376.3h0" stroke="#c01818" stroke-width="1.90" stroke-linecap="round"/>
<path d="M262.9 413.4h0M241.9 363.6h0M235.7 379.6h0M241.3 423.4h0M255.3 366.6h0M238.3 367.5h0M254.1 396.5h0M249.5 405.2h0M271 355h0M270.3 423.4h0M249.7 395.7h0M265.2 401.7h0M241.4 405.4h0M274.1 417.8h0M248.6 412.4h0M235.4 416.3h0M240.5 422.7h0M254 412.4h0M253.4 402.5h0M247.4 368.8h0M236.7 368.7h0M243.9 400.1h0M236.8 351.2h0M239.2 354.4h0M267.8 411.8h0M264.7 410.2h0M259.9 390.3h0M254.6 388.5h0M270.7 414.1h0M244.8 356.3h0M258.8 374.4h0M268.6 418.5h0M256.8 371h0M250.5 408.3h0M259.6 357.1h0M242 385.6h0M255.9 423.2h0M266 409.1h0M264.1 357.1h0M238.9 402.8h0M239.5 363.5h0M261.7 361.5h0M260.5 374.9h0M237.1 374.5h0M241.7 422.4h0M254.3 423.9h0M238.8 388.8h0M257.7 380.6h0M247.6 370.2h0M261.4 417.8h0M268.7 361.7h0M259.5 405.4h0M267 385.1h0M249.6 410.1h0M248.1 410.8h0M240.9 376h0" stroke="#f07070" stroke-width="0.76" stroke-linecap="round" stroke-opacity="0.8"/>
<path d="M258.6 423.5h0M266.7 357h0M269.4 416.6h0" stroke="#1e1eb0" stroke-width="2.90" stroke-linecap="round"/>
<path d="M258.1 423.1h0M266.3 356.5h0M268.9 416.2h0" stroke="#8080ff" stroke-width="1.16" stroke-linecap="round" stroke-opacity="0.8"/>
<use href="#gT200" x="254.4" y="416.1"/>
<use href="#gT200" x="268.6" y="394.5"/>
<use href="#gL215" x="244.5" y="369.0"/>
<use href="#gT200" x="253.3" y="400.8"/>
<use href="#gL215" x="247.1" y="402.9"/>
<use href="#gL215" x="248.4" y="398.9"/>
<use href="#gL215" x="244.6" y="410.3"/>
<use href="#gL215" x="261.7" y="408.8"/>
<use href="#gT200" x="240.2" y="420.5"/>
<use href="#gT200" x="262.5" y="379.1"/>
<use href="#gT200" x="237.8" y="403.7"/>
<use href="#gL215" x="253.1" y="394.0"/>
<use href="#gL215" x="240.1" y="408.4"/>
<use href="#gT200" x="252.1" y="374.9"/>
<path d="M262.9 395.1h0M268.4 386.8h0M247 381.6h0M247.7 363.1h0M260.5 359.6h0M263.5 390.2h0" stroke="#1e1eb0" stroke-width="2.90" stroke-linecap="round"/>
<path d="M262.5 394.6h0M268 386.3h0M246.5 381.1h0M247.2 362.7h0M260 359.1h0M263.1 389.7h0" stroke="#8080ff" stroke-width="1.16" stroke-linecap="round" stroke-opacity="0.8"/>
<path d="M258.9 421.1h0M244.7 420.2h0M245.4 385.1h0M240.4 409.2h0M243.8 397.1h0M235.9 400.6h0M251.4 377.7h0M240.9 426.6h0M247.8 360.5h0M251.7 369.9h0M254.4 420h0M238.6 390.8h0M245.1 380h0M256 393.2h0M253 372.2h0M238 390.4h0M264.8 392.3h0M263.9 423.4h0M267.4 407.3h0M248.7 380h0M258.9 377.1h0M257.2 370.7h0M247.5 365.3h0M262.4 367.7h0M263.3 392.7h0M262.7 397.3h0M237.5 356.3h0M257.6 425.8h0M238 390.7h0M258.4 361.3h0M245.5 363.9h0M262.6 359.3h0M264.4 354.7h0M263.1 405.2h0M242.1 393.1h0M247.7 388.4h0M247.9 383.7h0M267.5 397.9h0M233.8 387.8h0M247.5 425.6h0M260 397.2h0M254 371.8h0M258.8 376.8h0M238 419.7h0M242.1 382.2h0M260.9 424.9h0M242.1 383.9h0M263.5 403.1h0M268.7 390.8h0M270.3 364.8h0M244.2 388.1h0M245.1 382.8h0M251.5 353h0M241.2 354h0M268.9 356.4h0M250.5 400.9h0" stroke="#c01818" stroke-width="1.90" stroke-linecap="round"/>
<path d="M258.6 420.8h0M244.4 419.9h0M245.1 384.8h0M240.1 408.9h0M243.5 396.8h0M235.6 400.3h0M251.1 377.4h0M240.6 426.3h0M247.5 360.2h0M251.4 369.6h0M254.1 419.7h0M238.3 390.5h0M244.8 379.7h0M255.7 392.9h0M252.7 371.9h0M237.7 390.1h0M264.5 392h0M263.6 423.1h0M267.1 407h0M248.4 379.7h0M258.6 376.8h0M256.9 370.4h0M247.2 365h0M262.1 367.4h0M262.9 392.4h0M262.4 397h0M237.2 356h0M257.2 425.5h0M237.7 390.4h0M258.1 361h0M245.2 363.6h0M262.2 359h0M264.1 354.4h0M262.7 404.9h0M241.8 392.8h0M247.4 388.1h0M247.6 383.4h0M267.2 397.6h0M233.5 387.5h0M247.2 425.3h0M259.7 396.9h0M253.7 371.5h0M258.5 376.5h0M237.7 419.4h0M241.8 381.9h0M260.6 424.6h0M241.8 383.6h0M263.2 402.8h0M268.4 390.5h0M270 364.5h0M243.9 387.8h0M244.8 382.4h0M251.2 352.7h0M240.9 353.7h0M268.6 356.1h0M250.2 400.6h0" stroke="#f07070" stroke-width="0.76" stroke-linecap="round" stroke-opacity="0.8"/>
<use href="#gL215" x="266.4" y="361.6"/>
<use href="#gL215" x="243.7" y="364.4"/>
<use href="#gL215" x="251.1" y="368.0"/>
<use href="#gL215" x="239.0" y="382.7"/>
<use href="#gL215" x="238.1" y="377.9"/>
<use href="#gL215" x="258.4" y="404.3"/>
<use href="#gL215" x="249.8" y="387.0"/>
<use href="#gT200" x="244.4" y="422.9"/>
<use href="#gT200" x="257.7" y="420.3"/>
<use href="#gT200" x="247.9" y="415.6"/>
<use href="#gL215" x="237.2" y="359.1"/>
<use href="#gL215" x="265.1" y="370.2"/>
<path d="M294.8 397l-1.1 2.8M294.8 397l-5.7 .6M294.8 397l-2.6-.6M294.8 397l.6 4.7M294.8 397l4.2 3.8M294.8 397l4.1 1.1M294.8 397l-.7-5M294.8 397l-2.5 5M294.8 397l-5.4-.8M294.8 397l-.2-3.9M294.8 397l2-1.8M294.8 397l2.3-1.3M294.8 397l-.1-4.9M294.8 397l-2.1 3.6M294.8 397l-2.9 1.9M294.8 397l-.2 4.4M294.8 397l.6 2.4M325.1 382l-1.8-.1M325.1 382l-4.7 1.3M325.1 382l-3.5-3.5M325.1 382l-1.5-4.6M325.1 382l-1.3-5.4M325.1 382l3.3-3.4M325.1 382l.7-4.4M325.1 382l-4.3 3.7M325.1 382l-3.9-1.2M325.1 382l3.7-2.8M325.1 382l-0 2.9M325.1 382l4.7 2.5M325.8 393.8l-.4-4.7M325.8 393.8l-4.6-1.3M325.8 393.8l-1.3-4.8M325.8 393.8l-4.6 1.4M325.8 393.8l3.9-3.7M325.8 393.8l3.3-3.8M287.9 391.5l.2 4.7M287.9 391.5l4.3-3.1M287.9 391.5l-4.1-3M287.9 391.5l1.5 4.8M287.9 391.5l-.1-4.8M287.9 391.5l.4 5M343 404.8l1.1 4.5M343 404.8l-4 2.6M343 404.8l-3.6-2.6M343 404.8l1.8-3.8M343 404.8l.7-4.9M343 404.8l-0 4.5M343 404.8l-.9-3.1M343 404.8l-3.4 .7M343 404.8l-0 4.4M343 404.8l-.6 5.5M343 404.8l-1.3 4.3M309.9 371.7l1.2-3.5M309.9 371.7l-2.7-2.4M309.9 371.7l2 4M309.9 371.7l-.5 4.3M309.9 371.7l4.5-.2M309.9 371.7l4.4 2.6M309.9 371.7l4.5-.7M309.9 371.7l.6 5M309.9 371.7l4 2.4M309.9 371.7l2.7 .3M309.9 371.7l3.7-4.3M309.9 371.7l2.4-1M309.9 371.7l-2.9 2.2M309.9 371.7l-5.6 .7M309.9 371.7l-1.6 3M309.9 371.7l.4 3.7M293.5 409.7l-2.2 4.3M293.5 409.7l-5.1-2.5M293.5 409.7l-3.4 3.3M293.5 409.7l-1.3-4.8M293.5 409.7l3.4-3.4M293.5 409.7l0-5.2M293.5 409.7l-.7 .9M293.5 409.7l-1.6-3.6M314.2 389.6l-3.2-3.7M314.2 389.6l-3.9-3M314.2 389.6l2.2 3.7M314.2 389.6l-4.5 3.4M314.2 389.6l-4.9-.3M314.2 389.6l.6 2.7M314.2 389.6l-3.5 4.5M314.2 389.6l1.2-4.1M314.2 389.6l4.1 4.2M299.7 391.5l1.7 4.3M299.7 391.5l2.9 1.9M299.7 391.5l-5.6 .6M299.7 391.5l-5.1 1.7M299.7 391.5l-2.9 3.7M299.7 391.5l-2.6 4.3M299.7 391.5l-5 .7M299.7 391.5l4.3-1.8M299.7 391.5l-2-2.7M299.7 391.5l3.7-.2M299.7 391.5l.9-2.7M301.3 363l5.1 2.7M301.3 363l-4-4M301.3 363l-.3-5.4M301.3 363l1.7-4.1M301.3 363l-3.1-3.5M301.3 363l-2.6 3.4M301.3 363l-2.9-1.3M301.3 363l1.2-4.1M301.3 363l.1-.1M307 401.7l-2-3.5M307 401.7l-3.7 3.5M307 401.7l-4.9 .6M307 401.7l1.1-5.5M307 401.7l3.1-3.7M307 401.7l4.7-2.6M307 401.7l-4-3.6M307 401.7l.7-4.1M307 401.7l2.6-1.7M307 401.7l4 3.5M307 401.7l2.4 4.1M307 401.7l.8 3.8M307 401.7l-4.6 1.6M318.7 405.6l-3.7-3.5M318.7 405.6l-3.4 4.2M318.7 405.6l-.3-4.2M318.7 405.6l-3.1 2.7M318.7 405.6l-3 3M318.7 405.6l3.4 1.3M318.7 405.6l3.5 3.3M318.7 405.6l1.9 1M318.7 405.6l-.7-3.5M344.9 367.9l-1.5 0M344.9 367.9l-4.7 1.8M344.9 367.9l-3.2-3M344.9 367.9l-1.4 2.2M344.9 367.9l1.7 3.9M344.9 367.9l2 .6M344.9 367.9l3.3-2M344.9 367.9l4.6 .1M344.9 367.9l-.9-4.3M344.9 367.9l4.3-.8M344.9 367.9l2.2-4M344.9 367.9l3.5-3.5M344.9 367.9l-4.3 1.5M344.9 367.9l-3.6-2.3M344.9 367.9l.4-2.2M344.9 367.9l3.9 .9M329.1 414.8l2.6-4M329.1 414.8l-1 5.4M329.1 414.8l4.3 .5M329.1 414.8l3.2 3.8M329.1 414.8l.3-4.5M329.1 414.8l4.5-1.3M329.1 414.8l5.2-2.1M339.5 398.6l-5.2-.1M339.5 398.6l-2.5-3.2M339.5 398.6l-0 3.6M339.5 398.6l4.3 1.4M339.5 398.6l-4.8-2.7M339.5 398.6l5.3 .2M339.5 398.6l2.7 3.2M339.5 398.6l-4.7 .2M339.5 398.6l-4 3.1M339.5 398.6l.5-2.9M339.5 398.6l2.9-3.6M339.5 398.6l2.5-.9M339.5 398.6l-1.9-.4M339.5 398.6l0 .4M339.5 398.6l-5 1.8M339.5 398.6l-4.2 3.4M316 418.6l-4.3 1.4M316 418.6l5 .5M316 418.6l3.4 4.5M316 418.6l-4.4 .7M316 418.6l-4.7-.7M316 418.6l4.8 2.3M316 418.6l-3.5-4.4M316 418.6l-2.7 2.4M314.5 397.7l1.9-4.4M314.5 397.7l-4.4 .4M314.5 397.7l-2.8 1.4M314.5 397.7l.4 4.4M314.5 397.7l3.8 3.7M314.5 397.7l-4.9 2.3M314.5 397.7l.3-5.4M314.5 397.7l4.4-1.3M314.5 397.7l-4.6-2M314.5 397.7l-3.9-3.6M314.5 397.7l3.7-3.9M314.5 397.7l3.4 4.4M349.3 391.3l.4-5.1M349.3 391.3l-4-3M349.3 391.3l2.9 3.5M349.3 391.3l3.7 3.5M349.3 391.3l-3.5-2.7M349.3 391.3l.7 1.5M349.3 391.3l-4-1.8M343.3 382l5-1.1M343.3 382l2.4-2M343.3 382l-4 3.8M343.3 382l2.8 4.1M343.3 382l-4.8-.4M343.3 382l-1.2 5.5M343.3 382l-4.5-1.8M343.3 382l-5 .1M343.3 382l.8-5.1M343.3 382l.5-3.7M343.3 382l1.9-5.5M343.3 382l-2.5 3.9M343.3 382l-.6 5.3M343.3 382l-1.4 2.3M343.3 382l-5.5-0M343.3 382l0-1.6M299.6 384l3.7 1.9M299.6 384l-4.4 .9M299.6 384l-2.1-4.8M299.6 384l4.4 1.7M299.6 384l-1.9 4.8M299.6 384l-1.8-2.2M299.6 384l-3.3-.3M299.6 384l-.1-4.2M299.6 384l2.3-2.6M299.6 384l1 4.8M299.6 384l-.3-4.1M292.8 366.8l5.8-.4M292.8 366.8l-5-2.2M292.8 366.8l4.7 1.2M292.8 366.8l-.6-4.3M292.8 366.8l4.7 1.2M292.8 366.8l.4 4.2M292.8 366.8l-5-2.3M292.8 366.8l-1.1 5.7M333.1 383.9l5.4-2.3M333.1 383.9l3.1-4.3M333.1 383.9l-2.6-4.8M333.1 383.9l-.5-4.8M333.1 383.9l.5-5.6M333.1 383.9l5.2-1.9M333.1 383.9l3.3 2M333.1 383.9l3.6 1.9M333.1 383.9l4.7-2M333.1 383.9l-3.3 .5M333.1 383.9l-3.8 2.5M333.1 383.9l-.8 4M338.2 410.9l4.1 1.3M338.2 410.9l.8-3.6M338.2 410.9l4.8-1.6M338.2 410.9l1.4-5.5M338.2 410.9l4.8-1.8M338.2 410.9l-4.6 2.5M338.2 410.9l4.2-.7M338.2 410.9l-4 1.8M338.2 410.9l2.6 3.5M338.2 410.9l2.9 4.8M338.2 410.9l1.1 3.9M338.2 410.9l3.5-1.8M338.2 410.9l-.8-.5M327.4 371.7l-4.7-.9M327.4 371.7l-3-3.6M327.4 371.7l4 3.1M327.4 371.7l1.6 3.9M327.4 371.7l-4.4-2.4M327.4 371.7l-4.1 .1M327.4 371.7l3.3 3.7M327.4 371.7l-4.2-2.2M340.3 419.9l3.9 1.7M340.3 419.9l-3.1 4.7M340.3 419.9l.5-5.5M340.3 419.9l.9-4.2M340.3 419.9l-.9-5.1M340.3 419.9l5.2 .8M340.3 419.9l-4.8 .5M340.3 419.9l4.3-.5M285.5 375l3.7-1.9M285.5 375l2 3.8M285.5 375l-4.1 2.1M285.5 375l-.8 5.3M285.5 375l5.2-2.2M285.5 375l3.9 1M340.2 374.8l-0-5.2M340.2 374.8l4.6 .4M340.2 374.8l1.3-1.4M340.2 374.8l3.3-4.8M340.2 374.8l-1.5 5.3M340.2 374.8l3.9 2M340.2 374.8l-5 1.7M340.2 374.8l.4-5.4M340.2 374.8l3.5 3.5M340.2 374.8l4.9 1.7M340.2 374.8l2.2-0M342.2 360.9l-.5 3.9M342.2 360.9l-5.3 .6M342.2 360.9l-4.1-2M342.2 360.9l1.8 2.6M342.2 360.9l4.9 2.9M342.2 360.9l2.2-4M342.2 360.9l-3.1 2.9M342.2 360.9l3.3-3.2M342.2 360.9l-.9 4.6M342.2 360.9l3.1 4.8M342.2 360.9l-3.2 2.5M297.4 418.7l4.6-1.9M297.4 418.7l-3.9 2.9M297.4 418.7l3.8-1.6M297.4 418.7l1 5.1M297.4 418.7l-1.9 4.5M293.9 379l3.6 .2M293.9 379l3.9 2.7M293.9 379l4.7-2.2M293.9 379l-4.5-3.1M293.9 379l2.4 4.7M293.9 379l4.6-1.1M293.9 379l5.6 .7M293.9 379l-.2 2.9M293.9 379l5.4 .8M293.9 379l-.3 .1M316.2 380.3l4.3 3M316.2 380.3l2.7-.7M316.2 380.3l5.4-1.8M316.2 380.3l-4.3 1.6M316.2 380.3l-2.3-1.5M316.2 380.3l-4.9 .3M316.2 380.3l5 .5M316.2 380.3l3.7-2.2M316.2 380.3l-.8 5.2M316.2 380.3l-5.6-1M316.2 380.3l-4.5-1.4M316.9 370.3l5.8 .5M316.9 370.3l2.6-.2M316.9 370.3l3.9-4M316.9 370.3l-2.5 1.2M316.9 370.3l-2.6 4M316.9 370.3l-2.5 .7M316.9 370.3l-3.1 3.8M316.9 370.3l1.1-5.2M316.9 370.3l-4.4 1.7M316.9 370.3l-3.3-2.9M316.9 370.3l-4.6 .4M316.9 370.3l-3.1-5M330.7 362.8l2.5-2.3M330.7 362.8l5.2 .6M330.7 362.8l3.9 2.4M330.7 362.8l-4.4-3.3M330.7 362.8l-3.6-4.4M330.7 362.8l5.3 .7M330.7 362.8l-5.3 2.1M288.6 401.7l5.1-1.8M288.6 401.7l.5-.9M288.6 401.7l.5-4.1M288.6 401.7l3.7 .4M288.6 401.7l-.5-5.5M288.6 401.7l.8-5.5M288.6 401.7l-.3 5.5M288.6 401.7l3.5 3.1M288.6 401.7l-.3-5.2M288.6 401.7l4.1-1M288.6 401.7l4.9 2.8M288.6 401.7l3.3-2.8M288.6 401.7l-5.3 1.3M288.6 401.7l3.2 4.4M350.6 358.2l-5-.5M350.6 358.2l-3.5-2.3M350.6 358.2l1.1 5.3M350.6 358.2l2.5 3.8M350.6 358.2l1.9-4M350.6 358.2l-3.8-2.2M350.6 358.2l.2 5.3M310.1 409.8l-4.2 1.8M310.1 409.8l-1.1 3.1M310.1 409.8l5.2-.1M310.1 409.8l5.5-1.6M310.1 409.8l5.6-1.2M310.1 409.8l2.4 4.3M310.1 409.8l.9-4.6M310.1 409.8l.2 5.2M310.1 409.8l-.7-4.1M310.1 409.8l-2.3-4.4M310.1 409.8l-3.1 3.7M349.6 420.2l1-2.4M349.6 420.2l-1.3-4.3M349.6 420.2l3.5-4.7M349.6 420.2l-5.4 1.3M349.6 420.2l5-.4M349.6 420.2l-3.2-2.8M349.6 420.2l-4.1 .5M349.6 420.2l2.3 4.3M349.6 420.2l3.5-4.5M349.6 420.2l-5-.8M349.6 420.2l-1.3-4.9M304.4 378.1l2.1 4.3M304.4 378.1l4.4 1.6M304.4 378.1l4.6 .9M304.4 378.1l4.9-2M304.4 378.1l2.6-4.2M304.4 378.1l-4.9 1.7M304.4 378.1l-2.6 3.2M304.4 378.1l-.1-5.6M304.4 378.1l3.9-3.3M304.4 378.1l-4.2-3.6M304.4 378.1l2.7 4.9M304.4 378.1l-5.1 1.7M339.4 390.1l-2.5 5.2M339.4 390.1l-.1-4.3M339.4 390.1l2.6-2.7M339.4 390.1l1.4-4.2M339.4 390.1l.5 5.5M339.4 390.1l-4.4-.4M339.4 390.1l-3.1-4.3M339.4 390.1l3.2-2.9M339.4 390.1l-2.8-4.3M339.4 390.1l2.9 4.8M339.4 390.1l3-.3M339.4 390.1l5.9-.6M326.9 404.1l-1.6 4.7M326.9 404.1l3.1-4.8M326.9 404.1l3.7 2.8M326.9 404.1l-4.8 2.8M326.9 404.1l-2.6-3.8M326.9 404.1l-1.4-1.7" stroke="#b07a84" stroke-width="0.55" fill="none" stroke-opacity="1"/>
<path d="M348 378.6l.3 2.3M348 378.6l-2.3 1.4M348 378.6l-1.2-2.5M348 378.6l2.5-.5M341 367.1l2.4 .8M341 367.1l-.8 2.5M341 367.1l-2.7-.6M341 367.1l.7-2.2M303.7 395.7l1.3 2.4M303.7 395.7l-2.3 .1M303.7 395.7l-1.2-2.3M303.7 395.7l2.3-.7M335.8 359.5l1.1 2M335.8 359.5l-2.6 1M335.8 359.5l-.3-2.2M335.8 359.5l2.3-.6M344.8 411.9l.3 2.2M344.8 411.9l-2.5 .4M344.8 411.9l-.6-2.6M344.8 411.9l2.6-.4M320.9 380.9l2.4 .9M320.9 380.9l-.4 2.3M320.9 380.9l-2.1-1.3M320.9 380.9l.7-2.5M344.2 372.7l.7 2.4M344.2 372.7l-2.6 .7M344.2 372.7l-.6-2.7M344.2 372.7l2.4-.9M308.5 367.3l2.6 1M308.5 367.3l-1.3 2M308.5 367.3l-2.1-1.6M308.5 367.3l1.6-1.6M309.1 382.3l.2 2.8M309.1 382.3l-2.5 .2M309.1 382.3l-.3-2.5M309.1 382.3l2.8-.4M291.2 398.9l2.5 .9M291.2 398.9l-2.1 1.8M291.2 398.9l-2.1-1.3M291.2 398.9l1-2.5M301 404.7l2.2 .4M301 404.7l-1.6 1.9M301 404.7l-1.8-1.3M301 404.7l1.1-2.4M349.7 368l1.3 2.1M349.7 368l-2.7 .5M349.7 368l-1.4-2.1M349.7 368l2.6-.3M309.4 420.1l1.1 2.2M309.4 420.1l-2.2 1.6M309.4 420.1l-.7-2.2M309.4 420.1l2.3-.2M311.6 378.4l2.2 .4M311.6 378.4l-.3 2.3M311.6 378.4l-2.6 .6M311.6 378.4l.3-2.6M306.5 414.2l.7 2.2M306.5 414.2l-2.2 1.2M306.5 414.2l-.6-2.5M306.5 414.2l2.4-1.2M321.8 368.7l.9 2.1M321.8 368.7l-2.3 1.4M321.8 368.7l-1-2.3M321.8 368.7l2.5-.6M350.5 415.5l0 2.3M350.5 415.5l-2.3 .3M350.5 415.5l-.4-2.6M350.5 415.5l2.6-0M334.4 396.1l-.2 2.3M334.4 396.1l-2.6 .2M334.4 396.1l-1.3-2.5M334.4 396.1l2.5-.7" stroke="#7a3a9a" stroke-width="0.55" fill="none" stroke-opacity="1"/>
<path d="M299.3 379.8h0M298.4 377.9h0M352.1 394.8h0M335.2 376.5h0M325.8 377.6h0M332.3 418.6h0M334.7 398.8h0M346.6 371.8h0M343.8 378.3h0M291.8 406.1h0M283.3 403h0M323.2 369.6h0M321.2 395.2h0M328.4 378.6h0M328.8 379.2h0M308.1 357.7h0M296.2 383.7h0M321.2 380.8h0M293.5 404.5h0M344.4 356.9h0M345.3 365.7h0M334.2 398.4h0M302.5 393.4h0M325.1 384.9h0M313.8 365.3h0M314.9 402.1h0M307.1 383h0M324.3 409.4h0M319.9 378.1h0M302.5 358.9h0M341.9 384.3h0M295.4 401.8h0M295.4 399.5h0M288.1 396.2h0M342.4 389.8h0M291.2 414h0M294 392.1h0M343.3 380.4h0M346.8 376.1h0M312.5 414.2h0M345.7 380h0M308.1 396.2h0M287 380.7h0M303.3 385.9h0M301.4 395.8h0M314.3 374.3h0M310.5 376.7h0M294.6 401.4h0M343.4 367.9h0M310.2 415.1h0M292.1 404.8h0M305 398.2h0M353.1 362h0M344.8 375.2h0M312.3 370.7h0M287.7 386.7h0M303.2 405.2h0M314.4 371.1h0M311.3 417.9h0M330.7 375.5h0M299.5 379.8h0M329.8 384.5h0M322.1 406.9h0M339.1 363.8h0M292.2 362.5h0M344.9 401h0M317.9 402.1h0M339.4 402.2h0M311 405.2h0M309.4 405.8h0M344.2 409.3h0M301.3 417.1h0M337.2 424.6h0M342 387.5h0M347.1 355.9h0M308.8 417.9h0M353.1 415.5h0M308.9 413h0M297.5 368h0M349.2 367h0M331.3 374.8h0M336.1 363.5h0M303.9 385.7h0M341.3 365.6h0M334.7 395.9h0M348.2 365.9h0M325.4 408.7h0" stroke="#c01818" stroke-width="2.60" stroke-linecap="round"/>
<path d="M298.9 379.4h0M298 377.5h0M351.7 394.4h0M334.8 376.1h0M325.4 377.2h0M331.9 418.2h0M334.3 398.3h0M346.2 371.4h0M343.3 377.9h0M291.4 405.7h0M282.8 402.6h0M322.8 369.2h0M320.8 394.8h0M328 378.2h0M328.4 378.8h0M307.7 357.3h0M295.8 383.3h0M320.8 380.4h0M293.1 404.1h0M344 356.5h0M344.9 365.3h0M333.8 398h0M302.1 393h0M324.7 384.4h0M313.4 364.9h0M314.5 401.6h0M306.7 382.6h0M323.9 409h0M319.4 377.7h0M302.1 358.5h0M341.5 383.9h0M295 401.4h0M295 399.1h0M287.7 395.8h0M342 389.4h0M290.8 413.5h0M293.6 391.7h0M342.9 380h0M346.4 375.6h0M312.1 413.8h0M345.3 379.5h0M307.7 395.8h0M286.6 380.3h0M302.8 385.5h0M301 395.4h0M313.9 373.9h0M310.1 376.3h0M294.2 401h0M343 367.4h0M309.8 414.7h0M291.7 404.4h0M304.5 397.7h0M352.7 361.6h0M344.4 374.8h0M311.9 370.3h0M287.3 386.2h0M302.8 404.7h0M314 370.6h0M310.9 417.4h0M330.3 375h0M299.1 379.3h0M329.4 384h0M321.7 406.5h0M338.7 363.4h0M291.8 362.1h0M344.5 400.6h0M317.5 401.7h0M339 401.8h0M310.6 404.8h0M308.9 405.4h0M343.7 408.9h0M300.8 416.7h0M336.8 424.2h0M341.6 387.1h0M346.7 355.5h0M308.3 417.5h0M352.7 415.1h0M308.5 412.5h0M297.1 367.6h0M348.8 366.6h0M330.9 374.4h0M335.6 363.1h0M303.5 385.3h0M340.9 365.1h0M334.3 395.5h0M347.8 365.5h0M324.9 408.3h0" stroke="#f07070" stroke-width="1.04" stroke-linecap="round" stroke-opacity="0.8"/>
<use href="#gL350" x="325.1" y="382.0"/>
<use href="#gL350" x="339.5" y="398.6"/>
<use href="#gN200" x="308.5" y="367.3"/>
<use href="#gN200" x="303.7" y="395.7"/>
<use href="#gL350" x="304.4" y="378.1"/>
<use href="#gT320" x="316.9" y="370.3"/>
<use href="#gT320" x="349.3" y="391.3"/>
<use href="#gL350" x="333.1" y="383.9"/>
<use href="#gT320" x="299.6" y="384.0"/>
<use href="#gT320" x="314.5" y="397.7"/>
<use href="#gT320" x="299.7" y="391.5"/>
<use href="#gN200" x="349.7" y="368.0"/>
<use href="#gN200" x="341.0" y="367.1"/>
<path d="M286 418.3h0M289.4 375.9h0M294.6 393.2h0M319.4 423h0M349.5 367.9h0M307.3 421.7h0M344.1 376.8h0M339.5 398.9h0M316.4 393.2h0M313.8 378.8h0M339.1 363.5h0M283.7 388.4h0M293.7 399.9h0M350.5 378.1h0M352.5 354.2h0M334.6 365.2h0M348.2 415.9h0M344.8 398.7h0M303 358.9h0M350.8 363.5h0M320.8 385.7h0M302.3 403.3h0M311.8 420h0M299.2 403.4h0M342.4 410.3h0M332.6 379.1h0M329.3 386.4h0M318.2 393.8h0M350.1 412.9h0M313.3 421h0M336.6 385.9h0M291.4 420h0M341.1 415.7h0M320.8 420.9h0M332.2 388h0M341.8 409.1h0M337.5 398.2h0M298.4 361.7h0M328.1 420.2h0M329 375.7h0M311.7 378.8h0M291.9 398.9h0M298.4 423.8h0M344.6 419.4h0M351.9 424.5h0M344 363.6h0M308.3 374.8h0M309.3 385h0M304.3 415.4h0M339.4 414.8h0M349.8 407.5h0M314.4 371.5h0M338.4 381.6h0M310.1 398h0M345.8 388.6h0M303.9 389.7h0M324.4 389h0M287.8 364.6h0M306.6 382.4h0M334.1 375h0M321.1 392.5h0M335.6 357.3h0M307.2 416.3h0M336.2 379.6h0M318.9 379.6h0M295.1 384.8h0M341.9 397.6h0M338.7 380.2h0M318.9 361.4h0M309.1 379h0M304.3 372.5h0M320.5 406.6h0M311.3 380.6h0M340.8 385.9h0M323.3 381.8h0M352.2 367.7h0M288.3 407.2h0M290.1 412.9h0M297.5 379.2h0M333.1 393.6h0M346.4 417.4h0M293.7 381.9h0M306 395h0M345.2 376.5h0M346.8 356h0" stroke="#c01818" stroke-width="2.60" stroke-linecap="round"/>
<path d="M285.6 417.9h0M288.9 375.5h0M294.2 392.8h0M319 422.6h0M349.1 367.5h0M306.9 421.3h0M343.7 376.4h0M339.1 398.5h0M316 392.8h0M313.4 378.4h0M338.6 363h0M283.3 388h0M293.2 399.5h0M350 377.7h0M352.1 353.8h0M334.2 364.8h0M347.8 415.4h0M344.4 398.3h0M302.5 358.5h0M350.3 363h0M320.4 385.3h0M301.9 402.9h0M311.3 419.6h0M298.8 403h0M342 409.9h0M332.2 378.7h0M328.9 386h0M317.8 393.4h0M349.7 412.5h0M312.9 420.6h0M336.2 385.5h0M291 419.6h0M340.7 415.3h0M320.4 420.5h0M331.8 387.5h0M341.3 408.7h0M337.1 397.7h0M298 361.3h0M327.7 419.8h0M328.6 375.3h0M311.3 378.4h0M291.5 398.5h0M298 423.4h0M344.2 419h0M351.5 424.1h0M343.6 363.2h0M307.9 374.4h0M308.9 384.6h0M303.9 415h0M339 414.4h0M349.3 407h0M314 371.1h0M338 381.2h0M309.7 397.6h0M345.4 388.1h0M303.5 389.2h0M324 388.6h0M287.4 364.1h0M306.1 382h0M333.7 374.5h0M320.7 392.1h0M335.1 356.9h0M306.8 415.9h0M335.7 379.2h0M318.4 379.2h0M294.7 384.4h0M341.5 397.2h0M338.3 379.7h0M318.4 361h0M308.6 378.6h0M303.9 372.1h0M320.1 406.2h0M310.9 380.2h0M340.4 385.5h0M322.9 381.4h0M351.8 367.3h0M287.9 406.7h0M289.7 412.5h0M297.1 378.8h0M332.7 393.2h0M346 417h0M293.3 381.5h0M305.6 394.6h0M344.7 376.1h0M346.4 355.5h0" stroke="#f07070" stroke-width="1.04" stroke-linecap="round" stroke-opacity="0.8"/>
<use href="#gN200" x="335.8" y="359.5"/>
<use href="#gT320" x="287.9" y="391.5"/>
<use href="#gN200" x="320.9" y="380.9"/>
<use href="#gL350" x="314.2" y="389.6"/>
<use href="#gT320" x="349.6" y="420.2"/>
<use href="#gN200" x="309.1" y="382.3"/>
<use href="#gN200" x="309.4" y="420.1"/>
<use href="#gL350" x="293.9" y="379.0"/>
<use href="#gN200" x="291.2" y="398.9"/>
<use href="#gL350" x="340.2" y="374.8"/>
<use href="#gN200" x="350.5" y="415.5"/>
<use href="#gL350" x="325.8" y="393.8"/>
<use href="#gN200" x="348.0" y="378.6"/>
<use href="#gN200" x="321.8" y="368.7"/>
<use href="#gN200" x="344.8" y="411.9"/>
<path d="M330.4 379.1h0M290.7 372.8h0M292.7 400.6h0M299 400.8h0M345.5 357.7h0M335.5 420.4h0M292.1 396.4h0M306.9 413.5h0M343.5 370h0M309.6 400h0M297.6 388.7h0M314.8 392.3h0M320.8 366.4h0M315.5 408.3h0M300.2 374.5h0M334.4 400.3h0M309.4 376.1h0M310.9 385.9h0M300.6 388.8h0M320.5 383.3h0M324.4 400.2h0M311.9 381.9h0M308.8 379.7h0M348.3 380.9h0M350 392.8h0M310.3 386.6h0M329.7 390.1h0M292.3 402.1h0M311.9 375.8h0M307 373.9h0M343.8 399.9h0M295.6 423.3h0M311 368.3h0M306.1 393.7h0M289.1 397.6h0M303.4 391.3h0M348.4 364.4h0M330.6 406.8h0M322.7 370.8h0M313.9 374.1h0M339.9 395.6h0M309.6 393h0M323 369.3h0M342.4 374.8h0M310.1 362.5h0M350.9 370.1h0M343 409.2h0M346.9 368.5h0M311.7 399.1h0M297.1 395.8h0M296.9 406.3h0M342.3 412.2h0M315.2 409.8h0M302 416.8h0M298.2 359.5h0M298.6 366.4h0M340.8 414.4h0M353 415.7h0M310.6 379.3h0M287.9 364.5h0M307.7 397.6h0M298.9 398.1h0M343 409.3h0M319.5 370.1h0M293.3 370.9h0M339 407.4h0M315.6 408.6h0M333.4 415.3h0M335 389.7h0M303 398.1h0M331.8 396.3h0M338.2 382.1h0M336.9 361.5h0M339.7 405.5h0M309.3 389.3h0M292.1 388.4h0M354.6 419.8h0M299.5 406.6h0M315.4 385.5h0M323.3 371.9h0M288.2 396.5h0M323.8 376.5h0M345 414.1h0M336.4 385.9h0M334.3 412.7h0M321.6 378.4h0" stroke="#c01818" stroke-width="2.60" stroke-linecap="round"/>
<path d="M330 378.7h0M290.3 372.4h0M292.3 400.2h0M298.5 400.4h0M345.1 357.3h0M335.1 420h0M291.7 396h0M306.5 413.1h0M343.1 369.6h0M309.2 399.6h0M297.2 388.3h0M314.4 391.8h0M320.4 365.9h0M315.1 407.9h0M299.8 374h0M334 399.9h0M308.9 375.7h0M310.5 385.4h0M300.2 388.4h0M320.1 382.8h0M323.9 399.8h0M311.5 381.5h0M308.4 379.3h0M347.8 380.5h0M349.6 392.4h0M309.9 386.2h0M329.3 389.7h0M291.9 401.7h0M311.5 375.4h0M306.6 373.5h0M343.4 399.5h0M295.1 422.8h0M310.6 367.9h0M305.7 393.3h0M288.7 397.2h0M303 390.9h0M348 364h0M330.2 406.4h0M322.3 370.4h0M313.4 373.7h0M339.5 395.2h0M309.2 392.6h0M322.6 368.9h0M342 374.3h0M309.7 362h0M350.5 369.7h0M342.6 408.8h0M346.5 368h0M311.3 398.6h0M296.7 395.4h0M296.5 405.9h0M341.9 411.8h0M314.8 409.4h0M301.6 416.4h0M297.7 359.1h0M298.2 366h0M340.4 414h0M352.6 415.3h0M310.2 378.9h0M287.5 364h0M307.3 397.2h0M298.4 397.7h0M342.6 408.9h0M319.1 369.7h0M292.8 370.5h0M338.6 407h0M315.2 408.2h0M333 414.9h0M334.6 389.3h0M302.5 397.7h0M331.4 395.9h0M337.8 381.7h0M336.5 361.1h0M339.2 405h0M308.8 388.9h0M291.7 388h0M354.2 419.4h0M299.1 406.2h0M314.9 385h0M322.8 371.4h0M287.8 396.1h0M323.4 376.1h0M344.6 413.7h0M335.9 385.5h0M333.9 412.3h0M321.2 378h0" stroke="#f07070" stroke-width="1.04" stroke-linecap="round" stroke-opacity="0.8"/>
<use href="#gN200" x="344.2" y="372.7"/>
<use href="#gL350" x="307.0" y="401.7"/>
<use href="#gT320" x="285.5" y="375.0"/>
<use href="#gL350" x="293.5" y="409.7"/>
<use href="#gN200" x="301.0" y="404.7"/>
<use href="#gL350" x="292.8" y="366.8"/>
<use href="#gL350" x="338.2" y="410.9"/>
<use href="#gL350" x="294.8" y="397.0"/>
<use href="#gT320" x="316.2" y="380.3"/>
<use href="#gL350" x="340.3" y="419.9"/>
<use href="#gL350" x="301.3" y="363.0"/>
<use href="#gL350" x="343.3" y="382.0"/>
<use href="#gT320" x="344.9" y="367.9"/>
<use href="#gN200" x="334.4" y="396.1"/>
<path d="M345.3 389.5h0M289.4 396.2h0M338.1 358.9h0M333.7 413.4h0M335.9 363.4h0M307.2 369.3h0M296.9 358.5h0M347.1 363.9h0M322.2 408.9h0M350.5 417.8h0M284.7 380.2h0M342.7 387.3h0M291.7 372.5h0M347.4 411.5h0M340.6 369.4h0M323.2 413.6h0M335.2 402h0M287.2 421.1h0M345.3 388.3h0M341.7 364.9h0M336.9 395.4h0M310.3 375.4h0M338.3 366.4h0M301.8 381.3h0M298.6 376.8h0M340.2 369.6h0M289.2 373h0M318.9 396.3h0M327.2 358.4h0M348.8 368.7h0M341.5 373.5h0M330 399.3h0M345.4 420.7h0M351.7 363.5h0M313.6 367.5h0M289.1 400.7h0M294.6 392.1h0M329.4 410.3h0M292.7 410.6h0M353 394.7h0M326.3 359.5h0M310.1 365.7h0M324.4 368.1h0M311.6 419.3h0M310.5 422.4h0M321.1 419.1h0M287.5 378.8h0M318 365.1h0M342.3 394.9h0M329.1 390h0M306.4 365.7h0M339.3 385.8h0M333.3 360.5h0M297.8 381.7h0M325.6 402.4h0M348.3 415.3h0M307.7 405.5h0M301 357.5h0M297.6 368h0M293.5 421.6h0M325.3 389.1h0M349.7 386.2h0M310.6 394.1h0M323.6 377.4h0M301.4 362.9h0M342.1 401.7h0M325.4 364.9h0M344.2 421.5h0M302.1 402.3h0M335.4 401.7h0M337.8 382h0M309.9 395.7h0M293.5 379.1h0M346 386.1h0M285.8 383.3h0M305.9 411.6h0M296.8 395.2h0M312.5 372.1h0M333.6 378.4h0M318.3 401.4h0M331.7 410.7h0M337.4 410.4h0M297.2 359h0M281.4 377.1h0" stroke="#c01818" stroke-width="2.60" stroke-linecap="round"/>
<path d="M344.9 389.1h0M288.9 395.8h0M337.7 358.5h0M333.3 413h0M335.5 362.9h0M306.8 368.9h0M296.5 358.1h0M346.6 363.5h0M321.7 408.4h0M350.1 417.4h0M284.3 379.8h0M342.2 386.9h0M291.3 372.1h0M347 411.1h0M340.2 369h0M322.8 413.2h0M334.8 401.6h0M286.8 420.6h0M344.9 387.9h0M341.3 364.5h0M336.5 395h0M309.9 375h0M337.9 366h0M301.4 380.9h0M298.2 376.4h0M339.8 369.2h0M288.8 372.6h0M318.5 395.9h0M326.8 358h0M348.4 368.3h0M341.1 373h0M329.6 398.9h0M345 420.3h0M351.3 363.1h0M313.2 367h0M288.7 400.3h0M294.2 391.7h0M329 409.9h0M292.3 410.1h0M352.6 394.3h0M325.9 359.1h0M309.7 365.3h0M323.9 367.7h0M311.2 418.9h0M310.1 422h0M320.7 418.6h0M287.1 378.4h0M317.6 364.7h0M341.9 394.5h0M328.7 389.6h0M305.9 365.3h0M338.9 385.4h0M332.8 360.1h0M297.4 381.3h0M325.2 401.9h0M347.9 414.9h0M307.3 405.1h0M300.6 357.1h0M297.1 367.6h0M293.1 421.2h0M324.9 388.7h0M349.3 385.8h0M310.2 393.7h0M323.2 377h0M301 362.5h0M341.7 401.3h0M325 364.5h0M343.8 421.1h0M301.7 401.9h0M335 401.3h0M337.4 381.6h0M309.5 395.3h0M293.1 378.7h0M345.6 385.7h0M285.4 382.9h0M305.5 411.2h0M296.4 394.8h0M312.1 371.7h0M333.2 378h0M317.9 400.9h0M331.3 410.3h0M337 410h0M296.8 358.5h0M281 376.7h0" stroke="#f07070" stroke-width="1.04" stroke-linecap="round" stroke-opacity="0.8"/>
<use href="#gL350" x="297.4" y="418.7"/>
<use href="#gL350" x="339.4" y="390.1"/>
<use href="#gL350" x="350.6" y="358.2"/>
<use href="#gT320" x="310.1" y="409.8"/>
<use href="#gN200" x="306.5" y="414.2"/>
<use href="#gL350" x="288.6" y="401.7"/>
<use href="#gT320" x="309.9" y="371.7"/>
<use href="#gN200" x="311.6" y="378.4"/>
<use href="#gL350" x="327.4" y="371.7"/>
<use href="#gL350" x="329.1" y="414.8"/>
<use href="#gT320" x="330.7" y="362.8"/>
<use href="#gT320" x="342.2" y="360.9"/>
<use href="#gT320" x="326.9" y="404.1"/>
<use href="#gT320" x="343.0" y="404.8"/>
<use href="#gL350" x="316.0" y="418.6"/>
<use href="#gL350" x="318.7" y="405.6"/>
<path d="M394.9,358.7 L431.9,358.7 L418.6,422.8 L378.8,420.9 Z" fill="none" stroke="#c8c8c8" stroke-width="0.6"/>
<path d="M416.8 407.4l-.9 2M416.8 407.4l-3.2-.3M416.8 407.4l-2.9-.7M416.8 407.4l1.4-3.5M416.8 407.4l-3 .3M416.8 407.4l2.1-.3M416.8 407.4l-1.9 2.9M416.8 407.4l3.3-.5M410.5 364.5l.5-2.8M410.5 364.5l-3.4-2M410.5 364.5l-3.4-1.3M410.5 364.5l2-3.9M410.5 364.5l2.9 3.2M410.5 364.5l3.2-2.4M410.5 364.5l1.5 2.8M410.5 364.5l.1 3.8M410.5 364.5l2 2.3M398.6 418.3l2 2.7M398.6 418.3l4.7 .4M398.6 418.3l-2.3 1.8M398.6 418.3l.1-4.2M398.6 418.3l.9-3M398.6 418.3l2.9-.1M425.1 364.3l1.8 3.4M425.1 364.3l3.3 .3M425.1 364.3l-.3-4.4M425.1 364.3l3.3-1M425.1 364.3l1.7-2.6M425.1 364.3l-2.6-3.3M425.1 364.3l-2.1 1.4M425.1 364.3l2.6-3M422.7 357.7l-3.1-.3M422.7 357.7l2.1 2.2M422.7 357.7l2.9-2.5M422.7 357.7l-2.2-3.5M422.7 357.7l-.2 3.3M422.7 357.7l2.7-3.6M422.7 357.7l2.4-.9M422.7 357.7l-1.5 1M387.9 384.7l3.7 1.6M387.9 384.7l2.9 .6M387.9 384.7l-2.1-3M400.4 411l1.8-1.7M400.4 411l-1.7-3.6M400.4 411l3.5 1.2M400.4 411l-1.7 3.1M400.4 411l-.9 4.2M400.4 411l3.1-.1M400.4 411l-3.1-.6M400.4 411l1.4-4.2M400.4 411l4.2-1.7M408.9 413.9l-1.4-1.9M408.9 413.9l3-.7M408.9 413.9l-.4-3.8M408.9 413.9l2.9 2.1M408.9 413.9l-.2 4.3M409.3 422.2l-4.1-.8M409.3 422.2l-.6-4M409.3 422.2l-2.9 .8M409.3 422.2l-2.5 2.3M411.4 389.2l-1-2.9M411.4 389.2l-2.3 2.3M411.4 389.2l-2.6 3.6M411.4 389.2l-2.9-2.6M411.4 389.2l3.4 .1M411.4 389.2l-3.7-2.5M391.6 375.7l.4-3.1M391.6 375.7l3.3 .4M391.6 375.7l2.4 2.9M391.6 375.7l4.1 .3M391.6 375.7l1.1-.7M406.5 405.6l-3.6-.1M406.5 405.6l-2.4 2.2M406.5 405.6l.8 3M406.5 405.6l-1.9 3.8M406.5 405.6l.7-3.4M406.5 405.6l3.7-2.2M394 389.7l-2.4-3.5M394 389.7l4.1-1.7M394 389.7l3.5-2.7M394 389.7l-4.3 1.1M394 389.7l2.1 1.2M394 389.7l2.3 1.1M391.6 363l-.5 3.9M391.6 363l4.5 .5M391.6 363l-1.3-2.7M391.6 363l3.6-1.8M391.6 363l-1.2-3.1M391.6 363l1.5 3.7M391.6 363l1.9-2M421.9 405l-3.7-1M421.9 405l3.8-.9M421.9 405l-3 2.2M421.9 405l4.2-1M421.9 405l-2.7-2.2M421.9 405l-1.8 2M416.3 376.4l3-.3M416.3 376.4l.6 3.9M416.3 376.4l-1.6 1.2M416.3 376.4l2.3 2.3M416.3 376.4l1.3 2.6M416.3 376.4l2.4 3M407.7 397.8l-2 1.7M407.7 397.8l-1.2-1M407.7 397.8l-1.9-3.9M407.7 397.8l3.5 2.6M407.7 397.8l1.3 .2M407.7 397.8l2.7-1.8M407.7 397.8l-.5 4.4M407.7 397.8l-2.4-3.3M407.7 397.8l2-3.5M407.7 397.8l2.7-1.3M407.7 397.8l-2 2.7M407.7 397.8l.1-3.2M395.9 394.8l3.6-.6M395.9 394.8l.2-3.8M395.9 394.8l.4-3.9M395.9 394.8l.8 1.9M395.9 394.8l3.3-.9M395.9 394.8l-.1 2.2M415 415.4l-1.2-3.3M415 415.4l-3.1-2.2M415 415.4l-3.2 .6M415 415.4l2.1 3.1M415 415.4l4.1 1.3M415 415.4l-.2-3.4M415 415.4l1-1M415 415.4l-1.6-4M396.7 379.3l3.7 .4M396.7 379.3l-1.8-3.2M396.7 379.3l-2.7-.6M396.7 379.3l-1.6 3M396.7 379.3l2.8 2.6M396.7 379.3l-1-3.3M396.7 379.3l1.1-2.4M396.7 379.3l3.1 .1M379.5 417.7l4.1-1.2M379.5 417.7l1.4-.6M379.5 417.7l-3.9 1.8M379.5 417.7l-1-3M379.5 417.7l.7 4.3M401.2 376.2l-.8 3.5M401.2 376.2l-2-2.4M401.2 376.2l-3.4 .7M401.2 376.2l-3.3-2.7M401.2 376.2l-2.4-1.8M401.2 376.2l-1.4 3.1M401.2 376.2l-.3 .3M424.9 376l-2.6 1.2M424.9 376l-1.4-1.6M424.9 376l1-3.2M424.9 376l.1 3.1M424.9 376l-.5 3.9M424.9 376l.4-2.7M424.9 376l2.7 1.1M406.1 384l-2.7-.6M406.1 384l-2.6-3.3M406.1 384l3.1-.1M406.1 384l2.3 2.6M406.1 384l-2-3.2M406.1 384l-.1-3.1M406.1 384l1.6 2.8M406.1 384l.9-2M406.1 384l3.1-.7M410.1 379l2.3 .7M410.1 379l-4 1.9M410.1 379l-1-3.8M410.1 379l-3 3M410.1 379l-.8 4.3M420.9 385.4l-2 2.6M420.9 385.4l1.9 2.6M420.9 385.4l2.6-1.9M420.9 385.4l-1.7-3.5M420.9 385.4l-.1 3.3M385.4 410.2l-2.6 2.4M385.4 410.2l2.5 2.5M385.4 410.2l.4-3.4M385.4 410.2l.8-3.4M385.4 410.2l3.3-3.2M428.4 356.6l-2.8-1.4M428.4 356.6l-1.4-3.1M428.4 356.6l-3-2.5M428.4 356.6l-3.3 .2M404.3 357.3l2.4 1.6M404.3 357.3l-1.2 4.2M404.3 357.3l2.7 1.6M404.3 357.3l-3.2-1.9M404.3 357.3l3.7 1.6M404.3 357.3l1.1 .4M404.3 357.3l3 3.6M396 372.9l1.4-1.1M396 372.9l-1.8-3.6M396 372.9l-4-.4M396 372.9l-1.1 3.2M396 372.9l-.4 3M396 372.9l3.1 .9M396 372.9l1.7 4M396 372.9l1.8 .6M396 372.9l2.7 1.5M396 372.9l2.6-2.4M396 372.9l-3.3 2.1M420.2 394.5l-.6-2.8M420.2 394.5l-3.4 .2M420.2 394.5l3.8-1M420.2 394.5l-3.6 0M418.6 412.4l-2.6-3M418.6 412.4l.5 4.3M418.6 412.4l-3.8-.3M418.6 412.4l-3.7-2.1M418.6 412.4l-2.5 2.1M418.6 412.4l3.5 2.6M388.5 402.7l-3-3.5M388.5 402.7l4.2-.3M388.5 402.7l-3.3-2.2M388.5 402.7l-1.8-2.4M388.5 402.7l3-.8M388.5 402.7l4.1 0M388.5 402.7l-.6-1.8M388.5 402.7l.9 2.2M388.5 402.7l.1 4.4M417.2 424.5l-1.3 3.2M417.2 424.5l1.3 3.5M417.2 424.5l3.7-1.8M393.5 398.9l-4.4-1.2M393.5 398.9l-.9 3.5M393.5 398.9l-2 3M393.5 398.9l3.1-2.2M393.5 398.9l-1 3.8M393.5 398.9l2.2-1.9M393.1 357.6l-2.7 2.7M393.1 357.6l2.2 3.6M393.1 357.6l-2.6 2.3M393.1 357.6l1.1-3M393.1 357.6l.4 3.4M383.8 401.5l1.6-2.3M383.8 401.5l1.4-1M383.8 401.5l2.9-1.2M383.8 401.5l-3.1 .4M383.8 401.5l-2.3 2.6M383.8 401.5l4.1-.6M394.1 423.6l-3.2-.9M394.1 423.6l2.2-3.5M394.1 423.6l.8 3M394.1 423.6l1.8 3.1M394.1 423.6l-2.4-3.7M394.1 423.6l-.6-2.6M394.1 423.6l.5-2.7M415.8 400.9l-4.7-.5M415.8 400.9l-2.5-3.7M415.8 400.9l2.3 3M415.8 400.9l-3.1 .2M415.8 400.9l3.4 1.8M415.8 400.9l-1.3-4M415.8 400.9l-3.5 .8M391.6 418.6l-2.7 2.4M391.6 418.6l-.8 4M391.6 418.6l-3.8 2M391.6 418.6l-1.9-.5M391.6 418.6l.1 1.3M391.6 418.6l1.9 2.4M391.6 418.6l2.9 2.3M391.6 418.6l1-3.3M391.6 418.6l1.3-2.8M391.6 418.6l-.7 .8M413.5 359l-2.5 2.7M413.5 359l-3.1-.3M413.5 359l2.9-.6M413.5 359l2-4.1M413.5 359l-1 1.6M413.5 359l.2 3.1M413.5 359l-3.3 .2M413.5 359l-2.1-3M414.1 369.8l-.6-2.1M414.1 369.8l-2-2.4M414.1 369.8l-3.4-1.5M414.1 369.8l-1.5-3M392.3 408.1l1.9 2.6M392.3 408.1l-2.8-3.3M392.3 408.1l-3.6-1M403.6 394.1l-.9 2M403.6 394.1l2.9 2.7M403.6 394.1l2.2-.1M403.6 394.1l.4-2.8M403.6 394.1l1.7 .4M403.6 394.1l-4.2 .1M403.6 394.1l-4.4-.2M403.6 394.1l-1.4 2.6M403.6 394.1l-2 2.7M403.6 394.1l4.2 .5M424.3 370l-.7 4.4M424.3 370l2.6-2.2M424.3 370l1.6 2.8M424.3 370l1 3.3M424.3 370l-1.3-4.3M424.3 370l3.1 0M403.4 365.7l-.7 2.1M403.4 365.7l2.8 .8M403.4 365.7l-1.6-.7M403.4 365.7l-4.5-.9M403.4 365.7l-.3-4.1M403.4 365.7l3.7-2.4M403.4 365.7l.4 4.1M403.4 365.7l-1 3.3M403.4 365.7l-3-1.1" stroke="#b07a84" stroke-width="0.55" fill="none" stroke-opacity="1"/>
<path d="M408.9 360.4l2.2 1.3M408.9 360.4l-1.7 2.2M408.9 360.4l-2.1-1.5M408.9 360.4l1.6-1.6M401.4 381.8l2 1.5M401.4 381.8l-2.1 1.8M401.4 381.8l-1-2.1M401.4 381.8l2.1-1.2M412.1 384.2l2.1 1M412.1 384.2l-1.7 2.2M412.1 384.2l-2.8-.3M412.1 384.2l1.3-1.9M421.3 375.2l1.1 2M421.3 375.2l-2 .9M421.3 375.2l-1.5-2M421.3 375.2l2.3-.8M417.3 356.3l2.3 1.1M417.3 356.3l-.9 2.1M417.3 356.3l-1.8-1.4M417.3 356.3l.6-2.2M388.7 423.3l.8 2.5M388.7 423.3l-2.3 0M388.7 423.3l.3-2.3M388.7 423.3l2.1-.6M428.9 366.8l1.8 1.8M428.9 366.8l-2 1M428.9 366.8l-.6-2.2M428.9 366.8l2.2-1.6M405.1 368.5l2.2 1.5M405.1 368.5l-1.3 2M405.1 368.5l-2.4-.7M405.1 368.5l1-1.9M403 421.3l2.2 0M403 421.3l-.8 2.7M403 421.3l-2.4-.4M403 421.3l.3-2.7M401.2 406.9l1 2.4M401.2 406.9l-2.5 .5M401.2 406.9l-1.6-2.2M401.2 406.9l1.7-1.5M386.6 397.1l2.5 .6M386.6 397.1l-1.1 2.1M386.6 397.1l-2.4-1.4M386.6 397.1l1.4-2.3M404.2 397.7l1.5 1.7M404.2 397.7l-1.7 1.6M404.2 397.7l-1.6-1.6M404.2 397.7l2.3-1M413.5 409.6l2.5-.2M413.5 409.6l.3 2.6M413.5 409.6l-2.6-.1M413.5 409.6l.1-2.4M396.9 369.1l.6 2.7M396.9 369.1l-2.6 .2M396.9 369.1l-.1-2.5M396.9 369.1l2.5-.8M406.4 391.8l2.7-.3M406.4 391.8l-.6 2.1M406.4 391.8l-2.4-.6M406.4 391.8l-.3-2.7M405.5 410.1l2 1.9M405.5 410.1l-1.6 2.1M405.5 410.1l-1.3-2.3M405.5 410.1l1.8-1.5M383.6 423.4l2.2 1.2M383.6 423.4l-.2 2.6M383.6 423.4l-2.4-1.2M383.6 423.4l.8-2.5M400.8 362.8l1 2.1M400.8 362.8l-1.9 1.9M400.8 362.8l-1.5-1.6M400.8 362.8l2.3-1.3M411.4 398.1l-.2 2.2M411.4 398.1l-2.4-.1M411.4 398.1l-1-2.2M411.4 398.1l2-1M414.7 379.8l2.2 .6M414.7 379.8l-.8 2M414.7 379.8l-2.3-.1M414.7 379.8l0-2.2M420.9 389.4l1.9 1.2M420.9 389.4l-1.3 2.4M420.9 389.4l-2-1.4M420.9 389.4l1.9-1.3M381.7 414.7l1.9 1.8M381.7 414.7l-.9 2.4M381.7 414.7l-1.8-1.8M381.7 414.7l1-2.1M387.4 418.3l.5 2.3M387.4 418.3l-2.5 .7M387.4 418.3l.2-2.6M387.4 418.3l2.4-.2M385.7 392.4l2.1 1.1M385.7 392.4l-.6 2.6M385.7 392.4l-2.2-1.6M385.7 392.4l.4-2.6" stroke="#7a3a9a" stroke-width="0.55" fill="none" stroke-opacity="1"/>
<path d="M427.6 377.2h0M385.5 399.2h0M422.4 377.3h0M418.7 379.4h0M416 409.4h0M389.4 404.8h0M410.4 396.5h0M413.9 406.7h0M425 379.1h0M387.8 393.5h0M398.7 414.1h0M423.5 383.6h0M401.9 406.8h0M407.1 363.3h0M399.2 393.9h0M419.6 357.4h0M407.1 382h0M394.1 410.7h0M422.9 390.5h0M409.3 383.3h0M400.4 379.7h0M420.9 422.7h0M393.5 361h0M399.4 368.3h0M392 372.6h0M390.8 422.6h0M395.8 397h0M402.2 396.6h0M379.9 413h0M419.2 402.7h0M383.9 422.6h0M408.5 386.6h0M380.2 422h0M425.4 354.2h0M386.7 400.3h0M416.9 380.4h0M407.8 394.5h0M408.5 410.1h0M387.9 400.9h0M425.7 404.1h0M388.6 407h0M400.7 421h0M383.6 416.5h0M414.8 389.3h0M412.4 379.6h0M423 365.7h0M389.8 418.1h0M421.2 358.7h0M404.6 409.3h0M418.6 378.8h0M414.9 410.3h0M420.1 407h0M391.1 366.9h0M424.1 393.5h0M411.1 361.7h0M411.2 400.4h0M390.5 359.9h0M401.6 396.7h0M404.2 380.8h0M381.5 404h0M397.4 371.8h0M418.9 388h0M414.2 385.2h0M422.8 388.1h0M397.7 376.9h0M402.2 424h0M393.5 421h0" stroke="#c01818" stroke-width="2.10" stroke-linecap="round"/>
<path d="M427.3 376.8h0M385.1 398.8h0M422.1 376.9h0M418.3 379.1h0M415.6 409.1h0M389.1 404.5h0M410 396.2h0M413.6 406.4h0M424.7 378.8h0M387.5 393.2h0M398.4 413.7h0M423.2 383.2h0M401.5 406.5h0M406.8 362.9h0M398.9 393.6h0M419.3 357.1h0M406.7 381.7h0M393.8 410.4h0M422.5 390.2h0M408.9 382.9h0M400 379.4h0M420.6 422.4h0M393.2 360.6h0M399 368h0M391.7 372.2h0M390.5 422.3h0M395.4 396.6h0M401.9 396.3h0M379.6 412.6h0M418.9 402.4h0M383.5 422.2h0M408.1 386.3h0M379.9 421.7h0M425 353.8h0M386.4 399.9h0M416.5 380h0M407.4 394.2h0M408.1 409.8h0M387.6 400.6h0M425.4 403.7h0M388.3 406.7h0M400.3 420.6h0M383.3 416.2h0M414.5 388.9h0M412.1 379.3h0M422.7 365.4h0M389.4 417.7h0M420.9 358.4h0M404.3 409h0M418.2 378.4h0M414.6 410h0M419.8 406.7h0M390.8 366.6h0M423.7 393.2h0M410.7 361.4h0M410.8 400h0M390.1 359.6h0M401.2 396.4h0M403.8 380.5h0M381.2 403.7h0M397.1 371.5h0M418.6 387.7h0M413.9 384.9h0M422.5 387.7h0M397.4 376.6h0M401.9 423.7h0M393.2 420.6h0" stroke="#f07070" stroke-width="0.84" stroke-linecap="round" stroke-opacity="0.8"/>
<path d="M400.8 362.8h0M404.2 397.7h0M408.9 360.4h0M401.4 381.8h0M403 421.3h0M396.9 369.1h0M385.7 392.4h0M421.3 375.2h0" stroke="#1e1eb0" stroke-width="2.90" stroke-linecap="round"/>
<path d="M400.4 362.4h0M403.8 397.2h0M408.4 360h0M400.9 381.4h0M402.6 420.9h0M396.4 368.6h0M385.2 391.9h0M420.8 374.8h0" stroke="#8080ff" stroke-width="1.16" stroke-linecap="round" stroke-opacity="0.8"/>
<use href="#gL230" x="393.1" y="357.6"/>
<use href="#gL230" x="417.2" y="424.5"/>
<use href="#gT210" x="415.0" y="415.4"/>
<use href="#gL230" x="391.6" y="375.7"/>
<use href="#gL230" x="413.5" y="359.0"/>
<use href="#gL230" x="391.6" y="418.6"/>
<path d="M409.3 383.9h0M395.6 376h0M380.7 401.8h0M399.6 404.7h0M407.3 369.9h0M384.2 395.7h0M394.9 376.1h0M389 421h0M424.4 379.9h0M389.5 425.7h0M399.8 379.3h0M422.5 361h0M403.2 361.5h0M389.1 397.7h0M408.7 418.2h0M401.6 418.2h0M406.5 396.7h0M403.3 418.6h0M416.8 394.8h0M416.5 358.4h0M378.5 414.7h0M409.1 375.2h0M411.4 356.1h0M416.6 394.5h0M400.4 364.6h0M402.2 409.3h0M382.7 412.6h0M425.1 356.8h0M394.2 369.3h0M402.5 399.3h0M428.4 364.6h0M422 415h0M415.9 427.8h0M389.7 390.8h0M387.8 420.5h0M405.4 357.8h0M392.6 402.7h0M396.6 396.7h0M399.4 381.8h0M386.2 406.8h0M410.4 396h0M396.1 391h0M413.3 397.1h0M398.9 364.8h0M386.4 423.3h0M399.3 361.2h0M414.5 396.9h0M401.8 365h0M417.1 418.5h0M409.7 394.3h0M413.4 411.4h0M385.8 424.6h0M384.4 420.9h0M385.8 381.6h0M398.7 374.5h0M387.9 412.7h0M392.6 415.3h0M396.3 420.1h0" stroke="#c01818" stroke-width="2.10" stroke-linecap="round"/>
<path d="M408.9 383.6h0M395.3 375.6h0M380.4 401.5h0M399.3 404.4h0M407 369.6h0M383.9 395.4h0M394.6 375.8h0M388.6 420.6h0M424.1 379.6h0M389.2 425.4h0M399.4 379h0M422.2 360.7h0M402.8 361.2h0M388.7 397.4h0M408.4 417.9h0M401.2 417.8h0M406.1 396.4h0M403 418.3h0M416.5 394.4h0M416.1 358.1h0M378.2 414.4h0M408.8 374.8h0M411.1 355.7h0M416.3 394.2h0M400.1 364.2h0M401.9 409h0M382.4 412.3h0M424.7 356.5h0M393.9 369h0M402.2 399h0M428 364.2h0M421.7 414.7h0M415.6 427.4h0M389.3 390.5h0M387.5 420.2h0M405.1 357.4h0M392.2 402.3h0M396.3 396.4h0M399.1 381.5h0M385.8 406.5h0M410 395.6h0M395.8 390.6h0M413 396.8h0M398.6 364.4h0M386 423h0M399 360.9h0M414.2 396.5h0M401.5 364.6h0M416.7 418.2h0M409.4 394h0M413 411.1h0M385.4 424.3h0M384.1 420.6h0M385.4 381.3h0M398.4 374.1h0M387.6 412.3h0M392.3 414.9h0M396 419.7h0" stroke="#f07070" stroke-width="0.84" stroke-linecap="round" stroke-opacity="0.8"/>
<path d="M405.1 368.5h0M417.3 356.3h0M411.4 398.1h0M381.7 414.7h0" stroke="#1e1eb0" stroke-width="2.90" stroke-linecap="round"/>
<path d="M404.7 368h0M416.9 355.9h0M410.9 397.7h0M381.3 414.2h0" stroke="#8080ff" stroke-width="1.16" stroke-linecap="round" stroke-opacity="0.8"/>
<use href="#gT210" x="407.7" y="397.8"/>
<use href="#gL230" x="379.5" y="417.7"/>
<use href="#gL230" x="414.1" y="369.8"/>
<use href="#gT210" x="383.8" y="401.5"/>
<use href="#gL230" x="403.4" y="365.7"/>
<use href="#gT210" x="398.6" y="418.3"/>
<use href="#gT210" x="410.1" y="379.0"/>
<use href="#gT210" x="428.4" y="356.6"/>
<use href="#gT210" x="391.6" y="363.0"/>
<use href="#gL230" x="403.6" y="394.1"/>
<use href="#gL230" x="409.3" y="422.2"/>
<use href="#gL230" x="404.3" y="357.3"/>
<use href="#gL230" x="425.1" y="364.3"/>
<use href="#gL230" x="410.5" y="364.5"/>
<use href="#gT210" x="401.2" y="376.2"/>
<use href="#gL230" x="400.4" y="411.0"/>
<use href="#gL230" x="416.8" y="407.4"/>
<use href="#gL230" x="396.7" y="379.3"/>
<use href="#gL230" x="424.3" y="370.0"/>
<path d="M409 398h0M410.5 358.8h0M427 353.5h0M408.8 392.8h0M391.7 419.9h0M431.1 365.2h0M397.5 387h0M418.9 407.1h0M393.1 366.7h0M417.9 354.1h0M426.1 404h0M405.8 393.9h0M388 394.8h0M393 415.8h0M413.6 407.2h0M415.5 354.9h0M387.5 415.7h0M407.2 362.6h0M418.2 403.9h0M390.8 385.3h0M408 358.9h0M411.9 413.2h0M395.1 382.3h0M405.3 421.4h0M401.1 355.5h0M413.8 412.2h0M405.3 394.5h0M413.5 367.7h0M406.4 423h0M424.8 359.9h0M423.6 374.4h0M417.6 379.1h0M407.7 386.7h0M394.9 426.6h0M413.9 381.8h0M402.7 367.8h0M400.9 376.5h0M375.6 419.5h0M397.3 410.4h0M399.1 373.9h0M410.6 368.4h0M407 359h0M426.9 367.7h0M407.3 360.9h0M425.6 355.2h0M412.4 401.7h0M410.4 386.4h0M405.7 400.5h0M410.2 403.4h0M418.5 428.1h0M396.3 390.9h0M412.1 367.4h0M380.9 417.1h0M390.4 360.3h0M422.6 390.2h0M419.8 373.2h0M403.8 370.5h0M391 419.4h0M406.8 424.5h0M413.8 407.8h0M430.8 368.6h0M419.3 376.1h0" stroke="#c01818" stroke-width="2.10" stroke-linecap="round"/>
<path d="M408.7 397.7h0M410.1 358.4h0M426.7 353.2h0M408.5 392.5h0M391.4 419.6h0M430.8 364.9h0M397.1 386.7h0M418.6 406.8h0M392.8 366.4h0M417.6 353.7h0M425.8 403.6h0M405.5 393.6h0M387.6 394.5h0M392.7 415.5h0M413.3 406.8h0M415.2 354.6h0M387.2 415.4h0M406.9 362.2h0M417.8 403.6h0M390.4 384.9h0M407.7 358.6h0M411.6 412.9h0M394.7 382h0M404.9 421h0M400.8 355.1h0M413.4 411.8h0M404.9 394.1h0M413.1 367.4h0M406.1 422.7h0M424.4 359.6h0M423.2 374.1h0M417.3 378.7h0M407.4 386.4h0M394.5 426.2h0M413.5 381.5h0M402.4 367.4h0M400.5 376.2h0M375.3 419.2h0M396.9 410h0M398.8 373.5h0M410.3 368h0M406.7 358.6h0M426.6 367.4h0M407 360.5h0M425.3 354.9h0M412 401.3h0M410 386h0M405.3 400.1h0M409.9 403.1h0M418.2 427.7h0M396 390.5h0M411.7 367h0M380.5 416.7h0M390.1 360h0M422.3 389.8h0M419.5 372.9h0M403.5 370.2h0M390.6 419h0M406.5 424.2h0M413.5 407.4h0M430.5 368.2h0M418.9 375.8h0" stroke="#f07070" stroke-width="0.84" stroke-linecap="round" stroke-opacity="0.8"/>
<path d="M406.4 391.8h0M386.6 397.1h0M414.7 379.8h0M388.7 423.3h0M401.2 406.9h0M420.9 389.4h0M413.5 409.6h0M412.1 384.2h0M383.6 423.4h0" stroke="#1e1eb0" stroke-width="2.90" stroke-linecap="round"/>
<path d="M406 391.3h0M386.1 396.7h0M414.2 379.3h0M388.3 422.8h0M400.7 406.5h0M420.5 388.9h0M413 409.1h0M411.6 383.7h0M383.1 422.9h0" stroke="#8080ff" stroke-width="1.16" stroke-linecap="round" stroke-opacity="0.8"/>
<use href="#gT210" x="424.9" y="376.0"/>
<use href="#gL230" x="406.1" y="384.0"/>
<use href="#gL230" x="415.8" y="400.9"/>
<use href="#gT210" x="420.9" y="385.4"/>
<use href="#gL230" x="393.5" y="398.9"/>
<use href="#gL230" x="411.4" y="389.2"/>
<use href="#gL230" x="387.9" y="384.7"/>
<use href="#gL230" x="406.5" y="405.6"/>
<use href="#gL230" x="388.5" y="402.7"/>
<use href="#gT210" x="416.3" y="376.4"/>
<path d="M405.5 410.1h0M387.4 418.3h0M428.9 366.8h0" stroke="#1e1eb0" stroke-width="2.90" stroke-linecap="round"/>
<path d="M405 409.6h0M386.9 417.8h0M428.5 366.3h0" stroke="#8080ff" stroke-width="1.16" stroke-linecap="round" stroke-opacity="0.8"/>
<path d="M407.5 412h0M396.8 366.6h0M404 391.2h0M410.2 359.2h0M399.5 415.3h0M406.1 380.9h0M414.8 412h0M402.5 368.9h0M411.8 416h0M402.9 405.5h0M406.1 389h0M407.2 402.2h0M407.3 408.6h0M426.8 361.7h0M414.7 377.6h0M404.1 407.8h0M386.1 389.8h0M427.7 361.3h0M394 378.6h0M385.2 400.5h0M403.4 383.4h0M406.8 359h0M425.9 372.8h0M416 414.4h0M403.5 410.9h0M394.5 420.9h0M395.3 361.1h0M397.8 373.6h0M392.7 375h0M413.4 382.3h0M409.1 391.5h0M384.9 419h0M383.5 390.8h0M412.6 360.7h0M399.4 394.2h0M412.6 366.8h0M398.7 407.4h0M406.2 366.5h0M402.7 396.1h0M419.2 381.9h0M385 395h0M428.4 363.3h0M391.6 386.2h0M410.9 409.5h0M385.8 406.8h0M405.7 399.4h0M403.5 380.6h0M394.1 354.6h0M381.2 422.2h0M399.3 383.7h0M383.4 426h0M398.6 370.5h0M420.5 354.2h0M412.7 401.1h0M391.5 401.9h0M420.8 388.7h0M403.9 369.8h0M392.7 402.4h0M419.6 391.7h0M419.1 416.7h0M398.1 388h0M413.8 362.1h0M395.9 426.7h0M403.9 412.2h0M427.5 370h0M425.3 373.3h0M396.1 363.5h0" stroke="#c01818" stroke-width="2.10" stroke-linecap="round"/>
<path d="M407.1 411.6h0M396.4 366.2h0M403.7 390.9h0M409.9 358.9h0M399.2 414.9h0M405.7 380.6h0M414.5 411.7h0M402.1 368.6h0M411.5 415.7h0M402.6 405.1h0M405.8 388.7h0M406.9 401.8h0M407 408.3h0M426.5 361.4h0M414.4 377.2h0M403.8 407.5h0M385.7 389.4h0M427.4 361h0M393.7 378.3h0M384.9 400.1h0M403.1 383h0M406.4 358.6h0M425.6 372.5h0M415.7 414.1h0M403.2 410.6h0M394.2 420.6h0M394.9 360.8h0M397.5 373.2h0M392.3 374.7h0M413.1 382h0M408.8 391.2h0M384.6 418.7h0M383.1 390.5h0M412.2 360.3h0M399.1 393.8h0M412.2 366.5h0M398.3 407.1h0M405.8 366.2h0M402.3 395.8h0M418.8 381.6h0M384.7 394.6h0M428.1 363h0M391.3 385.9h0M410.6 409.2h0M385.4 406.5h0M405.4 399.1h0M403.2 380.3h0M393.8 354.3h0M380.9 421.8h0M399 383.3h0M383.1 425.7h0M398.3 370.2h0M420.2 353.9h0M412.4 400.8h0M391.1 401.6h0M420.5 388.4h0M403.5 369.4h0M392.3 402.1h0M419.3 391.4h0M418.8 416.4h0M397.8 387.7h0M413.4 361.8h0M395.5 426.4h0M403.6 411.8h0M427.1 369.7h0M425 373h0M395.8 363.2h0" stroke="#f07070" stroke-width="0.84" stroke-linecap="round" stroke-opacity="0.8"/>
<use href="#gL230" x="395.9" y="394.8"/>
<use href="#gL230" x="394.0" y="389.7"/>
<use href="#gL230" x="422.7" y="357.7"/>
<use href="#gT210" x="394.1" y="423.6"/>
<use href="#gL230" x="396.0" y="372.9"/>
<use href="#gL230" x="392.3" y="408.1"/>
<use href="#gL230" x="418.6" y="412.4"/>
<use href="#gL230" x="408.9" y="413.9"/>
<use href="#gL230" x="420.2" y="394.5"/>
<use href="#gT210" x="385.4" y="410.2"/>
<use href="#gL230" x="421.9" y="405.0"/>
<path d="M492.2 371l-4.4-2.7M492.2 371l-2.4-3.8M492.2 371l4 1.6M492.2 371l-1.2 4M492.2 371l4.9 .7M492.2 371l-1.9 4M492.2 371l1.5 .6M462.5 403.1l5.2-.2M462.5 403.1l1.6 4.1M462.5 403.1l.2-4.6M462.5 403.1l.2-4.6M462.5 403.1l4.4-.9M462.5 403.1l2.3 3M462.5 403.1l-3.4-3.4M462.5 403.1l0-4.2M462.5 403.1l4.6-2.8M462.5 403.1l-1.9 1.4M462.5 403.1l-.3 4.5M462.5 403.1l-1.3 2.4M462.5 403.1l-.2 2.9M462.5 403.1l-.8 .3M462.5 403.1l3.1 .1M462.5 403.1l2.4 3.5M450.3 415.1l4.3-1.5M450.3 415.1l-3.4-3.4M450.3 415.1l-.1-4.2M450.3 415.1l.4 4.5M450.3 415.1l-2.5 3.7M450.3 415.1l-3.7-3.5M450.3 415.1l-2.8-3.1M450.3 415.1l4.3 1.7M450.3 415.1l4-1.4M450.3 415.1l5-1.8M450.3 415.1l.3 5M450.3 415.1l-3.8-3M446.7 399.3l-4 3.3M446.7 399.3l4.4-1.7M446.7 399.3l3.5-2.9M446.7 399.3l-2.8 3.1M446.7 399.3l-2.4 3.8M446.7 399.3l2.7-2.2M446.7 399.3l4.7 .5M446.7 399.3l.1-.7M446.7 399.3l2.6-4.5M466.9 377.3l-3.1 1.4M466.9 377.3l3.5 1.4M466.9 377.3l3.9-.4M466.9 377.3l1.5 4.5M466.9 377.3l-4.8 .5M466.9 377.3l3.6 .5M466.9 377.3l-.1-3.7M466.9 377.3l-.5-2.7M466.9 377.3l4.4-.4M484 397.5l1.2-.1M484 397.5l.7-3.7M484 397.5l-4.2-.2M484 397.5l-3.2 3.7M484 397.5l.8 4.3M484 397.5l1.3-4.6M484 397.5l-3.8 .4M484 397.5l2.2 3.2M484 397.5l2.7 1.5M484 397.5l3.6-2.1M484 397.5l-1.7 3.7M484 397.5l2.4 3M484 397.5l-3.1-1.6M484 397.5l3.7-.8M484 397.5l-2.4-3.4M468.3 386.8l-4.4 2.3M468.3 386.8l-2.7-.6M468.3 386.8l0 3M468.3 386.8l.1-5M468.3 386.8l-4.4 2.7M468.3 386.8l1 4.6M468.3 386.8l-0-4.3M468.3 386.8l1-3.7M468.3 386.8l3.7-.5M468.3 386.8l2.2 2.2M468.3 386.8l1.2-1.1M468.3 386.8l4.6 2.2M468.3 386.8l.1-2.4M468.3 386.8l-1.6 4M468.3 386.8l3-1M477.7 373.1l1.5 3.2M477.7 373.1l-2.3 2.9M477.7 373.1l.3 3.7M477.7 373.1l-3.9-1M477.7 373.1l4.4-.4M477.7 373.1l4 3M477.7 373.1l1.5 4.3M477.7 373.1l-2.8-.7M477.7 373.1l-2 1.3M477.7 373.1l-.8-3.9M477.7 373.1l-.5-1.8M477.7 373.1l4.4-.1M477.7 373.1l2.4 3.3M477.7 373.1l-.5-4.8M477.7 373.1l-1.4 .7M451.3 393.5l.8 4.2M451.3 393.5l3.3 1.1M451.3 393.5l-.2 4.1M451.3 393.5l-1 2.9M451.3 393.5l4.4 1.1M451.3 393.5l-1.8 3.6M451.3 393.5l-3.7-.3M451.3 393.5l-4.5 .3M451.3 393.5l-3.1-3.7M451.3 393.5l3.2 1.6M451.3 393.5l1.6-4.7M451.3 393.5l4.8 2M451.3 393.5l-1-2.4M451.3 393.5l-1.9 1.2M451.3 393.5l3.6 4M456.7 383.4l4 3M456.7 383.4l4.6 1.5M456.7 383.4l-3.5 2.6M456.7 383.4l4 1.3M456.7 383.4l-1.8 4.5M456.7 383.4l-3.7-3.3M456.7 383.4l-1 2.7M456.7 383.4l-2.6-1.8M484.2 361.6l-1.8 4.8M484.2 361.6l-3.3 1.2M484.2 361.6l.4 4.8M484.2 361.6l-.6 3.9M484.2 361.6l-3.5 1.1M484.2 361.6l3.2 2.7M484.2 361.6l4.9-.4M484.2 361.6l.6 3.6M484.2 361.6l-1.8 3.1M484.2 361.6l-.4 3.6M484.2 361.6l-4.4-.2M498.2 372.1l-2.1 .6M498.2 372.1l-1.1-.3M498.2 372.1l2.4 2.9M498.2 372.1l3.8-1.5M498.2 372.1l-.3 5M498.2 372.1l-4.5-.4M498.2 372.1l3.5 1M498.2 372.1l4.5-1.1M498.2 372.1l3.1-.8M498.2 372.1l2.5 1.8M498.2 372.1l-1.9 4.6M498.2 372.1l0-.9M498.2 372.1l5.3 .1M498.2 372.1l3.6-1.4M491.1 397.6l-2 5M491.1 397.6l-1.8-1.5M491.1 397.6l.3 4.1M491.1 397.6l-4.4 1.3M491.1 397.6l-3.5-2.2M491.1 397.6l3.9 .1M491.1 397.6l4-.4M491.1 397.6l-3.4-.9M491.1 397.6l.3 2.5M478.5 391.3l-2.8 2.1M478.5 391.3l-2.1-.7M478.5 391.3l1.2-4M478.5 391.3l-3.2-2M478.5 391.3l.1-4.2M478.5 391.3l1.5-4.7M478.5 391.3l-.3 4.7M478.5 391.3l-.1-4.4M478.5 391.3l-1.4-3.7M478.5 391.3l-.4-5.4M478.5 391.3l2.9-.7M478.5 391.3l2.4-.5M478.5 391.3l-.2-1.2M478.5 391.3l-1.6 .4M478.5 391.3l2.4 4.6M478.5 391.3l4.2 0M478.5 391.3l-2.8-1.5M478.5 391.3l3.1 2.7M476.7 404.4l3-3M476.7 404.4l.2-2.9M476.7 404.4l4.2-3.3M476.7 404.4l4.3-.3M476.7 404.4l4.1 1.9M476.7 404.4l-1 3.9M476.7 404.4l3.8-0M476.7 404.4l.5 4.2M476.7 404.4l1.1 3M476.7 404.4l3 1.3M476.7 404.4l-3.6 2.9M476.7 404.4l-.8-1.7M476.7 404.4l.9-.6M476.7 404.4l2.4 4M505.9 369.1l-3.9 1.4M505.9 369.1l.4 3.9M505.9 369.1l-.8 4.3M505.9 369.1l-1.7-4.9M505.9 369.1l-3.2 1.9M505.9 369.1l3.3-3.3M505.9 369.1l-4.6 2.1M505.9 369.1l1.4 1.6M505.9 369.1l1.8-1.9M505.9 369.1l2.8-1.1M505.9 369.1l-2.3 3.1M505.9 369.1l-4.1 1.6M473.8 385.9l-.3 3M473.8 385.9l-4.5-2.8M473.8 385.9l-1.9 .4M473.8 385.9l1.5 3.4M473.8 385.9l4.8 1.2M473.8 385.9l4.8-1.2M473.8 385.9l4.5 1.1M473.8 385.9l-3.3 3.1M473.8 385.9l3.2 1.7M473.8 385.9l-4.4-.1M473.8 385.9l1.3-2.8M473.8 385.9l4.3 .1M473.8 385.9l-1 3.1M473.8 385.9l1.9 4M473.8 385.9l-2.5-0M473.8 385.9l.6 1.9M481.7 409.7l-1.4 4.9M481.7 409.7l-3.9 .6M481.7 409.7l-.8 .7M481.7 409.7l-1-3.4M481.7 409.7l-4.5-1M481.7 409.7l3.5-2M481.7 409.7l-3.9-2.2M481.7 409.7l-4.4 1.4M481.7 409.7l-2-4M481.7 409.7l-2.3 3M481.7 409.7l1.3 2.5M481.7 409.7l-2.6-1.3M483.3 376.2l-2.2 4.6M483.3 376.2l-4.1 0M483.3 376.2l-.9 1.4M483.3 376.2l-5.4 .5M483.3 376.2l-1.2-3.5M483.3 376.2l-1.6-.1M483.3 376.2l4.2 1.5M483.3 376.2l-4.1 1.1M483.3 376.2l.4-4.1M483.3 376.2l-1.9 3.9M483.3 376.2l3.8-1.9M483.3 376.2l.1 3.1M483.3 376.2l-1.3-3.3M483.3 376.2l-3.2 .1M483.3 376.2l1.5 3.1M483.3 376.2l2.4-2.7M483.3 376.2l4.3 2.6M462.5 367.7l2.1-3.8M462.5 367.7l2.8 3.7M462.5 367.7l3.9-2.7M462.5 367.7l-4-2.8M462.5 367.7l-4.1-2.5M462.5 367.7l3.8 2.5M462.5 367.7l-1.9 3.8M497.1 361.5l.1 4.2M497.1 361.5l-3.7 2.3M497.1 361.5l3.6 2.2M497.1 361.5l3.8 2.5M497.1 361.5l1.8 3.3M497.1 361.5l3.4-3.6M497.1 361.5l2.2-2.6M497.1 361.5l1.6-1.2M497.1 361.5l2.1 1.4M497.1 361.5l-.4 4.5M443.3 414.4l3.7-2.7M443.3 414.4l3.3-2.8M443.3 414.4l1.6 3.8M443.3 414.4l4.2-2.4M443.3 414.4l-.2-3.9M443.3 414.4l-1 3.9M443.3 414.4l3.2-2.3M443.3 414.4l.7-4.6M479.6 382.1l1.4-1.2M479.6 382.1l-2.4-2.9M479.6 382.1l2.8-4.4M479.6 382.1l1 3.6M479.6 382.1l2.5-.2M479.6 382.1l5.1 .6M479.6 382.1l.1 5.2M479.6 382.1l-1 5M479.6 382.1l.4 4.4M479.6 382.1l-1 2.6M479.6 382.1l-1.3 4.8M479.6 382.1l-.4-4.7M479.6 382.1l1.7-2M479.6 382.1l-4.5 1M479.6 382.1l-4.6-1.5M479.6 382.1l-1.5 3.8M479.6 382.1l3.8-2.7M479.6 382.1l-3.1-2.6M479.6 382.1l1.6 4M479.6 382.1l-.2 3.4M458.4 415.3l3.1-4M458.4 415.3l-3.8-1.7M458.4 415.3l-3.8 1.5M458.4 415.3l2.7-2.7M458.4 415.3l-4.1-1.6M458.4 415.3l-3-2M458.4 415.3l-2.7-4.3M458.4 415.3l-2.2 4.2M458.4 415.3l1.8-0M446.8 408.8l.2 3M446.8 408.8l3.4 2.2M446.8 408.8l-.2 2.8M446.8 408.8l.7 3.2M446.8 408.8l-3.7 1.7M446.8 408.8l-0-3.7M446.8 408.8l-2.3-3.4M446.8 408.8l-3.2-3M446.8 408.8l3.4-1.7M446.8 408.8l4-1.7M446.8 408.8l-.3 3.4M446.8 408.8l-2.8 1.1M446.8 408.8l-.4-3.5M459.1 395.8l-4.5-1.2M459.1 395.8l-1.9 1.1M459.1 395.8l3.6 2.7M459.1 395.8l3.6 2.7M459.1 395.8l-3.4-1.2M459.1 395.8l4.6-1M459.1 395.8l3.8-.6M459.1 395.8l0 3.9M459.1 395.8l-4.6-.7M459.1 395.8l3.4 3.1M459.1 395.8l-1.5 3.9M459.1 395.8l.6-3.8M459.1 395.8l-1.6-2.3M459.1 395.8l-1.5 1.2M459.1 395.8l-3-.2M459.1 395.8l-4.1 1.7M504.3 374.9l-3.7 0M504.3 374.9l-2.3-4.4M504.3 374.9l-2.6-1.8M504.3 374.9l2-1.9M504.3 374.9l.7-1.5M504.3 374.9l-1.6-3.9M504.3 374.9l-3-3.7M504.3 374.9l2.4 3.2M504.3 374.9l-3.6-1.1M504.3 374.9l1.8 3.3M504.3 374.9l2.9-4.2M504.3 374.9l2.1 .1M504.3 374.9l-.8-2.7M504.3 374.9l-2.5-4.3M468.9 404.9l2.4-3.5M468.9 404.9l-1.2-2M468.9 404.9l-4.8 2.2M468.9 404.9l-1.9-2.7M468.9 404.9l-4.1 1.1M468.9 404.9l-1.8-4.6M468.9 404.9l1.4-3.8M468.9 404.9l1.4-4.2M468.9 404.9l1.9-4.2M468.9 404.9l4.2 2.4M468.9 404.9l2.4 2.6M468.9 404.9l-3.3-1.7M468.9 404.9l.3 4.2M468.9 404.9l-4 1.7M510.6 363.8l-1.5 2.1M510.6 363.8l3-4M510.6 363.8l3.7 2.9M510.6 363.8l-3.8-.1M510.6 363.8l1.2-4.5M510.6 363.8l-3 3.5M510.6 363.8l-1.9 4.3M510.6 363.8l-3.8-1.8M470.3 414.8l-3.8-.3M470.3 414.8l-4.9-.7M470.3 414.8l-4-1.9M470.3 414.8l3.8 1.4M470.3 414.8l.2 4.5M470.3 414.8l-1.3 5.1M472.8 359.8l.2 4.8M472.8 359.8l.9 .9M472.8 359.8l4.6 2.5M472.8 359.8l-5.1 1.3M472.8 359.8l.6 4.5M472.8 359.8l3.3 2.6M472.8 359.8l-3.5 2M472.8 359.8l4.6-1.5M472.8 359.8l3.6 0M472.8 359.8l-3.9 2.4M472.8 359.8l2.8-.1M472.8 359.8l-1 2.3M472.8 359.8l2.8 3.5M471.4 373.8l-1 4.8M471.4 373.8l-.6 3.1M471.4 373.8l-.9 4M471.4 373.8l4 2.1M471.4 373.8l2.3-1.8M471.4 373.8l-4.6-.2M471.4 373.8l-.8-4.2M471.4 373.8l3.4-1.5M471.4 373.8l4.2 .6M471.4 373.8l1.4 4.9M471.4 373.8l-1.4-3.9M471.4 373.8l-2.3-2.8M471.4 373.8l1 4.9M471.4 373.8l-4.9 .7M471.4 373.8l4.9-0M471.4 373.8l-.1 3M471.4 373.8l-1.9-2.1M496 381.7l1.9-4.6M496 381.7l.3-5M496 381.7l3.6 .2M496 381.7l.8 3.7M496 381.7l-2.7 2.5M496 381.7l-3.2-3.2M496 381.7l1.8-2.7M496 381.7l-1.4 .8M468.5 366.1l4.4-1.5M468.5 366.1l-.8-5M468.5 366.1l-3.9-2.2M468.5 366.1l-2.1-1M468.5 366.1l-2.2 4.2M468.5 366.1l4.9-1.8M468.5 366.1l.8-4.3M468.5 366.1l2.1 3.5M468.5 366.1l1.5 3.8M468.5 366.1l4.5 2M468.5 366.1l.6 4.9M468.5 366.1l-3.2-3M468.5 366.1l.4-3.9M468.5 366.1l3.3-4M481.8 369.1l.6-2.7M481.8 369.1l-3.3-2M481.8 369.1l4.3 2.4M481.8 369.1l1.1 .4M481.8 369.1l2.8-2.8M481.8 369.1l.3 3.6M481.8 369.1l1.8-3.7M481.8 369.1l3.1-4M481.8 369.1l1.9 3M481.8 369.1l.6-4.4M481.8 369.1l-4.9-0M481.8 369.1l2.1-3.9M481.8 369.1l-4.6 2.2M481.8 369.1l.3 3.8M481.8 369.1l-3.5-3.1M481.8 369.1l-4.6-.9M481.8 369.1l3.4 1.6M481.8 369.1l-2-2M481.8 369.1l.8-1.1M485.1 388.6l-.4 5.2M485.1 388.6l3 4.2M485.1 388.6l-1-1.9M485.1 388.6l-4.5-2.9M485.1 388.6l.2 4.3M485.1 388.6l-3.7 1.9M485.1 388.6l-3.9-2.5M485.1 388.6l2.5-3M485.1 388.6l-4.2 2.2M485.1 388.6l3.8 3.2M485.1 388.6l2.5 2.2M485.1 388.6l-2.4 2.7M454.7 402.2l.2-2.6M454.7 402.2l-2.6-4.5M454.7 402.2l4.4-2.4M454.7 402.2l-1.5 4.6M454.7 402.2l-2 4.8M454.7 402.2l-3.5 3.3M454.7 402.2l2.8-2.5M454.7 402.2l-3.3-2.4M454.7 402.2l.3-4.7M456.6 389.9l4-3.5M456.6 389.9l-2 4.7M456.6 389.9l-1 4.7M456.6 389.9l-3.4-3.9M456.6 389.9l-1.8-2M456.6 389.9l-4.4-2.1M456.6 389.9l3 2.1M456.6 389.9l-3.7-1.1M456.6 389.9l-.9-3.8M456.6 389.9l.8 3.6M456.6 389.9l4.6-2.3M503 362.4l1.1 1.9M503 362.4l-2.3 1.3M503 362.4l-2.1 1.6M503 362.4l-4.1 2.4M503 362.4l3.8 1.2M503 362.4l-2.5-4.5M503 362.4l1.1-4.2M503 362.4l-3.7-3.5M503 362.4l-4.3-2.1M503 362.4l-3.8 .5M503 362.4l3.8-.4M457.7 407.9l3.9 3.3M457.7 407.9l5.2 .6M457.7 407.9l-1.9 3.1M457.7 407.9l-4.5-1.2M457.7 407.9l-5-1M457.7 407.9l2.9-3.4M457.7 407.9l4.5-.3M457.7 407.9l-3.6 2.1M457.7 407.9l-3.8 2.3M457.7 407.9l3.5-2.4M457.7 407.9l4.6-1.9" stroke="#b07a84" stroke-width="0.55" fill="none" stroke-opacity="1"/>
<path d="M474.9 363.1l.9 2.1M474.9 363.1l-1.9 1.5M474.9 363.1l-1.2-2.3M474.9 363.1l2.5-.7M463.3 386.8l.6 2.3M463.3 386.8l-2.6-.5M463.3 386.8l-.4-2.2M463.3 386.8l2.4-.6M488.8 405l2.7 .3M488.8 405l.2 2.4M488.8 405l-2.4 .2M488.8 405l.2-2.4M465 361.6l2.7-.5M465 361.6l-.4 2.2M465 361.6l-2.7-.1M465 361.6l0-2.6M454.6 397.2l.2 2.5M454.6 397.2l-2.6 .6M454.6 397.2l-0-2.5M454.6 397.2l2.6-.3M479.3 412.1l1 2.5M479.3 412.1l-1.5 1.8M479.3 412.1l-1.5-1.8M479.3 412.1l1.6-1.7M479.8 378.5l1.3 2.4M479.8 378.5l-2.5 .7M479.8 378.5l-.6-2.3M479.8 378.5l2.6-.8M463.8 410.8l.7 2.4M463.8 410.8l-2.2 .5M463.8 410.8l-.9-2.2M463.8 410.8l2.5-1.1M468.1 392.2l2.5 .3M468.1 392.2l-.4 2.7M468.1 392.2l-2.1-.5M468.1 392.2l.3-2.4M486.7 395.2l2.6 .9M486.7 395.2l-1.5 2.2M486.7 395.2l-2-1.4M486.7 395.2l1.4-2.4M498.5 388.3l2.3 .6M498.5 388.3l-.3 2.2M498.5 388.3l-2.1-1.2M498.5 388.3l.9-2.5M461.5 378.4l.4 2.5M461.5 378.4l-2.5-.2M461.5 378.4l-.7-2.3M461.5 378.4l2.4 .3M482.9 384.3l1.2 2.4M482.9 384.3l-2.3 1.4M482.9 384.3l-.8-2.4M482.9 384.3l1.8-1.6M474.2 391.2l1.5 2.3M474.2 391.2l-2 1.2M474.2 391.2l-.6-2.3M474.2 391.2l2.3-.6M468.9 400.4l2.4 1M468.9 400.4l-1.2 2.5M468.9 400.4l-1.8-1.4M468.9 400.4l1.6-2.3M480.1 365.4l2.3 1M480.1 365.4l-1.6 1.7M480.1 365.4l-2.6-.9M480.1 365.4l.9-2.6M478.4 399.4l1.3 2M478.4 399.4l-1.6 2.1M478.4 399.4l-1.6-2.1M478.4 399.4l1.4-2.1M485.4 368.9l.7 2.7M485.4 368.9l-2.5 .7M485.4 368.9l-.7-2.5M485.4 368.9l2.4-.5" stroke="#7a3a9a" stroke-width="0.55" fill="none" stroke-opacity="1"/>
<path d="M461.5 411.3h0M487.7 396.7h0M485.2 397.4h0M458.4 365.2h0M480.7 406.3h0M461.3 384.9h0M492.8 378.4h0M461.2 387.6h0M483.7 372.1h0M479.1 408.4h0M470.8 376.9h0M497.1 371.8h0M476.3 373.8h0M473.7 360.7h0M477.3 379.2h0M490.3 385h0M484.8 365.1h0M479.2 377.4h0M482.4 377.7h0M504.1 358.2h0M454.1 410.1h0M507.2 370.7h0M475.4 375.9h0M485.3 392.9h0M491.4 401.7h0M486.4 400.5h0M493.2 384.2h0M462.8 395.2h0M476.8 401.5h0M500.7 373.8h0M462.1 407.6h0M457.5 393.6h0M487.6 395.4h0M465.9 391.7h0M467.7 394.9h0M444.3 403h0M467.8 397.7h0M460.7 386.4h0M472.9 421h0M449.5 397.1h0M482.1 381.9h0M457.5 399.7h0M450.7 419.5h0M452.2 387.8h0M487.6 385.6h0M444 409.8h0M499.2 362.9h0M507.6 367.3h0M472.8 378.7h0M481.4 380.1h0M452.9 388.8h0M444.5 405.3h0M475.6 359.7h0M475.7 374.4h0M483 412.2h0M500.5 357.9h0M446.4 405.2h0M470.5 377.8h0M506.8 363.7h0M463.6 394.8h0M456.1 395.6h0M473.6 388.9h0M498.9 364.8h0M474.1 416.3h0M460.6 384.7h0M442.8 402.5h0M478.3 396h0M465.3 363.1h0M464.1 407.2h0M484.7 393.8h0M471.8 362.1h0M451.1 397.6h0M498.2 371.2h0M462.2 390.2h0M506.4 375h0M450.6 420.1h0M480.6 385.7h0M506.7 378.2h0M494.5 382.5h0M498.3 390.6h0M454.1 381.6h0M461.6 403.4h0M454.9 397.5h0M496.4 387.2h0M500.8 388.9h0M480.9 390.8h0M461.1 412.6h0M476.5 379.5h0M469.3 391.4h0M462.7 398.5h0M474.8 372.3h0M481.1 380.9h0M480.2 397.9h0M474.4 387.7h0M447.6 393.2h0M501.7 373.1h0M489.8 367.2h0" stroke="#c01818" stroke-width="2.50" stroke-linecap="round"/>
<path d="M461.1 410.9h0M487.3 396.3h0M484.8 397h0M458 364.8h0M480.3 405.9h0M460.9 384.5h0M492.4 378h0M460.8 387.2h0M483.3 371.7h0M478.7 408h0M470.4 376.5h0M496.7 371.4h0M475.9 373.4h0M473.3 360.3h0M476.9 378.8h0M489.9 384.6h0M484.4 364.7h0M478.8 377h0M482 377.3h0M503.7 357.8h0M453.7 409.7h0M506.8 370.3h0M475 375.5h0M484.9 392.5h0M491 401.3h0M486 400.1h0M492.8 383.8h0M462.4 394.8h0M476.4 401.1h0M500.3 373.4h0M461.7 407.2h0M457.1 393.2h0M487.2 395h0M465.5 391.3h0M467.3 394.5h0M443.9 402.6h0M467.4 397.3h0M460.3 386h0M472.5 420.6h0M449.1 396.7h0M481.7 381.5h0M457.1 399.3h0M450.3 419.1h0M451.8 387.4h0M487.2 385.2h0M443.6 409.4h0M498.8 362.5h0M507.2 366.9h0M472.4 378.3h0M481 379.7h0M452.5 388.4h0M444.1 404.9h0M475.2 359.3h0M475.3 374h0M482.6 411.8h0M500.1 357.5h0M446 404.8h0M470.1 377.4h0M506.4 363.3h0M463.2 394.4h0M455.7 395.2h0M473.2 388.5h0M498.5 364.4h0M473.7 415.9h0M460.2 384.3h0M442.4 402.1h0M477.9 395.6h0M464.9 362.7h0M463.7 406.8h0M484.3 393.4h0M471.4 361.7h0M450.7 397.2h0M497.8 370.8h0M461.8 389.8h0M506 374.6h0M450.2 419.7h0M480.2 385.3h0M506.3 377.8h0M494.1 382.1h0M497.9 390.2h0M453.7 381.2h0M461.2 403h0M454.5 397.1h0M496 386.8h0M500.4 388.5h0M480.5 390.4h0M460.7 412.2h0M476.1 379.1h0M468.9 391h0M462.3 398.1h0M474.4 371.9h0M480.7 380.5h0M479.8 397.5h0M474 387.3h0M447.2 392.8h0M501.3 372.7h0M489.4 366.8h0" stroke="#f07070" stroke-width="1.00" stroke-linecap="round" stroke-opacity="0.8"/>
<path d="M454.6 397.2h0M461.5 378.4h0" stroke="#1e1eb0" stroke-width="3.40" stroke-linecap="round"/>
<path d="M454.1 396.6h0M461 377.8h0" stroke="#8080ff" stroke-width="1.36" stroke-linecap="round" stroke-opacity="0.8"/>
<use href="#gL300" x="462.5" y="367.7"/>
<use href="#gL300" x="456.6" y="389.9"/>
<use href="#gL300" x="459.1" y="395.8"/>
<use href="#gL300" x="470.3" y="414.8"/>
<use href="#gL300" x="498.2" y="372.1"/>
<use href="#gL300" x="443.3" y="414.4"/>
<path d="M480.1 365.4h0M482.9 384.3h0M474.9 363.1h0" stroke="#1e1eb0" stroke-width="3.40" stroke-linecap="round"/>
<path d="M479.5 364.8h0M482.4 383.7h0M474.4 362.5h0" stroke="#8080ff" stroke-width="1.36" stroke-linecap="round" stroke-opacity="0.8"/>
<path d="M475.8 402.7h0M481.6 394h0M475.7 389.8h0M468.9 362.2h0M471.1 394.4h0M444 402.3h0M469.3 383.1h0M478.5 367.1h0M479.8 367.2h0M514.3 366.6h0M504.2 364.3h0M513.6 359.7h0M478.6 387.1h0M491.6 405.2h0M481.4 390.5h0M469.5 371.7h0M478.4 386.9h0M455.7 394.6h0M480.1 376.4h0M473.1 368.1h0M486.7 399h0M491 375h0M478.6 384.7h0M473 364.6h0M466.5 414.6h0M443.1 410.5h0M493.7 371.6h0M468.4 381.7h0M479.9 361.3h0M483.4 379.4h0M484.7 382.7h0M475.1 383.1h0M455.7 411h0M475.6 363.3h0M450.2 410.9h0M463.9 378.6h0M485.7 373.6h0M477.9 413.8h0M470.3 401.1h0M502 370.6h0M463.9 389.4h0M446.5 412.1h0M480 386.5h0M468.3 382.5h0M484.8 379.4h0M500.6 375h0M477.2 371.3h0M444.9 418.2h0M480.9 395.9h0M475 380.5h0M466.3 413h0M460.6 404.5h0M471.3 401.4h0M484.7 401.7h0M482.1 372.7h0M461.2 405.5h0M451.1 405.4h0M469.5 385.7h0M453.2 406.8h0M462.2 377.8h0M479.7 405.7h0M489.7 365.3h0M505 373.5h0M476.4 359.8h0M502.9 382.1h0M457.2 396.9h0M483.9 365.2h0M477.5 364.5h0M500.7 363.7h0M501.3 371.3h0M475.4 389.2h0M449.4 394.7h0M453.9 410.2h0M466.2 409.7h0M472.4 378.7h0M455.4 413.3h0M447.5 412h0M482.4 364.7h0M459.1 399.8h0M462.9 408.6h0M481.2 386.1h0M460.8 376.1h0M488.1 392.8h0M475.7 408.3h0M480.3 414.5h0M466.5 374.5h0M465.4 414.1h0M467.7 361.1h0M467.1 399h0M495.1 397.3h0M497.8 379h0M460.2 415.3h0M466.7 390.8h0M486.4 405.2h0" stroke="#c01818" stroke-width="2.50" stroke-linecap="round"/>
<path d="M475.4 402.3h0M481.2 393.6h0M475.3 389.4h0M468.5 361.8h0M470.7 394h0M443.6 401.9h0M468.9 382.7h0M478.1 366.7h0M479.4 366.8h0M513.9 366.2h0M503.8 363.9h0M513.2 359.3h0M478.2 386.7h0M491.2 404.8h0M481 390.1h0M469.1 371.3h0M478 386.5h0M455.3 394.2h0M479.7 376h0M472.7 367.7h0M486.3 398.6h0M490.6 374.6h0M478.2 384.3h0M472.6 364.2h0M466.1 414.2h0M442.7 410.1h0M493.3 371.2h0M468 381.3h0M479.5 360.9h0M483 379h0M484.3 382.3h0M474.7 382.7h0M455.3 410.6h0M475.2 362.9h0M449.8 410.5h0M463.5 378.2h0M485.3 373.2h0M477.5 413.4h0M469.9 400.7h0M501.6 370.2h0M463.5 389h0M446.1 411.7h0M479.6 386.1h0M467.9 382.1h0M484.4 379h0M500.2 374.6h0M476.8 370.9h0M444.5 417.8h0M480.5 395.5h0M474.6 380.1h0M465.9 412.6h0M460.2 404.1h0M470.9 401h0M484.3 401.3h0M481.7 372.3h0M460.8 405.1h0M450.7 405h0M469.1 385.3h0M452.8 406.4h0M461.8 377.4h0M479.3 405.3h0M489.3 364.9h0M504.6 373.1h0M476 359.4h0M502.5 381.7h0M456.8 396.5h0M483.5 364.8h0M477.1 364.1h0M500.3 363.3h0M500.9 370.9h0M475 388.8h0M449 394.3h0M453.5 409.8h0M465.8 409.3h0M472 378.3h0M455 412.9h0M447.1 411.6h0M482 364.3h0M458.7 399.4h0M462.5 408.2h0M480.8 385.7h0M460.4 375.7h0M487.7 392.4h0M475.3 407.9h0M479.9 414.1h0M466.1 374.1h0M465 413.7h0M467.3 360.7h0M466.7 398.6h0M494.7 396.9h0M497.4 378.6h0M459.8 414.9h0M466.3 390.4h0M486 404.8h0" stroke="#f07070" stroke-width="1.00" stroke-linecap="round" stroke-opacity="0.8"/>
<use href="#gT270" x="472.8" y="359.8"/>
<use href="#gL300" x="457.7" y="407.9"/>
<use href="#gT270" x="510.6" y="363.8"/>
<use href="#gL300" x="496.0" y="381.7"/>
<use href="#gL300" x="485.1" y="388.6"/>
<use href="#gL300" x="504.3" y="374.9"/>
<use href="#gL300" x="468.5" y="366.1"/>
<use href="#gT270" x="458.4" y="415.3"/>
<path d="M482.5 368h0M489 383.1h0M479.4 385.5h0M496.8 366h0M493.4 363.8h0M479.2 376.2h0M480.8 401.1h0M473 407.3h0M487.3 403.6h0M502.7 371h0M462.9 384.6h0M487.5 377.7h0M476.8 369.1h0M452.1 397.7h0M486.2 400.7h0M451.4 399.8h0M476.4 390.6h0M495 397.7h0M490.3 375.1h0M479.8 387.3h0M470.6 392.5h0M446.9 398.6h0M498.7 360.3h0M499.5 385.9h0M481 404.1h0M466.4 365.1h0M487.5 364.3h0M460.1 420.8h0M470.5 419.3h0M481.7 376.1h0M494.5 393.2h0M490.7 377.5h0M487.1 374.3h0M450.2 407.1h0M477.2 368.2h0M461.9 380.8h0M454.6 416.8h0M499.3 358.9h0M509.1 365.9h0M459.6 392h0M480.7 362.7h0M466.3 370.3h0M457.6 397h0M470.5 389h0M469 420h0M464.7 406.1h0M478.1 385.9h0M465 359h0M463.9 389.1h0M487.6 378.9h0M496.8 385.4h0M464.9 406.6h0M477.4 362.3h0M481 362.8h0M474.5 397.6h0M477.8 410.3h0M477.8 407.4h0M465.3 371.5h0M470 369.9h0M496.1 372.6h0M454.6 413.6h0M472.9 389h0M472.2 392.4h0M506.3 373h0M479.7 401.4h0M447.9 418.8h0M462.5 398.9h0M478 396.9h0M450.3 391.1h0M480.4 404.4h0M482.4 366.4h0M485.1 370.8h0M446.8 405.1h0M467.3 392.6h0M482.7 391.3h0M477.4 358.3h0M479.4 412.7h0M477 391.7h0M473.3 393.1h0M471.3 376.8h0M484.1 386.7h0M465.6 403.2h0M500.9 364h0M462.3 361.6h0M454.3 413.7h0M489.3 396.1h0" stroke="#c01818" stroke-width="2.50" stroke-linecap="round"/>
<path d="M482.1 367.6h0M488.6 382.7h0M479 385.1h0M496.4 365.6h0M493 363.4h0M478.8 375.8h0M480.4 400.7h0M472.6 406.9h0M486.9 403.2h0M502.3 370.6h0M462.5 384.2h0M487.1 377.3h0M476.4 368.7h0M451.7 397.3h0M485.8 400.3h0M451 399.4h0M476 390.2h0M494.6 397.3h0M489.9 374.7h0M479.4 386.9h0M470.2 392.1h0M446.5 398.2h0M498.3 359.9h0M499.1 385.5h0M480.6 403.7h0M466 364.7h0M487.1 363.9h0M459.7 420.4h0M470.1 418.9h0M481.3 375.7h0M494.1 392.8h0M490.3 377.1h0M486.7 373.9h0M449.8 406.7h0M476.8 367.8h0M461.5 380.4h0M454.2 416.4h0M498.9 358.5h0M508.7 365.5h0M459.2 391.6h0M480.3 362.3h0M465.9 369.9h0M457.2 396.6h0M470.1 388.6h0M468.6 419.6h0M464.3 405.7h0M477.7 385.5h0M464.6 358.6h0M463.5 388.7h0M487.2 378.5h0M496.4 385h0M464.5 406.2h0M477 361.9h0M480.6 362.4h0M474.1 397.2h0M477.4 409.9h0M477.4 407h0M464.9 371.1h0M469.6 369.5h0M495.7 372.2h0M454.2 413.2h0M472.5 388.6h0M471.8 392h0M505.9 372.6h0M479.3 401h0M447.5 418.4h0M462.1 398.5h0M477.6 396.5h0M449.9 390.7h0M480 404h0M482 366h0M484.7 370.4h0M446.4 404.7h0M466.9 392.2h0M482.3 390.9h0M477 357.9h0M479 412.3h0M476.6 391.3h0M472.9 392.7h0M470.9 376.4h0M483.7 386.3h0M465.2 402.8h0M500.5 363.6h0M461.9 361.2h0M453.9 413.3h0M488.9 395.7h0" stroke="#f07070" stroke-width="1.00" stroke-linecap="round" stroke-opacity="0.8"/>
<path d="M478.4 399.4h0M468.1 392.2h0M465 361.6h0M463.8 410.8h0M468.9 400.4h0M485.4 368.9h0M479.3 412.1h0" stroke="#1e1eb0" stroke-width="3.40" stroke-linecap="round"/>
<path d="M477.9 398.8h0M467.5 391.6h0M464.4 361.1h0M463.2 410.3h0M468.3 399.9h0M484.8 368.3h0M478.8 411.5h0" stroke="#8080ff" stroke-width="1.36" stroke-linecap="round" stroke-opacity="0.8"/>
<use href="#gL300" x="476.7" y="404.4"/>
<use href="#gL300" x="468.3" y="386.8"/>
<use href="#gT270" x="466.9" y="377.3"/>
<use href="#gL300" x="484.0" y="397.5"/>
<use href="#gT270" x="446.8" y="408.8"/>
<use href="#gL300" x="491.1" y="397.6"/>
<use href="#gT270" x="456.7" y="383.4"/>
<use href="#gT270" x="454.7" y="402.2"/>
<use href="#gT270" x="483.3" y="376.2"/>
<use href="#gL300" x="505.9" y="369.1"/>
<use href="#gL300" x="468.9" y="404.9"/>
<use href="#gL300" x="462.5" y="403.1"/>
<path d="M456.2 419.5h0M453.2 386h0M442.3 418.3h0M494.4 391.5h0M473.4 364.3h0M501.8 370.7h0M485.1 407.7h0M452.7 407h0M482.9 369.5h0M470.5 398.1h0M471.3 407.5h0M446.6 411.6h0M477.3 411h0M462.7 398.5h0M446.8 393.8h0M464.6 363.9h0M483.6 365.5h0M476.1 362.4h0M469.1 371h0M466.8 373.6h0M466.9 402.2h0M496.1 390.1h0M477.9 376.7h0M470.6 369.6h0M489 407.4h0M478.2 366h0M489.1 361.2h0M477.2 408.7h0M469.3 361.8h0M471.3 385.8h0M458.5 365h0M499.6 381.9h0M475.7 393.4h0M460.6 371.5h0M454.5 395.1h0M468.4 384.4h0M473.9 368.1h0M503.5 372.2h0M465.7 386.2h0M462.2 406h0M464.1 410.3h0M489.1 402.6h0M454.8 387.9h0M455.7 386.1h0M467.7 402.9h0M450.8 407h0M508.6 368.1h0M506.1 378.3h0M487.8 368.3h0M464.4 413.2h0M459 378.2h0M443.6 405.8h0M484.6 366.4h0M470.4 378.6h0M467.1 400.4h0M487.6 390.8h0M448.2 389.8h0M475.8 365.2h0M477.6 403.8h0M454.6 394.6h0M496.3 376.7h0M479.8 397.3h0M511.8 359.3h0M478.4 390.1h0M469.2 409.1h0M470.3 400.8h0M477.1 387.6h0M482.3 401.1h0M491.4 400.1h0M447 411.7h0M470.7 400.7h0M486.1 371.5h0M497.9 377.1h0M453 380h0M476.8 397.3h0M480.9 410.4h0M473.7 372.1h0M472 386.2h0M506.8 362h0M450.3 396.4h0M454.8 399.6h0M488.9 391.8h0M497.2 365.7h0M468.3 389.8h0M482 372.9h0" stroke="#c01818" stroke-width="2.50" stroke-linecap="round"/>
<path d="M455.8 419.1h0M452.8 385.6h0M441.9 417.9h0M494 391.1h0M473 363.9h0M501.4 370.3h0M484.7 407.3h0M452.3 406.6h0M482.5 369.1h0M470.1 397.7h0M470.9 407.1h0M446.2 411.2h0M476.9 410.6h0M462.3 398.1h0M446.4 393.4h0M464.2 363.5h0M483.2 365.1h0M475.7 362h0M468.7 370.6h0M466.4 373.2h0M466.5 401.8h0M495.7 389.7h0M477.5 376.3h0M470.2 369.2h0M488.6 407h0M477.8 365.6h0M488.7 360.8h0M476.8 408.3h0M468.9 361.4h0M470.9 385.4h0M458.1 364.6h0M499.2 381.5h0M475.3 393h0M460.2 371.1h0M454.1 394.7h0M468 384h0M473.5 367.7h0M503.1 371.8h0M465.3 385.8h0M461.8 405.6h0M463.7 409.9h0M488.7 402.2h0M454.4 387.5h0M455.3 385.7h0M467.3 402.5h0M450.4 406.6h0M508.2 367.7h0M505.7 377.9h0M487.4 367.9h0M464 412.8h0M458.6 377.8h0M443.2 405.4h0M484.2 366h0M470 378.2h0M466.7 400h0M487.2 390.4h0M447.8 389.4h0M475.4 364.8h0M477.2 403.4h0M454.2 394.2h0M495.9 376.3h0M479.4 396.9h0M511.4 358.9h0M478 389.7h0M468.8 408.7h0M469.9 400.4h0M476.7 387.2h0M481.9 400.7h0M491 399.7h0M446.6 411.3h0M470.3 400.3h0M485.7 371.1h0M497.5 376.7h0M452.6 379.6h0M476.4 396.9h0M480.5 410h0M473.3 371.7h0M471.6 385.8h0M506.4 361.6h0M449.9 396h0M454.4 399.2h0M488.5 391.4h0M496.8 365.3h0M467.9 389.4h0M481.6 372.5h0" stroke="#f07070" stroke-width="1.00" stroke-linecap="round" stroke-opacity="0.8"/>
<path d="M474.2 391.2h0M486.7 395.2h0M479.8 378.5h0M488.8 405h0M463.3 386.8h0M498.5 388.3h0" stroke="#1e1eb0" stroke-width="3.40" stroke-linecap="round"/>
<path d="M473.6 390.6h0M486.2 394.7h0M479.3 378h0M488.3 404.4h0M462.7 386.3h0M498 387.8h0" stroke="#8080ff" stroke-width="1.36" stroke-linecap="round" stroke-opacity="0.8"/>
<use href="#gL300" x="477.7" y="373.1"/>
<use href="#gL300" x="473.8" y="385.9"/>
<use href="#gL300" x="479.6" y="382.1"/>
<use href="#gT270" x="478.5" y="391.3"/>
<use href="#gL300" x="446.7" y="399.3"/>
<use href="#gL300" x="451.3" y="393.5"/>
<use href="#gL300" x="481.8" y="369.1"/>
<use href="#gL300" x="471.4" y="373.8"/>
<use href="#gT270" x="492.2" y="371.0"/>
<use href="#gL300" x="484.2" y="361.6"/>
<use href="#gT270" x="481.7" y="409.7"/>
<use href="#gT270" x="503.0" y="362.4"/>
<use href="#gL300" x="450.3" y="415.1"/>
<use href="#gL300" x="497.1" y="361.5"/>
<path d="M68.2,455.7 L136.6,455.7 L136.6,525.6 L68.2,525.6 Z" fill="none" stroke="#c8c8c8" stroke-width="0.6"/>
<path d="M70.8 460.6l2.9-.3l3.4-.3M70.8 460.6l.1 3.8l-.5 3M70.8 460.6l-3.2 0M70.8 460.6l0-3.2M70.4 467.4l3.3 .1l3.4-.3M70.4 467.4l.3 3.2l-.2 3M70.4 467.4l-3.2 0M70.5 473.6l3.1-.4l3.5 .5M70.5 473.6l.5 2.9l-.1 3.7M70.5 473.6l-3.2 0M70.9 480.2l3.3 .1l2.9 .4M70.9 480.2l.3 3.2l-0 3.5M70.9 480.2l-3.2 0M71.1 487l2.5 .2l3.4 .1M71.1 487l-.1 3.3l-.4 2.9M71.1 487l-3.2 0M70.6 493.2l3.5 .8l3.8 .1M70.6 493.2l.2 3l.2 3.9M70.6 493.2l-3.2 0M71 500l3.1-0l3.4 .6M71 500l-.5 3.3l.2 3.8M71 500l-3.2 0M70.7 507.1l3.3-.3l3.2 .6M70.7 507.1l-.3 3.1l.3 3.8M70.7 507.1l-3.2 0M70.7 514l3.4-.3l3.9 .1M70.7 514l.3 3.3l-.4 2.7M70.7 514l-3.2 0M70.6 520l4.1-.3l3.2 .6M70.6 520l-3.2 0M70.6 520l0 3.2M77.1 460l4 .1l4.5 .3M77.1 460l0 3.3l-0 3.9M77.1 460l0-3.2M77.1 467.2l3.5 .2l4.1-.6M77.1 467.2l-0 2.9l0 3.6M77.1 473.8l-.2 3.3l.2 3.7M77.1 480.7l4.3-.2l4 .3M77.1 480.7l-.5 3l.4 3.6M77 487.3l.2 3.7l.7 3.1M77.9 494.1l-.5 3.7l-0 2.8M77.5 500.6l3.5-.4l4.1 .3M77.5 500.6l-.1 3l-.2 3.7M77.2 507.4l4.5-0l3.8-.6M77.2 507.4l.5 2.8l.3 3.6M78 513.8l.2 3.5l-.2 3M78 520.3l3.2 0l3.7 .3M78 520.3l0 3.2M85.6 460.4l3.6 .5l3.4 0M85.6 460.4l0-3.2M84.7 466.8l4.3 0l3.5 .7M85.5 480.7l3.4-.8l3.8 0M85 500.5l3.3-.6l4.2 .2M85.5 506.8l3.4-.3l4 .4M84.9 520.7l4.3 .1l4-.5M84.9 520.7l0 3.2M92.6 460.9l3.5-.7l3.1 .2M92.6 460.9l-.1 3.1l0 3.6M92.6 460.9l0-3.2M92.5 467.6l3.5-.5l2.7 .2M92.5 467.6l-.4 2.9l.2 3.1M92.3 473.6l2.6 .3l3.5-.6M92.3 473.6l-.1 3.3l.5 3M92.7 479.9l.5 3.7l-.1 3.8M93.1 487.5l3-.2l2.8-.6M93.1 487.5l.2 3.2l-.6 3.2M92.7 493.8l2.8-.2l3.6 .1M92.7 493.8l-.1 2.9l-.1 3.3M92.5 500.1l3.3 .1l2.9 .1M92.5 500.1l.6 3.2l-.2 3.6M92.9 506.9l-.5 3.4l-.1 3.7M92.4 514l3.4-.4l3.2-.4M92.4 514l.5 3l.4 3.2M93.2 520.3l2.6-.2l3.3 .4M93.2 520.3l0 3.2M99.2 460.3l3.3 .1l4.1-.3M99.2 460.3l0 3.7l-.5 3.2M99.2 460.3l0-3.2M98.7 467.3l4.5 .3l4-.3M98.7 467.3l-.3 2.6l-0 3.4M98.4 473.3l4.6 .9l4.3 .1M98.8 486.7l3.4-.3l4.4 .5M98.8 486.7l.1 4l.2 3.1M99.1 493.8l4.1-.1l4.2 .2M99.1 493.8l-.6 3.4l.2 3.1M98.7 500.3l3.7-.1l4.7-0M99 513.2l3.6 .2l3.9 .5M99 513.2l.1 4l0 3.3M99.1 520.5l4.1-.1l4.1 .2M99.1 520.5l0 3.2M106.7 460.1l3 .1l3.6 .3M106.7 460.1l.5 3.7l.1 3.5M106.7 460.1l0-3.2M107.2 467.3l3.7-.5l3 .3M107.2 467.3l-.2 3l.2 3.9M107.3 474.3l3.8-.7l3 .3M107.3 474.3l.1 3.2l-.1 3.4M107.2 480.8l2.9-.5l3.9-.4M107.2 480.8l-.1 3.2l-.5 2.9M106.7 486.9l3.3-.2l4.2-0M106.7 486.9l.3 3l.4 3.9M107.3 493.9l2.6-.4l3.5 0M107.3 493.9l-.4 3.2l.1 3.1M107.1 500.2l2.9-.5l3.9 .2M107.1 500.2l-.1 3.4l-.3 3.7M106.7 507.3l3.7 0l3.2-0M106.7 507.3l-.2 3.7l0 3M106.5 513.9l3.7-.3l3.5-.3M106.5 513.9l.4 3.6l.4 3.1M107.3 520.6l3.5-.7l2.9-.1M107.3 520.6l0 3.2M113.2 460.5l3.3 .4l3.7-.5M113.2 460.5l.5 3.7l.2 2.8M113.2 460.5l0-3.2M113.9 467l.1 3.3l.1 3.6M114.1 473.9l3.5 .2l2.7-.3M114.1 473.9l.1 3.5l-.2 2.5M114 479.9l.4 3.4l-.3 3.4M114.1 486.7l2.8 .4l3.3-.4M114.1 486.7l.1 3.8l-.8 3M113.5 493.5l3.6-.2l3.7 .6M113.5 493.5l0 2.7l.4 3.7M113.9 499.9l.3 3.6l-.6 3.7M113.6 507.3l3.5-.2l3.1 .2M113.6 507.3l.4 3.3l-.2 2.8M113.7 513.4l3.4 .6l3.7-.3M113.7 513.4l-.4 3.5l.4 2.9M113.7 519.8l3.7-.2l3.2 .2M113.7 519.8l0 3.2M120.1 460.4l3.6-.1l3.5-.3M120.1 460.4l0-3.2M120.3 473.8l3.4-.2l3.3 .5M120.2 486.7l4.2 .5l3.3-.3M120.7 493.9l3-.4l3.7 .2M120.2 507.2l3.4-.6l4.2-.2M120.8 513.7l3.7-.1l2.8 .3M120.6 519.8l3-0l4 .4M120.6 519.8l0 3.2M127.2 460l3 .6l3.5 .2M127.2 460l.1 3.2l.5 4.2M127.2 460l0-3.2M127.8 467.5l2.9 .3l3.4-.6M127.8 467.5l-.4 3l-.4 3.7M127 474.1l3.5-.6l3.5-.1M127 474.1l-.3 3.6l.4 3.1M127.2 480.9l4-.6l3.5-.1M127.2 480.9l.1 2.9l.4 3.2M127.6 486.9l3.1-.2l3.9-.1M127.6 486.9l-0 3.1l-.2 3.8M127.4 493.8l3.2-0l3.9 .1M127.4 493.8l0 3.8l-.1 2.8M127.4 500.3l3.2 .1l3.7-.2M127.4 500.3l.3 2.7l.1 3.5M127.8 506.5l3.3-.2l2.9 .2M127.8 506.5l.2 3.4l-.7 4.1M127.3 514l3.9-.1l3.1 .1M127.3 514l-0 3.5l.3 2.6M127.6 520.1l3.4 .2l3.2 0M127.6 520.1l0 3.2M133.7 460.8l.3 3.3l-0 3M133.7 460.8l3.2 0M133.7 460.8l0-3.2M134.1 467.1l.1 3.3l-.2 3M134.1 467.1l3.2 0M134 473.4l.2 3.4l.6 3.3M134 473.4l3.2 0M134.7 480.2l.1 2.8l-.3 3.7M134.7 480.2l3.2 0M134.6 486.6l-.4 3.8l.3 3.4M134.6 486.6l3.2 0M134.5 493.9l-.2 3.2l.1 3.2M134.5 493.9l3.2 0M134.4 500.2l-.3 3.5l-.1 2.8M134.4 500.2l3.2 0M134 506.5l.3 3.2l0 4.2M134 506.5l3.2 0M134.3 514l.4 2.8l-.5 3.6M134.3 514l3.2 0M134.2 520.4l3.2 0M134.2 520.4l0 3.2" stroke="#8a4a9a" stroke-width="0.7" fill="none" stroke-opacity="1"/>
<path d="M137.4 520.4h0M80.9 500.2h0M92.1 470.5h0M77.4 503.6h0M117.1 514h0M71 490.3h0M107.1 484h0M70.6 523.2h0M113.9 510.6h0M89 466.8h0M117 493.4h0M71 517.3h0M93.2 490.6h0M127.6 490h0M137.7 493.9h0M137.2 506.5h0M106.7 456.9h0M123.6 506.7h0M81.2 520.3h0M78 523.5h0M137.6 500.2h0M96.1 460.2h0M67.4 520h0M78.2 517.3h0M81.1 460.1h0M71.2 483.4h0M137.8 486.6h0M67.7 480.2h0M92.5 464h0M92.2 476.9h0M67.8 500h0M94.9 473.9h0M67.5 514h0M110.8 520h0M124.5 513.7h0M98.5 497.2h0M109.6 460.2h0M77.1 456.8h0M98.4 469.9h0M92.6 496.7h0M113.2 457.3h0M133.7 457.6h0M131.1 506.3h0M110.3 513.7h0M127.3 517.5h0M70.8 457.4h0M127.5 497.5h0M102.9 474.2h0M117.1 507h0M137.9 480.2h0M134.2 470.4h0M127.2 456.8h0M131.2 480.3h0M134.2 490.4h0M73.7 487.2h0M126.7 477.8h0M131 520.3h0M106.5 511h0" stroke="#c01818" stroke-width="2.20" stroke-linecap="round"/>
<path d="M137.1 520h0M80.6 499.8h0M91.7 470.2h0M77.1 503.3h0M116.8 513.6h0M70.7 489.9h0M106.8 483.6h0M70.2 522.9h0M113.6 510.2h0M88.6 466.5h0M116.7 493h0M70.7 517h0M92.9 490.3h0M127.2 489.6h0M137.4 493.5h0M136.9 506.2h0M106.3 456.6h0M123.2 506.3h0M80.9 520h0M77.6 523.1h0M137.2 499.9h0M95.8 459.8h0M67 519.7h0M77.8 516.9h0M80.7 459.8h0M70.8 483.1h0M137.4 486.3h0M67.4 479.9h0M92.1 463.7h0M91.8 476.6h0M67.4 499.6h0M94.5 473.6h0M67.1 513.6h0M110.4 519.6h0M124.2 513.3h0M98.1 496.8h0M109.3 459.9h0M76.7 456.5h0M98.1 469.6h0M92.3 496.4h0M112.8 457h0M133.4 457.2h0M130.7 505.9h0M109.9 513.3h0M126.9 517.1h0M70.5 457.1h0M127.1 497.2h0M102.6 473.8h0M116.7 506.7h0M137.6 479.8h0M133.8 470.1h0M126.9 456.5h0M130.8 479.9h0M133.8 490.1h0M73.3 486.9h0M126.4 477.4h0M130.6 520h0M106.1 510.6h0" stroke="#f07070" stroke-width="0.88" stroke-linecap="round" stroke-opacity="0.8"/>
<path d="M134.6 486.6h0M106.7 486.9h0M77.1 480.7h0M98.7 500.3h0M134.1 467.1h0M85.6 460.4h0M78 520.3h0M106.7 507.3h0M77.9 494.1h0M113.9 467h0M70.6 493.2h0M92.4 514h0M134.2 520.4h0M120.3 473.8h0M107.3 474.3h0M127.8 506.5h0M120.1 460.4h0M77.1 460h0M92.7 493.8h0M127.6 486.9h0M114.1 486.7h0M70.5 473.6h0M134 506.5h0M113.9 499.9h0M127.2 460h0M106.5 513.9h0M134.7 480.2h0M120.2 507.2h0M78 513.8h0M127 474.1h0M120.7 493.9h0M71 500h0" stroke="#3c46c8" stroke-width="3.10" stroke-linecap="round"/>
<path d="M134.1 486.1h0M106.2 486.4h0M76.6 480.2h0M98.2 499.8h0M133.6 466.6h0M85.1 459.9h0M77.5 519.8h0M106.2 506.8h0M77.4 493.6h0M113.4 466.5h0M70.1 492.7h0M91.9 513.5h0M133.7 519.9h0M119.8 473.3h0M106.8 473.8h0M127.3 506h0M119.6 460h0M76.6 459.5h0M92.2 493.3h0M127.1 486.4h0M113.6 486.2h0M70 473.1h0M133.5 506h0M113.4 499.4h0M126.7 459.5h0M106 513.4h0M134.2 479.7h0M119.7 506.7h0M77.5 513.3h0M126.5 473.6h0M120.2 493.4h0M70.5 499.5h0" stroke="#a0a6ff" stroke-width="1.24" stroke-linecap="round" stroke-opacity="0.8"/>
<path d="M77.1 470.1h0M76.7 483.7h0M127.3 463.3h0M114.2 490.5h0M103.2 493.7h0M127.6 523.3h0M70.8 470.7h0M89.2 460.9h0M111.1 473.6h0M92.8 517.1h0M81.7 507.3h0M74 500h0M74.1 513.7h0M107 489.9h0M71 476.6h0M113.3 516.9h0M74.1 494h0M99.1 523.7h0M67.4 493.2h0M95.8 513.6h0M77.5 497.8h0M93.2 483.7h0M116.9 487.1h0M67.6 460.6h0M134.3 497.1h0M99.1 517.2h0M127.4 470.4h0M110.4 507.3h0M120.1 457.2h0M116.5 461h0M81.5 480.5h0M102.6 460.4h0M77.1 463.3h0M67.9 487h0M113.7 523h0M134.1 464.1h0M96 467.1h0M130.2 460.6h0M103.2 520.4h0M127.7 503h0M89.2 520.8h0M124.3 487.2h0M102.6 513.4h0M93.2 523.5h0M67.5 507.1h0M117.6 474.1h0M70.4 503.2h0M74.2 480.3h0M95.5 493.7h0M95.8 520.1h0M131.2 513.8h0M70.8 496.1h0M109.9 486.7h0M127.3 483.7h0M92.6 457.7h0M74.7 519.7h0M88.9 479.9h0M107.3 477.4h0" stroke="#c01818" stroke-width="2.20" stroke-linecap="round"/>
<path d="M76.8 469.8h0M76.3 483.3h0M127 462.9h0M113.9 490.1h0M102.8 493.3h0M127.3 523h0M70.4 470.3h0M88.8 460.6h0M110.7 473.3h0M92.5 516.7h0M81.3 507h0M73.7 499.6h0M73.8 513.3h0M106.6 489.6h0M70.6 476.2h0M113 516.5h0M73.8 493.7h0M98.7 523.4h0M67 492.8h0M95.4 513.2h0M77.1 497.5h0M92.8 483.3h0M116.5 486.7h0M67.3 460.3h0M134 496.7h0M98.7 516.8h0M127.1 470.1h0M110 506.9h0M119.8 456.9h0M116.1 460.6h0M81.1 480.1h0M102.2 460.1h0M76.8 462.9h0M67.6 486.6h0M113.4 522.7h0M133.7 463.8h0M95.7 466.7h0M129.8 460.2h0M102.9 520.1h0M127.3 502.7h0M88.9 520.4h0M124 486.8h0M102.3 513h0M92.9 523.1h0M67.1 506.7h0M117.3 473.7h0M70.1 502.9h0M73.9 480h0M95.2 493.3h0M95.5 519.7h0M130.8 513.5h0M70.4 495.8h0M109.6 486.4h0M126.9 483.4h0M92.3 457.4h0M74.4 519.4h0M88.6 479.6h0M107 477.1h0" stroke="#f07070" stroke-width="0.88" stroke-linecap="round" stroke-opacity="0.8"/>
<path d="M92.5 467.6h0M92.7 479.9h0M113.2 460.5h0M134 473.4h0M107.1 500.2h0M134.5 493.9h0M77.1 467.2h0M85.5 480.7h0M70.7 514h0M98.4 473.3h0M113.6 507.3h0M70.6 520h0M120.8 513.7h0M98.7 467.3h0M114 479.9h0M106.7 460.1h0M85 500.5h0M92.5 500.1h0M84.7 466.8h0M85.5 506.8h0M92.3 473.6h0M127.2 480.9h0M113.5 493.5h0M120.6 519.8h0M107.2 480.8h0M127.3 514h0M84.9 520.7h0M77 487.3h0M127.6 520.1h0M134.4 500.2h0M113.7 519.8h0M77.5 500.6h0" stroke="#3c46c8" stroke-width="3.10" stroke-linecap="round"/>
<path d="M92 467.1h0M92.2 479.4h0M112.7 460h0M133.5 472.9h0M106.6 499.7h0M134 493.4h0M76.6 466.7h0M85 480.2h0M70.2 513.5h0M97.9 472.8h0M113.1 506.8h0M70.1 519.5h0M120.3 513.2h0M98.2 466.8h0M113.5 479.4h0M106.2 459.6h0M84.5 500h0M92 499.6h0M84.2 466.3h0M85 506.3h0M91.8 473.1h0M126.7 480.4h0M113 493h0M120.1 519.3h0M106.7 480.3h0M126.8 513.5h0M84.4 520.2h0M76.5 486.8h0M127.1 519.6h0M133.9 499.7h0M113.2 519.3h0M77 500.1h0" stroke="#a0a6ff" stroke-width="1.24" stroke-linecap="round" stroke-opacity="0.8"/>
<path d="M92.4 510.3h0M123.8 493.6h0M70.4 510.2h0M73.6 473.2h0M130.7 467.8h0M134.2 523.6h0M71 464.5h0M73.7 460.4h0M110 499.7h0M80.6 467.4h0M93.1 503.3h0M113.7 464.2h0M134.8 482.9h0M136.9 460.8h0M130.6 493.8h0M134.3 509.7h0M107.1 463.8h0M98.9 490.7h0M76.9 477h0M84.9 523.9h0M107 470.3h0M67.3 473.6h0M102.4 500.2h0M110.1 480.3h0M120.6 523h0M123.7 473.7h0M134.1 476.9h0M137.5 514h0M73.8 467.5h0M106.9 517.5h0M67.2 467.4h0M123.6 519.7h0M107.3 523.8h0M77.6 510.2h0M109.9 493.5h0M134.8 516.8h0M130.7 486.7h0M107 503.6h0M134.1 503.7h0M117.4 519.6h0M103.2 467.5h0M85.6 457.2h0M114.4 483.3h0M107 497.1h0M74 506.8h0M137.3 467.1h0M113.5 496.2h0M130.6 500.5h0M137.2 473.4h0M114.2 477.4h0M102.3 486.4h0M110.9 466.8h0M77.2 491h0M128 509.9h0M99.3 464h0M114 470.3h0M89 506.5h0M88.3 499.9h0M130.5 473.6h0M123.8 460.4h0M95.8 500.2h0M114.2 503.5h0M99.2 457.1h0M96.1 487.3h0" stroke="#c01818" stroke-width="2.20" stroke-linecap="round"/>
<path d="M92.1 510h0M123.4 493.2h0M70 509.9h0M73.2 472.9h0M130.3 467.4h0M133.9 523.2h0M70.6 464.1h0M73.4 460h0M109.7 499.3h0M80.2 467.1h0M92.8 503h0M113.3 463.9h0M134.5 482.6h0M136.6 460.4h0M130.3 493.4h0M134 509.4h0M106.8 463.4h0M98.5 490.3h0M76.6 476.7h0M84.5 523.5h0M106.7 470h0M67 473.3h0M102.1 499.8h0M109.7 480h0M120.2 522.6h0M123.4 473.3h0M133.8 476.5h0M137.2 513.6h0M73.4 467.2h0M106.5 517.2h0M66.9 467.1h0M123.3 519.4h0M106.9 523.5h0M77.3 509.8h0M109.6 493.1h0M134.4 516.4h0M130.3 486.4h0M106.6 503.3h0M133.7 503.4h0M117 519.3h0M102.9 467.2h0M85.2 456.8h0M114 483h0M106.6 496.7h0M73.6 506.4h0M136.9 466.8h0M113.1 495.9h0M130.3 500.1h0M136.8 473.1h0M113.8 477.1h0M101.9 486.1h0M110.5 466.4h0M76.9 490.6h0M127.6 509.5h0M98.9 463.7h0M113.7 470h0M88.6 506.1h0M87.9 499.5h0M130.1 473.2h0M123.4 460h0M95.4 499.8h0M113.8 503.2h0M98.9 456.8h0M95.7 487h0" stroke="#f07070" stroke-width="0.88" stroke-linecap="round" stroke-opacity="0.8"/>
<path d="M77.2 507.4h0M93.2 520.3h0M99 513.2h0M92.6 460.9h0M70.8 460.6h0M113.7 513.4h0M127.4 500.3h0M70.4 467.4h0M107.3 520.6h0M134.3 514h0M98.8 486.7h0M93.1 487.5h0M71.1 487h0M92.9 506.9h0M107.3 493.9h0M133.7 460.8h0M107.2 467.3h0M70.9 480.2h0M120.2 486.7h0M127.8 467.5h0M99.2 460.3h0M99.1 520.5h0M99.1 493.8h0M114.1 473.9h0M127.4 493.8h0M77.1 473.8h0M70.7 507.1h0" stroke="#3c46c8" stroke-width="3.10" stroke-linecap="round"/>
<path d="M76.7 506.9h0M92.7 519.8h0M98.5 512.7h0M92.1 460.4h0M70.3 460.1h0M113.2 512.9h0M126.9 499.8h0M69.9 466.9h0M106.8 520.1h0M133.8 513.5h0M98.3 486.2h0M92.6 487h0M70.7 486.5h0M92.4 506.4h0M106.9 493.4h0M133.2 460.3h0M106.7 466.8h0M70.4 479.7h0M119.7 486.2h0M127.3 467h0M98.7 459.8h0M98.6 520h0M98.6 493.3h0M113.6 473.4h0M126.9 493.3h0M76.6 473.3h0M70.2 506.6h0" stroke="#a0a6ff" stroke-width="1.24" stroke-linecap="round" stroke-opacity="0.8"/>
<path d="M152.0,459.8 L194.9,459.8 L194.9,523.5 L152.0,523.5 Z" fill="none" stroke="#c8c8c8" stroke-width="0.6"/>
<path d="M151.5 457.5l2.8 0l3.1 .6M151.5 457.5l-.5 4l.3 3.4M151.3 464.9l3.2-.2l3.1-.2M151.3 464.9l.2 3.4l.3 2.2M151.8 470.5l4 .2l2.8 .4M151.8 470.5l-.4 4.3l.6 3.2M152 478l2.6-.1l3.2-.9M152 478l-1.2 3.4l0 2.7M150.9 484.2l3.3 .2l3.3-.7M150.9 484.2l-.1 3l.6 2.7M151.3 489.9l4.2 .3l3.1 .7M151.3 489.9l-.6 4.1l.5 3.2M151.2 497.2l3.4-1l2.8 .2M151.2 497.2l-.3 2.6l0 3.4M152 516.6l-.3 2.7l-.1 2M151.7 521.4l3.1 .4l2.9 .6M157.4 458.2l3.5 .3l3.6-.3M157.4 458.2l-.4 3.2l.6 3.2M157.5 464.5l4-.2l3.6-.6M157.5 464.5l.5 3.8l.5 2.8M158.6 471.1l2.6-.8l3 .2M158.6 471.1l.1 3.4l-.8 2.4M157.9 476.9l3.2 1.1l2.9 0M157.9 476.9l-.2 3.3l-.2 3.4M157.5 483.6l3 .4l3.3 .6M157.5 483.6l.5 3.5l.7 3.7M158.6 490.9l2.5-.2l3.1 0M158.6 490.9l-1.1 2.3l-0 3.3M157.5 496.4l3.7 0l3.3 .1M157.7 522.4l4-.1l3.1-.2M164.5 458.1l3 .4l4 .2M164.5 458.1l.5 3.2l.1 2.5M165.1 463.8l3.1 1l2.5-.1M165.1 463.8l-.7 3.4l-.2 3.2M164.2 470.4l3.3-.3l3.9 .6M164 478l3.9-.5l3.2 .3M164 478l-.5 3.2l.3 3.4M163.8 484.6l3.5-.6l4.2 .4M163.8 484.6l-.2 3.3l.6 2.7M164.3 490.6l3.3 .5l3.4-.6M164.3 490.6l-.2 2.7l.4 3.1M164.5 496.5l3.1 .3l3.2 .4M164.8 522.1l3.3 .6l2.6-.1M171.5 458.6l3.2-.4l3.1 0M171.5 458.6l-.2 2.6l-.5 3.4M170.7 464.7l4.2-.3l3.2 .7M170.7 464.7l.4 3.4l.2 2.6M171.4 470.7l-.5 3.4l.2 3.7M171.1 477.8l.3 3.6l.1 2.9M171.5 484.4l3.6 0l2.4-1M171.5 484.4l.3 3.4l-.8 2.7M171 490.5l3.5-.3l3.2 .6M171 490.5l.5 3.3l-.6 3.4M170.8 497.2l3.5-.6l3.1-.3M170.8 497.2l.9 3l-0 2.6M171.7 502.8l3 .5l2.4-.3M170.9 515.8l2.9 .1l3.3 .4M170.9 515.8l-.2 3.2l0 3.6M170.7 522.6l2.6-.7l3.8-.4M177.9 458.2l3.4 0l2.3-.2M177.9 458.2l.1 3.9l.1 2.9M177.5 483.4l.1 3.9l.1 3.4M177.7 490.7l3.6 .1l3.2-.6M177.7 490.7l-.7 3.2l.4 2.4M177.4 496.3l2.9 .3l3.3 0M177.1 503l-.3 3.9l.7 3.5M177.5 510.5l2.9-.6l3.5-.2M177.5 510.5l.2 3.1l-.6 2.8M177 516.3l4.1 .3l2.9-.5M177 516.3l.4 2.5l-.3 2.7M177.1 521.5l3.5 .4l3.9 .6M183.5 458.1l3.8 .3l2.6-.5M184.5 490.2l3.1-.3l2.8 0M184.5 490.2l-.1 3.4l-.8 3.1M183.6 496.6l2.8 .9l3.6-.3M183.6 496.6l0 3.7l.5 3.4M184.2 503.7l3-.8l3 .2M184.2 503.7l-.5 3.2l.3 2.7M183.9 509.6l4.2 .2l3 .4M183.9 509.6l-.1 2.8l.1 3.6M184 516l3.3 .5l3.2 0M184 516l.8 2.9l-.4 3.6M184.4 522.5l3.2-0l2.3 .2M190 457.8l1.1 3l-0 3.4M190.4 483.7l.6 2.8l-.5 3.5M190.4 489.9l.3 4l-.7 3.3M190 497.2l0 3l.2 2.9M190.2 503.1l.5 3.5l.5 3.7M191.1 510.3l-0 2.8l-.6 3.5M190.5 516.5l-.7 3l0 3.1M191.6 477.5l-.6 2.8l-2.6 1.3M191.6 477.5l-.6 3.1l-.6 3.1M188.4 481.7l-2.3 1.8l-2.8-.7M188.4 481.7l1 1l1 1M183.3 482.8l-2.9-.1l-1.7-2.3M183.3 482.8l-2.9 .3l-2.9 .3M178.7 480.5l-2.2-1.9l.2-2.9M178.7 480.5l-.6 1.5l-.6 1.5M176.7 475.7l-.4-2.9l2-2.1M176.7 475.7l-2.8 1.1l-2.8 1.1M178.2 470.7l1.5-2.5l2.9-.4M178.2 470.7l-.1-2.8l-.1-2.8M182.6 467.9l2.7-.9l2.4 1.6M182.6 467.9l-2.2-1.4l-2.2-1.4M187.8 468.5l2.7 1.1l.8 2.8M187.8 468.5l1.6-2.2l1.6-2.2M191.3 472.4l1.4 2.5l-1.1 2.7M169 510.2l-.6 2.8l-2.6 1.3M169 510.2l1 2.8l1 2.8M165.8 514.4l-2.3 1.8l-2.8-.7M165.8 514.4l2.5 .7l2.5 .7M160.7 515.5l-2.9-.1l-1.7-2.3M156.1 513.2l-2.2-1.9l.2-2.9M156.1 513.2l-2.1 1.7l-2.1 1.7M154.1 508.4l-.4-2.9l2-2.1M154.1 508.4l-1.6-2.6l-1.6-2.6M155.6 503.4l1.5-2.5l2.9-.4M155.6 503.4l-2.3-.1l-2.3-.1M160 500.6l2.7-.9l2.4 1.6M160 500.6l-1.2-2.1l-1.2-2.1M165.2 501.2l2.7 1.1l.8 2.8M165.2 501.2l-.3-2.4l-.3-2.4M168.7 505.1l1.4 2.5l-1.1 2.7M168.7 505.1l1.5-1.1l1.5-1.1M151.5 457.5l-3.2 0M151.5 457.5l0-3.2M151.3 464.9l-3.2 0M151.8 470.5l-3.2 0M152 478l-3.2 0M150.9 484.2l-3.2 0M151.3 489.9l-3.2 0M151.2 497.2l-3.2 0M151 503.3l-3.2 0M152 516.6l-3.2 0M151.7 521.4l-3.2 0M151.7 521.4l0 3.2M157.4 458.2l0-3.2M157.7 522.4l0 3.2M164.5 458.1l0-3.2M164.8 522.1l0 3.2M171.5 458.6l0-3.2M170.7 522.6l0 3.2M177.9 458.2l0-3.2M177.1 521.5l0 3.2M183.5 458.1l0-3.2M184.4 522.5l0 3.2M190 457.8l3.2 0M190 457.8l0-3.2M191 464.2l3.2 0M190.4 483.7l3.2 0M190.4 489.9l3.2 0M190 497.2l3.2 0M190.2 503.1l3.2 0M191.1 510.3l3.2 0M190.5 516.5l3.2 0M189.8 522.6l3.2 0M189.8 522.6l0 3.2" stroke="#8a4a9a" stroke-width="0.65" fill="none" stroke-opacity="1"/>
<path d="M161.2 490.6h0M171.5 493.8h0M190.6 506.6h0M148.1 464.9h0M168.4 515.1h0M163.6 516.2h0M190.7 493.9h0M187.6 489.9h0M191.1 460.8h0M158.8 498.5h0M181.2 458.3h0M154.1 484.4h0M193.7 516.5h0M153.7 505.5h0M177.9 455h0M148.8 516.6h0M160.5 484h0M157.6 493.1h0M161.2 470.3h0M174.9 464.4h0M178 462.2h0M148.1 489.9h0M164.1 493.4h0M173.3 521.9h0M180.5 482.8h0M164.8 498.8h0M170.9 474.1h0M190.5 469.6h0M154.7 496.2h0M167.5 470.1h0M157.1 500.9h0M171.8 487.8h0M194.2 464.2h0M190.9 486.4h0M167.6 491.1h0M167.6 496.8h0M193 522.6h0M171.7 500.2h0M174.5 490.2h0M151.7 524.6h0M178.1 481.9h0M177 493.9h0M179.7 468.2h0M187.3 458.3h0M157.9 515.5h0M151 461.5h0M178.2 467.9h0M174.7 458.2h0M191.1 513h0M183.6 506.9h0" stroke="#c01818" stroke-width="2.20" stroke-linecap="round"/>
<path d="M160.8 490.3h0M171.1 493.4h0M190.3 506.2h0M147.7 464.6h0M168 514.8h0M163.2 515.8h0M190.3 493.6h0M187.2 489.6h0M190.7 460.4h0M158.4 498.1h0M180.9 457.9h0M153.8 484h0M193.3 516.2h0M153.3 505.2h0M177.5 454.7h0M148.5 516.2h0M160.2 483.7h0M157.2 492.8h0M160.8 469.9h0M174.6 464h0M177.6 461.8h0M147.8 489.6h0M163.8 493h0M172.9 521.5h0M180.1 482.4h0M164.5 498.5h0M170.5 473.7h0M190.1 469.2h0M154.3 495.8h0M167.2 469.8h0M156.8 500.6h0M171.4 487.4h0M193.9 463.8h0M190.6 486.1h0M167.3 490.8h0M167.3 496.4h0M192.7 522.3h0M171.4 499.9h0M174.1 489.8h0M151.3 524.2h0M177.7 481.6h0M176.6 493.6h0M179.4 467.9h0M187 458h0M157.5 515.1h0M150.7 461.2h0M177.8 467.5h0M174.4 457.9h0M190.8 512.7h0M183.3 506.6h0" stroke="#f07070" stroke-width="0.88" stroke-linecap="round" stroke-opacity="0.8"/>
<path d="M183.6 496.6h0M157.5 464.5h0M163.8 484.6h0M177.7 490.7h0M157.4 458.2h0M151.7 521.4h0M165.2 501.2h0M177.9 458.2h0M190.5 516.5h0M150.9 484.2h0M164.8 522.1h0M171.5 484.4h0M157.5 483.6h0M171.1 477.8h0M152 478h0M164.5 458.1h0M152 516.6h0M164.2 470.4h0M157.7 522.4h0M158.6 471.1h0M190.2 503.1h0M154.1 508.4h0M160 500.6h0M168.7 505.1h0M177 516.3h0M160.7 515.5h0M188.4 481.7h0M190 457.8h0" stroke="#3c46c8" stroke-width="3.10" stroke-linecap="round"/>
<path d="M183.1 496.1h0M157 464h0M163.3 484.1h0M177.2 490.2h0M156.9 457.7h0M151.2 520.9h0M164.7 500.7h0M177.4 457.8h0M190 516h0M150.4 483.7h0M164.3 521.6h0M171 483.9h0M157 483.2h0M170.6 477.3h0M151.5 477.5h0M164 457.6h0M151.5 516.1h0M163.7 469.9h0M157.2 521.9h0M158.1 470.6h0M189.7 502.6h0M153.6 507.9h0M159.5 500.1h0M168.2 504.6h0M176.5 515.8h0M160.3 515h0M187.9 481.2h0M189.5 457.3h0" stroke="#a0a6ff" stroke-width="1.24" stroke-linecap="round" stroke-opacity="0.8"/>
<path d="M184.4 522.5h0M170.7 522.6h0M190 497.2h0M171 490.5h0M191 464.2h0M151.3 464.9h0M184 516h0M171.5 458.6h0M164.3 490.6h0M177.4 496.3h0M177.1 521.5h0M177.5 510.5h0M158.6 490.9h0M170.9 515.8h0M169 510.2h0M176.7 475.7h0M177.1 503h0M157.9 476.9h0M177.5 483.4h0M190.4 483.7h0M183.3 482.8h0M165.8 514.4h0M191.1 510.3h0M156.1 513.2h0M165.1 463.8h0M187.8 468.5h0M151.8 470.5h0M164 478h0M182.6 467.9h0M178.1 465.1h0" stroke="#3c46c8" stroke-width="3.10" stroke-linecap="round"/>
<path d="M183.9 522h0M170.2 522.1h0M189.5 496.7h0M170.5 490h0M190.5 463.7h0M150.8 464.4h0M183.5 515.5h0M171 458.1h0M163.8 490.2h0M176.9 495.8h0M176.6 521h0M177 510h0M158.1 490.4h0M170.4 515.3h0M168.5 509.7h0M176.2 475.2h0M176.6 502.5h0M157.4 476.4h0M177 482.9h0M189.9 483.2h0M182.9 482.3h0M165.3 513.9h0M190.6 509.8h0M155.6 512.7h0M164.6 463.3h0M187.3 468h0M151.3 470h0M163.5 477.5h0M182.1 467.4h0M177.6 464.6h0" stroke="#a0a6ff" stroke-width="1.24" stroke-linecap="round" stroke-opacity="0.8"/>
<path d="M170.2 503.9h0M189.8 525.8h0M171.2 461.3h0M168.4 513.1h0M151.5 454.3h0M154 511.3h0M171.1 468.1h0M167.5 458.5h0M177.4 518.8h0M185.4 467h0M173.8 515.9h0M183.5 454.9h0M180.3 496.6h0M187.2 502.9h0M164.5 454.9h0M150.9 481.5h0M189.4 466.4h0M194.3 510.3h0M148.8 478h0M187.6 522.4h0M177.1 524.7h0M170.1 507.6h0M176.3 472.8h0M147.7 484.2h0M190 500.2h0M154.1 514.9h0M160.9 458.4h0M175.1 484.4h0M174.3 496.6h0M157.7 480.3h0M184.4 525.7h0M153.3 503.3h0M189.4 482.7h0M150.9 499.8h0M157.4 455h0M154.3 457.6h0M184.4 493.6h0M148.5 521.4h0M168.1 522.7h0M148.6 470.5h0M193.6 489.9h0M176.6 478.6h0M176.7 506.9h0M154.7 477.9h0M147.8 503.3h0M177.6 487.3h0M170.7 519h0M167.9 477.5h0M162.8 499.7h0" stroke="#c01818" stroke-width="2.20" stroke-linecap="round"/>
<path d="M169.8 503.6h0M189.5 525.5h0M170.9 460.9h0M168 512.7h0M151.2 454h0M153.6 510.9h0M170.8 467.7h0M167.2 458.1h0M177.1 518.4h0M185 466.6h0M173.4 515.6h0M183.2 454.5h0M180 496.3h0M186.8 502.6h0M164.1 454.5h0M150.5 481.1h0M189.1 466h0M194 509.9h0M148.5 477.7h0M187.2 522.1h0M176.7 524.3h0M169.7 507.2h0M175.9 472.5h0M147.3 483.9h0M189.6 499.8h0M153.7 514.5h0M160.6 458.1h0M174.7 484.1h0M174 496.3h0M157.4 479.9h0M184.1 525.3h0M152.9 503h0M189 482.3h0M150.6 499.5h0M157 454.6h0M154 457.2h0M184 493.2h0M148.1 521h0M167.7 522.3h0M148.2 470.2h0M193.3 489.6h0M176.2 478.2h0M176.4 506.6h0M154.3 477.5h0M147.4 502.9h0M177.2 487h0M170.3 518.7h0M167.6 477.1h0M162.4 499.3h0" stroke="#f07070" stroke-width="0.88" stroke-linecap="round" stroke-opacity="0.8"/>
<path d="M190 454.6h0M157.7 525.6h0M183.6 500.4h0M170.7 525.8h0M186.4 497.5h0M148 497.2h0M161.6 522.3h0M164.4 467.2h0M191 480.6h0M188.1 509.8h0M180.4 509.8h0M184.8 518.9h0M171.4 481.5h0M171.5 455.4h0M150.8 494h0M180.4 483.1h0M183.8 512.4h0M163.5 481.2h0M193.4 503.1h0M191 480.4h0M168.2 464.8h0M180.4 466.5h0M193.2 497.2h0M161.1 478h0M177.6 513.5h0M151.4 474.9h0M152.5 505.8h0M186.2 483.5h0M165 461.3h0M163.7 487.9h0M151.7 519.3h0M181.3 490.8h0M148.3 457.5h0M193.2 457.8h0M169.9 513h0M161.5 464.4h0M150.8 487.2h0M173.9 476.8h0M187.3 516.5h0M189.8 519.5h0M154.7 521.8h0M193.6 483.7h0M180.6 521.9h0M158.7 474.5h0M154.5 464.8h0M151.5 468.3h0M155.6 490.2h0M164.8 525.3h0M157.9 487.1h0M181.1 516.6h0M155.7 470.8h0M157 461.3h0M167.3 484h0M174.6 503.4h0M167.9 502.3h0M161.2 496.4h0M158 468.4h0M192.7 474.9h0" stroke="#c01818" stroke-width="2.20" stroke-linecap="round"/>
<path d="M189.6 454.3h0M157.3 525.2h0M183.3 500h0M170.3 525.4h0M186 497.1h0M147.7 496.9h0M161.3 521.9h0M164 466.8h0M190.6 480.2h0M187.7 509.5h0M180 509.5h0M184.4 518.5h0M171.1 481.1h0M171.1 455.1h0M150.4 493.7h0M180.1 482.8h0M183.5 512.1h0M163.2 480.8h0M193 502.8h0M190.6 480h0M167.9 464.5h0M180 466.1h0M192.8 496.8h0M160.8 477.7h0M177.3 513.2h0M151.1 474.5h0M152.2 505.5h0M185.8 483.1h0M164.7 460.9h0M163.3 487.6h0M151.4 519h0M181 490.5h0M148 457.2h0M192.8 457.5h0M169.6 512.7h0M161.2 464h0M150.4 486.8h0M173.6 476.4h0M187 516.2h0M189.5 519.2h0M154.4 521.4h0M193.2 483.3h0M180.2 521.5h0M158.3 474.2h0M154.1 464.4h0M151.1 467.9h0M155.2 489.8h0M164.4 524.9h0M157.6 486.8h0M180.7 516.2h0M155.4 470.4h0M156.6 461h0M167 483.7h0M174.3 503h0M167.5 501.9h0M160.9 496h0M157.7 468h0M192.3 474.5h0" stroke="#f07070" stroke-width="0.88" stroke-linecap="round" stroke-opacity="0.8"/>
<path d="M171.7 502.8h0M171.4 470.7h0M191.6 477.5h0M151 503.3h0M184.5 490.2h0M151.5 457.5h0M178.2 470.7h0M164.5 496.5h0M184.2 503.7h0M178.7 480.5h0M151.2 497.2h0M170.7 464.7h0M155.6 503.4h0M151.3 489.9h0M157.5 496.4h0M189.8 522.6h0M183.5 458.1h0M170.8 497.2h0M191.3 472.4h0M190.4 489.9h0M183.9 509.6h0" stroke="#3c46c8" stroke-width="3.10" stroke-linecap="round"/>
<path d="M171.2 502.3h0M170.9 470.2h0M191.1 477h0M150.5 502.8h0M184 489.7h0M151 457h0M177.7 470.2h0M164 496h0M183.7 503.2h0M178.2 480h0M150.8 496.7h0M170.3 464.2h0M155.1 502.9h0M150.8 489.4h0M157 495.9h0M189.3 522.1h0M183 457.6h0M170.3 496.7h0M190.8 471.9h0M189.9 489.4h0M183.4 509.1h0" stroke="#a0a6ff" stroke-width="1.24" stroke-linecap="round" stroke-opacity="0.8"/>
<path d="M550.6,462.6 L605.6,462.6 L605.6,517.2 L550.6,517.2 Z" fill="none" stroke="#c8c8c8" stroke-width="0.6"/>
<path d="M557.5 462.5l-2.5 4.3l-4.3 2.5M550.6 476.2l6.9 0M550.6 476.2l-3.4 0M550.6 476.2l0 6.9M550.6 476.2l0-6.9M557.5 489.9l-2.5 4.3l-4.3 2.5M550.6 483l4.3 2.5l2.5 4.3M550.6 503.6l6.9 0M550.6 503.6l-3.4 0M550.6 503.6l0 6.9M550.6 503.6l0-6.9M550.6 510.4l4.3 2.5l2.5 4.3M564.3 462.5l6.9 0M564.3 462.5l-6.9 0M564.3 462.5l0 6.9M564.3 462.5l0-3.4M571.1 476.2l-2.5 4.3l-4.3 2.5M564.3 483.1l-4.3-2.5l-2.5-4.3M557.4 476.2l2.5-4.3l4.3-2.5M564.3 469.3l4.3 2.5l2.5 4.3M564.3 489.9l6.9 0M564.3 489.9l-6.9 0M564.3 489.9l0 6.9M564.3 489.9l0-6.9M571.1 503.6l-2.5 4.3l-4.3 2.5M564.3 510.4l-4.3-2.5l-2.5-4.3M557.4 503.6l2.5-4.3l4.3-2.5M564.3 496.7l4.3 2.5l2.5 4.3M564.3 517.3l6.9 0M564.3 517.3l-6.9 0M564.3 517.3l0 3.4M564.3 517.3l0-6.9M584.9 462.5l-2.5 4.3l-4.3 2.5M578 469.4l-4.3-2.5l-2.5-4.3M578 476.2l6.9 0M578 476.2l-6.9 0M578 476.2l0 6.9M578 476.2l0-6.9M584.9 489.9l-2.5 4.3l-4.3 2.5M578 496.8l-4.3-2.5l-2.5-4.3M571.1 489.9l2.5-4.3l4.3-2.5M578 483l4.3 2.5l2.5 4.3M578 503.6l6.9 0M578 503.6l-6.9 0M578 503.6l0 6.9M578 503.6l0-6.9M571.1 517.3l2.5-4.3l4.3-2.5M578 510.4l4.3 2.5l2.5 4.3M591.7 462.5l6.9 0M591.7 462.5l-6.9 0M591.7 462.5l0 6.9M591.7 462.5l0-3.4M598.6 476.2l-2.5 4.3l-4.3 2.5M591.7 483.1l-4.3-2.5l-2.5-4.3M584.9 476.2l2.5-4.3l4.3-2.5M591.7 469.3l4.3 2.5l2.5 4.3M591.7 489.9l6.9 0M591.7 489.9l-6.9 0M591.7 489.9l0 6.9M591.7 489.9l0-6.9M598.6 503.6l-2.5 4.3l-4.3 2.5M591.7 510.4l-4.3-2.5l-2.5-4.3M584.9 503.6l2.5-4.3l4.3-2.5M591.7 496.7l4.3 2.5l2.5 4.3M591.7 517.3l6.9 0M591.7 517.3l-6.9 0M591.7 517.3l0 3.4M591.7 517.3l0-6.9M605.4 469.4l-4.3-2.5l-2.5-4.3M605.4 476.2l3.4 0M605.4 476.2l-6.9 0M605.4 476.2l0 6.9M605.4 476.2l0-6.9M605.4 496.8l-4.3-2.5l-2.5-4.3M598.5 489.9l2.5-4.3l4.3-2.5M605.4 503.6l3.4 0M605.4 503.6l-6.9 0M605.4 503.6l0 6.9M605.4 503.6l0-6.9M598.5 517.3l2.5-4.3l4.3-2.5" stroke="#8a4a9a" stroke-width="0.6" fill="none" stroke-opacity="1"/>
<path d="M554.9 466.8h0M554 476.2h0M547.2 476.2h0M550.6 479.6h0M550.6 472.8h0M554.9 494.2h0M554.9 485.6h0M554 503.6h0M547.2 503.6h0M550.6 507h0M550.6 500.2h0M554.9 513h0M567.7 462.5h0M560.9 462.5h0M564.3 465.9h0M564.3 459.1h0M568.6 480.5h0M560 480.5h0M560 471.9h0M568.6 471.9h0M567.7 489.9h0M560.9 489.9h0M564.3 493.3h0M564.3 486.5h0M568.6 507.9h0M560 507.9h0M560 499.3h0M568.6 499.3h0M567.7 517.3h0M560.9 517.3h0M564.3 520.7h0M564.3 513.9h0M582.3 466.8h0M573.7 466.8h0M581.4 476.2h0M574.6 476.2h0M578 479.6h0M578 472.8h0M582.3 494.2h0M573.7 494.2h0M573.7 485.6h0M582.3 485.6h0M581.4 503.6h0M574.6 503.6h0M578 507h0M578 500.2h0M573.7 513h0M582.3 513h0M595.1 462.5h0M588.3 462.5h0M591.7 465.9h0M591.7 459.1h0M596 480.5h0M587.4 480.5h0M587.4 471.9h0M596 471.9h0M595.1 489.9h0M588.3 489.9h0M591.7 493.3h0M591.7 486.5h0M596 507.9h0M587.4 507.9h0M587.4 499.3h0M596 499.3h0M595.1 517.3h0M588.3 517.3h0M591.7 520.7h0M591.7 513.9h0M601.1 466.8h0M608.8 476.2h0M602 476.2h0M605.4 479.6h0M605.4 472.8h0M601.1 494.2h0M601.1 485.6h0M608.8 503.6h0M602 503.6h0M605.4 507h0M605.4 500.2h0M601.1 513h0" stroke="#c01818" stroke-width="1.90" stroke-linecap="round"/>
<path d="M554.6 466.5h0M553.7 475.9h0M546.9 475.9h0M550.3 479.3h0M550.3 472.5h0M554.6 493.9h0M554.6 485.3h0M553.7 503.3h0M546.9 503.3h0M550.3 506.7h0M550.3 499.9h0M554.6 512.7h0M567.4 462.2h0M560.6 462.2h0M564 465.6h0M564 458.8h0M568.3 480.2h0M559.7 480.2h0M559.7 471.6h0M568.3 471.6h0M567.4 489.6h0M560.6 489.6h0M564 493h0M564 486.2h0M568.3 507.6h0M559.7 507.6h0M559.7 499h0M568.3 499h0M567.4 517h0M560.6 517h0M564 520.4h0M564 513.6h0M582 466.5h0M573.4 466.5h0M581.1 475.9h0M574.3 475.9h0M577.7 479.3h0M577.7 472.5h0M582 493.9h0M573.4 493.9h0M573.4 485.3h0M582 485.3h0M581.1 503.3h0M574.3 503.3h0M577.7 506.7h0M577.7 499.9h0M573.4 512.7h0M582 512.7h0M594.8 462.2h0M588 462.2h0M591.4 465.6h0M591.4 458.8h0M595.7 480.2h0M587.1 480.2h0M587.1 471.6h0M595.7 471.6h0M594.8 489.6h0M588 489.6h0M591.4 493h0M591.4 486.2h0M595.7 507.6h0M587.1 507.6h0M587.1 499h0M595.7 499h0M594.8 517h0M588 517h0M591.4 520.4h0M591.4 513.6h0M600.8 466.5h0M608.5 475.9h0M601.7 475.9h0M605.1 479.3h0M605.1 472.5h0M600.8 493.9h0M600.8 485.3h0M608.5 503.3h0M601.7 503.3h0M605.1 506.7h0M605.1 499.9h0M600.8 512.7h0" stroke="#f07070" stroke-width="0.76" stroke-linecap="round" stroke-opacity="0.8"/>
<path d="M557.5 462.5h0M550.6 469.4h0M550.6 476.2h0M557.5 489.9h0M550.6 496.8h0M550.6 483h0M550.6 503.6h0M557.5 517.3h0M550.6 510.4h0M564.3 462.5h0M571.1 476.2h0M564.3 483.1h0M557.4 476.2h0M564.3 469.3h0M564.3 489.9h0M571.1 503.6h0M564.3 510.4h0M557.4 503.6h0M564.3 496.7h0M564.3 517.3h0M584.9 462.5h0M578 469.4h0M571.1 462.5h0M578 476.2h0M584.9 489.9h0M578 496.8h0M571.1 489.9h0M578 483h0M578 503.6h0M584.9 517.3h0M571.1 517.3h0M578 510.4h0M591.7 462.5h0M598.6 476.2h0M591.7 483.1h0M584.9 476.2h0M591.7 469.3h0M591.7 489.9h0M598.6 503.6h0M591.7 510.4h0M584.9 503.6h0M591.7 496.7h0M591.7 517.3h0M605.4 469.4h0M598.5 462.5h0M605.4 476.2h0M605.4 496.8h0M598.5 489.9h0M605.4 483h0M605.4 503.6h0M598.5 517.3h0M605.4 510.4h0" stroke="#3c46c8" stroke-width="2.90" stroke-linecap="round"/>
<path d="M557 462h0M550.1 468.9h0M550.1 475.7h0M557 489.4h0M550.1 496.3h0M550.1 482.6h0M550.1 503.1h0M557 516.8h0M550.1 510h0M563.8 462h0M570.7 475.7h0M563.8 482.6h0M557 475.7h0M563.8 468.9h0M563.8 489.4h0M570.7 503.1h0M563.8 510h0M557 503.1h0M563.8 496.3h0M563.8 516.8h0M584.4 462h0M577.5 468.9h0M570.7 462h0M577.5 475.7h0M584.4 489.4h0M577.5 496.3h0M570.7 489.4h0M577.5 482.6h0M577.5 503.1h0M584.4 516.8h0M570.7 516.8h0M577.5 510h0M591.2 462h0M598.1 475.7h0M591.2 482.6h0M584.4 475.7h0M591.2 468.9h0M591.2 489.4h0M598.1 503.1h0M591.2 510h0M584.4 503.1h0M591.2 496.3h0M591.2 516.8h0M604.9 468.9h0M598.1 462h0M604.9 475.7h0M604.9 496.3h0M598.1 489.4h0M604.9 482.6h0M604.9 503.1h0M598.1 516.8h0M604.9 510h0" stroke="#a0a6ff" stroke-width="1.16" stroke-linecap="round" stroke-opacity="0.8"/>
<path d="M620.4,462.0 L675.0,462.0 L675.0,516.0 L620.4,516.0 Z" fill="none" stroke="#c8c8c8" stroke-width="0.6"/>
<path d="M626.4 461.6l-2.5 4.3l-4.3 2.5M619.5 475.3l6.9 0M619.5 475.3l-3.4 0M619.5 475.3l0 6.9M619.5 475.3l0-6.9M626.4 489l-2.5 4.3l-4.3 2.5M619.5 482.1l4.3 2.5l2.5 4.3M619.5 502.7l6.9 0M619.5 502.7l-3.4 0M619.5 502.7l0 6.9M619.5 502.7l0-6.9M619.5 509.5l4.3 2.5l2.5 4.3M633.2 461.6l6.9 0M633.2 461.6l-6.9 0M633.2 461.6l0 6.9M633.2 461.6l0-3.4M640 475.3l-2.5 4.3l-4.3 2.5M633.2 482.2l-4.3-2.5l-2.5-4.3M626.3 475.3l2.5-4.3l4.3-2.5M633.2 468.4l4.3 2.5l2.5 4.3M633.2 489l6.9 0M633.2 489l-6.9 0M633.2 489l0 6.9M633.2 489l0-6.9M640 502.7l-2.5 4.3l-4.3 2.5M633.2 509.6l-4.3-2.5l-2.5-4.3M626.3 502.7l2.5-4.3l4.3-2.5M633.2 495.8l4.3 2.5l2.5 4.3M633.2 516.4l6.9 0M633.2 516.4l-6.9 0M633.2 516.4l0 3.4M633.2 516.4l0-6.9M653.8 461.6l-2.5 4.3l-4.3 2.5M646.9 468.5l-4.3-2.5l-2.5-4.3M646.9 475.3l6.9 0M646.9 475.3l-6.9 0M646.9 475.3l0 6.9M646.9 475.3l0-6.9M653.8 489l-2.5 4.3l-4.3 2.5M646.9 495.9l-4.3-2.5l-2.5-4.3M640 489l2.5-4.3l4.3-2.5M646.9 482.1l4.3 2.5l2.5 4.3M646.9 502.7l6.9 0M646.9 502.7l-6.9 0M646.9 502.7l0 6.9M646.9 502.7l0-6.9M640 516.4l2.5-4.3l4.3-2.5M646.9 509.5l4.3 2.5l2.5 4.3M660.6 461.6l6.9 0M660.6 461.6l-6.9 0M660.6 461.6l0 6.9M660.6 461.6l0-3.4M667.5 475.3l-2.5 4.3l-4.3 2.5M660.6 482.2l-4.3-2.5l-2.5-4.3M653.8 475.3l2.5-4.3l4.3-2.5M660.6 468.4l4.3 2.5l2.5 4.3M660.6 489l6.9 0M660.6 489l-6.9 0M660.6 489l0 6.9M660.6 489l0-6.9M667.5 502.7l-2.5 4.3l-4.3 2.5M660.6 509.6l-4.3-2.5l-2.5-4.3M653.8 502.7l2.5-4.3l4.3-2.5M660.6 495.8l4.3 2.5l2.5 4.3M660.6 516.4l6.9 0M660.6 516.4l-6.9 0M660.6 516.4l0 3.4M660.6 516.4l0-6.9M674.3 468.5l-4.3-2.5l-2.5-4.3M674.3 475.3l3.4 0M674.3 475.3l-6.9 0M674.3 475.3l0 6.9M674.3 475.3l0-6.9M674.3 495.9l-4.3-2.5l-2.5-4.3M667.4 489l2.5-4.3l4.3-2.5M674.3 502.7l3.4 0M674.3 502.7l-6.9 0M674.3 502.7l0 6.9M674.3 502.7l0-6.9M667.4 516.4l2.5-4.3l4.3-2.5" stroke="#8a4a9a" stroke-width="0.6" fill="none" stroke-opacity="1"/>
<path d="M623.8 465.9h0M622.9 475.3h0M616.1 475.3h0M619.5 478.7h0M619.5 471.9h0M623.8 493.3h0M623.8 484.7h0M622.9 502.7h0M616.1 502.7h0M619.5 506.1h0M619.5 499.3h0M623.8 512.1h0M636.6 461.6h0M629.8 461.6h0M633.2 465h0M633.2 458.2h0M637.5 479.6h0M628.9 479.6h0M628.9 471h0M637.5 471h0M636.6 489h0M629.8 489h0M633.2 492.4h0M633.2 485.6h0M637.5 507h0M628.9 507h0M628.9 498.4h0M637.5 498.4h0M636.6 516.4h0M629.8 516.4h0M633.2 519.8h0M633.2 513h0M651.2 465.9h0M642.6 465.9h0M650.3 475.3h0M643.5 475.3h0M646.9 478.7h0M646.9 471.9h0M651.2 493.3h0M642.6 493.3h0M642.6 484.7h0M651.2 484.7h0M650.3 502.7h0M643.5 502.7h0M646.9 506.1h0M646.9 499.3h0M642.6 512.1h0M651.2 512.1h0M664 461.6h0M657.2 461.6h0M660.6 465h0M660.6 458.2h0M664.9 479.6h0M656.3 479.6h0M656.3 471h0M664.9 471h0M664 489h0M657.2 489h0M660.6 492.4h0M660.6 485.6h0M664.9 507h0M656.3 507h0M656.3 498.4h0M664.9 498.4h0M664 516.4h0M657.2 516.4h0M660.6 519.8h0M660.6 513h0M670 465.9h0M677.7 475.3h0M670.9 475.3h0M674.3 478.7h0M674.3 471.9h0M670 493.3h0M670 484.7h0M677.7 502.7h0M670.9 502.7h0M674.3 506.1h0M674.3 499.3h0M670 512.1h0" stroke="#c01818" stroke-width="1.90" stroke-linecap="round"/>
<path d="M623.5 465.6h0M622.6 475h0M615.8 475h0M619.2 478.4h0M619.2 471.6h0M623.5 493h0M623.5 484.4h0M622.6 502.4h0M615.8 502.4h0M619.2 505.8h0M619.2 499h0M623.5 511.8h0M636.3 461.3h0M629.5 461.3h0M632.9 464.7h0M632.9 457.9h0M637.2 479.3h0M628.6 479.3h0M628.6 470.7h0M637.2 470.7h0M636.3 488.7h0M629.5 488.7h0M632.9 492.1h0M632.9 485.3h0M637.2 506.7h0M628.6 506.7h0M628.6 498.1h0M637.2 498.1h0M636.3 516.1h0M629.5 516.1h0M632.9 519.5h0M632.9 512.7h0M650.9 465.6h0M642.3 465.6h0M650 475h0M643.2 475h0M646.6 478.4h0M646.6 471.6h0M650.9 493h0M642.3 493h0M642.3 484.4h0M650.9 484.4h0M650 502.4h0M643.2 502.4h0M646.6 505.8h0M646.6 499h0M642.3 511.8h0M650.9 511.8h0M663.7 461.3h0M656.9 461.3h0M660.3 464.7h0M660.3 457.9h0M664.6 479.3h0M656 479.3h0M656 470.7h0M664.6 470.7h0M663.7 488.7h0M656.9 488.7h0M660.3 492.1h0M660.3 485.3h0M664.6 506.7h0M656 506.7h0M656 498.1h0M664.6 498.1h0M663.7 516.1h0M656.9 516.1h0M660.3 519.5h0M660.3 512.7h0M669.7 465.6h0M677.4 475h0M670.6 475h0M674 478.4h0M674 471.6h0M669.7 493h0M669.7 484.4h0M677.4 502.4h0M670.6 502.4h0M674 505.8h0M674 499h0M669.7 511.8h0" stroke="#f07070" stroke-width="0.76" stroke-linecap="round" stroke-opacity="0.8"/>
<path d="M626.4 461.6h0M619.5 468.5h0M619.5 475.3h0M626.4 489h0M619.5 495.9h0M619.5 482.1h0M619.5 502.7h0M626.4 516.4h0M619.5 509.5h0M633.2 461.6h0M640 475.3h0M633.2 482.2h0M626.3 475.3h0M633.2 468.4h0M633.2 489h0M640 502.7h0M633.2 509.6h0M626.3 502.7h0M633.2 495.8h0M633.2 516.4h0M653.8 461.6h0M646.9 468.5h0M640 461.6h0M646.9 475.3h0M653.8 489h0M646.9 495.9h0M640 489h0M646.9 482.1h0M646.9 502.7h0M653.8 516.4h0M640 516.4h0M646.9 509.5h0M660.6 461.6h0M667.5 475.3h0M660.6 482.2h0M653.8 475.3h0M660.6 468.4h0M660.6 489h0M667.5 502.7h0M660.6 509.6h0M653.8 502.7h0M660.6 495.8h0M660.6 516.4h0M674.3 468.5h0M667.4 461.6h0M674.3 475.3h0M674.3 495.9h0M667.4 489h0M674.3 482.1h0M674.3 502.7h0M667.4 516.4h0M674.3 509.5h0" stroke="#3c46c8" stroke-width="2.90" stroke-linecap="round"/>
<path d="M625.9 461.1h0M619 468h0M619 474.8h0M625.9 488.5h0M619 495.4h0M619 481.7h0M619 502.2h0M625.9 515.9h0M619 509.1h0M632.7 461.1h0M639.6 474.8h0M632.7 481.7h0M625.9 474.8h0M632.7 468h0M632.7 488.5h0M639.6 502.2h0M632.7 509.1h0M625.9 502.2h0M632.7 495.4h0M632.7 515.9h0M653.3 461.1h0M646.4 468h0M639.6 461.1h0M646.4 474.8h0M653.3 488.5h0M646.4 495.4h0M639.6 488.5h0M646.4 481.7h0M646.4 502.2h0M653.3 515.9h0M639.6 515.9h0M646.4 509.1h0M660.1 461.1h0M667 474.8h0M660.1 481.7h0M653.3 474.8h0M660.1 468h0M660.1 488.5h0M667 502.2h0M660.1 509.1h0M653.3 502.2h0M660.1 495.4h0M660.1 515.9h0M673.8 468h0M667 461.1h0M673.8 474.8h0M673.8 495.4h0M667 488.5h0M673.8 481.7h0M673.8 502.2h0M667 515.9h0M673.8 509.1h0" stroke="#a0a6ff" stroke-width="1.16" stroke-linecap="round" stroke-opacity="0.8"/>
<defs><symbol id="gG300" overflow="visible"><circle r="3.0" fill="url(#gG)"/></symbol><symbol id="gB230" overflow="visible"><circle r="2.3" fill="url(#gB)"/></symbol><symbol id="gG340" overflow="visible"><circle r="3.4" fill="url(#gG)"/></symbol><symbol id="gB240" overflow="visible"><circle r="2.4" fill="url(#gB)"/></symbol><symbol id="gG290" overflow="visible"><circle r="2.9" fill="url(#gG)"/></symbol><symbol id="gB220" overflow="visible"><circle r="2.2" fill="url(#gB)"/></symbol><symbol id="gG360" overflow="visible"><circle r="3.6" fill="url(#gG)"/></symbol><symbol id="gB260" overflow="visible"><circle r="2.6" fill="url(#gB)"/></symbol><symbol id="gB270" overflow="visible"><circle r="2.7" fill="url(#gB)"/></symbol><symbol id="gG380" overflow="visible"><circle r="3.8" fill="url(#gG)"/></symbol><symbol id="gT2270" overflow="visible"><circle r="2.7" fill="url(#gT2)"/></symbol><symbol id="gT2200" overflow="visible"><circle r="2.0" fill="url(#gT2)"/></symbol><symbol id="gL280" overflow="visible"><circle r="2.8" fill="url(#gL)"/></symbol><symbol id="gN215" overflow="visible"><circle r="2.15" fill="url(#gN)"/></symbol><symbol id="gL215" overflow="visible"><circle r="2.15" fill="url(#gL)"/></symbol><symbol id="gT200" overflow="visible"><circle r="2.0" fill="url(#gT)"/></symbol><symbol id="gL350" overflow="visible"><circle r="3.5" fill="url(#gL)"/></symbol><symbol id="gN200" overflow="visible"><circle r="2.0" fill="url(#gN)"/></symbol><symbol id="gT320" overflow="visible"><circle r="3.2" fill="url(#gT)"/></symbol><symbol id="gL230" overflow="visible"><circle r="2.3" fill="url(#gL)"/></symbol><symbol id="gT210" overflow="visible"><circle r="2.1" fill="url(#gT)"/></symbol><symbol id="gL300" overflow="visible"><circle r="3.0" fill="url(#gL)"/></symbol><symbol id="gT270" overflow="visible"><circle r="2.7" fill="url(#gT)"/></symbol></defs>
</svg></body></html>
